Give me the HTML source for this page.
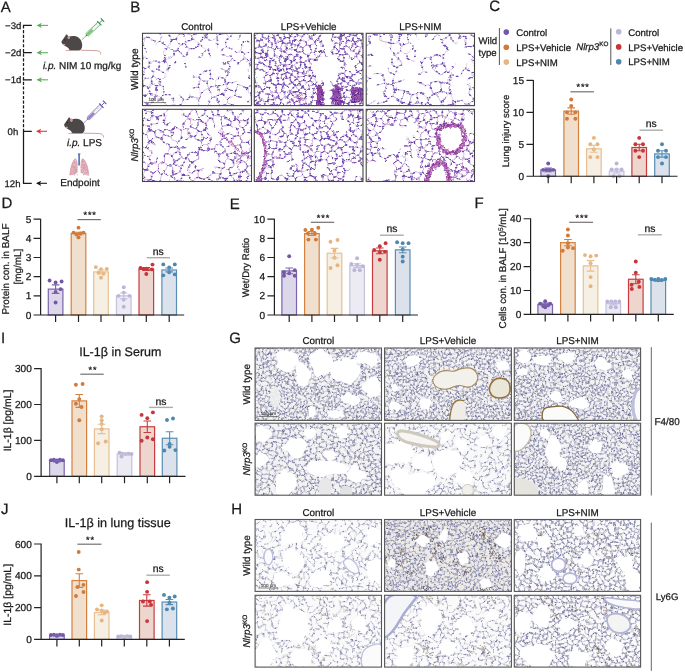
<!DOCTYPE html><html><head><meta charset="utf-8"><style>html,body{margin:0;padding:0;background:#fff;width:685px;height:672px;overflow:hidden}svg{display:block}text{stroke:#1a1a1a;stroke-width:0.25px}svg{text-rendering:geometricPrecision}</style></head><body><svg width="685" height="672" viewBox="0 0 685 672" font-family="'Liberation Sans', Arial, Helvetica, sans-serif">
<rect width="685" height="672" fill="#fff"/>
<defs><filter id="wob" x="-5%" y="-5%" width="110%" height="110%"><feTurbulence type="fractalNoise" baseFrequency="0.22" numOctaves="2" seed="3"/><feDisplacementMap in="SourceGraphic" scale="3.2" xChannelSelector="R" yChannelSelector="G"/><feGaussianBlur stdDeviation="0.3"/></filter>
<clipPath id="cb0"><rect x="142.5" y="33.3" width="109.00" height="72.30"/></clipPath>
<clipPath id="cb1"><rect x="254.3" y="33.3" width="108.70" height="72.30"/></clipPath>
<clipPath id="cb2"><rect x="366.2" y="33.3" width="108.30" height="72.30"/></clipPath>
<clipPath id="cb3"><rect x="142.5" y="109.3" width="109.00" height="72.20"/></clipPath>
<clipPath id="cb4"><rect x="254.3" y="109.3" width="108.70" height="72.20"/></clipPath>
<clipPath id="cb5"><rect x="366.2" y="109.3" width="108.30" height="72.20"/></clipPath>
<pattern id="nf" width="60" height="60" patternUnits="userSpaceOnUse"><path d="M9 67.7L9.5 64.8M4.9 67.2L5.8 63.4M9.5 64.8L7.8 62.4M5.8 63.4L7.8 62.4M-2.1 57.1L0.6 55.5M-2.1 57.1L-2.1 58.4M0.6 55.5L3.1 58.7M3.1 58.7L3.1 58.8M3.1 58.8L-0.7 60.1M3.1 58.8L3.1 62.5M3.1 62.5L1.3 63.7M-0.7 60.1L-0.9 61.9M1.3 63.7L-0.9 61.9M-4.8 60.1L-3.7 63.1M-4.8 60.1L-2.1 58.4M-0.9 61.9L-3.7 63.1M1.1 65.7L4.5 67.4M1.3 63.7L1.1 65.7M-4.4 64.7L-3.7 63.1M-4.4 64.7L0.1 66.4M3.1 62.5L5.8 63.4M2.4 53L4.3 49.8M2.4 53L6 55.1M6 55.1L7.4 53.1M7.4 53.1L5.7 49.6M5.7 49.6L4.3 49.8M-0.5 49L1.1 47.7M-0.5 49L1.1 53.2M1.2 53.3L1.1 53.2M2.3 47.8L1.1 47.7M2.3 47.8L4.3 49.8M-2.1 57.1L-3.7 55.9M1.1 53.2L-2.9 52.8M-3.7 55.9L-2.9 52.8M-0.5 49L-2.2 48.9M-0.2 44.6L1.1 47.7M-0.2 44.6L-3.8 45.2M-2.2 48.9L-3.8 45.2M4.8 58.1L7.9 61.9M4.8 58.1L6.2 56.2M6.2 56.2L9.8 57.3M9.8 57.3L9 61M9 61L7.9 61.9M3.1 58.7L4.8 58.1M7.8 62.4L7.9 61.9M10.7 56.9L11.6 53.4M10.7 56.9L9.8 57.3M10 52.5L11.6 53.4M10 52.5L7.4 53.1M46.8 23.3L48.9 22.9M46.8 23.3L45.2 20.1M49.6 18.9L49.9 19.9M49.6 18.9L46 18.6M46 18.6L45.2 20.1M49.9 19.9L48.9 22.9M-0.2 44.6L0.6 43.4M2.3 47.8L4.1 45M4.1 45L3.7 44.1M11.5 47.2L14.2 50.7M11.5 47.2L16.1 45.5M14.2 50.7L17.2 47.2M17.2 47.2L16.9 45.8M16.1 45.5L16.9 45.8M64.9 67.2L65.8 63.4M65.8 63.4L67.8 62.4M-2.2 48.9L-4.1 50.7M-4.1 51.2L-4.1 50.7M-4.1 50.7L-7.1 48.1M-7.1 48.1L-5.7 45.1M-4.6 44.7L-5.7 45.1M10.7 56.9L13.4 58.5M9 61L13 61.2M13 61.2L13.4 58.5M18.9 48.7L18.5 52.3M18.9 48.7L17.2 47.2M14.2 50.9L14.2 50.7M14.2 50.9L18.2 52.8M18.2 52.8L18.5 52.3M-7.4 59.1L-4.8 60.1M-4.4 64.7L-5.7 65.5M-5.7 65.5L-6.1 65.4M13.6 41.8L12.3 41.8M13.6 41.8L16.1 45.5M11.5 47.2L11 47M10 52.5L9.1 47.4M12.3 53.1L11.6 53.4M12.3 53.1L14.2 50.9M11 47L9.1 47.4M5.7 49.6L8.3 47.2M9.1 47.4L8.3 47.2M4.1 45L7.8 46.3M8.3 47.2L7.8 46.3M-2.5 14.1L-6.7 15.5M-2.5 14.1L-5.3 9.4M-5.3 9.4L-7.9 11M-3.7 55.9L-6.1 56.1M-4.1 51.2L-6.3 52.5M-6.3 52.5L-6.1 56.1M-6.9 56.7L-6.1 56.1M50.2 16.6L53.1 15.4M50.2 16.6L46.9 13.3M53.1 15.4L52.1 11M52.1 11L50 10.7M50 10.7L46.9 13.3M44.6 16.1L46.9 13.3M44.6 16.1L46 18.6M49.6 18.9L50.2 16.6M18.1 3.9L17.1 3.2M18.1 3.9L22.6 2.3M21.3 -1.8L22.6 2.3M44.9 39L47.5 38.1M44.9 39L43.3 38.1M47.5 38.1L45.7 34.8M43.3 38.1L43.3 35.3M45.7 34.8L43.3 35.3M44.6 42.8L44.1 42.2M44.6 42.8L46.2 43.2M46.2 43.2L48.3 42M47.5 38.1L47.6 38.1M47.6 38.1L48.3 42M49.9 19.9L54.7 20.6M54.7 20.6L55.4 20.1M55.4 20.1L53.3 15.5M54.7 9.4L57.5 14.1M54.7 9.4L52.1 11M53.3 15.5L57.5 14.1M12.3 53.1L15.9 56.3M13.4 58.5L15.8 57.3M15.9 56.3L15.8 57.3M18.2 52.8L18.2 53.4M15.9 56.3L18.2 53.4M25.8 -6.4L27.5 -5.4M27.5 -5.4L30.2 -6.6M25.8 -6.4L23.6 -5.9M7.9 1.9L4.8 -1.9M7.9 1.9L9 1M6.2 -3.8L4.8 -1.9M6.2 -3.8L9.8 -2.7M9.8 -2.7L9 1M14.2 3.5L13.9 3.9M14.2 3.5L13 1.2M9.5 4.8L13.9 3.9M9.5 4.8L7.8 2.4M7.8 2.4L7.9 1.9M13 1.2L9 1M14.5 11L11.7 8.6M16.6 8.9L13.8 6.3M11.7 8.6L13.8 6.3M18.1 3.9L18.9 6.5M17.1 3.2L14.2 3.5M13.9 3.9L13.8 6.3M16.6 8.9L18.2 8.5M18.9 6.5L18.2 8.5M41.1 41.7L44.1 42.2M40.9 38.9L40 40.4M-3.4 20.1L-4.6 20.1M-1.3 21.1L-1.2 22.6M-6.6 25L-3.1 25.6M-6.6 25L-5.3 20.6M-5.3 20.6L-4.6 20.1M-1.2 22.6L-3.1 25.6M-1.3 21.1L0.5 20.2M0.5 20.2L3.9 21.6M3.9 21.6L2 25.6M9.5 4.8L9 7.7M11.7 8.6L9.6 8.7M9.6 8.7L9 7.7M7.8 2.4L5.8 3.4M5.8 3.4L4.9 7.2M9 7.7L4.9 7.2M6.9 22.8L6.5 25.6M11.2 22.7L10.7 27.1M6.5 25.6L8.9 27.2M10.7 27.1L8.9 27.2M0.6 43.4L0 39.9M-4.6 44.7L-4.2 42.5M0 39.9L-4.2 42.5M-7.5 39.6L-6 39.9M-6 39.9L-4.2 42.5M-4.6 20.1L-6.7 15.5M-5.3 9.4L-5.2 9.2M-5.2 9.2L-5.7 5.5M-6.1 5.4L-5.7 5.5M63.1 58.7L60.6 55.5M63.1 58.7L63.1 58.8M60.6 55.5L57.9 57.1M59.3 60.1L63.1 58.8M57.9 57.1L57.9 58.4M67.9 61.9L64.8 58.1M64.8 58.1L66.2 56.2M63.1 58.7L64.8 58.1M65.8 63.4L63.1 62.5M63.1 62.5L63.1 58.8M44.6 16.1L42.1 16.5M40.5 13.3L40.9 15.7M40.5 13.3L41.2 11.7M46.9 13.3L45.6 12.1M42.1 16.5L40.9 15.7M45.6 12.1L41.2 11.7M66.9 22.8L64.8 21.4M64.8 21.4L65.5 18.2M65.5 18.2L67 16.9M61.8 17L65.5 18.2M61.8 17L63.6 13.7M63.6 13.7L64 13.5M64 13.5L66.8 15.7M64.7 11.2L64 13.5M46 27.6L47.2 32.1M46 27.6L49.7 27.5M47.2 32.1L47.6 32.1M47.6 32.1L49.9 31M49.9 31L49.7 27.5M46.8 23.3L45.6 24.4M48.9 22.9L51.6 25.6M49.7 27.5L51.6 25.6M53.4 25L54.7 20.6M53.4 25L52.5 25.6M52.5 25.6L51.6 25.6M49.9 31L52.4 31.6M52.4 31.6L52.2 34.5M49.7 35.2L52.2 34.5M46.9 32.2L47.2 32.1M46.9 32.2L45.7 34.8M49.7 35.2L48.6 37.7M52.9 48.1L55.9 50.7M52.9 48.1L54.3 45.1M55.9 50.7L57.8 48.9M57.8 48.9L56.2 45.2M54.3 45.1L55.4 44.7M65 41.3L67.9 41.6M64.5 36.5L67.4 37M65.7 49.6L67.4 53.1M66 55.1L67.4 53.1M55.9 51.2L55.9 50.7M57.1 52.8L61.1 53.2M57.8 48.9L59.5 49M59.5 49L61.1 53.2M65.7 49.6L64.3 49.8M66 55.1L62.4 53M64.3 49.8L62.4 53M57.1 52.8L56.3 55.9M57.9 57.1L56.3 55.9M61.1 53.2L61.2 53.3M60.6 43.4L59.8 44.6M59.8 44.6L61.1 47.7M63.7 44.1L64.1 45M64.1 45L62.3 47.8M61.1 47.7L62.3 47.8M56.2 45.2L59.8 44.6M60 39.9L55.8 42.5M60 39.9L60.6 43.4M55.8 42.5L55.4 44.7M60 39.9L63.2 39.1M60 39.9L60 39.9M65 41.3L63.7 44.1M59.5 49L61.1 47.7M67.8 46.3L64.1 45M64.3 49.8L62.3 47.8M54.8 9.2L54.7 9.4M54.8 9.2L54.3 5.5M50 10.7L48.7 7.1M54.3 5.5L53.9 5.4M53.9 5.4L49.6 5.7M49.6 5.7L48.7 7.1M46.4 -7.5L48.4 -4.6M45.5 -7.7L44 -5.5M44.8 -2.3L44 -5.5M44.8 -2.3L47.5 -2.2M47.5 -2.2L48.4 -4.6M48.2 2L49.2 0.3M49.2 0.3L51.5 0M58.8 22.6L56.9 25.6M62 25.6L62 25.7M58 27.3L61.3 27M58 27.3L56.9 25.6M61.3 27L62 25.7M66.9 22.8L66.5 25.6M64.8 21.4L63.9 21.6M63.9 21.6L62 25.6M66.5 25.6L65.6 26.2M62 25.7L65.6 26.2M61.4 17.1L60.5 20.2M61.4 17.1L58.2 14.8M58.2 14.8L56.6 20.1M60.5 20.2L58.7 21.1M63.9 21.6L60.5 20.2M61.8 17L61.4 17.1M59.8 12.5L63.6 13.7M59.8 12.5L58 14.2M58 14.2L58.2 14.8M55.4 20.1L56.6 20.1M58 14.2L57.5 14.1M58.8 22.6L58.7 21.1M53.4 25L56.9 25.6M37.2 42.8L36.1 42.8M37.2 42.8L38.8 45.3M36.1 42.8L33.9 45.1M33.9 45.1L36.2 47.6M36.2 47.6L38.8 45.3M41.1 41.7L40.3 45.2M37.2 42.8L39.9 40.5M40 40.4L39.9 40.5M38.8 45.3L40.3 45.2M42.9 46.4L41.6 46.5M42.9 46.4L45.3 47.9M45.3 47.9L47.3 46.9M48.3 42L50.5 42.9M50.8 43.5L50.5 42.9M50.8 43.5L48.7 47.2M47.3 46.9L48.7 47.2M52.9 48.1L50.4 49.2M48.7 47.2L50.4 49.2M26.5 60.9L22.9 62.4M26.5 60.9L28 65.1M22.9 62.4L24.1 66M28 65.1L24.1 66M15.8 57.3L17.9 59.1M18.2 53.4L22 56.9M21.3 58.2L22 57M22.6 62.3L22.9 62.4M22.6 62.3L21.3 58.2M26.7 60.5L26.5 60.9M22 57L26.4 58.5M22 -3L26.4 -1.5M27.5 -5.4L27.4 -2.7M23.6 -5.9L22 -3.1M26.4 -1.5L27.4 -2.7M31.2 -6L30.2 -6.6M31.2 -6L30.9 -2.1M-4.4 4.7L-5.7 5.5M-4.4 4.7L0.1 6.4M0.1 6.4L-0.6 9M1.3 3.7L1.1 5.7M1.3 3.7L-0.9 1.9M-4.4 4.7L-3.7 3.1M-0.9 1.9L-3.7 3.1M1.3 3.7L3.1 2.5M3.1 2.5L5.8 3.4M4.9 7.2L4.5 7.4M1.1 5.7L4.5 7.4M-3.7 3.1L-4.8 0.1M-4.8 0.1L-7.4 -0.9M-6.3 -7.5L-6.1 -3.9M-6.1 -3.9L-6.9 -3.3M22 -3.1L18.2 -6.6M11.3 13.5L12.7 16.8M11.3 13.5L14.5 11.3M14.5 11.3L16.4 13.6M13.8 17L12.7 16.8M13.8 17L16 15.2M16 15.2L16.4 13.6M27.5 14.8L30.5 15M27.5 14.8L24.9 17.9M30.5 15L29.9 18.8M24.9 17.9L25.8 20.4M35.3 14.5L33 15M35.3 14.5L37.9 17.3M33 15L34.7 20M34.7 20L37.6 18.2M40.5 13.3L36.3 13M36.3 13L35.3 14.5M40.9 15.7L37.9 17.3M46.9 32.2L42.8 31.4M43.3 35.3L42.2 34.5M42.8 31.4L42.2 34.5M39.8 35.6L40.9 38.9M42.2 34.5L40.2 35M42.8 31.4L42 30M40.2 35L37.7 30.8M37.7 30.8L42 30M45.4 27.1L42.6 28.3M42.6 28.3L42 30M3.9 21.6L4.8 21.4M4.8 21.4L6.9 22.8M2 25.6L2 25.7M6.5 25.6L5.6 26.2M5.6 26.2L2 25.7M14.5 11L14.5 11.3M11.3 13.5L9.6 12.7M9.6 8.7L9 11M9.6 12.7L9 11M4.5 36.5L7.4 37M7.4 37L8.5 41.2M5 41.3L7.9 41.6M7.9 41.6L8.5 41.2M11.1 41L11.8 36M11.8 36L9.7 35.6M9.7 35.6L7.4 37M3.7 44.1L5 41.3M0 39.9L0 39.9M0 39.9L3.2 39.1M7.8 46.3L7.9 41.6M12.3 41.8L11.1 41M55.9 51.2L53.7 52.5M56.3 55.9L53.9 56.1M53.7 52.5L53.9 56.1M50.4 -5.1L48.4 -4.6M50.4 -5.1L53.1 -3.3M51.5 0L52.6 -0.9M53.1 -3.3L52.6 -0.9M56.3 3.1L55.6 4.7M56.3 3.1L55.2 0.1M55.6 4.7L54.3 5.5M55.2 0.1L52.6 -0.9M64 9.8L60.1 10.1M64 9.8L64.5 7.4M64.5 7.4L61.1 5.7M59.4 9L60.1 10.1M59.4 9L60.1 6.4M64.7 11.2L64 9.8M55.6 4.7L60.1 6.4M34.2 -6.1L31.2 -6M30.9 -2.1L32.1 -0.6M34.5 -2.9L32.1 -0.6M60 39.9L58.2 37.3M63.9 34.8L60 34.8M53 35.4L52 38.9M56.9 37.1L55.8 35.7M56.9 37.1L54 39.9M54 39.9L52.5 39.6M52 38.9L52.5 39.6M48.6 37.7L52 38.9M52.2 34.5L53 35.4M55.8 42.5L54 39.9M58.2 37.3L56.9 37.1M50.5 42.9L52.5 39.6M61.3 27L62.1 29.5M65.6 26.2L65.1 29.1M65.1 29.1L62.1 29.5M65.1 29.1L66.9 30.8M63.9 34.8L64.2 33.7M64.2 33.7L67.1 31.6M64.2 33.7L61.8 30.5M61.8 30.5L62.1 29.5M44.8 -2.3L42.9 -0.8M44 -5.5L41.5 -5.4M41.3 -1L42.9 -0.8M41.5 -5.4L40.3 -3.3M40.4 -0.2L41.3 -1M37.4 0.5L36.4 -2.3M36.4 -2.3L38.4 -4M38.4 -4L40.3 -3.3M44.9 2.7L44.9 2.7M44.9 2.7L41.7 4.1M44.9 2.7L45.4 7.4M41.7 4.1L42 6.4M42 6.4L43.7 7.6M43.7 7.6L45.1 7.5M45.1 7.5L45.4 7.4M42.9 -0.8L44.9 2.7M48.2 2L44.9 2.7M40.8 3.5L41.7 4.1M48.7 7.1L45.4 7.4M45.6 12.1L45.1 7.5M41.2 11.7L41 11.1M41 11.1L43.7 7.6M30.9 57.9L31.2 54M27.5 54.6L27.4 57.3M27.5 54.6L30.2 53.4M30.2 53.4L31.2 54M30.9 57.9L32.1 59.4M34.2 53.9L31.2 54M34.5 57.1L32.1 59.4M29.4 65.6L29.9 65.4M29.9 65.4L32.9 66.5M29.4 65.6L28 65.1M26.7 60.5L32.1 60.9M29.9 65.4L32.1 60.9M27.4 57.3L26.4 58.5M32.1 59.4L32.1 60.9M32.1 60.9L32.1 60.9M57.9 58.4L55.2 60.1M53.9 56.1L53.1 56.7M53.1 56.7L52.6 59.1M55.2 60.1L52.6 59.1M61.1 65.7L61.3 63.7M60.1 66.4L55.6 64.7M61.3 63.7L59.1 61.9M59.1 61.9L56.3 63.1M56.3 63.1L55.6 64.7M64.5 67.4L61.1 65.7M63.1 62.5L61.3 63.7M54.3 65.5L55.6 64.7M59.3 60.1L59.1 61.9M55.2 60.1L56.3 63.1M53.9 65.4L54.3 65.5M51.5 60L52.6 59.1M25.8 53.6L23.6 54.1M25.8 53.6L26.2 49.8M23.6 54.1L22.2 51.6M22.2 51.6L23.2 48.8M27.5 54.6L25.8 53.6M22 56.9L23.6 54.1M28.3 48.9L26.2 49.8M28.3 48.9L29.9 49.8M29.9 49.8L30.2 53.4M18.5 52.3L22.2 51.6M22.8 48.1L23.2 48.8M22.8 48.1L18.9 48.7M22.6 2.3L22.9 2.4M18.9 6.5L23.8 6.6M23.8 6.6L24.1 6M24.1 6L22.9 2.4M-0.9 1.9L-0.7 0.1M-4.8 0.1L-2.1 -1.6M3.1 2.5L3.1 -1.2M-0.7 0.1L3.1 -1.2M4.8 -1.9L3.1 -1.3M3.1 -1.2L3.1 -1.3M6 -4.9L2.4 -7M3.1 -1.3L0.6 -4.5M-2.1 -1.6L-2.1 -2.9M0.6 -4.5L-2.1 -2.9M-6.1 -3.9L-3.7 -4.1M-3.7 -4.1L-2.1 -2.9M11.6 -6.6L12.3 -6.9M11.6 -6.6L10.7 -3.1M12.3 -6.9L15.9 -3.7M10.7 -3.1L13.4 -1.5M13.4 -1.5L15.8 -2.7M15.8 -2.7L15.9 -3.7M9.8 -2.7L10.7 -3.1M6 -4.9L7.4 -6.9M18.2 -6.6L15.9 -3.7M13 1.2L13.4 -1.5M17.9 -0.9L15.8 -2.7M21.3 -1.8L22 -3M31 11.5L31.1 14.5M31 11.5L28.9 9.5M28.9 9.5L24.3 10.8M27.5 14.8L24.3 11.5M24.3 11.5L24.3 10.8M18.2 8.5L19.1 9.7M23.8 6.6L24.3 10.7M16.4 13.6L18.7 12.7M19.1 9.7L18.7 12.7M10 18.6L12.7 16.8M10 18.6L10 21.7M13.8 17L15.5 19.7M11.2 22.7L15.4 22.5M15.5 19.7L15.4 22.5M18.8 16.7L21 14.4M18.8 16.7L19 18.1M19 18.1L20.2 19.2M20.2 19.2L23.3 16.9M23.3 16.9L22.1 14.4M22.1 14.4L21 14.4M16 15.2L18.8 16.7M18.7 12.7L21 14.4M15.5 19.7L19 18.1M24.9 17.9L23.3 16.9M24.3 11.5L22.1 14.4M24.3 10.7L24.3 10.8M11.8 36L12.7 35.5M7.8 32L9.7 35.6M11.3 30.8L12.7 35.5M31.1 14.5L33 15M34.7 20L34.3 20.7M34.3 20.7L34.1 20.9M39.8 35.6L37 36.5M39.9 40.5L36.1 38.2M37 36.5L36.1 38.2M25 22L25.4 21.6M25.4 21.6L29.9 23.6M25.9 27.1L25.9 27.1M25.9 27.1L30.3 25.5M29.9 23.6L30.3 25.5M25.8 20.4L25.4 21.6M31.7 20.8L29.9 23.6M7 16.9L6.8 15.7M4.8 21.4L5.5 18.2M7 16.9L5.5 18.2M-7.5 25.6L-5.8 30.2M-7.6 31.6L-6 30.6M-5.8 30.2L-6 30.6M50.4 -5.1L51.2 -8.2M36.3 13L36 10.2M36 10.2L39.4 9.6M42 6.4L39.5 7.4M39.4 9.6L39.5 7.4M37.4 0.5L35.8 2.4M34.5 -2.9L36.4 -2.3M32.1 -0.6L32.1 0.9M35.8 2.4L32.1 0.9M59.4 31.5L57.3 29M59.4 31.5L59.1 32.3M59.1 32.3L56.1 33.1M57.3 29L54.2 30.2M56.1 33.1L54 30.6M54.2 30.2L54 30.6M58 27.3L57.3 29M61.8 30.5L59.4 31.5M60 34.8L59.1 32.3M55.8 35.7L56.1 33.1M52.5 25.6L54.2 30.2M52.4 31.6L54 30.6M40.8 63.5L37.4 64.7M37.4 60.5L35.8 62.4M37.4 64.7L36.2 63.6M36.2 63.6L35.8 62.4M36.4 57.7L37.4 60.5M36.4 57.7L38.4 56M41.3 59L40.4 59.8M38.4 56L40.3 56.7M36.4 57.7L34.5 57.1M32.1 60.9L35.8 62.4M37.5 65.4L37.4 64.7M32.9 66.5L36.2 63.6M36.2 47.6L36.4 48.8M36.4 48.8L39.9 50.5M32.9 45L33.9 45.1M32.9 45L31.1 49.3M31.1 49.3L34.7 50.3M36.4 48.8L34.7 50.3M34.2 53.9L34.5 53.6M29.9 49.8L31.1 49.3M34.7 50.3L34.5 53.6M38.4 56L37.5 54M34.5 53.6L37.5 54M50.4 54.9L51.2 51.8M50.4 54.9L48.4 55.4M48.4 55.4L46.4 52.5M46.4 52.5L50.2 50.3M50.2 50.3L51.2 51.8M53.7 52.5L51.2 51.8M53.1 56.7L50.4 54.9M49.2 60.3L51.5 60M47.5 57.8L48.4 55.4M50.4 49.2L50.2 50.3M44 54.5L45.5 52.3M44 54.5L41.5 54.6M41.5 54.6L39.9 51.3M44.7 51.1L45.5 52.3M44.7 51.1L40 50.7M40 50.7L39.9 51.3M47.5 57.8L44.8 57.7M44.8 57.7L44 54.5M42.9 59.2L41.3 59M42.9 59.2L44.8 57.7M40.3 56.7L41.5 54.6M37.5 54L39.9 51.3M45.3 47.9L44.7 51.1M24.1 66L23.8 66.6M34.2 -6.1L34.5 -6.4M38.4 -4L37.5 -6M34.5 -6.4L37.5 -6M1.2 -6.7L1.1 -6.8M-3.7 -4.1L-2.9 -7.2M10.7 27.1L12.3 28.5M14.9 27.1L12.3 28.5M14.9 27.1L15.5 22.7M15.4 22.5L15.5 22.6M15.5 22.7L15.5 22.6M20.2 19.2L20.6 21.2M15.5 22.6L20.6 21.2M25 22L22 22.4M22 22.4L20.6 21.2M15 40.7L14.8 36.2M12.7 35.5L13.4 35.5M14.8 36.2L13.4 35.5M11.3 30.8L12.3 29.2M12.3 29.2L15 31.6M13.4 35.5L15 31.6M40.1 25.2L38.5 25M40.1 25.2L42.6 23.2M38.5 25L38 23.1M38 23.1L39.5 20.7M42.6 23.2L42.1 20.5M39.5 20.7L42 20.4M42.6 28.3L40.1 25.2M37.6 18.2L39.5 20.7M34.3 20.7L38 23.1M45.2 20.1L42.1 20.5M42.1 16.5L42 20.4M34.1 20.9L33.9 25M38.5 25L36.8 26.7M36.8 26.7L33.9 25M30.3 25.5L31 26M31 26L33.9 25M34.6 39.6L35.1 38.7M34.6 39.6L32.3 40.6M35.1 38.7L32.5 35.9M32.5 35.9L29.6 37.9M36.1 42.8L34.6 39.6M36.1 38.2L35.1 38.7M32.9 45L32.7 44.8M32.3 40.6L31.8 41.8M32.7 44.8L31.8 41.8M22.8 48.1L23 45.4M23 45.4L19.5 43.6M15 40.7L18.7 40.8M19.5 43.6L19.3 41.7M18.7 40.8L19.3 41.7M7.8 32L7.1 31.6M3.9 34.8L4.2 33.7M4.2 33.7L7.1 31.6M8.9 27.2L6.9 30.8M12.3 28.5L12.3 29.2M5.6 26.2L5.1 29.1M6.9 30.8L5.1 29.1M6.8 15.7L4 13.5M4 13.5L4.7 11.2M-0.6 9L0.1 10.1M4.5 7.4L4 9.8M4 9.8L0.1 10.1M4 9.8L4.7 11.2M0 34.8L-0.9 32.3M-0.9 32.3L-3.9 33.1M-3.9 33.1L-4.2 35.7M-4.2 35.7L-3.1 37.1M-3.1 37.1L-1.8 37.3M0 39.9L-1.8 37.3M3.9 34.8L0 34.8M-6 30.6L-3.9 33.1M-6 39.9L-3.1 37.1M-0.6 31.5L-2.7 29M-0.6 31.5L1.8 30.5M2.1 29.5L1.8 30.5M2.1 29.5L1.3 27M1.3 27L-2 27.3M-2 27.3L-2.7 29M-5.8 30.2L-2.7 29M-0.9 32.3L-0.6 31.5M4.2 33.7L1.8 30.5M5.1 29.1L2.1 29.5M2 25.7L1.3 27M-3.1 25.6L-2 27.3M64.5 7.4L64.9 7.2M53.1 -3.3L53.9 -3.9M53.7 -7.5L53.9 -3.9M36.2 3.6L32.9 6.5M36.2 3.6L37.4 4.7M37.4 4.7L37.5 5.4M32.9 6.5L34.2 9.2M34.2 9.2L35.1 9.4M40.8 3.5L37.4 4.7M35.8 2.4L36.2 3.6M39.5 7.4L37.5 5.4M36 10.2L35.1 9.4M31 11.5L34.2 9.2M32.1 0.9L29.9 5.4M32.1 0.9L26.7 0.5M26.7 0.5L26.5 0.9M26.5 0.9L28 5.1M28 5.1L29.4 5.6M29.4 5.6L29.9 5.4M32.1 0.9L32.1 0.9M32.9 6.5L29.9 5.4M22.9 2.4L26.5 0.9M24.1 6L28 5.1M28.9 9.5L29.4 5.6M42.9 59.2L44.9 62.7M40.8 63.5L41.7 64.1M41.7 64.1L44.9 62.7M37.5 65.4L39.5 67.4M41.7 64.1L42 66.4M14.8 36.2L15.8 36.1M18.7 40.8L19 38.7M15.8 36.1L19 38.7M15.8 36.1L18.9 33.3M19 38.7L20.6 37.3M20.6 37.3L20.1 34M20.1 34L18.9 33.3M37.3 30.7L36.5 29.3M37.3 30.7L35.5 33.2M36.5 29.3L31.6 29.3M35.5 33.2L32.7 33.9M32.7 33.9L29.9 31.6M37.7 30.8L37.3 30.7M36.8 26.7L36.5 29.3M37 36.5L35.5 33.2M31 26L31.6 29.3M32.5 35.9L32.7 33.9M28.3 31.9L26.9 31.1M26.9 31.1L25.9 27.1M32.7 44.8L28.6 45.3M31.8 41.8L28.6 42.1M28.6 42.1L28.6 45.3M28.3 48.9L28.1 45.8M23 45.4L24.1 44.6M24.1 44.6L28.1 45.8M3.6 13.7L-0.2 12.5M3.6 13.7L1.8 17M1.4 17.1L1.8 17M1.4 17.1L-1.8 14.8M-0.2 12.5L-2 14.2M-2 14.2L-1.8 14.8M4 13.5L3.6 13.7M5.5 18.2L1.8 17M0.5 20.2L1.4 17.1M-3.4 20.1L-1.8 14.8M-2.5 14.1L-2 14.2M45.4 67.4L44.9 62.7M49.6 65.7L48.7 67.1M48.2 62L44.9 62.7M44.9 62.7L44.9 62.7M53.9 65.4L49.6 65.7M49.2 60.3L48.2 62M18.9 66.5L18.1 63.9M17.1 63.2L14.2 63.5M17.1 63.2L18.1 63.9M13.8 66.3L13.9 63.9M13.9 63.9L14.2 63.5M23.8 66.6L18.9 66.5M22.6 62.3L18.1 63.9M13 61.2L14.2 63.5M9.5 64.8L13.9 63.9M21.3 29.4L18.4 31.3M21.3 29.4L21.8 27.5M17 28.2L18 31.1M20.5 25.9L19.8 25.9M18 31.1L18.4 31.3M22.9 33.5L20.1 34M22.9 33.5L24 31.9M24 31.9L21.3 29.4M18.9 33.3L18.4 31.3M26.9 31.1L24 31.9M25.9 27.1L21.8 27.5M14.9 27.1L17 28.2M15 31.6L18 31.1M15.5 22.7L19.8 25.9M24 39.9L25.1 41.2M25.1 41.2L27.3 40.9M27.3 40.9L29 37.8M27.4 35.8L29 37.8M27.4 35.8L24.5 36.7M24.5 36.7L23.6 38M19.3 41.7L24 39.9M20.6 37.3L23.6 38M24.1 44.6L25.1 41.2M28.6 42.1L27.3 40.9M29.6 37.9L29 37.8M28.3 31.9L27.4 35.8M53.9 -3.9L56.3 -4.1M56.3 -4.1L57.1 -7.2M55.2 0.1L57.9 -1.6M57.9 -1.6L57.9 -2.9M56.3 -4.1L57.9 -2.9M56.3 3.1L59.1 1.9M61.1 5.7L61.3 3.7M59.1 1.9L61.3 3.7M59.1 1.9L59.3 0.1M57.9 -2.9L60.6 -4.5M61.1 -6.8L61.2 -6.7M63.1 2.5L63.1 -1.2M63.1 2.5L65.8 3.4M65.8 3.4L67.8 2.4M64.8 -1.9L63.1 -1.3M64.8 -1.9L67.9 1.9M63.1 -1.3L63.1 -1.2M59.3 0.1L63.1 -1.2M61.3 3.7L63.1 2.5M64.9 7.2L65.8 3.4M66.2 -3.8L64.8 -1.9M60.6 -4.5L63.1 -1.3M62.4 -7L66 -4.9M66 -4.9L67.4 -6.9" stroke="#d8d6dc" stroke-width="1.4" fill="none" stroke-linecap="round"/><path d="M2.6 58.1h0.01M2.5 52.1h0.01M2.2 48.1h0.01M3.8 50.1h0.01M2.2 47.6h0.01M0.6 47.8h0.01M60.6 47.8h0.01M5.7 56.3h0.01M9.3 0.4h0.01M9.3 60.4h0.01M4.6 57.9h0.01M11 55.9h0.01M10 57.1h0.01M47.3 23.2h0.01M46 22.2h0.01M49.5 19.9h0.01M48 18.8h0.01M46.8 18.7h0.01M45.1 19.8h0.01M50.1 20.7h0.01M48.9 22.1h0.01M3.5 46.6h0.01M2.7 47.4h0.01M11.7 47.8h0.01M13.4 49.5h0.01M14.2 46.2h0.01M16 49h0.01M17.4 46.8h0.01M13 57.8h0.01M13.4 -0.4h0.01M13.4 59.6h0.01M14.9 43.6h0.01M10.9 47.4h0.01M9.4 49h0.01M9.3 50.6h0.01M10.2 47.4h0.01M6.7 48.5h0.01M6.4 48.4h0.01M8.3 46.9h0.01M50.9 16.7h0.01M52.6 15.4h0.01M48.4 14.3h0.01M50 16.7h0.01M18.2 3.2h0.01M19.7 3.4h0.01M21.5 -0.5h0.01M21.5 59.5h0.01M21.4 -0.6h0.01M21.4 59.4h0.01M47.5 38.3h0.01M43.3 35.8h0.01M44.5 35.1h0.01M43.5 35.3h0.01M45.5 43.2h0.01M47.5 39.6h0.01M47.7 38.2h0.01M53.7 20.5h0.01M52.2 20.3h0.01M55.5 19.7h0.01M54.7 19.1h0.01M54.4 18.4h0.01M55.1 10.1h0.01M57.1 14.4h0.01M13 53.5h0.01M15.9 57.1h0.01M7.4 1.2h0.01M8.4 3.1h0.01M9 4h0.01M10.9 1.1h0.01M10.5 0.8h0.01M10.5 60.8h0.01M13.4 9.9h0.01M18.5 5.3h0.01M14 4.1h0.01M13.9 3.8h0.01M42.3 42.1h0.01M41 42.1h0.01M1 20.6h0.01M61 20.6h0.01M8.8 6.3h0.01M7.5 7.8h0.01M6.9 25.6h0.01M-0.4 56.5h0.01M59.6 56.5h0.01M43.1 16.2h0.01M40.9 13.6h0.01M40.7 14.7h0.01M47.6 32.1h0.01M50.2 29.1h0.01M48.7 23h0.01M51.6 25.6h0.01M50.8 26h0.01M54.1 23.2h0.01M52.3 26h0.01M52.8 32.9h0.01M51.9 35h0.01M47 32.9h0.01M53.4 48.3h0.01M53.5 46.9h0.01M54.8 44.7h0.01M58.1 48.5h0.01M56.7 55.4h0.01M57.4 56.9h0.01M57.3 45.4h0.01M54.5 7.5h0.01M54.2 5.2h0.01M54.2 6h0.01M51.9 5.9h0.01M51.6 0.4h0.01M51.6 60.4h0.01M58.2 24.3h0.01M57.2 25.2h0.01M58.6 15.1h0.01M57.7 14.7h0.01M58.3 13.2h0.01M58.3 13.9h0.01M58.4 13.9h0.01M54.1 24.6h0.01M35.2 44.3h0.01M35.3 46.3h0.01M35.1 45.9h0.01M37.3 46h0.01M40.2 44.7h0.01M42.2 46.1h0.01M45.7 47.9h0.01M49 42.5h0.01M17.2 -1h0.01M17.2 59h0.01M23.5 57.9h0.01M1.2 4.2h0.01M1.1 3.4h0.01M-0.3 3h0.01M59.7 3h0.01M5.4 3.1h0.01M1 5.8h0.01M61 5.8h0.01M14.2 11.9h0.01M16.4 12.8h0.01M16.4 13.5h0.01M29.2 14.5h0.01M35.6 14.7h0.01M34.6 19h0.01M33.6 16.1h0.01M37 18.2h0.01M37.5 13h0.01M38.2 13.3h0.01M38.6 16.3h0.01M40 16.5h0.01M45.8 32h0.01M40.7 37.2h0.01M38.8 32.4h0.01M37.8 31.1h0.01M43.8 27.7h0.01M44 27.2h0.01M6.6 22.5h0.01M3.8 26.3h0.01M3.4 26h0.01M14.4 11h0.01M8.8 11.4h0.01M6.8 37h0.01M11.1 40.4h0.01M4.7 41.8h0.01M4.1 42.3h0.01M1.4 39.5h0.01M0.6 39.3h0.01M60.6 39.3h0.01M54.1 56.4h0.01M56.6 55.9h0.01M53.3 53.7h0.01M56.4 3.6h0.01M55.9 1.2h0.01M0 8.5h0.01M60 8.5h0.01M0.5 6.7h0.01M60.5 6.7h0.01M58.7 38.8h0.01M53.6 40.1h0.01M51.9 39.1h0.01M50.8 41.6h0.01M44.9 3.2h0.01M44.6 4h0.01M41.9 9.5h0.01M30.9 54.5h0.01M29.4 54.2h0.01M28.4 54.4h0.01M31.3 54.2h0.01M52.6 58.7h0.01M52.8 -1h0.01M52.8 59h0.01M51.9 -0.8h0.01M51.9 59.2h0.01M25.7 52.8h0.01M22.5 51.5h0.01M22.8 55.9h0.01M27.8 48.5h0.01M28.6 49.4h0.01M29.9 53h0.01M19.3 52.7h0.01M23 48.9h0.01M19.3 48.5h0.01M18.8 48.4h0.01M20.3 6.9h0.01M23.2 4.2h0.01M23.7 5.6h0.01M23.3 5.1h0.01M3.5 1.9h0.01M31.1 12.4h0.01M29.7 10.4h0.01M18.8 8.3h0.01M24.1 10.3h0.01M18.7 12.2h0.01M10.5 20.2h0.01M10 19.5h0.01M15.2 22.6h0.01M19.9 15.5h0.01M21.8 18.3h0.01M22.6 14.5h0.01M23.3 16.5h0.01M18.4 18.5h0.01M18.2 18.3h0.01M24.8 18h0.01M24.1 11.7h0.01M9.1 35.5h0.01M9.4 35.7h0.01M11.7 33.2h0.01M11.7 32.7h0.01M31.9 14.6h0.01M34.3 20h0.01M38.6 36.3h0.01M29.6 25.8h0.01M30.1 24.4h0.01M5.5 17.6h0.01M36.1 11.3h0.01M38.8 9.2h0.01M32.9 1.2h0.01M58.8 33h0.01M56.8 29.8h0.01M55.6 29.2h0.01M58 28h0.01M0 33.5h0.01M60 33.5h0.01M56.5 34h0.01M53.3 28.2h0.01M53.8 28h0.01M53.9 31.2h0.01M37.3 -0.2h0.01M37.3 59.8h0.01M36.9 -0.1h0.01M36.9 59.9h0.01M37.9 56.4h0.01M38.7 55.7h0.01M39.7 50.1h0.01M34.5 50h0.01M37.3 53.5h0.01M49 55.1h0.01M47.7 51.4h0.01M51.8 56.1h0.01M48.3 55.2h0.01M44.3 53h0.01M45.4 52.1h0.01M44.6 58.1h0.01M46.7 57.4h0.01M41.3 -0.8h0.01M41.3 59.2h0.01M39.9 51.6h0.01M44.5 51.1h0.01M45.4 48.6h0.01M12 28.3h0.01M15.1 25h0.01M21.4 22.5h0.01M14.8 39h0.01M14.8 36h0.01M11.7 30.1h0.01M15.2 31.9h0.01M42.3 23.1h0.01M38.1 22.6h0.01M39.8 20.5h0.01M41.5 26.8h0.01M42.4 28.1h0.01M42.9 20.8h0.01M32.1 25.8h0.01M30.1 36.9h0.01M36.1 42.6h0.01M32.3 44h0.01M22.4 44.9h0.01M21.4 44.8h0.01M6.1 32.1h0.01M7.4 29.9h0.01M-0.8 31.7h0.01M59.2 31.7h0.01M1.9 28.5h0.01M4.3 33.5h0.01M34.1 5.7h0.01M36.5 4h0.01M39.5 7.1h0.01M32 1.3h0.01M28.4 1h0.01M23.2 2h0.01M24.1 2.1h0.01M18.8 39.3h0.01M17.1 34.8h0.01M16.2 35.7h0.01M37.4 30.3h0.01M36.4 32.8h0.01M32.2 33.4h0.01M30.6 32.3h0.01M37.7 30.4h0.01M27.4 31.4h0.01M26.6 29.6h0.01M30.2 45.5h0.01M29.6 42.2h0.01M28.1 48.7h0.01M24.6 44.9h0.01M1.3 12.6h0.01M2.7 14.7h0.01M3.1 17.3h0.01M5.1 17.5h0.01M1 18.3h0.01M61 18.3h0.01M21.3 30.1h0.01M19.4 30.3h0.01M19.2 30.7h0.01M21.9 29.5h0.01M22.6 27.6h0.01M24.6 27.3h0.01M15.7 31.3h0.01M16.3 23h0.01M29 38.8h0.01M25.9 35.8h0.01M22.5 38h0.01M24.3 44h0.01M27.9 33h0.01M56.7 2.8h0.01" stroke="#686b96" stroke-width="1.3" stroke-linecap="round" fill="none"/><path d="M0.7 56.4h0.01M60.7 56.4h0.01M-0.2 -0.2h0.01M-0.2 59.8h0.01M59.8 -0.2h0.01M59.8 59.8h0.01M1.6 -0.2h0.01M1.6 59.8h0.01M6 55.2h0.01M4.1 53.7h0.01M6.7 54.1h0.01M7.1 53.9h0.01M6.3 50.3h0.01M0.4 48.5h0.01M60.4 48.5h0.01M1.1 52.5h0.01M8.6 57h0.01M9.4 0.5h0.01M9.4 60.5h0.01M11.4 54h0.01M7.2 53h0.01M46.2 23.2h0.01M-0.1 43.7h0.01M59.9 43.7h0.01M11.9 47.5h0.01M14.9 45.8h0.01M12 46.9h0.01M15.1 45.9h0.01M14.8 49.7h0.01M16.3 48.3h0.01M17 45.2h0.01M11.7 57.8h0.01M17.6 47.2h0.01M12.2 41.8h0.01M14.7 43.6h0.01M11.7 53.5h0.01M13.4 51.7h0.01M8.8 47.7h0.01M4.8 45.4h0.01M50.1 16.1h0.01M49.3 15.8h0.01M52.8 13.9h0.01M50.2 11h0.01M48 12.7h0.01M45.1 17.5h0.01M22.6 2.7h0.01M44.7 38.7h0.01M45.5 34.5h0.01M43.3 36.9h0.01M44.7 42h0.01M47.5 40.6h0.01M55.8 11.9h0.01M13.8 54.3h0.01M14.6 57.9h0.01M15.2 57.3h0.01M16.7 56.2h0.01M7.3 1.3h0.01M7.6 1.8h0.01M8 2h0.01M14.1 2.7h0.01M9.8 4.8h0.01M9.3 1.1h0.01M12.7 9.4h0.01M12 7.9h0.01M2.4 20.9h0.01M2.4 25.6h0.01M2.8 24.6h0.01M9.6 8.7h0.01M5 7.1h0.01M7.5 8h0.01M10.3 27.2h0.01M8.2 26.8h0.01M9.4 27.1h0.01M9.6 27.7h0.01M-0.1 56.2h0.01M59.9 56.2h0.01M58.4 57.8h0.01M44.9 16h0.01M40.1 12.7h0.01M42.1 11.6h0.01M43.3 11.8h0.01M46.2 28.4h0.01M47 27.3h0.01M48.2 27.2h0.01M50 29.6h0.01M46.1 23.6h0.01M52.6 32.8h0.01M52.1 34.5h0.01M53.3 47h0.01M56.5 50.1h0.01M58.3 52.7h0.01M57.1 52.5h0.01M56.5 56.2h0.01M58.1 41.1h0.01M58.2 41.1h0.01M55.5 42.7h0.01M48.5 7.1h0.01M51.4 5.1h0.01M48.8 6.6h0.01M49.6 0h0.01M49.6 60h0.01M-0.1 27.3h0.01M59.9 27.3h0.01M56.7 18.1h0.01M58.5 21h0.01M56.4 25.6h0.01M36 42.9h0.01M37 46.5h0.01M38.1 42.4h0.01M47.5 47.4h0.01M48.3 42.1h0.01M50.3 43h0.01M49.3 46h0.01M51.3 48.8h0.01M17.2 58.9h0.01M19.4 54h0.01M25.4 58.3h0.01M26.7 58h0.01M1.6 4.6h0.01M3.4 6.8h0.01M14.1 16.9h0.01M25 17.8h0.01M34.8 15h0.01M35.9 15h0.01M36.9 18.7h0.01M38 13.6h0.01M43.1 31.3h0.01M43 34.9h0.01M43 32.3h0.01M38.1 30.8h0.01M6.4 26.3h0.01M10.1 13.1h0.01M9.4 11.1h0.01M9.5 12.6h0.01M6.9 37h0.01M11 40.6h0.01M8.1 43.1h0.01M8 44.3h0.01M54.7 51.9h0.01M54.8 0.6h0.01M54.8 60.6h0.01M-0.6 8.2h0.01M59.4 8.2h0.01M56 4.7h0.01M52.9 36.2h0.01M55.6 35.2h0.01M55.2 38.6h0.01M54 40.4h0.01M45.3 6.4h0.01M41.4 5.2h0.01M43.1 7.3h0.01M44.9 2.3h0.01M45.7 7.2h0.01M41.3 11h0.01M43.7 8.3h0.01M30.7 54.7h0.01M27.7 57.2h0.01M29.8 53.2h0.01M33.8 58h0.01M56.2 -0.4h0.01M56.2 59.6h0.01M57.8 -1h0.01M57.8 59h0.01M25.1 53.6h0.01M23.3 52.8h0.01M23.2 49.6h0.01M26.1 54.4h0.01M19.5 52.1h0.01M21.3 6.3h0.01M29.9 11.2h0.01M26.9 10.4h0.01M24.6 12h0.01M24.5 12.1h0.01M19.1 11.4h0.01M10.5 17.6h0.01M14.3 23h0.01M20.6 14.8h0.01M19.3 17.3h0.01M19.8 18.1h0.01M21.9 17.9h0.01M20.1 13.4h0.01M20.5 14.2h0.01M23.8 11.9h0.01M12.8 35.1h0.01M33.4 14.5h0.01M37.3 36.4h0.01M36.4 37.9h0.01M36.2 38.2h0.01M27.8 22.9h0.01M26.8 21.8h0.01M27.5 26.4h0.01M5.6 19.4h0.01M5.5 18.9h0.01M36.6 11.6h0.01M39.4 7.9h0.01M39.8 8.1h0.01M37.2 1.2h0.01M34.7 1.9h0.01M58.2 29.5h0.01M58.8 32.4h0.01M54.8 32.3h0.01M55.5 31.8h0.01M40.5 -0.1h0.01M40.5 59.9h0.01M36 48.1h0.01M38.4 49.6h0.01M33.4 44.6h0.01M32.5 46.8h0.01M32.9 49.5h0.01M32.5 49.7h0.01M30.3 50h0.01M35 51.3h0.01M38.2 54.4h0.01M36.3 53.6h0.01M51.1 52.7h0.01M50.7 53.4h0.01M48.1 55.2h0.01M46.5 51.9h0.01M50.3 50.1h0.01M45 53.8h0.01M42.6 54.2h0.01M42.3 54.9h0.01M41.6 54.7h0.01M40.5 52.5h0.01M44.8 51.3h0.01M43.1 58.9h0.01M13.9 28h0.01M14.1 28h0.01M15.1 24.6h0.01M16.1 22.5h0.01M20 21.4h0.01M20.7 21.2h0.01M14.8 38.4h0.01M13.8 30.2h0.01M40.2 24.9h0.01M38.4 24.3h0.01M42.3 21.4h0.01M41.3 25.9h0.01M39.1 20h0.01M39.7 20.5h0.01M37.6 22.3h0.01M36.7 22.9h0.01M43.9 20.7h0.01M42.3 16.9h0.01M42.4 18.6h0.01M37.3 26.5h0.01M36.2 25.9h0.01M34.3 25.5h0.01M31.2 25.9h0.01M34.7 39.6h0.01M34.2 38h0.01M33.5 36.6h0.01M30.3 37.5h0.01M34.8 40.7h0.01M31.5 41.2h0.01M33 44.9h0.01M22.9 47.6h0.01M23.1 46.1h0.01M19 40.9h0.01M7.8 29.8h0.01M5.5 27.9h0.01M4.7 14.3h0.01M6.3 14.8h0.01M3.7 13.8h0.01M3.8 9.5h0.01M1.3 34.5h0.01M0.1 31.4h0.01M60.1 31.4h0.01M1.5 29h0.01M4.6 33.2h0.01M2.1 31h0.01M3 29.5h0.01M1 26.3h0.01M35.1 4.8h0.01M37.8 5.5h0.01M30.8 11.8h0.01M31.5 10.8h0.01M32.1 1.4h0.01M30 4.5h0.01M29.9 0.9h0.01M29.9 60.9h0.01M27.3 2.7h0.01M33.2 6.9h0.01M32.3 6.3h0.01M25.5 1.7h0.01M27.6 5.5h0.01M27.1 5.3h0.01M26.3 5h0.01M28.8 6.1h0.01M18.3 37.5h0.01M19.3 38h0.01M20.2 33.8h0.01M19.2 33.2h0.01M37 31.4h0.01M33.3 28.8h0.01M35.2 29.7h0.01M36.7 29.7h0.01M34.9 33.6h0.01M36.4 26.7h0.01M35.7 34.7h0.01M31.7 27.6h0.01M30.7 45.3h0.01M29.9 45.3h0.01M32 42.2h0.01M28.7 43.5h0.01M28.6 44.3h0.01M3.6 13.6h0.01M21.3 28.5h0.01M17.1 29.1h0.01M20.6 34.2h0.01M21.3 34h0.01M23.4 33.1h0.01M18.2 33h0.01M27 31h0.01M16.3 28h0.01M25.9 41.6h0.01M26.2 41.4h0.01M28.1 40.1h0.01M27.8 36.7h0.01M23.7 37.6h0.01M21.4 40.9h0.01M28.1 42h0.01M57.6 2.4h0.01M-0.3 0.7h0.01M-0.3 60.7h0.01M59.7 0.7h0.01M59.7 60.7h0.01" stroke="#8487ad" stroke-width="1.3" stroke-linecap="round" fill="none"/><path d="M2.6 57.7h0.01M1.1 -0.7h0.01M1.1 59.3h0.01M2.7 53h0.01M6 55h0.01M6.7 51.9h0.01M6.8 52h0.01M4.6 49.8h0.01M1 51.8h0.01M-0.3 49h0.01M59.7 49h0.01M-0.1 46.2h0.01M59.9 46.2h0.01M6.2 56.3h0.01M10.3 52.6h0.01M9.5 52.9h0.01M47 22.9h0.01M18.5 51.8h0.01M18.6 51.6h0.01M18.1 52.6h0.01M15.7 51.7h0.01M15.2 51.2h0.01M15.2 45.3h0.01M10.1 50.8h0.01M13.9 51.7h0.01M4.7 44.9h0.01M52.4 13.9h0.01M49.2 10.8h0.01M46.4 14.2h0.01M47 13.7h0.01M46.1 17.7h0.01M18 4.2h0.01M21.5 -0.7h0.01M21.5 59.3h0.01M45.8 35.6h0.01M46.7 42.6h0.01M53 20.2h0.01M55.5 20.2h0.01M55.5 10.6h0.01M53.3 10.5h0.01M54.2 9.8h0.01M56.7 14.2h0.01M55.3 15.2h0.01M14.6 55.8h0.01M16.9 55.3h0.01M14.7 3h0.01M11.8 4.2h0.01M16.4 9.1h0.01M14.1 6h0.01M13.1 7.5h0.01M17.9 4.1h0.01M16.5 3.5h0.01M17 9.2h0.01M18.3 8h0.01M40.1 40h0.01M4.2 22.1h0.01M9.8 9h0.01M5.9 2.8h0.01M5.1 7.3h0.01M9.1 8.2h0.01M6.5 23.7h0.01M11.1 25h0.01M11 24.9h0.01M7.5 26.7h0.01M0.2 40.4h0.01M60.2 40.4h0.01M0 42.4h0.01M60 42.4h0.01M45.5 12.4h0.01M41.3 15.9h0.01M46.9 31.7h0.01M49.1 27.7h0.01M50.1 31.2h0.01M51.4 25h0.01M54.2 24h0.01M54.3 21.1h0.01M50.4 31.5h0.01M46.5 31.9h0.01M49.4 36.4h0.01M55.6 50.9h0.01M56.5 50.7h0.01M57.3 46.5h0.01M56.3 46.4h0.01M57.2 45.4h0.01M55.5 43.7h0.01M55.2 43.1h0.01M49.8 10.4h0.01M51.3 6.1h0.01M48.5 2.2h0.01M58 23h0.01M58.2 27h0.01M-0.9 15.7h0.01M59.1 15.7h0.01M-0.4 15.6h0.01M59.6 15.6h0.01M57.6 15.3h0.01M58.2 15.6h0.01M0.2 19.9h0.01M60.2 19.9h0.01M56 20.3h0.01M38.8 44.9h0.01M38.2 43.8h0.01M34.3 44.3h0.01M40.5 42.4h0.01M39.3 41.6h0.01M39.8 45h0.01M43.8 46.4h0.01M45.6 48h0.01M50.4 44.3h0.01M49 46.4h0.01M48.8 46.9h0.01M51.6 48.4h0.01M50.3 49.2h0.01M20 55.6h0.01M20.2 55.3h0.01M22.2 57.1h0.01M21.3 57.7h0.01M2.6 2.8h0.01M4.4 2.8h0.01M4.8 6.7h0.01M12.3 16.4h0.01M11.9 14.1h0.01M12.5 12.7h0.01M14.8 16.1h0.01M16.1 14.8h0.01M29.2 15h0.01M25.7 16.3h0.01M26.2 16.5h0.01M30.2 17h0.01M30.7 15.3h0.01M25.2 18.4h0.01M36.1 15.1h0.01M34 16.8h0.01M36.2 13.6h0.01M37.8 17h0.01M42 32.7h0.01M39.8 36.3h0.01M41 34.9h0.01M40.4 34.9h0.01M42.2 31.2h0.01M39.7 33.6h0.01M37.7 30.9h0.01M41.2 30.2h0.01M42.8 28.6h0.01M5.3 21.1h0.01M8.2 38.7h0.01M7.8 38.3h0.01M8.2 38.8h0.01M7.4 41.2h0.01M11.5 38.6h0.01M11.1 35.6h0.01M9.2 35.9h0.01M0.9 39.6h0.01M60.9 39.6h0.01M8.4 42.7h0.01M12.2 42.2h0.01M53.9 53.6h0.01M55 5.5h0.01M55.9 4.8h0.01M-0.2 39.4h0.01M59.8 39.4h0.01M52.9 35.4h0.01M57 37.4h0.01M51.4 38.3h0.01M50.7 38.8h0.01M52.7 35.4h0.01M55.8 41.9h0.01M51.6 40.9h0.01M43.6 3h0.01M44.8 3.6h0.01M41.5 4.9h0.01M44.2 7.2h0.01M43.2 -0.1h0.01M43.2 59.9h0.01M44.4 2.4h0.01M45.1 3.1h0.01M48.1 2h0.01M40.4 3.6h0.01M47.9 7.2h0.01M45.5 9.4h0.01M45.4 8.4h0.01M41.5 10.3h0.01M27.7 55.3h0.01M31.2 58.1h0.01M34.2 57.7h0.01M26.1 58h0.01M53.5 56.8h0.01M53.1 58.7h0.01M26.3 50.5h0.01M23.4 53.9h0.01M22.6 56.4h0.01M30.2 52.6h0.01M23.5 6.3h0.01M3.4 1h0.01M3.4 61h0.01M30.7 14h0.01M28 10.1h0.01M24.5 10.9h0.01M24.5 12.2h0.01M24 10.9h0.01M23.9 8.6h0.01M17.8 12.9h0.01M17.1 13.7h0.01M11.1 17.5h0.01M14.7 18.8h0.01M15.2 19h0.01M11.8 22.6h0.01M13.1 22.3h0.01M16.5 15.3h0.01M17.4 16.4h0.01M16 19.7h0.01M36.4 38h0.01M26.6 22.4h0.01M30.1 25.3h0.01M25.3 21.4h0.01M31.2 22h0.01M30.7 22.1h0.01M36.7 10.5h0.01M31.9 1h0.01M35.2 2.7h0.01M-1 31.6h0.01M59 31.6h0.01M58.9 32.6h0.01M53.2 27h0.01M37.3 57.3h0.01M39.5 55.9h0.01M36.2 57.7h0.01M31.6 48.5h0.01M32.2 47h0.01M33.9 49.5h0.01M35.6 50.2h0.01M34.5 51.8h0.01M37.9 55.7h0.01M47.1 53.9h0.01M49.1 50.6h0.01M52.7 52.7h0.01M52.5 56.9h0.01M44.5 51.4h0.01M43.9 50.5h0.01M44.2 56h0.01M44.6 54.5h0.01M42.8 -0.6h0.01M42.8 59.4h0.01M40.7 55.7h0.01M41 55.5h0.01M38.6 52.6h0.01M14.8 24.7h0.01M20.6 19h0.01M19.8 21.5h0.01M22.4 22.2h0.01M23.7 22.3h0.01M15.1 39.1h0.01M14.3 30.4h0.01M12.9 35.1h0.01M38.6 25.5h0.01M36.1 22.5h0.01M33.7 22.7h0.01M34.2 21.3h0.01M35 38.3h0.01M35.3 38.1h0.01M17.5 41.1h0.01M19.8 43.7h0.01M4.4 34.4h0.01M5.4 32.7h0.01M4.7 28.9h0.01M6.8 29.8h0.01M3.9 13.2h0.01M4 8.2h0.01M3.2 10.2h0.01M3.3 9.5h0.01M1.6 34.8h0.01M3.6 35h0.01M4.6 29.4h0.01M33.6 8.3h0.01M33.5 7.5h0.01M39.9 4.3h0.01M39.7 3.8h0.01M27.8 1h0.01M26.8 1.2h0.01M29.1 5h0.01M29.4 8h0.01M16.3 36.3h0.01M17.6 34.9h0.01M20.4 36.5h0.01M33.7 33.8h0.01M36.7 27.2h0.01M36.4 34.9h0.01M31.2 29.3h0.01M32.4 33.6h0.01M26.2 29.7h0.01M27.7 45.9h0.01M24.1 44.3h0.01M26.2 44.9h0.01M0.3 13.1h0.01M60.3 13.1h0.01M1.1 19.9h0.01M18.3 31h0.01M23.3 31.5h0.01M17 31.6h0.01M20 25.6h0.01M16.2 22.9h0.01M24.2 40.2h0.01M25 36.1h0.01M19.4 41.6h0.01M22.1 40.6h0.01M22.6 37.8h0.01M24.1 43.5h0.01M27.2 35.6h0.01" stroke="#a6a8c2" stroke-width="1.3" stroke-linecap="round" fill="none"/></pattern>
<pattern id="nm" width="64" height="64" patternUnits="userSpaceOnUse"><path d="M33.3 73L33.9 72.2M39.2 72.9L33.9 72.2M5 21.5L4.8 22.1M5 21.5L1.6 17.7M4.8 22.1L0.5 23.2M1.6 17.7L0.2 18.2M0.2 18.2L-0.8 21.3M-0.8 21.3L0.5 23.2M12.6 23.5L10.7 20.1M12.6 23.5L12.4 24.7M12.4 24.7L6.3 25.8M10.7 20.1L7.4 19.6M7.4 19.6L5 21.5M6.3 25.8L4.8 22.1M6.4 15.6L7.4 19.6M6.4 15.6L2.5 16.1M2.5 16.1L1.6 17.7M6.3 25.8L5.3 27.8M5.3 27.8L-0.4 26.7M-0.4 26.7L0.5 23.2M24.9 26.9L20.3 25.2M20.3 25.2L20.4 22.9M20.4 22.9L23.6 21.4M23.6 21.4L26.1 22.7M17.8 20.2L20.4 22.9M17.8 20.2L12.6 23.5M18.3 27.6L12.7 25.2M18.3 27.6L20.3 25.2M12.7 25.2L12.4 24.7M17.9 19.2L17.8 20.2M17.9 19.2L22 16.7M22 16.7L23.8 17.9M23.8 17.9L23.6 21.4M25.5 28.1L31.1 25.9M25.5 28.1L24.9 26.9M26.1 22.7L28.5 21.9M28.5 21.9L31.1 25.9M37.7 51L36.9 52.3M37.7 51L35.9 44.9M36.9 52.3L31.6 51.4M35.9 44.9L35.2 44.4M31.6 51.4L32.5 45.5M35.2 44.4L32.5 45.5M26.6 55L27.3 59.3M26.6 55L25 53.9M27.3 59.3L26.3 60.4M26.3 60.4L20.8 58.1M25 53.9L23 54.2M31.4 51.5L26.1 49M31.4 51.5L30.6 53.4M30.6 53.4L26.6 55M25 53.9L26.1 49M18.3 27.6L18.3 27.6M25.5 28.1L25.2 31.7M25.2 31.7L21.8 31.3M18.3 27.6L21.8 31.3M25.2 31.7L25.3 31.8M25.3 31.8L25.5 36M25.5 36L20.9 38.7M20.1 38.3L20.9 38.7M20.1 38.3L17.8 34.8M21.8 31.3L17.8 34.8M33.3 73L30.1 73.5M30 67.8L33.6 69M33.9 72.2L33.6 69M27.4 70.1L27.3 70.9M30.1 73.5L27.3 70.9M71.5 14L70.6 11.1M70.6 11.1L74.7 8.8M-8.4 41.7L-4.2 44.6M-8.4 41.7L-8.7 41.8M-4.6 48L-4.2 44.6M-4.6 48L-10.9 49.4M-3.6 51.6L-7 54.5M-3.6 51.6L-3.7 49.3M-7 54.5L-10.9 49.4M-3.7 49.3L-4.6 48M-10.5 61.9L-5.6 58.3M-7.2 55.4L-5.5 58M-5.6 58.3L-5.5 58M-4.2 63.8L-5.6 58.3M-3.6 51.6L-0.9 53.7M-0.9 53.7L-2.1 57.6M-2.1 57.6L-5.5 58M-7 54.5L-7.2 55.4M10.3 60.9L12.6 58.7M10.3 60.9L6.4 59.3M12.6 58.7L11.8 56.6M6.4 59.3L5.5 57.5M11.8 56.6L8 55.3M0.4 59.5L4.4 57.3M0.4 59.5L-2.1 57.6M-0.9 53.7L2.1 53.1M4.4 57.3L2.1 53.1M12.6 58.7L15.2 59.3M17.9 57.6L15.2 59.3M11.8 56.6L13.6 53.2M16.6 53L13.6 53.2M29.8 59.2L32.1 57.1M29.8 59.2L32.6 62.8M32.1 57.1L35 57.5M32.6 62.8L34.4 63M34.4 63L36.2 59.3M35 57.5L36.2 59.3M30.6 53.4L32.1 57.1M27.3 59.3L29.8 59.2M29.4 65.1L32.6 62.8M29.4 65.1L25.9 63.2M25.9 63.2L26.3 60.4M37 52.4L36.9 52.3M37 52.4L35 57.5M31.4 51.5L31.6 51.4M30 67.8L29.4 65.1M36.3 66.2L33.6 69M24.2 67.1L24.7 64.2M24.7 64.2L20.1 63.3M18.5 66.6L19.7 69.2M18.5 66.6L19.1 64.1M19.1 64.1L20.1 63.3M20.8 69.3L19.7 69.2M27.4 70.1L24.2 67.1M24.2 73.4L27.3 70.9M24.2 73.4L20.8 69.3M25.9 63.2L24.7 64.2M20.8 58.1L20.2 58.3M20.2 58.3L20.1 63.3M17.9 57.6L20.2 58.3M15.5 62.3L15.2 59.3M17.2 72.1L19.7 69.2M17.2 72.1L17.2 74.4M0.4 59.5L0.2 62.5M-4.2 63.8L-2.6 64.7M0.2 62.5L-2.6 64.7M-3.7 70.5L-8.7 68.8M-3.7 70.5L-2.2 69.2M-8.7 68.8L-9.7 66.2M-2.6 64.7L-2.2 69.2M-3.7 70.5L-4.4 74.6M17.2 72.1L12.2 69.2M18.5 66.6L13.2 66.7M12.2 69.2L13.2 66.7M10.7 72.8L11.1 69.9M12.2 69.2L11.1 69.9M10.3 60.9L10.6 63.4M15.5 62.3L12.7 65.1M10.6 63.4L12.7 65.1M12.7 65.1L13.2 66.7M17.9 19.2L16 16.7M10.7 20.1L12.4 16M16 16.7L12.4 16M6.4 15.6L7.5 14M7.5 14L11.7 14.9M12.4 16L11.7 14.9M12.6 37.8L9.9 34.5M12.6 37.8L16.5 34.3M16.5 34.3L15.6 32.5M15.6 32.5L11.7 31M9.9 34.5L10.7 31.5M11.7 31L10.7 31.5M18.3 27.6L15.6 32.5M17.8 34.8L16.5 34.3M12.7 25.2L11.7 31M5.6 36.3L9.9 34.5M5.6 36.3L3.9 32.5M5.6 29.5L3.9 32.5M5.6 29.5L10.7 31.5M5.6 29.5L5.3 27.8M-3 16.6L-4 13.7M-3 16.6L-5.4 20M-4 13.7L-9 16.2M-9 16.2L-7.5 19.6M-7.5 19.6L-5.4 20M-4.2 21.7L-5.4 20M-4.2 21.7L-0.8 21.3M0.2 18.2L-3 16.6M-9.7 22L-7.5 19.6M-10.4 10.7L-4.4 10.6M-4 13.7L-3.6 12.2M-4.4 10.6L-3.6 12.2M2.5 16.1L1.1 12.4M-3.6 12.2L1.1 12.4M-4.4 38.2L-3.8 34.9M-4.4 38.2L-0.8 40.1M0.6 37.7L-0.7 40.1M0.6 37.7L-0.8 34.7M-0.8 34.7L-3.8 34.9M-0.8 40.1L-0.7 40.1M-7.3 39.8L-4.4 38.2M-7.3 39.8L-8.4 41.7M-4.2 44.6L-3.6 44.4M-3.6 44.4L-0.8 40.1M6.3 39.8L5.4 37.2M6.3 39.8L2.8 42.7M5.4 37.2L0.6 37.7M2.8 42.7L-0.7 40.1M5.6 36.3L5.4 37.2M3.9 32.5L0.7 32.6M0.7 32.6L-0.8 34.7M2.6 45.8L-3.6 44.4M2.6 45.8L2.8 42.7M39.2 72.9L40.2 70.5M36.3 66.2L36.6 66.2M36.6 66.2L40.2 70.5M39.2 59.4L40.4 64.1M36.6 66.2L40.4 64.1M37 52.4L41.3 55.9M39.2 59.4L40.7 58.3M41.3 55.9L40.7 58.3M30.7 31.2L25.3 31.8M30.7 31.2L33.3 33.5M25.5 36L28.5 38.2M28.5 38.2L33.3 33.5M25.9 48.6L23.2 47.4M25.9 48.6L29.3 44.7M27.8 42.1L29.3 44.7M32.5 45.5L29.3 44.7M26.1 49L25.9 48.6M21.5 41.4L20.9 38.7M21.5 41.4L23.3 43.1M28.5 38.2L28.6 38.4M28.6 38.4L27.8 42.1M35.2 44.4L35.4 40.6M28.6 38.4L35.4 40.6M23.8 17.9L26 17.4M28.5 21.9L29.1 20.5M29.1 20.5L26 17.4M71.5 14L70.4 15.6M70.6 11.1L68 9.4M70.4 15.6L66.5 16.1M66.5 16.1L65.1 12.4M67.7 7.8L68 9.4M7.5 14L6.6 11.1M6.6 11.1L4 9.4M-4.4 10.6L-3.7 6.5M1.5 5.8L3.7 7.8M1.5 5.8L-2.2 5.2M-3.7 6.5L-2.2 5.2M4 9.4L3.7 7.8M15.5 -1.7L12.7 1.1M18.5 2.6L19.1 0.1M18.5 2.6L13.2 2.7M13.2 2.7L12.7 1.1M23 54.2L21 52.2M23.2 47.4L21.7 48.1M21.7 48.1L21 52.2M16.6 53L16.6 53M21 52.2L16.6 53M12.6 37.8L12.5 39.5M6.3 39.8L8 40.9M8 40.9L12.5 39.5M12.5 39.5L14.3 41.2M3.7 71.8L1.5 69.8M1.5 69.8L4.3 64.4M7.9 68.8L6.7 65.3M6.7 65.3L4.8 64.3M4 73.4L3.7 71.8M11.1 69.9L7.9 68.8M-2.2 69.2L1.5 69.8M0.2 62.5L4.3 64.4M10.6 63.4L6.7 65.3M6.4 59.3L4.8 64.3M5.5 57.5L4.4 57.3M37.7 51L41.5 49.7M35.9 44.9L40.9 44.9M41.5 49.7L42.6 46.8M40.9 44.9L42.6 46.8M63.1 53.7L66.1 53.1M63.1 53.7L60.4 51.6M60.3 49.3L60.4 51.6M66.1 53.1L67.6 49.7M67.6 49.7L67.2 48.4M57 54.5L53.1 49.4M57 54.5L60.4 51.6M59.4 48L53.1 49.4M59.4 48L60.3 49.3M16 16.7L18.4 11.8M27.9 13.7L23.7 11.4M21.7 12.6L23.7 11.4M-7.3 39.8L-8.7 34.7M-3.8 34.9L-4.6 34.1M-8.7 34.7L-4.6 34.1M61 16.6L60 13.7M61 16.6L58.6 20M60 13.7L55 16.2M55 16.2L56.5 19.6M56.5 19.6L58.6 20M66.5 16.1L65.6 17.7M64.2 18.2L65.6 17.7M64.2 18.2L61 16.6M65.1 12.4L60.4 12.2M60.4 12.2L60 13.7M59.8 21.7L58.6 20M59.8 21.7L63.2 21.3M63.2 21.3L64.2 18.2M51.4 14.7L53.6 10.7M51.4 14.7L55 16.2M53.6 10.7L59.6 10.6M59.6 10.6L60.4 12.2M51.4 14.7L51.3 14.7M53.6 10.7L52.8 8M51.3 14.7L49 13.1M52.8 8L49.8 7M49.8 7L47.8 9.3M49 13.1L47.8 9.3M35.8 40.1L35.4 40.6M35.8 40.1L42.6 39.3M40.9 44.9L42.8 39.5M42.6 39.3L42.8 39.5M47.7 37.6L42.9 39.5M47.2 34L42.4 32.2M42.9 39.5L42.8 39.5M42.6 39.3L41.3 34.6M41.3 34.6L42.4 32.2M35.8 40.1L35.8 35.1M41.3 34.6L35.8 35.1M33.3 33.5L34.5 33.6M34.5 33.6L35.8 35.1M74.7 20.1L71.4 19.6M71.4 19.6L69 21.5M70.3 25.8L68.8 22.1M68.8 22.1L69 21.5M70.4 15.6L71.4 19.6M65.6 17.7L69 21.5M64.5 23.2L63.2 21.3M64.5 23.2L68.8 22.1M59.1 25.2L59.8 21.7M59.1 25.2L62.6 27.3M64.5 23.2L63.6 26.7M63.6 26.7L62.6 27.3M70.3 25.8L69.3 27.8M63.6 26.7L69.3 27.8M55.8 26.1L54.3 22M55.2 27L50.1 27.9M54.3 22L52.7 21.6M52.7 21.6L49.6 24M50.1 27.9L49.6 24M59.1 25.2L55.8 26.1M56.5 19.6L54.3 22M51.3 14.7L50 17.2M50 17.2L52.7 21.6M46.3 21.2L49.6 24M46.3 21.2L46.7 19.3M46.7 19.3L50 17.2M44.4 22.7L45.3 27.9M44.4 22.7L46.3 21.2M45.3 27.9L49.7 28.4M49.7 28.4L50.1 27.9M40.7 58.3L45 60.9M45 60.9L45.1 62.6M45.1 62.6L42.8 64.6M41.3 55.9L44.7 54.1M45 60.9L47 58.1M47 58.1L44.7 54.1M41.5 49.7L45 53.4M45 53.4L44.7 54.1M50.9 58.1L51.6 56.8M50.9 58.1L52 60.9M51.6 56.8L56.8 55.4M52 60.9L53.5 61.9M53.5 61.9L58.4 58.3M56.8 55.4L58.5 58M58.5 58L58.4 58.3M45.1 62.6L48.1 64M47 58.1L50.9 58.1M48.1 64L52 60.9M61.9 57.6L63.1 53.7M61.9 57.6L58.5 58M57 54.5L56.8 55.4M24.2 3.1L24.7 0.2M24.2 3.1L27.4 6.1M29.4 1.1L30 3.8M29.4 1.1L25.9 -0.8M25.9 -0.8L24.7 0.2M20.1 -0.7L19.1 0.1M20.1 -0.7L24.7 0.2M18.5 2.6L19.7 5.2M19.7 5.2L20.8 5.3M27.3 6.9L27.4 6.1M27.3 6.9L24.2 9.4M20.8 5.3L24.2 9.4M33.6 5L30 3.8M33.6 5L36.3 2.2M32.6 -1.2L34.4 -1M32.6 -1.2L29.4 1.1M39.7 10.6L37.8 13.1M39.7 10.6L43.1 12.1M37.8 13.1L38.8 16.8M43.1 12.1L43.7 13.3M43 16.3L40.1 17.4M40.1 17.4L38.8 16.8M49 13.1L43.7 13.3M47.8 9.3L45.1 8.8M45.1 8.8L43.1 12.1M46.7 19.3L43 16.3M44.4 22.7L40.4 22.6M40.4 22.6L40.1 17.4M30.1 9.5L33.3 9M30.1 9.5L28.4 13.6M33.3 9L34.2 12.8M34.2 12.8L32.1 15.8M28.4 13.6L32.1 15.8M27.3 6.9L30.1 9.5M33.6 5L33.9 8.2M33.9 8.2L33.3 9M27.9 13.7L28.4 13.6M23.7 11.4L24.2 9.4M39.2 8.9L33.9 8.2M39.2 8.9L39.7 10.6M37.8 13.1L34.2 12.8M33.7 18.6L32.7 18.1M32.7 18.1L32.1 15.8M29.1 20.5L32.7 18.1M33.7 18.6L35.1 22M40.4 22.6L39.2 23.6M39.2 23.6L35.1 22M31.1 25.9L31.8 26.1M35.1 22L31.8 26.1M30.7 31.2L31.8 26.2M31.8 26.2L31.8 26.1M36.3 2.2L36.6 2.2M39.2 -4.6L40.4 0.1M36.2 -4.7L34.4 -1M36.6 2.2L40.4 0.1M39.2 8.9L40.2 6.5M36.6 2.2L40.2 6.5M45.1 8.8L43.6 5.3M40.2 6.5L43.6 5.3M26.6 -9L27.3 -4.7M20.8 -5.9L26.3 -3.6M26.3 -3.6L27.3 -4.7M20.2 -5.7L20.1 -0.7M20.2 -5.7L20.8 -5.9M25.9 -0.8L26.3 -3.6M29.8 -4.8L32.6 -1.2M29.8 -4.8L27.3 -4.7M30.6 -10.6L32.1 -6.9M37 -11.6L35 -6.5M35 -6.5L32.1 -6.9M29.8 -4.8L32.1 -6.9M41.3 -8.1L44.7 -9.9M41.3 -8.1L40.7 -5.7M40.7 -5.7L39.2 -4.6M36.2 -4.7L35 -6.5M59.6 10.6L60.3 6.5M52.8 8L55.3 4.8M60.3 6.5L55.3 4.8M71.9 4.8L70.7 1.3M70.7 1.3L74.6 -0.6M20.2 -5.7L17.9 -6.4M15.5 -1.7L15.2 -4.7M17.9 -6.4L15.2 -4.7M12.7 1.1L10.6 -0.6M10.3 -3.1L10.6 -0.6M10.3 -3.1L12.6 -5.3M15.2 -4.7L12.6 -5.3M-10.5 -2.1L-5.6 -5.7M-5.6 -5.7L-4.2 -0.2M-5.5 -6L-5.6 -5.7M-5.5 -6L-7.2 -8.6M-3.7 6.5L-8.7 4.8M-2.2 5.2L-2.6 0.7M-2.6 0.7L-4.2 -0.2M-8.7 4.8L-9.7 2.2M10.7 8.8L11.1 5.9M10.7 8.8L13 11.6M13 11.6L17.2 10.4M12.2 5.2L11.1 5.9M12.2 5.2L17.2 8.1M17.2 8.1L17.2 10.4M6.6 11.1L10.7 8.8M7.9 4.8L11.1 5.9M11.7 14.9L13 11.6M18.4 11.8L17.2 10.4M7.9 4.8L6.7 1.3M13.2 2.7L12.2 5.2M6.7 1.3L10.6 -0.6M19.7 5.2L17.2 8.1M4.3 0.4L0.2 -1.5M4.8 0.3L6.4 -4.7M0.4 -4.5L0.2 -1.5M0.4 -4.5L4.4 -6.7M6.4 -4.7L5.5 -6.5M4.4 -6.7L5.5 -6.5M1.5 5.8L4.3 0.4M6.7 1.3L4.8 0.3M-2.6 0.7L0.2 -1.5M10.3 -3.1L6.4 -4.7M-2.1 -6.4L-5.5 -6M-2.1 -6.4L0.4 -4.5M8 -8.7L11.8 -7.4M12.6 -5.3L11.8 -7.4M18.7 47.2L16.7 49M18.7 47.2L17.9 44.6M16.7 49L11.6 47.1M17.9 44.6L14.6 42.8M14.6 42.8L11.6 47.1M21.7 48.1L18.7 47.2M16.6 53L16.7 49M14.3 41.2L14.6 42.8M8.4 45.2L11.5 47.2M8.4 45.2L3.4 47.3M3.6 49.7L8.4 51.7M3.6 49.7L3.2 48.4M8.4 51.7L10.5 50.5M3.4 47.3L3.2 48.4M11.6 47.1L11.5 47.2M2.6 45.8L3.4 47.3M13.6 53.2L10.5 50.5M8 55.3L8.4 51.7M2.1 53.1L3.6 49.7M61.9 57.6L64.4 59.5M66.1 53.1L68.4 57.3M64.4 59.5L68.4 57.3M53 49.4L52.2 44.4M53 49.4L50.1 51.4M48.1 51.2L50.1 51.4M48.1 51.2L45.8 46.4M45.8 46.4L47 44.6M47 44.6L49.6 43.7M49.6 43.7L52.2 44.4M53.1 49.4L53 49.4M45 53.4L48.1 51.2M42.6 46.8L45.8 46.4M42.9 39.5L47 44.6M47.7 37.6L48.4 37.9M48.4 37.9L49.6 43.7M-4.6 31L-7.7 29.7M-1.7 29L-1.4 27.3M-1.4 27.3L-4.9 25.2M-4.9 25.2L-8.2 26.1M-7.7 29.7L-8.8 27M-10 34L-7.7 29.7M-4.6 34.1L-4.6 31M0.7 32.6L-1.7 29M-0.4 26.7L-1.4 27.3M-4.2 21.7L-4.9 25.2M-9.7 22L-8.2 26.1M74.7 31.5L69.6 29.5M69.3 27.8L69.6 29.5M49.8 7L48.5 4.2M43.6 5.3L43.8 5.1M48.5 4.2L43.8 5.1M43.8 5.1L42.8 0.6M43.4 29.1L39.2 24.8M43.4 29.1L42.3 31.6M42.3 31.6L36.7 29.6M39.2 24.8L36.5 28.4M36.7 29.6L36.5 28.4M45.3 27.9L43.4 29.1M39.2 23.6L39.2 24.8M49.7 28.4L50 31.1M50 31.1L47.2 34M42.4 32.2L42.3 31.6M34.5 33.6L36.7 29.6M31.8 26.2L36.5 28.4M59.4 31L59.4 34.1M62.3 29L64.7 32.6M60.2 34.9L59.4 34.1M60.2 34.9L63.2 34.7M63.2 34.7L64.7 32.6M56.3 29.7L55.2 27M56.3 29.7L59.4 31M62.6 27.3L62.3 29M67.9 32.5L64.7 32.6M67.9 32.5L69.6 29.5M63.2 40.1L59.6 38.2M63.2 40.1L63.3 40.1M59.6 38.2L60.2 34.9M63.3 40.1L64.6 37.7M64.6 37.7L63.2 34.7M63.2 40.1L60.4 44.4M60.4 44.4L66.6 45.8M63.3 40.1L66.8 42.7M66.8 42.7L66.6 45.8M60.4 44.4L59.8 44.6M59.4 48L59.8 44.6M67.2 48.4L67.4 47.3M66.6 45.8L67.4 47.3M73.9 34.5L69.6 36.3M69.6 36.3L69.4 37.2M69.4 37.2L70.3 39.8M72 40.9L70.3 39.8M67.9 32.5L69.6 36.3M64.6 37.7L69.4 37.2M66.8 42.7L70.3 39.8M72.4 45.2L67.4 47.3M49.8 71L47.8 73.3M49.8 71L48.5 68.2M48.5 68.2L43.8 69.1M47.8 73.3L45.1 72.8M45.1 72.8L43.6 69.3M43.6 69.3L43.8 69.1M52.8 72L49.8 71M42.8 64.6L43.8 69.1M49 67.1L48.5 68.2M40.2 70.5L43.6 69.3M68.8 64.3L70.4 59.3M64.4 59.5L64.2 62.5M70.4 59.3L69.5 57.5M68.4 57.3L69.5 57.5M64.2 62.5L68.3 64.4M55.3 68.8L60.3 70.5M55.3 68.8L54.3 66.2M54.3 66.2L54.8 64.5M59.8 63.8L61.4 64.7M61.4 64.7L61.8 69.2M60.3 70.5L61.8 69.2M52.8 72L55.3 68.8M59.6 74.6L60.3 70.5M49 67.1L54.3 66.2M53.5 61.9L54.8 64.5M58.4 58.3L59.8 63.8M64.2 62.5L61.4 64.7M65.5 69.8L61.8 69.2M65.5 69.8L68.3 64.4M67.7 71.8L68 73.4M67.7 71.8L65.5 69.8M65.5 5.8L61.8 5.2M65.5 5.8L68.3 0.4M61.8 5.2L61.4 0.7M61.4 0.7L64.2 -1.5M68.3 0.4L64.2 -1.5M67.7 7.8L65.5 5.8M60.3 6.5L61.8 5.2M70.7 1.3L68.8 0.3M51.6 -7.2L56.8 -8.6M56.8 -8.6L57 -9.5M-7.2 -8.6L-7 -9.5M11.8 -7.4L13.6 -10.8M68.8 64.3L70.7 65.3M70.7 65.3L71.9 68.8M72 55.3L72.4 51.7M67.6 49.7L72.4 51.7M70.4 59.3L74.3 60.9M70.7 65.3L74.6 63.4M51.2 37.4L55.3 41.8M51.2 37.4L53.4 34M55.3 34.7L56.7 39.8M55.3 34.7L54 34M56.7 39.8L55.6 41.7M53.4 34L54 34M55.6 41.7L55.3 41.8M48.4 37.9L51.2 37.4M52.2 44.4L55.3 41.8M50 31.1L53.4 34M59.6 38.2L56.7 39.8M59.4 34.1L55.3 34.7M56.3 29.7L54 34M59.8 44.6L55.6 41.7M55.3 4.8L54.3 2.2M48.5 4.2L49 3.1M49 3.1L54.3 2.2M58.4 -5.7L59.8 -0.2M58.4 -5.7L53.5 -2.1M53.5 -2.1L54.8 0.5M61.4 0.7L59.8 -0.2M54.3 2.2L54.8 0.5M68.8 0.3L70.4 -4.7M74.3 -3.1L70.4 -4.7M68.4 -6.7L66.1 -10.9M68.4 -6.7L64.4 -4.5M64.4 -4.5L61.9 -6.4M61.9 -6.4L63.1 -10.3M64.2 -1.5L64.4 -4.5M70.4 -4.7L69.5 -6.5M69.5 -6.5L68.4 -6.7M58.5 -6L61.9 -6.4M58.5 -6L58.4 -5.7M56.8 -8.6L58.5 -6M-2.1 -6.4L-0.9 -10.3M4.4 -6.7L2.1 -10.9M48.1 0L52 -3.1M48.1 0L45.1 -1.4M45 -3.1L45.1 -1.4M45 -3.1L47 -5.9M47 -5.9L50.9 -5.9M50.9 -5.9L52 -3.1M53.5 -2.1L52 -3.1M42.8 0.6L45.1 -1.4M40.7 -5.7L45 -3.1M44.7 -9.9L47 -5.9M51.6 -7.2L50.9 -5.9" stroke="#d8d6dc" stroke-width="1.4" fill="none" stroke-linecap="round"/><path d="M3.8 20.2h0.01M2.7 22.8h0.01M1.6 22.7h0.01M10.4 20.1h0.01M6.5 25.4h0.01M6.2 25.6h0.01M7.3 17.6h0.01M-0.2 26.8h0.01M63.8 26.8h0.01M25.5 22.4h0.01M18.4 20.6h0.01M19.6 27h0.01M31 26.4h0.01M25.1 27.7h0.01M27.3 22.3h0.01M36.9 50.4h0.01M31.7 51h0.01M32 46.7h0.01M32.6 44.9h0.01M27.2 56.5h0.01M27.4 59.4h0.01M23.4 59.1h0.01M23.3 54h0.01M28.7 49.7h0.01M28 54.1h0.01M29 54.3h0.01M25.2 28.1h0.01M24.9 31.8h0.01M25.1 32.7h0.01M25.4 36.7h0.01M19.8 37.8h0.01M11.6 56.7h0.01M11.5 56.8h0.01M0.6 53.6h0.01M64.6 53.6h0.01M3 55.4h0.01M15.4 58.9h0.01M17.6 57.4h0.01M13.3 52.8h0.01M14.3 52.8h0.01M33.1 57h0.01M34.5 62h0.01M35 58.7h0.01M30.9 54.7h0.01M30 0.3h0.01M30 64.3h0.01M25.5 62.8h0.01M35.6 56h0.01M20.4 58.8h0.01M19.4 58h0.01M15.1 62.1h0.01M15.7 60.6h0.01M0.1 60.1h0.01M64.1 60.1h0.01M12.8 0.2h0.01M12.8 64.2h0.01M11.4 18.7h0.01M12.8 16.2h0.01M7.3 14h0.01M9.1 14h0.01M10.4 35.7h0.01M12.3 36.5h0.01M12.2 37.7h0.01M11.9 31.6h0.01M15.9 32.9h0.01M12.2 25.9h0.01M12.1 30.2h0.01M5.1 34.7h0.01M6 40.3h0.01M4.1 36.9h0.01M-0.5 40.2h0.01M63.5 40.2h0.01M3.5 32.4h0.01M2.2 44.6h0.01M3.1 44.7h0.01M39.3 61.1h0.01M40.1 58.3h0.01M26.9 37h0.01M29.1 37.8h0.01M30 36.5h0.01M26.3 48h0.01M27.3 46.8h0.01M26.6 47.5h0.01M31.3 44.8h0.01M29.5 44.5h0.01M21.3 40.8h0.01M35.4 43.2h0.01M32.2 39.1h0.01M26.5 17.8h0.01M2.1 6.2h0.01M2 6.3h0.01M4.2 8.9h0.01M22.7 54.4h0.01M9.9 39.9h0.01M0.9 62.7h0.01M64.9 62.7h0.01M5.5 61.9h0.01M4.5 0.1h0.01M4.5 64.1h0.01M41.2 50h0.01M37.8 51.4h0.01M38.7 44.8h0.01M41.5 48.8h0.01M54.4 51.6h0.01M58.6 53.4h0.01M55 49h0.01M25.6 12.6h0.01M21.9 12.9h0.01M55.9 16h0.01M60.3 13.5h0.01M55.8 17.8h0.01M62.5 12.8h0.01M60 12.2h0.01M52.2 13.1h0.01M52 12.9h0.01M54.2 15.9h0.01M54.3 11.2h0.01M50.4 13.9h0.01M51.5 7.5h0.01M47.2 37.4h0.01M42.6 39.8h0.01M41.5 37.1h0.01M41.4 35.8h0.01M35.5 35.3h0.01M59.4 23.8h0.01M55.4 25.8h0.01M50.4 27.6h0.01M49.9 26.1h0.01M56.1 20.2h0.01M50.3 16.1h0.01M50.3 17.3h0.01M47.4 22.4h0.01M49 18.5h0.01M44.5 24.9h0.01M41.6 59.4h0.01M44.5 60.9h0.01M44.5 54.6h0.01M45.7 56.9h0.01M41.2 49.4h0.01M57.4 58.5h0.01M54.4 61.2h0.01M58.1 57.2h0.01M50.1 62.3h0.01M61.8 56.1h0.01M26.8 5h0.01M24.8 8.6h0.01M36.3 2.3h0.01M37.4 12.8h0.01M39.9 10.9h0.01M38.2 14.3h0.01M38.7 16.9h0.01M47.3 13h0.01M47 9.3h0.01M44.2 10.9h0.01M44 16.5h0.01M43.1 22.8h0.01M40.7 21.5h0.01M39.9 20.2h0.01M31.7 15.5h0.01M28.7 8.8h0.01M33.4 5.7h0.01M33.9 7.1h0.01M33.8 9.2h0.01M35.2 13h0.01M33.1 17.4h0.01M34.9 20.5h0.01M31.4 25.7h0.01M32.8 25.5h0.01M31.5 28h0.01M38.4 1.4h0.01M39 9.1h0.01M39 4.6h0.01M43.2 5.1h0.01M57.6 5.6h0.01M57.4 5.3h0.01M10.2 -0.7h0.01M10.2 63.3h0.01M12 0.4h0.01M12 64.4h0.01M11.5 9.4h0.01M17.1 10.6h0.01M17.6 9.7h0.01M6.9 10.9h0.01M11.7 14.8h0.01M8.9 0.8h0.01M8.9 64.8h0.01M19 6.3h0.01M18.1 7.3h0.01M17.5 48.1h0.01M17.9 46h0.01M18.6 46.9h0.01M14.3 43.2h0.01M21.1 47.9h0.01M14.6 41.5h0.01M9.9 45.8h0.01M8.5 45.3h0.01M6.5 50.7h0.01M5.8 50.1h0.01M3.2 50h0.01M3.1 47.1h0.01M12 51.8h0.01M8.6 53.3h0.01M8.8 52.3h0.01M52.3 46.4h0.01M51.9 44.8h0.01M50.9 50.3h0.01M50.9 51h0.01M47.9 44.6h0.01M45.4 52.5h0.01M44.5 41.4h0.01M49.1 39.9h0.01M49.1 4.8h0.01M42.7 2.1h0.01M39.3 24.9h0.01M42.3 28.3h0.01M42.4 28.2h0.01M42.5 30.6h0.01M38.4 29.7h0.01M38.6 29.8h0.01M39.8 30.3h0.01M36.7 29.8h0.01M35.9 30.5h0.01M33.7 27.1h0.01M59.9 31.5h0.01M59.8 33.9h0.01M-0.8 31.4h0.01M63.2 31.4h0.01M62.9 34.9h0.01M1 32.3h0.01M65 32.3h0.01M0.1 33.7h0.01M64.1 33.7h0.01M55.9 29.1h0.01M62.2 28.5h0.01M62 39.7h0.01M60.1 37.8h0.01M-0.8 35h0.01M63.2 35h0.01M-0.5 40.5h0.01M63.5 40.5h0.01M59.6 46.6h0.01M54.9 0h0.01M54.9 64h0.01M62.9 -0.4h0.01M62.9 63.6h0.01M0.4 5.6h0.01M64.4 5.6h0.01M53.6 40.4h0.01M52.1 35.5h0.01M51.9 36.5h0.01M56.3 39.7h0.01M51.7 32.2h0.01M50.7 31.2h0.01M57.2 39.5h0.01M57.2 35h0.01M54.4 34h0.01M56.2 30.4h0.01M56.4 42.4h0.01M49.1 3.7h0.01M49 3h0.01M51 2.6h0.01M61.3 1h0.01M54.4 0.7h0.01M54.4 64.7h0.01" stroke="#686b96" stroke-width="1.3" stroke-linecap="round" fill="none"/><path d="M1.3 18.3h0.01M10.8 20.7h0.01M6.5 25.9h0.01M3.2 15.9h0.01M5.3 16.1h0.01M1.9 27.5h0.01M1.3 26.8h0.01M-0.3 24.6h0.01M63.7 24.6h0.01M0.3 25.6h0.01M64.3 25.6h0.01M24.3 27.1h0.01M23.7 26.6h0.01M20.8 22.8h0.01M17.5 20.6h0.01M13.6 25.6h0.01M16.7 26.5h0.01M18.4 18.7h0.01M19.7 18.3h0.01M22.3 16.4h0.01M30.1 25.8h0.01M30.1 24.5h0.01M29.4 23.4h0.01M37.1 51.5h0.01M34.3 51.4h0.01M35.4 51.6h0.01M32.4 48.5h0.01M25.8 53.7h0.01M23.1 58.9h0.01M28.8 50.5h0.01M26.3 49.9h0.01M21.9 31.7h0.01M18.9 27.6h0.01M20.7 29.9h0.01M25.4 33.1h0.01M23.3 37.6h0.01M20.4 39h0.01M18.5 36.4h0.01M19.9 32.5h0.01M11.8 59.5h0.01M9.7 60.7h0.01M9.6 60.3h0.01M12.6 57.3h0.01M0.8 59.5h0.01M64.8 59.5h0.01M3.1 58.1h0.01M15.4 58.8h0.01M16 58.3h0.01M12.8 53.6h0.01M15.7 53.3h0.01M30.7 60.1h0.01M32.1 62.1h0.01M29.9 59.7h0.01M34.8 60.7h0.01M30.2 59.5h0.01M30.7 -0.3h0.01M30.7 63.7h0.01M35.1 57.6h0.01M22.8 0h0.01M22.8 64h0.01M19.6 -0.1h0.01M19.6 63.9h0.01M20.3 58.1h0.01M18.6 58.1h0.01M15.4 62.4h0.01M16.5 16.7h0.01M11.8 17.4h0.01M11.8 16.8h0.01M15.8 16.9h0.01M12.6 15.9h0.01M13 37.5h0.01M12.8 37.4h0.01M13.1 37.7h0.01M16.6 34.2h0.01M12 30.8h0.01M14.5 31.7h0.01M18.7 27.9h0.01M16.7 29.8h0.01M16.1 32h0.01M17.8 34.6h0.01M12.3 29.4h0.01M5 33.7h0.01M4.6 30.5h0.01M5.8 30h0.01M1.9 15.1h0.01M1.8 15.4h0.01M5.7 38.4h0.01M4.4 41.1h0.01M2 38.1h0.01M1.1 41.8h0.01M39.2 54.1h0.01M39.4 54.4h0.01M38.5 53.7h0.01M40.7 56.6h0.01M40.9 58.3h0.01M33.2 32.9h0.01M27.5 37.5h0.01M30.5 36.3h0.01M23.8 47.5h0.01M34.7 44.1h0.01M34.5 40.6h0.01M26.5 17.7h0.01M7 13h0.01M5.4 10.1h0.01M13.9 2.8h0.01M15.6 2.7h0.01M12.6 1.6h0.01M21.4 53.1h0.01M22.8 47.7h0.01M17 53.2h0.01M16.9 53h0.01M19 52.2h0.01M7.9 40.8h0.01M1.4 -0.9h0.01M1.4 63.1h0.01M5.7 60.4h0.01M39.2 44.8h0.01M42.9 47h0.01M41.5 45.4h0.01M-0.9 53.6h0.01M63.1 53.6h0.01M61.7 52.4h0.01M59.2 52h0.01M54.3 48.9h0.01M16.3 14.8h0.01M61.2 16.6h0.01M57.6 19.7h0.01M62.7 18h0.01M-0.5 17.5h0.01M63.5 17.5h0.01M-0.3 12.1h0.01M63.7 12.1h0.01M60.6 11.9h0.01M0 20.1h0.01M64 20.1h0.01M51.9 15.3h0.01M55.2 10.6h0.01M54.1 10.5h0.01M59.4 10.5h0.01M52.5 8.5h0.01M50.8 6.8h0.01M48 8.7h0.01M47.6 9.9h0.01M48.2 11.7h0.01M39.2 40h0.01M39.6 39.2h0.01M37.8 40.1h0.01M40.7 44.2h0.01M41.1 42.9h0.01M44.7 38.8h0.01M45.3 33.5h0.01M41.8 34.5h0.01M39.4 34.7h0.01M39.5 34.4h0.01M33.8 33.7h0.01M35.2 33.8h0.01M-0.5 21.5h0.01M63.5 21.5h0.01M55.3 24h0.01M55.1 23.6h0.01M51.3 27.6h0.01M52.6 27.7h0.01M52.8 21.5h0.01M58.8 25h0.01M57.1 26h0.01M50.9 16h0.01M52.2 19.8h0.01M52.2 21.8h0.01M49.2 23.5h0.01M49.2 24.4h0.01M46.4 19.5h0.01M45.3 27.1h0.01M47.4 28.1h0.01M49.5 28.5h0.01M48.2 28.4h0.01M43.7 0.1h0.01M43.7 64.1h0.01M45.4 55.6h0.01M46.1 56h0.01M43.4 52.2h0.01M51.1 57.6h0.01M50.9 58.3h0.01M53.5 56h0.01M52.8 56.1h0.01M52 61.2h0.01M57.2 59.2h0.01M58.6 57.7h0.01M50.5 57.7h0.01M48.9 57.7h0.01M51.6 61.4h0.01M62.4 55.7h0.01M-0.9 54.4h0.01M63.1 54.4h0.01M59.3 58.2h0.01M61.5 58h0.01M26.6 5h0.01M29.5 1.7h0.01M29 1.6h0.01M19.7 4.1h0.01M18.9 3h0.01M20.3 5.3h0.01M24.2 8.6h0.01M25.1 8.5h0.01M22.5 7.3h0.01M22.1 7.3h0.01M23.1 8h0.01M34.2 3.7h0.01M40.9 10.7h0.01M43.2 11.6h0.01M37.5 14.2h0.01M43.4 13.2h0.01M41.3 16.9h0.01M47.6 13.5h0.01M44.7 18.4h0.01M46.5 19.5h0.01M30.4 9.8h0.01M29.9 9.4h0.01M34 9.8h0.01M33.6 12.6h0.01M33.5 13.2h0.01M35.3 8.3h0.01M34.7 8.1h0.01M38.9 9.4h0.01M35.1 12.6h0.01M33.4 18.1h0.01M30.6 19.3h0.01M33.7 19.6h0.01M37.4 22.6h0.01M35.8 22h0.01M39 23.3h0.01M30.9 29.8h0.01M39.6 8.1h0.01M36.6 2.4h0.01M39.4 6h0.01M43.9 6.3h0.01M41 6.8h0.01M60.1 8.3h0.01M60.1 6.8h0.01M59.4 9h0.01M53.2 6.7h0.01M10.9 7.5h0.01M10.3 5.3h0.01M12.4 13.2h0.01M13.5 2.5h0.01M9.1 0.2h0.01M9.1 64.2h0.01M6.2 1.1h0.01M11.7 47.6h0.01M12.1 47.3h0.01M16.8 44.1h0.01M13.8 44.1h0.01M17.1 52.4h0.01M17.1 48.8h0.01M4.4 46.8h0.01M7.1 46h0.01M9.9 50.9h0.01M3.1 50h0.01M-1 58.7h0.01M63 58.7h0.01M52.9 47.2h0.01M47.7 50.1h0.01M47 45.5h0.01M48.2 44.5h0.01M45.6 52.9h0.01M47.8 52.1h0.01M45.5 46.8h0.01M44.8 41.9h0.01M46.4 42.9h0.01M46 43h0.01M48.7 4.5h0.01M47.3 4.1h0.01M43.6 3.1h0.01M43.3 2.1h0.01M39.4 25.1h0.01M36.9 28.8h0.01M44.1 28.1h0.01M49.6 29.3h0.01M34.9 33.1h0.01M32 26.5h0.01M55.6 28.4h0.01M59.3 30.5h0.01M57.1 30.4h0.01M61.9 39h0.01M60.2 35.4h0.01M62.7 40.4h0.01M-0.1 45.6h0.01M63.9 45.6h0.01M62.3 45.2h0.01M60.7 44.6h0.01M55 0h0.01M55 64h0.01M61.9 4.3h0.01M51 37.7h0.01M54.8 41.1h0.01M55.3 34.3h0.01M49.1 37.8h0.01M54.4 42.4h0.01M53.4 43.5h0.01M59.9 38.4h0.01M58.5 33.9h0.01M56.5 34.4h0.01M55.9 42.2h0.01M54.3 2.2h0.01M55 3.6h0.01" stroke="#8487ad" stroke-width="1.3" stroke-linecap="round" fill="none"/><path d="M3.3 19.2h0.01M4.7 20.6h0.01M1.7 22.9h0.01M10.2 25.2h0.01M8.9 25.7h0.01M10.4 20.2h0.01M10.6 20.5h0.01M5.4 21.3h0.01M6.4 20.1h0.01M6.4 25.2h0.01M7.2 19.2h0.01M2.8 16.2h0.01M5.6 27.1h0.01M23.8 26.9h0.01M20 23.7h0.01M20.8 22.5h0.01M19.7 22.3h0.01M12.7 23.7h0.01M16.6 21.1h0.01M16.9 27.7h0.01M18.3 27.8h0.01M18.1 18.5h0.01M23.8 17.5h0.01M23.4 18.7h0.01M29.8 26h0.01M31.4 25.3h0.01M36.2 47.5h0.01M36.2 46.5h0.01M35.7 45.7h0.01M32.6 46.2h0.01M32.5 47h0.01M26.2 55.1h0.01M25.7 54.1h0.01M26.7 60h0.01M24 60h0.01M24.2 54.1h0.01M30.7 51.6h0.01M31 53.3h0.01M29.8 53.5h0.01M26 50.2h0.01M25.7 49.5h0.01M25.6 31.5h0.01M21 30.6h0.01M21.9 38.2h0.01M19.7 38.3h0.01M18.1 34.1h0.01M21 32h0.01M10.3 60.7h0.01M6.3 57.9h0.01M10.5 56.4h0.01M4.1 57.4h0.01M0.6 53.6h0.01M64.6 53.6h0.01M2.4 53.8h0.01M12.7 54.6h0.01M31.4 57.7h0.01M30.4 58.1h0.01M33.6 62.5h0.01M30.7 54.2h0.01M26.1 61.5h0.01M34.7 57h0.01M24.1 0.3h0.01M24.1 64.3h0.01M25.1 -0.6h0.01M25.1 63.4h0.01M19.7 61.8h0.01M19.8 61.4h0.01M0.3 62.1h0.01M64.3 62.1h0.01M10.8 -0.9h0.01M10.8 63.1h0.01M16.8 17.1h0.01M11.7 14.9h0.01M10.5 33.7h0.01M9.5 34.5h0.01M6.5 35.3h0.01M6.2 36.1h0.01M8.9 35.4h0.01M3.6 32.1h0.01M7.8 30.4h0.01M8.3 30.8h0.01M5.2 28.3h0.01M3.1 42.9h0.01M2.7 37.1h0.01M0.6 33h0.01M64.6 33h0.01M40.1 61.1h0.01M37.6 52.8h0.01M39.5 58.8h0.01M27.7 31.2h0.01M29.5 31.4h0.01M28.9 31.5h0.01M31 31.8h0.01M28.5 38.1h0.01M24.8 48.1h0.01M29.2 44.8h0.01M29.5 44.2h0.01M21.4 41.7h0.01M27.9 40.5h0.01M27.5 42h0.01M34.9 42.1h0.01M34.7 40.5h0.01M31 39.2h0.01M24.9 17.7h0.01M28.7 21.3h0.01M28.1 19.9h0.01M7.7 13.5h0.01M18.8 0.8h0.01M18.8 64.8h0.01M16.7 2.3h0.01M21.6 49.6h0.01M21.2 51h0.01M12.5 38.4h0.01M11 39.7h0.01M12.7 40.1h0.01M2.1 -0.8h0.01M2.1 63.2h0.01M40.5 44.9h0.01M60 50.3h0.01M54 51.2h0.01M53.9 50.4h0.01M57.6 48.3h0.01M60.3 48.1h0.01M16.5 15.6h0.01M18 13.1h0.01M24.6 11.5h0.01M22 12.3h0.01M61.1 16.2h0.01M59.3 19.1h0.01M58.5 14.4h0.01M55.5 18.5h0.01M58.4 20.2h0.01M59.2 20.8h0.01M59.3 20.6h0.01M61.5 21.4h0.01M60.3 21.3h0.01M53.1 11.4h0.01M57.4 10.2h0.01M49.8 13.2h0.01M49.3 7.4h0.01M35.8 40.2h0.01M39.5 40h0.01M42.4 40.2h0.01M41.2 43.8h0.01M43.5 32.9h0.01M46.8 33.5h0.01M41.3 35.9h0.01M35.9 36.6h0.01M36.1 35.5h0.01M40.8 35h0.01M59.8 23.8h0.01M59.5 23.1h0.01M62.3 27.3h0.01M60 25.4h0.01M52.1 27.7h0.01M53.6 21.6h0.01M51.6 21.8h0.01M55.4 20.3h0.01M48.6 18.6h0.01M44.5 24.7h0.01M46.2 21.6h0.01M43.8 60h0.01M45.4 61.4h0.01M42.7 0.3h0.01M42.7 64.3h0.01M43.3 54.4h0.01M41.8 56.1h0.01M45.1 61.1h0.01M45.7 59.6h0.01M44 52.5h0.01M51.8 56.2h0.01M46.4 -0.8h0.01M46.4 63.2h0.01M47.1 -0.9h0.01M47.1 63.1h0.01M47 58.4h0.01M24.5 2.2h0.01M24.3 1.6h0.01M30.1 3.5h0.01M29.1 1h0.01M29.1 65h0.01M26.7 0h0.01M26.7 64h0.01M27.9 6.7h0.01M33.1 4.9h0.01M32.4 4.4h0.01M34.6 4.3h0.01M48.2 12.8h0.01M47.6 9.6h0.01M44.1 10.8h0.01M41.2 22.3h0.01M39.9 17.7h0.01M29 11h0.01M28.5 13.6h0.01M34 9.5h0.01M32.1 14.7h0.01M31.5 15.2h0.01M29.9 9h0.01M24 9.6h0.01M35.9 8.7h0.01M30.7 18.6h0.01M30.8 19.5h0.01M34.8 22.7h0.01M31.9 26.2h0.01M31 29.1h0.01M39.8 0.3h0.01M39.8 64.3h0.01M44.4 7.7h0.01M53 8h0.01M56.4 5.4h0.01M56.9 5.7h0.01M11.1 8.6h0.01M12.1 10h0.01M15.3 10.6h0.01M11.4 6h0.01M14.6 6.9h0.01M13.4 6.1h0.01M15.1 7.2h0.01M9.6 8.9h0.01M9.3 9.5h0.01M9.7 5.4h0.01M17.1 10.9h0.01M8 4.5h0.01M7.6 3.6h0.01M13.2 3.9h0.01M4.2 0.9h0.01M4.2 64.9h0.01M3.2 2.3h0.01M3.9 1.8h0.01M3.6 1.1h0.01M13.2 48h0.01M11.7 46.8h0.01M13.6 45h0.01M18.7 47.2h0.01M11.7 47.5h0.01M4.1 46.9h0.01M6.2 50.7h0.01M9.7 51.1h0.01M12.5 52.1h0.01M2 51.8h0.01M63 58.6h0.01M49.7 51.7h0.01M47.5 50h0.01M48.3 50.5h0.01M51.1 44.6h0.01M45.2 46.1h0.01M49.7 41.8h0.01M49.4 41.9h0.01M46.1 5.1h0.01M45 4.5h0.01M38.7 29.7h0.01M38.8 25.3h0.01M44.5 28.4h0.01M39.2 23.3h0.01M47.9 33.5h0.01M48 32.6h0.01M32.6 26.2h0.01M-0.6 31.3h0.01M63.4 31.3h0.01M0.7 32.8h0.01M64.7 32.8h0.01M59.9 34.8h0.01M61.1 35.1h0.01M62.2 39.7h0.01M-0.6 39.8h0.01M63.4 39.8h0.01M-0.2 35.5h0.01M63.8 35.5h0.01M60.9 43.8h0.01M0.7 44.9h0.01M64.7 44.9h0.01M59.7 46.3h0.01M59.8 -0.7h0.01M59.8 63.3h0.01M59.6 -0.8h0.01M59.6 63.2h0.01M59.3 61.4h0.01M-0.2 -1h0.01M-0.2 63h0.01M63.8 -1h0.01M63.8 63h0.01M62.1 5.6h0.01M61.9 1.9h0.01M60.4 6.5h0.01M54.7 41h0.01M56.3 38.2h0.01M55.3 35.9h0.01M55.3 36h0.01M53.5 34.4h0.01M48.6 38h0.01M54.6 41.8h0.01M54.9 31.8h0.01M58.5 43.5h0.01M50.7 3.1h0.01" stroke="#a6a8c2" stroke-width="1.3" stroke-linecap="round" fill="none"/></pattern>
<pattern id="ns" width="70" height="70" patternUnits="userSpaceOnUse"><path d="M41.7 34.2L45.4 36.1M41.7 34.2L38.7 36.3M38.7 36.3L39.9 40.5M45.3 37.4L45.4 36.1M45.3 37.4L41.7 40.4M39.9 40.5L41.7 40.4M41.1 30.1L41.7 34.2M41.1 30.1L44.4 28.7M45.4 36.1L48.7 32.8M41.1 30.1L39.3 29.5M39.3 29.5L38.2 28M38.2 28L33.5 27.7M33.5 27.7L32 31.8M35.7 33.6L32 31.8M39 23.1L34.1 22.7M39 23.1L38.2 28M34.1 22.7L32.2 25.3M60.6 73.1L63.2 72.5M60.6 73.1L57.9 78M63.2 72.5L64.5 78.9M64.5 78.9L58.2 78.8M57.9 78L58.2 78.8M60.6 73.1L56.1 70.6M63.2 72.5L63.7 72M62.6 66.3L64 68.5M57.3 66L55.6 67.1M56.1 70.6L55.6 67.1M46.2 45L41.7 40.4M45.3 37.4L49 41.5M70.2 66.7L68.9 61.9M70.2 66.7L64 68.5M62.6 66.3L63.6 63M58 60.5L60.2 59M63.6 63L60.2 59M60 29.6L60 29.4M66 33.7L66.8 28.1M60 29.4L66.8 28.1M7.9 30.1L11.1 33.7M6.8 37L7.6 37M7.6 37L11.1 33.7M2.3 31.9L-0.7 35.5M-0.7 35.5L3.7 39.2M-4 33.7L-3.2 28.1M-10 29.4L-3.2 28.1M49 32.8L48.7 32.8M52 30L52.1 28.7M45.2 25.7L50.3 26.1M38.6 68.7L33.7 69.6M40 73.5L39.2 74.7M33.7 69.6L33.2 74.4M30.6 32.3L32 31.8M52.9 57.5L48.2 57M52.9 57.5L53.5 59.5M47.1 58.8L48.2 57M58 60.5L53.5 59.5M55.6 67.1L53.8 66.3M53.8 66.3L52.2 62.1M46.9 52.6L48.2 57M46.9 52.6L50.9 51.2M54.3 54.6L58.5 53.4M56.1 70.6L53.5 73.5M54.2 76.1L53.5 73.5M49.1 68.1L47.7 67.2M43.6 68.4L44.6 73.6M49.2 72.6L46.5 75M44.6 73.6L46.5 75M53.8 66.3L49.1 68.1M53.5 73.5L49.2 72.6M47 63L47.7 67.2M46.5 76.8L46.5 75M58.5 53.4L58.9 52.7M52 48.2L54.4 47.1M77.7 45.2L81.7 42.1M76.6 45.3L76.4 45.5M76.6 45.3L77.7 45.2M76.4 45.5L75.3 51.8M81.2 50.8L77.3 52.5M63.7 72L68.5 73.3M64.5 78.9L65.1 79.5M65.1 79.5L69.7 77.3M68.5 73.3L69.7 77.3M70.2 66.7L71.8 67.7M71.8 67.7L72.5 69.9M66.2 41.1L69.2 35.5M67.3 27.5L70.9 27.8M72.3 31.9L70.9 27.8M72.3 31.9L69.3 35.5M59.8 44.3L61.5 46.2M60.6 51.8L61.5 46.2M56 31.8L52 30M60 29.4L59.5 28M67.3 27.5L66.7 26M66.7 26L62 23.2M59.5 28L62 23.2M79.6 0.6L78.5 -0.2M79.5 -5.5L79.2 -5.4M78.5 -0.2L79.2 -5.4M74.3 -9.9L76.1 -6.2M76.1 -6.2L79.2 -5.4M74.1 1L72.5 -0.1M74.1 1L78.5 -0.2M71.8 -2.3L72.5 -0.1M79.9 12.5L76.9 10M77.5 6.5L76.9 10M69.7 7.3L68.5 3.3M69.7 7.3L70.6 7.7M74.8 4.6L70.6 7.7M2.3 31.9L0.9 27.8M0.9 27.8L-2.7 27.5M33 -6.9L31.2 -11.2M37.8 -9.4L37.1 -8.2M39.7 -2.5L37.1 -8.2M39.7 -2.5L41.1 -2.7M47.7 -2.8L49.1 -1.9M43.6 -1.6L44.6 3.6M49.2 2.6L46.5 5M44.6 3.6L46.5 5M41.1 -2.7L43.6 -1.6M47 -7L43.5 -6.9M47 -7L47.7 -2.8M42.6 18.1L40.1 21M42.6 18.1L47.9 19.6M44.9 24.8L39.9 22.4M40.4 13.8L41.9 14.6M41.9 14.6L42.6 18.1M45.2 25.7L44.9 24.8M48 19.5L51.2 22.7M48 19.5L47.9 19.6M50.3 26.1L51.2 22.7M39 23.1L39.9 22.4M33.1 19.4L34.1 22.7M33.1 19.4L36 16.8M30.6 32.3L28 30.8M32.2 25.3L30.3 25.1M28 30.8L27.9 27.2M39.9 78.8L45.2 78M24.9 31.7L23.3 30.8M24.9 31.7L24.6 36.7M20.5 31.6L23.3 30.8M20.5 31.6L19.9 35.3M24.6 36.7L19.9 35.3M24.6 36.7L25.5 38.1M13.9 32.5L18.6 30.3M14.7 34.9L13.6 33.3M14.7 34.9L18.9 35.9M20.5 31.6L18.6 30.3M7.6 37L11.8 41.9M11.1 33.7L13.6 33.3M13.7 40.6L11.8 41.9M18.9 35.9L19 41.2M46.2 45L44.3 47.4M46.9 52.6L46.2 52.3M52 48.2L47.4 44.5M46.2 52.3L44.3 47.4M56.3 35.5L52.7 37.4M62.1 35.4L59.5 36.8M65.4 40.8L59.9 42.8M59.9 42.8L58.7 41.2M54.4 47.1L53.2 40.9M59.8 44.3L59.9 42.8M49 41.5L52.4 40.2M72.5 69.9L74.1 71M74.1 71L78.5 69.8M78.5 69.8L79.2 64.6M79.2 64.6L76.1 63.8M68.9 61.9L74.3 60.1M76.1 63.8L74.3 60.1M77.3 52.5L78.7 57.3M74.5 52.1L75.3 51.8M74.7 58.9L78.7 57.3M73.7 39.2L69.3 35.5M73.8 39.2L76.6 45.3M81.8 41.9L77.6 37M77.6 37L76.8 37M79.9 12.5L77.1 16.3M77.1 16.3L77.9 18.6M77.4 19.8L77.9 18.6M60.3 58.5L66.7 56.4M74.3 60.1L74.7 58.9M69 55.4L67.2 56.6M66.7 56.4L67.2 56.6M65.8 46.5L65.9 49.6M71.2 46L68.4 43.7M71.2 46L71 49.5M65.9 49.6L68.7 50.9M71 49.5L68.7 50.9M61.5 46.2L65.8 46.5M63.2 52L65.9 49.6M73.7 39.2L68.4 43.7M74.5 52.1L71 49.5M69 55.4L68.7 50.9M54.1 22.3L54.8 18.1M60.6 20.9L56.3 17.4M56.3 17.4L54.8 18.1M49.6 16.6L48 19.5M49.6 16.6L54.8 18.1M51.2 22.7L54.1 22.3M56 25.6L55.8 23.8M61.2 20.9L62 23.2M61.2 20.9L60.6 20.9M63.4 14.7L64.1 18.1M64.1 18.1L61.2 20.9M-10.5 28L-8 23.2M-2.7 27.5L-3.3 26M-3.3 26L-8 23.2M-9.4 20.9L-8.8 20.9M-8 23.2L-8.8 20.9M-6.6 14.7L-5.9 18.1M-8.8 20.9L-5.9 18.1M33 -6.9L32.3 -6.1M38.6 -1.3L33.7 -0.4M32.3 -6.1L32.4 -1.7M-0.8 35.5L-3.8 41.1M3.7 39.2L-1.6 43.7M53.8 -3.7L49.1 -1.9M53.8 -3.7L52.2 -7.9M40.4 13.8L39.8 9M39.9 8.8L39.8 9M39.9 8.8L45.2 8M45.2 8L44.6 13.3M40 3.5L39.2 4.7M46.5 5L46.5 6.8M49.6 16.6L49.4 15M44.6 13.3L49.4 15M53.8 -3.7L55.6 -2.9M55.6 -2.9L56.1 0.6M49.2 2.6L53.5 3.5M56.1 0.6L53.5 3.5M55.6 -2.9L57.3 -4M68.9 -8.1L70.2 -3.3M70.2 -3.3L64 -1.5M63.6 -7L62.6 -3.7M64 -1.5L62.6 -3.7M74.3 -9.9L68.9 -8.1M71.8 -2.3L70.2 -3.3M60.2 -11L63.6 -7M63.7 2L68.5 3.3M39.8 79L35.4 79.4M39.9 78.8L39.8 79M33.2 74.4L30.9 75.2M30.9 75.2L27.2 72.3M32.4 68.3L28.1 68.9M28.1 68.9L27.2 72.3M25.2 76.3L27.7 78.3M25.2 76.3L25.4 73.1M25.5 38.2L19.6 41.8M25.5 38.2L27.2 44.2M23.7 45.1L19.8 42.6M25.5 38.1L25.5 38.2M19 41.2L19.6 41.8M32.3 63.9L32.4 68.3M32.3 63.9L33 63.1M37.1 61.8L39.7 67.5M47 63L43.5 63.1M43.6 68.4L41.1 67.3M39.7 67.5L41.1 67.3M46.2 52.3L41.3 54.8M44.3 47.4L42.4 47.3M42.4 47.3L39.2 50.6M41.3 54.8L41.3 58.2M37.1 61.8L37.8 60.6M37.8 60.6L40.7 59.2M69.7 77.3L70.6 77.7M70.6 77.7L74.8 74.6M79.6 70.6L78.5 69.8M79.2 64.6L79.5 64.5M78.1 26.8L77.9 30.1M77.9 30.1L81.1 33.7M77.8 26.3L73.2 25.9M73.2 25.9L70.9 27.8M77.6 37L81.1 33.7M76.9 10L74.1 11.1M74.5 15.4L74.1 11.1M69.7 7.3L65.1 9.5M65.1 12.3L69.5 13.4M69.5 13.4L72.1 10.4M72.1 10.4L74.1 11.1M68 20.8L67 19.1M72.5 22L73.4 20.7M73.4 20.7L72.2 16.8M70.5 16.3L72.2 16.8M64.1 18.1L67 19.1M66.7 26L68 20.8M69.5 13.4L70.5 16.3M74.5 15.4L72.2 16.8M21.8 62.2L25 67M25 67L25.7 67M28.1 68.9L25.7 67M21.8 69.8L22.4 71.7M21.8 69.8L25 67M22.4 71.7L25.4 73.1M32.3 63.9L28.3 63.2M19.7 69.1L21.8 69.8M19.7 69.1L18.3 67.1M21.8 62.2L21.5 62M18.3 67.1L21.5 62M3.8 39.2L6.6 45.3M1.2 46L-1.6 43.7M6.6 45.3L6.4 45.5M11.8 41.9L11.7 42.1M6.6 45.3L7.7 45.2M11.7 42.1L7.7 45.2M-3 19.1L-2 20.8M0.5 16.3L2.2 16.8M2.2 16.8L3.4 20.7M2.5 22L3.4 20.7M-3.3 26L-2 20.8M-5.9 18.1L-3 19.1M-4.9 12.3L-0.5 13.4M-0.5 13.4L0.5 16.3M0.9 27.8L3.2 25.9M8.9 23.9L13.4 22.1M13.2 28.1L8.1 26.8M3.2 25.9L7.8 26.3M7.9 30.1L8.1 26.8M18.6 30.3L18.3 25.2M18.3 25.2L16.1 25.1M23.3 30.8L23.1 26M18.5 25.1L23.1 26M27.9 27.2L23.8 25.6M7.4 19.8L7.9 18.6M13.6 18.2L7.9 18.6M4.5 15.4L2.2 16.8M7.1 16.3L7.9 18.6M-11.8 8.8L-5.5 8.9M-5.5 8.9L-4.9 9.5M-5.5 8.9L-6.8 2.5M-9.4 3.1L-6.8 2.5M33.7 -0.4L33.2 4.4M39.8 9L35.4 9.4M33.7 12.3L35.4 9.4M-5.5 78.9L-6.8 72.5M-5.5 78.9L-11.8 78.8M-9.4 73.1L-6.8 72.5M-5.5 78.9L-4.9 79.5M-2.8 56.6L-3.3 56.4M-3.3 56.4L-9.7 58.5M-6.4 63L-9.8 59M8.5 69.8L9.6 70.6M8.5 69.8L4.1 71M9.6 70.6L10 75.4M7.5 76.5L6.9 80M4.8 74.6L0.6 77.7M-4.9 79.5L-0.3 77.3M0.6 77.7L-0.3 77.3M-6.3 72L-1.5 73.3M-6 68.5L0.2 66.7M2.5 69.9L1.8 67.7M1.8 67.7L0.2 66.7M-6.8 72.5L-6.3 72M-0.3 77.3L-1.5 73.3M-7.4 66.3L-6 68.5M-7.4 66.3L-6.4 63M-1.1 61.9L0.2 66.7M4.1 71L2.5 69.9M8.5 69.8L9.2 64.6M9.2 64.6L6.1 63.8M-1.1 61.9L4.3 60.1M6.1 63.8L4.3 60.1M-10.1 42.8L-4.6 40.8M-7.9 35.4L-10.5 36.8M-8.5 46.2L-4.2 46.5M-8.5 46.2L-9.4 51.8M-6.8 52L-4.1 49.6M-4.1 49.6L-4.2 46.5M-10.2 44.3L-8.5 46.2M-1 55.4L-1.3 50.9M-1 55.4L-2.8 56.6M-1.3 50.9L-4.1 49.6M1.2 46L1 49.5M-1.3 50.9L1 49.5M49.4 15L51.1 11.8M51.1 11.8L50.5 9.8M57.7 13.1L57.3 12.4M51.1 11.8L57.3 12.4M53.5 3.5L54.2 6.1M63.2 2.5L60.6 3.1M63.2 2.5L64.5 8.9M60.6 3.1L57.9 8M64.5 8.9L58.2 8.8M58.2 8.8L57.9 8M63.7 2L63.2 2.5M56.1 0.6L60.6 3.1M65.1 9.5L64.5 8.9M57.3 12.4L58.2 8.8M19.7 69.1L15.7 73.5M15.7 73.5L15.7 74.4M22.4 71.7L20.6 74.9M25.2 76.3L21.8 77.1M20.6 74.9L21.8 77.1M15.7 73.5L13.5 70.1M13.5 70.1L9.6 70.6M10 75.4L14.3 76.6M14.3 76.6L15.7 74.4M34.8 48.2L39 44.3M38.8 41.7L39 44.3M27.2 44.2L28 44.7M28 44.7L31.2 44.5M39.9 40.5L38.8 41.7M42.4 47.3L39 44.3M39.8 53.6L33.8 54.9M33.9 48.3L32.1 52.3M37.8 60.6L33.8 55.4M33.8 54.9L33.8 55.4M33 63.1L31.2 58.8M33.8 55.4L31.2 58.8M26.9 61L27.8 58.6M16.5 54L15.2 60.7M1 49.5L4.5 52.1M4.3 60.1L4.7 58.9M6.4 45.5L5.3 51.8M4.5 52.1L5.3 51.8M9.5 64.5L12.1 60.7M9.5 64.5L14.3 67.4M13.5 70.1L14.3 67.4M9.2 64.6L9.5 64.5M18.3 67.1L16 66.6M15.2 60.7L15.2 60.7M11.7 42.1L14.8 46.8M11.3 50.1L14.8 46.8M22.1 50.2L18.9 50M19.8 42.6L17.3 47.3M17.3 47.3L14.8 46.8M-0.5 13.4L2.1 10.4M-4.9 9.5L-0.3 7.3M-0.3 7.3L0.6 7.7M4.5 15.4L4.1 11.1M2.1 10.4L4.1 11.1M30.3 25.1L27 20.3M23.8 25.6L25.9 20.5M27 20.3L29 18.1M33.7 12.3L32 12.4M29 18.1L28.9 15.5M-1.1 -8.1L4.3 -9.9M21.8 -7.8L25 -3M25.7 -3L25 -3M32.3 -6.1L28.3 -6.8M28.1 -1.1L32.4 -1.7M28.1 -1.1L25.7 -3M21.8 77.1L20.6 81M14.3 76.6L14.8 78.9M22.2 56.9L27.1 57.5M22.2 56.9L23.8 51.4M27.8 58.6L27.1 57.5M21.6 57.4L22.2 56.9M22.1 50.2L23.8 51.4M16.5 54L16.4 53.9M32.1 52.3L28.4 52.5M28 44.7L26.6 51.4M77.5 76.5L76.9 80M13.5 53.5L10.2 57.8M11.2 50.8L7.3 52.5M7.3 52.5L8.7 57.3M11.3 50.1L11.2 50.8M16.4 53.9L13.5 53.5M4.7 58.9L8.7 57.3M18.5 25.1L20.1 19.5M20.1 19.5L22.5 18.9M-6.4 -7L-7.4 -3.7M-7.4 -3.7L-6 -1.5M-1.1 -8.1L0.2 -3.3M0.2 -3.3L-6 -1.5M-0.3 7.3L-1.5 3.3M-6.8 2.5L-6.3 2M-1.5 3.3L-6.3 2M9.2 -5.4L6.1 -6.2M9.2 -5.4L8.5 -0.2M8.5 -0.2L4.1 1M1.8 -2.3L2.5 -0.1M4.1 1L2.5 -0.1M9.5 -5.5L12.1 -9.3M9.5 -5.5L9.2 -5.4M4.3 -9.9L6.1 -6.2M0.2 -3.3L1.8 -2.3M0.6 7.7L4.8 4.6M7.1 16.3L9.9 12.5M4.1 11.1L6.9 10M9.9 12.5L6.9 10M6.9 10L7.5 6.5M28.1 -1.1L27.2 2.3M33.2 4.4L30.9 5.2M27.2 2.3L30.9 5.2M32 12.4L28.9 8.2M-6.4 -7L-9.8 -11M18.3 -2.9L16 -3.4M18.3 -2.9L21.5 -8M15.2 -9.3L15.2 -9.3M21.8 -0.2L19.7 -0.9M21.8 -0.2L25 -3M21.8 -7.8L21.5 -8M19.7 -0.9L18.3 -2.9M9.5 -5.5L14.3 -2.6M9.9 12.5L12.4 12.5M20.1 19.5L16.9 17.1M14.4 17.1L16.9 17.1M8.5 -0.2L9.6 0.6M10 5.4L9.6 0.6M14.3 -2.6L13.5 0.1M9.6 0.6L13.5 0.1M19.7 -0.9L15.7 3.5M13.5 0.1L15.7 3.5M10 5.4L14.3 6.6M14.8 8.9L14.3 6.6M15.7 3.5L15.7 4.4M15.7 4.4L14.3 6.6M21.8 -0.2L22.4 1.7M20.6 4.9L22.4 1.7M22.4 1.7L25.4 3.1M21.8 7.1L25.2 6.3M21.8 7.1L20.6 11M27.7 8.3L25.2 6.3M27.7 8.3L24.5 12.5M24.5 12.5L23.4 12.7M20.7 11.3L20.6 11M20.6 4.9L21.8 7.1M25.4 3.1L25.2 6.3M14.8 8.9L20.6 11M28.9 15.5L24.5 12.5M22.5 18.9L23.4 12.7M16.9 17.1L20.7 11.3" stroke="#d6d6e0" stroke-width="1.1" fill="none" stroke-linecap="round"/><path d="M41.9 34h0.01M41.8 34h0.01M39.9 35h0.01M41.1 31.7h0.01M48.6 33.1h0.01M37.4 28h0.01M38.1 27.7h0.01M38.5 25.6h0.01M56.2 67h0.01M47.3 39.2h0.01M65.6 68.3h0.01M65.2 68.4h0.01M62.3 66h0.01M61.7 61.4h0.01M62.3 61.1h0.01M63 63.2h0.01M66.5 33.2h0.01M10.4 33.6h0.01M1 36.5h0.01M46.7 25.4h0.01M35.9 68.9h0.01M37.8 -0.8h0.01M37.8 69.2h0.01M54 59.4h0.01M53.3 65.5h0.01M47.1 54.7h0.01M47.5 62.7h0.01M0 27.8h0.01M70 27.8h0.01M61.5 46.7h0.01M59.5 28.3h0.01M62.8 23.2h0.01M61.6 23.5h0.01M61.8 23.8h0.01M44 1.6h0.01M46.7 4.9h0.01M46.4 4.3h0.01M46.7 19.6h0.01M41.2 22.4h0.01M45.1 25.4h0.01M49.6 21.5h0.01M27.5 28.2h0.01M25.1 31.7h0.01M24.3 35.2h0.01M18.1 30.3h0.01M14.1 33.7h0.01M17.1 35h0.01M9 39.1h0.01M9.1 38.9h0.01M13.8 33.9h0.01M11.9 41.8h0.01M18.5 39.2h0.01M45.2 49.7h0.01M64.5 41.5h0.01M64 41.7h0.01M53.7 45.6h0.01M50 41.2h0.01M68.1 55.4h0.01M68.6 44.3h0.01M67.8 50.8h0.01M52.7 17.8h0.01M52.1 17.1h0.01M61.9 22.3h0.01M61.8 20.9h0.01M68.5 42.9h0.01M44.2 7.8h0.01M45.5 9h0.01M45.2 8.2h0.01M46.1 5.4h0.01M49.8 14.6h0.01M29.9 68.5h0.01M24 39h0.01M26 38.2h0.01M26.2 41.7h0.01M22.7 44.4h0.01M39 65.9h0.01M40.1 66.9h0.01M43.3 47.7h0.01M39.7 59.5h0.01M65.5 9h0.01M68.8 12.9h0.01M21.5 -0.2h0.01M21.5 69.8h0.01M23.5 68.1h0.01M29.9 63.8h0.01M19 67.2h0.01M19.2 65.9h0.01M4.1 40.8h0.01M2.8 20h0.01M3.2 18.5h0.01M9.8 23.8h0.01M9.8 27.5h0.01M18.8 27.3h0.01M18.3 25.6h0.01M17.3 25.2h0.01M22.3 26.3h0.01M19.1 25.7h0.01M24.3 26.3h0.01M8.5 18.2h0.01M12.3 17.9h0.01M12 18.5h0.01M37.5 8.8h0.01M2.2 -0.5h0.01M2.2 69.5h0.01M8.4 67.5h0.01M3.5 60.5h0.01M50.4 12.8h0.01M56.6 12.1h0.01M63 2.6h0.01M63.9 7.6h0.01M36.3 46.7h0.01M38.6 43.2h0.01M39 40.7h0.01M39.8 53.5h0.01M36.7 53.8h0.01M35.3 57.8h0.01M31.7 59.6h0.01M33.3 56.2h0.01M27.5 58.8h0.01M15.1 58.7h0.01M16.5 54.7h0.01M5.9 50.8h0.01M4.8 51.6h0.01M11.3 62.3h0.01M14.1 0.1h0.01M14.1 70.1h0.01M17.7 67h0.01M21.2 50.5h0.01M15.4 46.6h0.01M1.9 10.8h0.01M2.5 10.4h0.01M25.7 21.6h0.01M32.9 12.6h0.01M22.9 55.9h0.01M10.2 51h0.01M11.4 50.6h0.01M14 53.1h0.01M19.5 23h0.01M7.8 -0.1h0.01M7.8 69.9h0.01M7.1 16.4h0.01M5.7 10.7h0.01M6.4 10.6h0.01M9.4 11.8h0.01M32.2 4.9h0.01M28.9 3h0.01M31.4 11.9h0.01M14.7 17.1h0.01M9.8 5h0.01M10.1 2.3h0.01M15.9 3.1h0.01M15.5 2.8h0.01M9.7 5.7h0.01M22.6 1.9h0.01M23.7 6.8h0.01M26.8 9h0.01M24.7 5.7h0.01M27.2 14.2h0.01" stroke="#686b96" stroke-width="1.2" stroke-linecap="round" fill="none"/><path d="M39.4 40.4h0.01M43.7 38.3h0.01M39.7 40.7h0.01M41.3 32.3h0.01M47.1 34.7h0.01M39.5 29.7h0.01M32.4 30.3h0.01M32.8 32.5h0.01M38.5 22.8h0.01M38.1 26h0.01M33.1 23.8h0.01M32.5 25.2h0.01M63.2 67h0.01M56 0h0.01M56 70h0.01M43.6 42.2h0.01M-0.7 65h0.01M69.3 65h0.01M-0.4 65h0.01M69.6 65h0.01M65.9 67.9h0.01M63 64.2h0.01M59.7 59.6h0.01M66.4 29h0.01M62.3 29.3h0.01M63.4 29.1h0.01M60.9 29h0.01M9 31.8h0.01M10.4 32.9h0.01M6.6 37.1h0.01M9.7 35h0.01M2.6 32.2h0.01M2.1 37.8h0.01M52.2 30.3h0.01M48.1 25.5h0.01M33.6 -0.3h0.01M33.6 69.7h0.01M31.6 32.3h0.01M51.8 57.1h0.01M51.6 57.5h0.01M48.5 57h0.01M48 57.7h0.01M47.6 53.1h0.01M48.8 67.7h0.01M53.2 66.8h0.01M51.4 67.1h0.01M67.6 38h0.01M55.7 31.7h0.01M61.9 24h0.01M68.8 3.8h0.01M1.6 31.6h0.01M2.3 31h0.01M40.9 19.4h0.01M50.4 22.2h0.01M35.9 16.5h0.01M35.8 17h0.01M29.2 32h0.01M27.8 27.8h0.01M21.4 31.5h0.01M23.9 36.8h0.01M18.2 35.9h0.01M19.2 31.1h0.01M45.6 45.6h0.01M52.1 47.6h0.01M49.4 46h0.01M54.5 36.2h0.01M61.2 36h0.01M53.9 46.2h0.01M54.1 45.1h0.01M51.4 40.6h0.01M61 57.8h0.01M64 57.7h0.01M63.4 57h0.01M66.3 47.5h0.01M67.6 50.8h0.01M65.1 50.2h0.01M68.5 51.7h0.01M54.6 19.9h0.01M55.4 17.9h0.01M48.6 19.1h0.01M52.2 22.6h0.01M56 24.8h0.01M61.2 21.3h0.01M63.4 17.3h0.01M-0.4 42.8h0.01M69.6 42.8h0.01M0.4 42.4h0.01M70.4 42.4h0.01M40.2 3.8h0.01M53.1 3.6h0.01M51.6 3.4h0.01M53.9 3.5h0.01M66.5 2.2h0.01M31.8 67.9h0.01M22.9 39.7h0.01M25.3 39.2h0.01M21.8 44.1h0.01M40 67.4h0.01M45.9 63.4h0.01M43.4 68.1h0.01M42.9 54.1h0.01M44.4 53.8h0.01M40.6 49.2h0.01M41.3 57.5h0.01M67.4 9h0.01M67.2 13.1h0.01M67.9 20.3h0.01M66.4 19h0.01M67.5 23.1h0.01M-0.1 15.7h0.01M69.9 15.7h0.01M24.1 66.3h0.01M26.8 67.2h0.01M32.2 63.7h0.01M22 61.8h0.01M2.5 21.9h0.01M8.1 26.3h0.01M7.4 26.2h0.01M8 27.9h0.01M8.5 27.4h0.01M8 18.9h0.01M8.2 18.3h0.01M34 1.1h0.01M33.5 3.5h0.01M6 63.5h0.01M1.1 49.3h0.01M54 5h0.01M58.1 7.4h0.01M58.5 8h0.01M59.8 9.1h0.01M59.6 8.4h0.01M63.6 9.1h0.01M59.2 2.7h0.01M32.2 51.1h0.01M35.3 57.5h0.01M32 60.4h0.01M16.2 57.4h0.01M5.9 49.8h0.01M13.6 44.9h0.01M13.4 47.8h0.01M27.3 20.4h0.01M29.4 18h0.01M23.5 56.9h0.01M22.6 56.6h0.01M22.5 50.6h0.01M29.5 52.8h0.01M27.3 47.8h0.01M27.1 48.3h0.01M11.8 55.6h0.01M11.3 51.4h0.01M8.5 56.3h0.01M7.7 57.3h0.01M7.6 57.6h0.01M3 0.5h0.01M3 70.5h0.01M7.1 10h0.01M9.7 12.1h0.01M18.1 17.4h0.01M9.5 0.6h0.01M9.5 70.6h0.01M19.7 -0.8h0.01M19.7 69.2h0.01M17.2 1.6h0.01M19.1 -0.4h0.01M19.1 69.6h0.01M11.4 5.7h0.01M15.4 4.7h0.01M21.3 3.6h0.01M23.9 6.8h0.01M26.5 9.7h0.01M20.3 5.3h0.01M25.7 13.2h0.01M23.2 13.1h0.01M20.3 12.7h0.01M20.5 11.6h0.01" stroke="#8487ad" stroke-width="1.2" stroke-linecap="round" fill="none"/><path d="M39.4 39.5h0.01M45.8 36h0.01M45.4 38h0.01M43.1 29.5h0.01M32.9 31h0.01M32.8 32.7h0.01M37.9 22.7h0.01M38.5 23.9h0.01M45.1 44.7h0.01M45.8 44.9h0.01M46.7 39.1h0.01M59.6 59.3h0.01M10.4 34.5h0.01M0 35.2h0.01M70 35.2h0.01M1.9 37.4h0.01M49 32.7h0.01M52.7 58h0.01M56.9 60.8h0.01M54.9 66.7h0.01M53.8 65.8h0.01M50.6 51.6h0.01M54.9 54.1h0.01M57.4 53.9h0.01M47.2 64.1h0.01M51.7 47.7h0.01M68.8 36.4h0.01M68.9 36.2h0.01M60.2 45h0.01M61.8 47.2h0.01M52 29.6h0.01M66.6 26.4h0.01M63.9 23.8h0.01M68.8 4.8h0.01M44.1 0.7h0.01M44.1 70.7h0.01M40.8 19.4h0.01M43.6 18.1h0.01M45.3 19.2h0.01M41.1 22.6h0.01M43.1 24.5h0.01M42.5 15.5h0.01M50.2 25.3h0.01M40 22.3h0.01M33.8 22.3h0.01M32.9 19.8h0.01M23.8 31.3h0.01M20.5 32.9h0.01M23.2 36.4h0.01M22 36.4h0.01M16.2 31.6h0.01M19.1 39.5h0.01M51.5 47.8h0.01M45.7 51.5h0.01M45.8 50.6h0.01M54.3 36.7h0.01M60.1 36.6h0.01M60.3 43.1h0.01M68.8 44h0.01M-0.2 50.5h0.01M69.8 50.5h0.01M64.4 46.1h0.01M62.9 46.2h0.01M69 55.2h0.01M55 18.2h0.01M57 17.1h0.01M58.8 19.5h0.01M58.7 18.9h0.01M52.7 17.2h0.01M40.3 11.8h0.01M40.4 12.3h0.01M40.5 10.9h0.01M44.5 8.6h0.01M44.3 12.3h0.01M49.7 16.1h0.01M45.8 13.6h0.01M54.6 1.6h0.01M66.2 2.7h0.01M23.2 39.5h0.01M19.5 41.6h0.01M32 67.4h0.01M32 66.8h0.01M32.5 63.7h0.01M44.1 63.4h0.01M40.2 67.7h0.01M39.8 49.7h0.01M41.5 57.6h0.01M37.4 60.7h0.01M63.9 17.9h0.01M67.9 21.8h0.01M23.6 64.6h0.01M20.6 -0.5h0.01M20.6 69.5h0.01M19 66h0.01M20.4 64.6h0.01M3.5 40h0.01M6 43.1h0.01M9.7 43.6h0.01M9.8 43.7h0.01M0.8 16.9h0.01M70.8 16.9h0.01M3.1 26.4h0.01M9.2 23.4h0.01M11.9 27.5h0.01M11.6 28h0.01M23.3 28.1h0.01M23.1 26.6h0.01M24.2 25.4h0.01M3.1 16.5h0.01M39.4 9.1h0.01M34.4 11.2h0.01M0.8 67h0.01M70.8 67h0.01M8.3 68.5h0.01M9.2 64.1h0.01M1.3 61.4h0.01M5.4 63.5h0.01M50.4 10.4h0.01M58 13.2h0.01M54.2 12.4h0.01M52.8 12h0.01M63.6 5h0.01M64.7 8.7h0.01M60.3 2.8h0.01M58.5 9.2h0.01M57.8 12.3h0.01M36.3 47.2h0.01M36 47h0.01M28.2 44.7h0.01M42 46.8h0.01M41.3 46.2h0.01M37.1 54.1h0.01M33.8 48.8h0.01M35.7 58.5h0.01M30.8 59h0.01M2.6 50.4h0.01M1.2 49.9h0.01M5.1 51.1h0.01M10.2 62.5h0.01M14 66.9h0.01M14.3 67.6h0.01M10.4 64.8h0.01M12.2 43.1h0.01M13.1 43.8h0.01M13.1 48.8h0.01M19.2 49.7h0.01M18.3 45.8h0.01M18.7 45.3h0.01M15.5 47.4h0.01M2.2 11.1h0.01M0.5 7.8h0.01M70.5 7.8h0.01M4.4 13.2h0.01M4.8 14.1h0.01M30.2 25.5h0.01M24 25.1h0.01M27.6 18.7h0.01M24.9 57.4h0.01M23.2 55h0.01M27.5 46.6h0.01M13.3 53.4h0.01M9 57.5h0.01M18.8 23.5h0.01M19.2 21.9h0.01M20.5 19.3h0.01M6.4 0.3h0.01M6.4 70.3h0.01M1.7 6.2h0.01M0.6 7.6h0.01M70.6 7.6h0.01M7.6 15.8h0.01M27.5 1.5h0.01M28.4 2.9h0.01M32.1 11.8h0.01M10.4 0.7h0.01M10.4 70.7h0.01M12.3 0.4h0.01M12.3 70.4h0.01M14.4 8.3h0.01M22.1 0.6h0.01M22.1 70.6h0.01M23.8 2h0.01M20.8 9.4h0.01M20.5 10h0.01M27.5 8.6h0.01M21.1 11.6h0.01M20.6 4.7h0.01M25 5.4h0.01M16.8 9.9h0.01M15.9 10h0.01M22.6 15h0.01M18.3 15.3h0.01" stroke="#a6a8c2" stroke-width="1.2" stroke-linecap="round" fill="none"/></pattern>
<pattern id="bd" width="57" height="57" patternUnits="userSpaceOnUse"><path d="M35.8 40.5h0.01M37 40.6h0.01M35.1 42.1h0.01M37.2 45h0.01M33.7 40.7h0.01M0.5 51.3h0.01M1.4 48.3h0.01M54.2 48.9h0.01M1.6 52.9h0.01M2.4 50h0.01M24.4 18.4h0.01M28.9 21.2h0.01M43.1 44.9h0.01M40.4 45h0.01M29.2 25.2h0.01M26.6 22.1h0.01M28.1 26.3h0.01M23.8 21.7h0.01M27 26h0.01M28.5 22.7h0.01M39.2 32.2h0.01M4 41.8h0.01M5.8 41.1h0.01M5.9 38.1h0.01M14.2 1h0.01M10 56.6h0.01M10.4 4.1h0.01M28.2 28.9h0.01" stroke="#6a5440" stroke-width="1.3" stroke-linecap="round" fill="none"/><path d="M34 40.1h0.01M36.5 41.6h0.01M34.2 43.1h0.01M3.4 49h0.01M56 51.4h0.01M28.7 19.2h0.01M43.3 47.9h0.01M40.7 44.9h0.01M44.4 47.8h0.01M42.5 43.3h0.01M27.1 22.4h0.01M28.4 23.7h0.01M25.2 22.2h0.01M19.3 22.3h0.01M17.6 21.9h0.01M14.5 25.5h0.01M15.6 20.3h0.01M14.6 25.3h0.01M15.8 19.6h0.01M39.7 33.3h0.01M36.2 34.8h0.01M38.2 30.5h0.01M39.1 30.9h0.01M38.6 32.9h0.01M1 37.9h0.01M4 37.7h0.01M7.2 40.5h0.01M11.1 2h0.01M9.1 1.4h0.01M31.9 28.5h0.01M33 25.3h0.01M28.4 24.2h0.01M27.5 28.2h0.01M29.8 30.1h0.01" stroke="#7e6650" stroke-width="1.3" stroke-linecap="round" fill="none"/><path d="M36.5 38.9h0.01M56.9 51.7h0.01M54.7 48.2h0.01M27.3 21.5h0.01M26 19.8h0.01M27.9 15.9h0.01M28.7 16h0.01M26.2 19.8h0.01M27.4 20.4h0.01M44.5 44.4h0.01M41.5 48.5h0.01M43.1 46.1h0.01M17.9 24.8h0.01M16.1 26.2h0.01M17.5 21.4h0.01M35.4 35.5h0.01M39.5 32.4h0.01M39.3 32.1h0.01M2 39.7h0.01M2.2 36h0.01M5.8 40.3h0.01M8.9 2.5h0.01M12.5 2.7h0.01M9 1.4h0.01M8.2 3.6h0.01M34.1 25.7h0.01M33.4 28.4h0.01M31.9 26.7h0.01" stroke="#54402e" stroke-width="1.3" stroke-linecap="round" fill="none"/></pattern>
<filter id="wob2" x="-5%" y="-5%" width="110%" height="110%"><feTurbulence type="fractalNoise" baseFrequency="0.07" numOctaves="2" seed="9"/><feDisplacementMap in="SourceGraphic" scale="7" xChannelSelector="R" yChannelSelector="G"/><feGaussianBlur stdDeviation="0.3"/></filter>
<filter id="hb" x="-20%" y="-20%" width="140%" height="140%"><feGaussianBlur stdDeviation="0.7"/></filter>
<clipPath id="cG00"><rect x="255.1" y="348" width="126.40" height="72.40"/></clipPath>
<clipPath id="cG01"><rect x="384.6" y="348" width="126.80" height="72.40"/></clipPath>
<clipPath id="cG02"><rect x="514.3" y="348" width="126.30" height="72.40"/></clipPath>
<clipPath id="cG10"><rect x="255.1" y="423.2" width="126.40" height="72.00"/></clipPath>
<clipPath id="cG11"><rect x="384.6" y="423.2" width="126.80" height="72.00"/></clipPath>
<clipPath id="cG12"><rect x="514.3" y="423.2" width="126.30" height="72.00"/></clipPath>
<clipPath id="cH00"><rect x="255.1" y="519.5" width="126.40" height="71.90"/></clipPath>
<clipPath id="cH01"><rect x="384.6" y="519.5" width="126.80" height="71.90"/></clipPath>
<clipPath id="cH02"><rect x="514.3" y="519.5" width="126.30" height="71.90"/></clipPath>
<clipPath id="cH10"><rect x="255.1" y="595.3" width="126.40" height="71.80"/></clipPath>
<clipPath id="cH11"><rect x="384.6" y="595.3" width="126.80" height="71.80"/></clipPath>
<clipPath id="cH12"><rect x="514.3" y="595.3" width="126.30" height="71.80"/></clipPath>
</defs>
<text x="0.8" y="11.7" font-size="15" text-anchor="start" fill="#1a1a1a" >A</text>
<text x="130.2" y="11.6" font-size="15" text-anchor="start" fill="#1a1a1a" >B</text>
<text x="489.3" y="11.2" font-size="15" text-anchor="start" fill="#1a1a1a" >C</text>
<text x="1.6" y="208.4" font-size="15" text-anchor="start" fill="#1a1a1a" >D</text>
<text x="229.8" y="209.2" font-size="15" text-anchor="start" fill="#1a1a1a" >E</text>
<text x="474.6" y="208.4" font-size="15" text-anchor="start" fill="#1a1a1a" >F</text>
<text x="229.2" y="343.2" font-size="15" text-anchor="start" fill="#1a1a1a" >G</text>
<text x="231.2" y="514.4" font-size="15" text-anchor="start" fill="#1a1a1a" >H</text>
<text x="1" y="343.2" font-size="15" text-anchor="start" fill="#1a1a1a" >I</text>
<text x="1" y="514.4" font-size="15" text-anchor="start" fill="#1a1a1a" >J</text>
<rect x="540.9" y="169.86" width="14.6" height="6.39" fill="#dcd8ea" stroke="#7b63ad" stroke-width="1.2"/>
<rect x="563.9" y="111.07" width="14.6" height="65.18" fill="#f0dfcc" stroke="#d4813f" stroke-width="1.2"/>
<rect x="586.6" y="148.77" width="14.6" height="27.48" fill="#f6efe3" stroke="#e8bf92" stroke-width="1.2"/>
<rect x="609.3" y="171.14" width="14.6" height="5.11" fill="#ecebf4" stroke="#c4c0de" stroke-width="1.2"/>
<rect x="631.9" y="147.5" width="14.6" height="28.75" fill="#ecd6ce" stroke="#c83c40" stroke-width="1.2"/>
<rect x="654.7" y="153.88" width="14.6" height="22.37" fill="#dbe2eb" stroke="#5a8db3" stroke-width="1.2"/>
<circle cx="548.2" cy="163.47" r="1.95" fill="#7458a8"/>
<circle cx="543.2" cy="169.86" r="1.95" fill="#7458a8"/>
<circle cx="546.5" cy="169.86" r="1.95" fill="#7458a8"/>
<circle cx="549.9" cy="169.86" r="1.95" fill="#7458a8"/>
<circle cx="553.2" cy="169.86" r="1.95" fill="#7458a8"/>
<circle cx="548.2" cy="176.25" r="1.95" fill="#7458a8"/>
<path d="M548.2 171.78V167.94M544.4 167.94H552M544.4 171.78H552" stroke="#7b63ad" stroke-width="1.1" fill="none"/>
<circle cx="571.2" cy="99.57" r="1.95" fill="#d27a3a"/>
<circle cx="571.2" cy="105.96" r="1.95" fill="#d27a3a"/>
<circle cx="567" cy="112.35" r="1.95" fill="#d27a3a"/>
<circle cx="575.4" cy="112.35" r="1.95" fill="#d27a3a"/>
<circle cx="567" cy="118.74" r="1.95" fill="#d27a3a"/>
<circle cx="575.4" cy="118.74" r="1.95" fill="#d27a3a"/>
<path d="M571.2 114.27V107.88M567.4 107.88H575M567.4 114.27H575" stroke="#d4813f" stroke-width="1.1" fill="none"/>
<circle cx="593.9" cy="137.91" r="1.95" fill="#e6b47e"/>
<circle cx="590.3" cy="144.3" r="1.95" fill="#e6b47e"/>
<circle cx="597.5" cy="144.3" r="1.95" fill="#e6b47e"/>
<circle cx="590.3" cy="157.08" r="1.95" fill="#e6b47e"/>
<circle cx="597.5" cy="157.08" r="1.95" fill="#e6b47e"/>
<circle cx="593.9" cy="149.41" r="1.95" fill="#e6b47e"/>
<path d="M593.9 152.29V145.26M590.1 145.26H597.7M590.1 152.29H597.7" stroke="#e8bf92" stroke-width="1.1" fill="none"/>
<circle cx="616.6" cy="163.47" r="1.95" fill="#bbb5d8"/>
<circle cx="611.6" cy="169.54" r="1.95" fill="#bbb5d8"/>
<circle cx="616.6" cy="169.54" r="1.95" fill="#bbb5d8"/>
<circle cx="621.6" cy="169.54" r="1.95" fill="#bbb5d8"/>
<circle cx="613.6" cy="176.25" r="1.95" fill="#bbb5d8"/>
<circle cx="619.6" cy="176.25" r="1.95" fill="#bbb5d8"/>
<path d="M616.6 173.06V169.22M612.8 169.22H620.4M612.8 173.06H620.4" stroke="#c4c0de" stroke-width="1.1" fill="none"/>
<circle cx="639.2" cy="137.91" r="1.95" fill="#c8343a"/>
<circle cx="635.4" cy="144.3" r="1.95" fill="#c8343a"/>
<circle cx="643" cy="144.3" r="1.95" fill="#c8343a"/>
<circle cx="635.4" cy="150.69" r="1.95" fill="#c8343a"/>
<circle cx="643" cy="150.69" r="1.95" fill="#c8343a"/>
<circle cx="639.2" cy="157.08" r="1.95" fill="#c8343a"/>
<path d="M639.2 150.69V144.3M635.4 144.3H643M635.4 150.69H643" stroke="#c83c40" stroke-width="1.1" fill="none"/>
<circle cx="662" cy="144.3" r="1.95" fill="#4b87b0"/>
<circle cx="658" cy="150.69" r="1.95" fill="#4b87b0"/>
<circle cx="666" cy="150.69" r="1.95" fill="#4b87b0"/>
<circle cx="658" cy="157.08" r="1.95" fill="#4b87b0"/>
<circle cx="666" cy="157.08" r="1.95" fill="#4b87b0"/>
<circle cx="662" cy="163.47" r="1.95" fill="#4b87b0"/>
<path d="M662 157.08V150.69M658.2 150.69H665.8M658.2 157.08H665.8" stroke="#5a8db3" stroke-width="1.1" fill="none"/>
<path d="M533.4 79.9V176.25H677.5M526.4 176.25H533.4M526.4 144.3H533.4M526.4 112.35H533.4M526.4 80.4H533.4M548.2 176.25V183.25M571.2 176.25V183.25M593.9 176.25V183.25M616.6 176.25V183.25M639.2 176.25V183.25M662 176.25V183.25" stroke="#222" stroke-width="1.2" fill="none"/>
<text x="524.1" y="179.85" font-size="10.1" text-anchor="end" fill="#1a1a1a" >0</text>
<text x="524.1" y="147.9" font-size="10.1" text-anchor="end" fill="#1a1a1a" >5</text>
<text x="524.1" y="115.95" font-size="10.1" text-anchor="end" fill="#1a1a1a" >10</text>
<text x="524.1" y="84" font-size="10.1" text-anchor="end" fill="#1a1a1a" >15</text>
<path d="M570.4 91.8H593.9" stroke="#767070" stroke-width="1.2"/>
<text x="583.15" y="90.4" font-size="9.2" text-anchor="middle" fill="#1a1a1a" letter-spacing="0.9">***</text>
<path d="M639.5 130.2H663" stroke="#acacac" stroke-width="1.4"/>
<text x="651.25" y="127.4" font-size="10.4" text-anchor="middle" fill="#1a1a1a" >ns</text>
<rect x="48.3" y="289.13" width="14.6" height="25.87" fill="#dcd8ea" stroke="#7b63ad" stroke-width="1.2"/>
<rect x="71.2" y="233.57" width="14.6" height="81.43" fill="#f0dfcc" stroke="#d4813f" stroke-width="1.2"/>
<rect x="93.7" y="271.89" width="14.6" height="43.11" fill="#f6efe3" stroke="#e8bf92" stroke-width="1.2"/>
<rect x="116.45" y="295.84" width="14.6" height="19.16" fill="#ecebf4" stroke="#c4c0de" stroke-width="1.2"/>
<rect x="139" y="269.02" width="14.6" height="45.98" fill="#ecd6ce" stroke="#c83c40" stroke-width="1.2"/>
<rect x="161.9" y="269.97" width="14.6" height="45.03" fill="#dbe2eb" stroke="#5a8db3" stroke-width="1.2"/>
<circle cx="49.6" cy="280.51" r="1.95" fill="#7458a8"/>
<circle cx="55.6" cy="282.43" r="1.95" fill="#7458a8"/>
<circle cx="61.6" cy="281.47" r="1.95" fill="#7458a8"/>
<circle cx="55.6" cy="292.01" r="1.95" fill="#7458a8"/>
<circle cx="60.6" cy="289.13" r="1.95" fill="#7458a8"/>
<circle cx="55.6" cy="302.55" r="1.95" fill="#7458a8"/>
<path d="M55.6 293.35V284.92M51.8 284.92H59.4M51.8 293.35H59.4" stroke="#7b63ad" stroke-width="1.1" fill="none"/>
<circle cx="78.5" cy="227.63" r="1.95" fill="#d27a3a"/>
<circle cx="73.5" cy="232.61" r="1.95" fill="#d27a3a"/>
<circle cx="76.5" cy="234.53" r="1.95" fill="#d27a3a"/>
<circle cx="80.5" cy="233.57" r="1.95" fill="#d27a3a"/>
<circle cx="83.5" cy="232.61" r="1.95" fill="#d27a3a"/>
<circle cx="78.5" cy="237.4" r="1.95" fill="#d27a3a"/>
<path d="M78.5 234.91V232.23M74.7 232.23H82.3M74.7 234.91H82.3" stroke="#d4813f" stroke-width="1.1" fill="none"/>
<circle cx="95.8" cy="267.1" r="1.95" fill="#e6b47e"/>
<circle cx="101" cy="269.21" r="1.95" fill="#e6b47e"/>
<circle cx="106.8" cy="269.02" r="1.95" fill="#e6b47e"/>
<circle cx="98.5" cy="272.85" r="1.95" fill="#e6b47e"/>
<circle cx="103.5" cy="273.81" r="1.95" fill="#e6b47e"/>
<circle cx="101" cy="277.64" r="1.95" fill="#e6b47e"/>
<path d="M101 273.81V269.97M97.2 269.97H104.8M97.2 273.81H104.8" stroke="#e8bf92" stroke-width="1.1" fill="none"/>
<circle cx="123.75" cy="287.22" r="1.95" fill="#bbb5d8"/>
<circle cx="123.75" cy="292.58" r="1.95" fill="#bbb5d8"/>
<circle cx="118.55" cy="295.84" r="1.95" fill="#bbb5d8"/>
<circle cx="129.55" cy="295.84" r="1.95" fill="#bbb5d8"/>
<circle cx="123.75" cy="299.67" r="1.95" fill="#bbb5d8"/>
<circle cx="123.75" cy="306.76" r="1.95" fill="#bbb5d8"/>
<path d="M123.75 298.71V292.97M119.95 292.97H127.55M119.95 298.71H127.55" stroke="#c4c0de" stroke-width="1.1" fill="none"/>
<circle cx="140.5" cy="268.06" r="1.95" fill="#c8343a"/>
<circle cx="143.6" cy="269.02" r="1.95" fill="#c8343a"/>
<circle cx="146.8" cy="268.63" r="1.95" fill="#c8343a"/>
<circle cx="151.9" cy="269.4" r="1.95" fill="#c8343a"/>
<circle cx="152.5" cy="264.61" r="1.95" fill="#c8343a"/>
<circle cx="146.3" cy="274" r="1.95" fill="#c8343a"/>
<path d="M146.3 270.55V267.48M142.5 267.48H150.1M142.5 270.55H150.1" stroke="#c83c40" stroke-width="1.1" fill="none"/>
<circle cx="163.3" cy="264.42" r="1.95" fill="#4b87b0"/>
<circle cx="169.2" cy="267.48" r="1.95" fill="#4b87b0"/>
<circle cx="174.8" cy="264.42" r="1.95" fill="#4b87b0"/>
<circle cx="163.3" cy="275.34" r="1.95" fill="#4b87b0"/>
<circle cx="174.8" cy="274.38" r="1.95" fill="#4b87b0"/>
<circle cx="169.2" cy="272.27" r="1.95" fill="#4b87b0"/>
<path d="M169.2 271.89V268.06M165.4 268.06H173M165.4 271.89H173" stroke="#5a8db3" stroke-width="1.1" fill="none"/>
<path d="M40.6 218.7V315H184.2M33.6 315H40.6M33.6 295.84H40.6M33.6 276.68H40.6M33.6 257.52H40.6M33.6 238.36H40.6M33.6 219.2H40.6M55.6 315V322M78.5 315V322M101 315V322M123.75 315V322M146.3 315V322M169.2 315V322" stroke="#222" stroke-width="1.2" fill="none"/>
<text x="31.3" y="318.6" font-size="10.1" text-anchor="end" fill="#1a1a1a" >0</text>
<text x="31.3" y="299.44" font-size="10.1" text-anchor="end" fill="#1a1a1a" >1</text>
<text x="31.3" y="280.28" font-size="10.1" text-anchor="end" fill="#1a1a1a" >2</text>
<text x="31.3" y="261.12" font-size="10.1" text-anchor="end" fill="#1a1a1a" >3</text>
<text x="31.3" y="241.96" font-size="10.1" text-anchor="end" fill="#1a1a1a" >4</text>
<text x="31.3" y="222.8" font-size="10.1" text-anchor="end" fill="#1a1a1a" >5</text>
<path d="M77.5 219.6H100.8" stroke="#767070" stroke-width="1.2"/>
<text x="90.15" y="218.2" font-size="9.2" text-anchor="middle" fill="#1a1a1a" letter-spacing="0.9">***</text>
<path d="M146.7 257.7H170" stroke="#acacac" stroke-width="1.4"/>
<text x="158.35" y="254.9" font-size="10.4" text-anchor="middle" fill="#1a1a1a" >ns</text>
<rect x="281.9" y="270.93" width="14.6" height="44.07" fill="#dcd8ea" stroke="#7b63ad" stroke-width="1.2"/>
<rect x="304.6" y="233.57" width="14.6" height="81.43" fill="#f0dfcc" stroke="#d4813f" stroke-width="1.2"/>
<rect x="327.2" y="253.21" width="14.6" height="61.79" fill="#f6efe3" stroke="#e8bf92" stroke-width="1.2"/>
<rect x="349.8" y="265.66" width="14.6" height="49.34" fill="#ecebf4" stroke="#c4c0de" stroke-width="1.2"/>
<rect x="372.5" y="250.81" width="14.6" height="64.19" fill="#ecd6ce" stroke="#c83c40" stroke-width="1.2"/>
<rect x="395.4" y="249.86" width="14.6" height="65.14" fill="#dbe2eb" stroke="#5a8db3" stroke-width="1.2"/>
<circle cx="289.2" cy="256.27" r="1.95" fill="#7458a8"/>
<circle cx="284" cy="272.27" r="1.95" fill="#7458a8"/>
<circle cx="294.8" cy="270.17" r="1.95" fill="#7458a8"/>
<circle cx="284" cy="275.72" r="1.95" fill="#7458a8"/>
<circle cx="294.8" cy="275.72" r="1.95" fill="#7458a8"/>
<circle cx="289.2" cy="273.33" r="1.95" fill="#7458a8"/>
<path d="M289.2 273.81V268.06M285.4 268.06H293M285.4 273.81H293" stroke="#7b63ad" stroke-width="1.1" fill="none"/>
<circle cx="305.4" cy="230.03" r="1.95" fill="#d27a3a"/>
<circle cx="311.9" cy="229.74" r="1.95" fill="#d27a3a"/>
<circle cx="318.3" cy="227.82" r="1.95" fill="#d27a3a"/>
<circle cx="307.9" cy="233.57" r="1.95" fill="#d27a3a"/>
<circle cx="314.9" cy="233.57" r="1.95" fill="#d27a3a"/>
<circle cx="308.4" cy="239.61" r="1.95" fill="#d27a3a"/>
<circle cx="315.9" cy="239.61" r="1.95" fill="#d27a3a"/>
<path d="M311.9 235.49V231.65M308.1 231.65H315.7M308.1 235.49H315.7" stroke="#d4813f" stroke-width="1.1" fill="none"/>
<circle cx="330.5" cy="241.71" r="1.95" fill="#e6b47e"/>
<circle cx="337.5" cy="239.99" r="1.95" fill="#e6b47e"/>
<circle cx="334.5" cy="250.43" r="1.95" fill="#e6b47e"/>
<circle cx="334.5" cy="257.71" r="1.95" fill="#e6b47e"/>
<circle cx="330.5" cy="268.06" r="1.95" fill="#e6b47e"/>
<circle cx="337.5" cy="265.18" r="1.95" fill="#e6b47e"/>
<path d="M334.5 258V248.42M330.7 248.42H338.3M330.7 258H338.3" stroke="#e8bf92" stroke-width="1.1" fill="none"/>
<circle cx="357.1" cy="258.29" r="1.95" fill="#bbb5d8"/>
<circle cx="351.3" cy="264.03" r="1.95" fill="#bbb5d8"/>
<circle cx="357.1" cy="264.7" r="1.95" fill="#bbb5d8"/>
<circle cx="362.7" cy="266.14" r="1.95" fill="#bbb5d8"/>
<circle cx="354.4" cy="270.17" r="1.95" fill="#bbb5d8"/>
<circle cx="359.8" cy="270.17" r="1.95" fill="#bbb5d8"/>
<path d="M357.1 267.58V263.75M353.3 263.75H360.9M353.3 267.58H360.9" stroke="#c4c0de" stroke-width="1.1" fill="none"/>
<circle cx="385.6" cy="243.15" r="1.95" fill="#c8343a"/>
<circle cx="379.8" cy="246.22" r="1.95" fill="#c8343a"/>
<circle cx="374.2" cy="250.05" r="1.95" fill="#c8343a"/>
<circle cx="385" cy="251.87" r="1.95" fill="#c8343a"/>
<circle cx="379.8" cy="252.35" r="1.95" fill="#c8343a"/>
<circle cx="379.8" cy="259.82" r="1.95" fill="#c8343a"/>
<path d="M379.8 253.69V247.94M376 247.94H383.6M376 253.69H383.6" stroke="#c83c40" stroke-width="1.1" fill="none"/>
<circle cx="397.1" cy="242.19" r="1.95" fill="#4b87b0"/>
<circle cx="402.7" cy="243.15" r="1.95" fill="#4b87b0"/>
<circle cx="408.5" cy="243.15" r="1.95" fill="#4b87b0"/>
<circle cx="402.7" cy="249.38" r="1.95" fill="#4b87b0"/>
<circle cx="402.7" cy="256.66" r="1.95" fill="#4b87b0"/>
<circle cx="402.7" cy="261.54" r="1.95" fill="#4b87b0"/>
<path d="M402.7 252.73V246.98M398.9 246.98H406.5M398.9 252.73H406.5" stroke="#5a8db3" stroke-width="1.1" fill="none"/>
<path d="M274.4 218.7V315H417.9M267.4 315H274.4M267.4 295.84H274.4M267.4 276.68H274.4M267.4 257.52H274.4M267.4 238.36H274.4M267.4 219.2H274.4M289.2 315V322M311.9 315V322M334.5 315V322M357.1 315V322M379.8 315V322M402.7 315V322" stroke="#222" stroke-width="1.2" fill="none"/>
<text x="265.1" y="318.6" font-size="10.1" text-anchor="end" fill="#1a1a1a" >0</text>
<text x="265.1" y="299.44" font-size="10.1" text-anchor="end" fill="#1a1a1a" >2</text>
<text x="265.1" y="280.28" font-size="10.1" text-anchor="end" fill="#1a1a1a" >4</text>
<text x="265.1" y="261.12" font-size="10.1" text-anchor="end" fill="#1a1a1a" >6</text>
<text x="265.1" y="241.96" font-size="10.1" text-anchor="end" fill="#1a1a1a" >8</text>
<text x="265.1" y="222.8" font-size="10.1" text-anchor="end" fill="#1a1a1a" >10</text>
<path d="M310.8 222.3H334.2" stroke="#767070" stroke-width="1.2"/>
<text x="323.5" y="220.9" font-size="9.2" text-anchor="middle" fill="#1a1a1a" letter-spacing="0.9">***</text>
<path d="M380 235.2H403.75" stroke="#acacac" stroke-width="1.4"/>
<text x="391.88" y="232.4" font-size="10.4" text-anchor="middle" fill="#1a1a1a" >ns</text>
<rect x="537.9" y="304.36" width="14.6" height="10.04" fill="#dcd8ea" stroke="#7b63ad" stroke-width="1.2"/>
<rect x="560.6" y="242.66" width="14.6" height="71.74" fill="#f0dfcc" stroke="#d4813f" stroke-width="1.2"/>
<rect x="583.3" y="265.86" width="14.6" height="48.54" fill="#f6efe3" stroke="#e8bf92" stroke-width="1.2"/>
<rect x="606" y="303.64" width="14.6" height="10.76" fill="#ecebf4" stroke="#c4c0de" stroke-width="1.2"/>
<rect x="628.5" y="279.25" width="14.6" height="35.15" fill="#ecd6ce" stroke="#c83c40" stroke-width="1.2"/>
<rect x="651" y="280.44" width="14.6" height="33.96" fill="#dbe2eb" stroke="#5a8db3" stroke-width="1.2"/>
<circle cx="545.2" cy="301.25" r="1.95" fill="#7458a8"/>
<circle cx="540.2" cy="303.64" r="1.95" fill="#7458a8"/>
<circle cx="550.2" cy="303.64" r="1.95" fill="#7458a8"/>
<circle cx="543.2" cy="306.03" r="1.95" fill="#7458a8"/>
<circle cx="548.2" cy="305.31" r="1.95" fill="#7458a8"/>
<circle cx="545.2" cy="307.23" r="1.95" fill="#7458a8"/>
<path d="M545.2 305.55V303.16M541.4 303.16H549M541.4 305.55H549" stroke="#7b63ad" stroke-width="1.1" fill="none"/>
<circle cx="567.9" cy="229.51" r="1.95" fill="#d27a3a"/>
<circle cx="567.9" cy="235.49" r="1.95" fill="#d27a3a"/>
<circle cx="567.9" cy="243.14" r="1.95" fill="#d27a3a"/>
<circle cx="562.7" cy="250.79" r="1.95" fill="#d27a3a"/>
<circle cx="573.1" cy="248.16" r="1.95" fill="#d27a3a"/>
<circle cx="567.9" cy="247.44" r="1.95" fill="#d27a3a"/>
<path d="M567.9 245.77V239.55M564.1 239.55H571.7M564.1 245.77H571.7" stroke="#d4813f" stroke-width="1.1" fill="none"/>
<circle cx="585" cy="255.1" r="1.95" fill="#e6b47e"/>
<circle cx="590.6" cy="256.29" r="1.95" fill="#e6b47e"/>
<circle cx="596.2" cy="255.58" r="1.95" fill="#e6b47e"/>
<circle cx="590.6" cy="263.23" r="1.95" fill="#e6b47e"/>
<circle cx="590.6" cy="277.1" r="1.95" fill="#e6b47e"/>
<circle cx="590.6" cy="286.18" r="1.95" fill="#e6b47e"/>
<path d="M590.6 271.12V260.6M586.8 260.6H594.4M586.8 271.12H594.4" stroke="#e8bf92" stroke-width="1.1" fill="none"/>
<circle cx="607.3" cy="301.49" r="1.95" fill="#bbb5d8"/>
<circle cx="611.3" cy="301.49" r="1.95" fill="#bbb5d8"/>
<circle cx="615.3" cy="301.49" r="1.95" fill="#bbb5d8"/>
<circle cx="619.3" cy="301.49" r="1.95" fill="#bbb5d8"/>
<circle cx="610.8" cy="307.23" r="1.95" fill="#bbb5d8"/>
<circle cx="615.8" cy="307.23" r="1.95" fill="#bbb5d8"/>
<path d="M613.3 304.83V302.44M609.5 302.44H617.1M609.5 304.83H617.1" stroke="#c4c0de" stroke-width="1.1" fill="none"/>
<circle cx="635.8" cy="261.55" r="1.95" fill="#c8343a"/>
<circle cx="635.8" cy="272.79" r="1.95" fill="#c8343a"/>
<circle cx="631.6" cy="284.75" r="1.95" fill="#c8343a"/>
<circle cx="638.8" cy="281.64" r="1.95" fill="#c8343a"/>
<circle cx="631.8" cy="289.05" r="1.95" fill="#c8343a"/>
<circle cx="639.4" cy="286.9" r="1.95" fill="#c8343a"/>
<path d="M635.8 283.79V274.71M632 274.71H639.6M632 283.79H639.6" stroke="#c83c40" stroke-width="1.1" fill="none"/>
<circle cx="651.3" cy="279.01" r="1.95" fill="#4b87b0"/>
<circle cx="654.8" cy="279.73" r="1.95" fill="#4b87b0"/>
<circle cx="658.3" cy="279.01" r="1.95" fill="#4b87b0"/>
<circle cx="661.8" cy="279.97" r="1.95" fill="#4b87b0"/>
<circle cx="665.3" cy="279.01" r="1.95" fill="#4b87b0"/>
<circle cx="658.3" cy="280.21" r="1.95" fill="#4b87b0"/>
<path d="M658.3 281.16V279.73M654.5 279.73H662.1M654.5 281.16H662.1" stroke="#5a8db3" stroke-width="1.1" fill="none"/>
<path d="M530.6 218.25V314.4H673.75M523.6 314.4H530.6M523.6 290.49H530.6M523.6 266.57H530.6M523.6 242.66H530.6M523.6 218.75H530.6M545.2 314.4V321.4M567.9 314.4V321.4M590.6 314.4V321.4M613.3 314.4V321.4M635.8 314.4V321.4M658.3 314.4V321.4" stroke="#222" stroke-width="1.2" fill="none"/>
<text x="521.3" y="318" font-size="10.1" text-anchor="end" fill="#1a1a1a" >0</text>
<text x="521.3" y="294.09" font-size="10.1" text-anchor="end" fill="#1a1a1a" >10</text>
<text x="521.3" y="270.18" font-size="10.1" text-anchor="end" fill="#1a1a1a" >20</text>
<text x="521.3" y="246.26" font-size="10.1" text-anchor="end" fill="#1a1a1a" >30</text>
<text x="521.3" y="222.35" font-size="10.1" text-anchor="end" fill="#1a1a1a" >40</text>
<path d="M569.2 222.3H593.1" stroke="#767070" stroke-width="1.2"/>
<text x="582.15" y="220.9" font-size="9.2" text-anchor="middle" fill="#1a1a1a" letter-spacing="0.9">***</text>
<path d="M637.9 234.8H661.9" stroke="#acacac" stroke-width="1.4"/>
<text x="649.9" y="232" font-size="10.4" text-anchor="middle" fill="#1a1a1a" >ns</text>
<rect x="49.6" y="461.22" width="14.6" height="15.08" fill="#dcd8ea" stroke="#7b63ad" stroke-width="1.2"/>
<rect x="72" y="400.91" width="14.6" height="75.39" fill="#f0dfcc" stroke="#d4813f" stroke-width="1.2"/>
<rect x="94.4" y="428.91" width="14.6" height="47.39" fill="#f6efe3" stroke="#e8bf92" stroke-width="1.2"/>
<rect x="117.2" y="454.04" width="14.6" height="22.26" fill="#ecebf4" stroke="#c4c0de" stroke-width="1.2"/>
<rect x="140" y="426.76" width="14.6" height="49.54" fill="#ecd6ce" stroke="#c83c40" stroke-width="1.2"/>
<rect x="162.3" y="438.25" width="14.6" height="38.05" fill="#dbe2eb" stroke="#5a8db3" stroke-width="1.2"/>
<circle cx="50.9" cy="460.14" r="1.95" fill="#7458a8"/>
<circle cx="53.9" cy="459.79" r="1.95" fill="#7458a8"/>
<circle cx="56.9" cy="460.5" r="1.95" fill="#7458a8"/>
<circle cx="59.9" cy="459.79" r="1.95" fill="#7458a8"/>
<circle cx="62.9" cy="460.14" r="1.95" fill="#7458a8"/>
<circle cx="56.9" cy="461.94" r="1.95" fill="#7458a8"/>
<path d="M56.9 461.94V460.5M53.1 460.5H60.7M53.1 461.94H60.7" stroke="#7b63ad" stroke-width="1.1" fill="none"/>
<circle cx="75.9" cy="384.75" r="1.95" fill="#d27a3a"/>
<circle cx="82.6" cy="384.04" r="1.95" fill="#d27a3a"/>
<circle cx="79.3" cy="399.12" r="1.95" fill="#d27a3a"/>
<circle cx="75.9" cy="403.78" r="1.95" fill="#d27a3a"/>
<circle cx="81.5" cy="407.01" r="1.95" fill="#d27a3a"/>
<circle cx="79.3" cy="420.3" r="1.95" fill="#d27a3a"/>
<path d="M79.3 407.37V394.45M75.5 394.45H83.1M75.5 407.37H83.1" stroke="#d4813f" stroke-width="1.1" fill="none"/>
<circle cx="101.7" cy="416.35" r="1.95" fill="#e6b47e"/>
<circle cx="101.7" cy="420.3" r="1.95" fill="#e6b47e"/>
<circle cx="101.7" cy="423.89" r="1.95" fill="#e6b47e"/>
<circle cx="101.7" cy="429.27" r="1.95" fill="#e6b47e"/>
<circle cx="98.1" cy="443.27" r="1.95" fill="#e6b47e"/>
<circle cx="105.7" cy="441.48" r="1.95" fill="#e6b47e"/>
<path d="M101.7 433.58V424.25M97.9 424.25H105.5M97.9 433.58H105.5" stroke="#e8bf92" stroke-width="1.1" fill="none"/>
<circle cx="119.5" cy="452.61" r="1.95" fill="#bbb5d8"/>
<circle cx="122.5" cy="453.68" r="1.95" fill="#bbb5d8"/>
<circle cx="125.5" cy="454.04" r="1.95" fill="#bbb5d8"/>
<circle cx="128.5" cy="453.68" r="1.95" fill="#bbb5d8"/>
<circle cx="131.5" cy="454.04" r="1.95" fill="#bbb5d8"/>
<circle cx="121.5" cy="456.56" r="1.95" fill="#bbb5d8"/>
<path d="M124.5 454.76V453.32M120.7 453.32H128.3M120.7 454.76H128.3" stroke="#c4c0de" stroke-width="1.1" fill="none"/>
<circle cx="141.6" cy="414.91" r="1.95" fill="#c8343a"/>
<circle cx="147.3" cy="418.14" r="1.95" fill="#c8343a"/>
<circle cx="152.9" cy="412.4" r="1.95" fill="#c8343a"/>
<circle cx="141.6" cy="440.76" r="1.95" fill="#c8343a"/>
<circle cx="147.3" cy="437.53" r="1.95" fill="#c8343a"/>
<circle cx="152.9" cy="439.32" r="1.95" fill="#c8343a"/>
<path d="M147.3 432.5V421.01M143.5 421.01H151.1M143.5 432.5H151.1" stroke="#c83c40" stroke-width="1.1" fill="none"/>
<circle cx="167" cy="419.94" r="1.95" fill="#4b87b0"/>
<circle cx="173" cy="418.5" r="1.95" fill="#4b87b0"/>
<circle cx="169.6" cy="443.99" r="1.95" fill="#4b87b0"/>
<circle cx="164.3" cy="450.45" r="1.95" fill="#4b87b0"/>
<circle cx="169.6" cy="446.86" r="1.95" fill="#4b87b0"/>
<circle cx="175.4" cy="450.09" r="1.95" fill="#4b87b0"/>
<path d="M169.6 444.71V431.78M165.8 431.78H173.4M165.8 444.71H173.4" stroke="#5a8db3" stroke-width="1.1" fill="none"/>
<path d="M41.1 368.1V476.3H185.5M34.1 476.3H41.1M34.1 440.4H41.1M34.1 404.5H41.1M34.1 368.6H41.1M56.9 476.3V483.3M79.3 476.3V483.3M101.7 476.3V483.3M124.5 476.3V483.3M147.3 476.3V483.3M169.6 476.3V483.3" stroke="#222" stroke-width="1.2" fill="none"/>
<text x="31.8" y="479.9" font-size="10.1" text-anchor="end" fill="#1a1a1a" >0</text>
<text x="31.8" y="444" font-size="10.1" text-anchor="end" fill="#1a1a1a" >100</text>
<text x="31.8" y="408.1" font-size="10.1" text-anchor="end" fill="#1a1a1a" >200</text>
<text x="31.8" y="372.2" font-size="10.1" text-anchor="end" fill="#1a1a1a" >300</text>
<path d="M80.3 374.2H103.7" stroke="#767070" stroke-width="1.2"/>
<text x="93" y="372.8" font-size="9.2" text-anchor="middle" fill="#1a1a1a" letter-spacing="0.9">**</text>
<path d="M149.1 407.4H173" stroke="#acacac" stroke-width="1.4"/>
<text x="161.05" y="404.6" font-size="10.4" text-anchor="middle" fill="#1a1a1a" >ns</text>
<rect x="49.6" y="635.42" width="14.6" height="3.98" fill="#dcd8ea" stroke="#7b63ad" stroke-width="1.2"/>
<rect x="72" y="580.57" width="14.6" height="58.83" fill="#f0dfcc" stroke="#d4813f" stroke-width="1.2"/>
<rect x="94.4" y="612.37" width="14.6" height="27.03" fill="#f6efe3" stroke="#e8bf92" stroke-width="1.2"/>
<rect x="117" y="637.01" width="14.6" height="2.38" fill="#ecebf4" stroke="#c4c0de" stroke-width="1.2"/>
<rect x="139.5" y="600.44" width="14.6" height="38.96" fill="#ecd6ce" stroke="#c83c40" stroke-width="1.2"/>
<rect x="162.1" y="602.03" width="14.6" height="37.37" fill="#dbe2eb" stroke="#5a8db3" stroke-width="1.2"/>
<circle cx="50.9" cy="634.95" r="1.95" fill="#7458a8"/>
<circle cx="53.9" cy="634.63" r="1.95" fill="#7458a8"/>
<circle cx="56.9" cy="635.27" r="1.95" fill="#7458a8"/>
<circle cx="59.9" cy="634.63" r="1.95" fill="#7458a8"/>
<circle cx="62.9" cy="634.95" r="1.95" fill="#7458a8"/>
<circle cx="56.9" cy="635.9" r="1.95" fill="#7458a8"/>
<path d="M56.9 635.9V634.95M53.1 634.95H60.7M53.1 635.9H60.7" stroke="#7b63ad" stroke-width="1.1" fill="none"/>
<circle cx="78.7" cy="551.95" r="1.95" fill="#d27a3a"/>
<circle cx="78.7" cy="569.6" r="1.95" fill="#d27a3a"/>
<circle cx="77.5" cy="586.93" r="1.95" fill="#d27a3a"/>
<circle cx="83.5" cy="584.86" r="1.95" fill="#d27a3a"/>
<circle cx="76" cy="595.99" r="1.95" fill="#d27a3a"/>
<circle cx="83.5" cy="592.02" r="1.95" fill="#d27a3a"/>
<path d="M79.3 587.41V573.73M75.5 573.73H83.1M75.5 587.41H83.1" stroke="#d4813f" stroke-width="1.1" fill="none"/>
<circle cx="101.7" cy="605.37" r="1.95" fill="#e6b47e"/>
<circle cx="97" cy="609.35" r="1.95" fill="#e6b47e"/>
<circle cx="101.7" cy="610.46" r="1.95" fill="#e6b47e"/>
<circle cx="106.9" cy="611.57" r="1.95" fill="#e6b47e"/>
<circle cx="101.7" cy="620.48" r="1.95" fill="#e6b47e"/>
<circle cx="104.7" cy="612.69" r="1.95" fill="#e6b47e"/>
<path d="M101.7 614.6V610.14M97.9 610.14H105.5M97.9 614.6H105.5" stroke="#e8bf92" stroke-width="1.1" fill="none"/>
<circle cx="118.3" cy="636.54" r="1.95" fill="#bbb5d8"/>
<circle cx="121.3" cy="636.22" r="1.95" fill="#bbb5d8"/>
<circle cx="124.3" cy="636.7" r="1.95" fill="#bbb5d8"/>
<circle cx="127.3" cy="636.22" r="1.95" fill="#bbb5d8"/>
<circle cx="130.3" cy="636.54" r="1.95" fill="#bbb5d8"/>
<circle cx="124.3" cy="637.17" r="1.95" fill="#bbb5d8"/>
<path d="M124.3 637.33V636.7M120.5 636.7H128.1M120.5 637.33H128.1" stroke="#c4c0de" stroke-width="1.1" fill="none"/>
<circle cx="147.1" cy="582.16" r="1.95" fill="#c8343a"/>
<circle cx="147.1" cy="591.86" r="1.95" fill="#c8343a"/>
<circle cx="143" cy="601.56" r="1.95" fill="#c8343a"/>
<circle cx="149.8" cy="601.56" r="1.95" fill="#c8343a"/>
<circle cx="151.1" cy="604.9" r="1.95" fill="#c8343a"/>
<circle cx="147.1" cy="621.12" r="1.95" fill="#c8343a"/>
<path d="M146.8 606.17V594.72M143 594.72H150.6M143 606.17H150.6" stroke="#c83c40" stroke-width="1.1" fill="none"/>
<circle cx="164" cy="594.88" r="1.95" fill="#4b87b0"/>
<circle cx="169.4" cy="597.58" r="1.95" fill="#4b87b0"/>
<circle cx="174.7" cy="596.47" r="1.95" fill="#4b87b0"/>
<circle cx="169.4" cy="602.67" r="1.95" fill="#4b87b0"/>
<circle cx="166.9" cy="609.35" r="1.95" fill="#4b87b0"/>
<circle cx="172.9" cy="608.55" r="1.95" fill="#4b87b0"/>
<path d="M169.4 604.58V599.49M165.6 599.49H173.2M165.6 604.58H173.2" stroke="#5a8db3" stroke-width="1.1" fill="none"/>
<path d="M41.1 543.5V639.4H184.8M34.1 639.4H41.1M34.1 607.6H41.1M34.1 575.8H41.1M34.1 544H41.1M56.9 639.4V646.4M79.3 639.4V646.4M101.7 639.4V646.4M124.3 639.4V646.4M146.8 639.4V646.4M169.4 639.4V646.4" stroke="#222" stroke-width="1.2" fill="none"/>
<text x="31.8" y="643" font-size="10.1" text-anchor="end" fill="#1a1a1a" >0</text>
<text x="31.8" y="611.2" font-size="10.1" text-anchor="end" fill="#1a1a1a" >200</text>
<text x="31.8" y="579.4" font-size="10.1" text-anchor="end" fill="#1a1a1a" >400</text>
<text x="31.8" y="547.6" font-size="10.1" text-anchor="end" fill="#1a1a1a" >600</text>
<path d="M77.4 544.2H101.5" stroke="#767070" stroke-width="1.2"/>
<text x="90.45" y="542.8" font-size="9.2" text-anchor="middle" fill="#1a1a1a" letter-spacing="0.9">**</text>
<path d="M146.4 575.2H169.9" stroke="#acacac" stroke-width="1.4"/>
<text x="158.15" y="572.4" font-size="10.4" text-anchor="middle" fill="#1a1a1a" >ns</text>
<text transform="translate(505.7,131) rotate(-90)" x="0" y="3.42" font-size="9.5" text-anchor="middle" fill="#1a1a1a" >Lung injury score</text>
<text transform="translate(5.8,269) rotate(-90)" x="0" y="3.58" font-size="9.95" text-anchor="middle" fill="#1a1a1a" >Protein con. in BALF</text>
<text transform="translate(17.6,266.6) rotate(-90)" x="0" y="3.58" font-size="9.95" text-anchor="middle" fill="#1a1a1a" >[mg/mL]</text>
<text transform="translate(245.8,267.6) rotate(-90)" x="0" y="3.46" font-size="9.6" text-anchor="middle" fill="#1a1a1a" >Wet/Dry Ratio</text>
<text transform="translate(502.5,268.4) rotate(-90)" x="0" y="3.55" font-size="9.85" text-anchor="middle" fill="#1a1a1a" >Cells con. in BALF [10<tspan font-size="6.5" dy="-3.5">5</tspan><tspan dy="3.5">/mL]</tspan></text>
<text transform="translate(6.8,420.5) rotate(-90)" x="0" y="3.76" font-size="10.45" text-anchor="middle" fill="#1a1a1a" >IL-1β [pg/mL]</text>
<text transform="translate(6.8,594.8) rotate(-90)" x="0" y="3.76" font-size="10.45" text-anchor="middle" fill="#1a1a1a" >IL-1β [pg/mL]</text>
<text x="79.2" y="355.7" font-size="12.5" text-anchor="start" fill="#1a1a1a" >IL-1β in Serum</text>
<text x="64.7" y="526.8" font-size="12.6" text-anchor="start" fill="#1a1a1a" >IL-1β in lung tissue</text>
<text x="478.5" y="44.1" font-size="9.6" text-anchor="start" fill="#1a1a1a" >Wild</text>
<text x="478.5" y="56.1" font-size="9.6" text-anchor="start" fill="#1a1a1a" >type</text>
<path d="M499.4 28V65M610.8 28.4V65" stroke="#555" stroke-width="1"/>
<circle cx="506.3" cy="32.1" r="2.8" fill="#7458a8"/>
<circle cx="618.7" cy="31.8" r="2.8" fill="#bbb5d8"/>
<circle cx="506.3" cy="47.2" r="2.8" fill="#d27a3a"/>
<circle cx="618.7" cy="46.900000000000006" r="2.8" fill="#c8343a"/>
<circle cx="506.3" cy="62.1" r="2.8" fill="#e6b47e"/>
<circle cx="618.7" cy="61.800000000000004" r="2.8" fill="#4b87b0"/>
<text x="516.2" y="36.1" font-size="9.65" text-anchor="start" fill="#1a1a1a" >Control</text>
<text x="628.2" y="35.8" font-size="9.65" text-anchor="start" fill="#1a1a1a" >Control</text>
<text x="516.2" y="51.1" font-size="9.65" text-anchor="start" fill="#1a1a1a" >LPS+Vehicle</text>
<text x="628.2" y="50.6" font-size="9.65" text-anchor="start" fill="#1a1a1a" >LPS+Vehicle</text>
<text x="516.2" y="66.1" font-size="9.65" text-anchor="start" fill="#1a1a1a" >LPS+NIM</text>
<text x="628.2" y="65.4" font-size="9.65" text-anchor="start" fill="#1a1a1a" >LPS+NIM</text>
<text x="576.2" y="49.9" font-size="9.65" text-anchor="start" fill="#1a1a1a" font-style="italic" >Nlrp3<tspan font-size="6.3" dy="-3.6" font-style="normal">KO</tspan></text>
<text x="197" y="29.8" font-size="9.8" text-anchor="middle" fill="#1a1a1a" >Control</text>
<text x="308.65" y="29.8" font-size="9.8" text-anchor="middle" fill="#1a1a1a" >LPS+Vehicle</text>
<text x="420.35" y="29.8" font-size="9.8" text-anchor="middle" fill="#1a1a1a" >LPS+NIM</text>
<text transform="translate(134.2,69.2) rotate(-90)" x="0" y="3.64" font-size="10.1" text-anchor="middle" fill="#1a1a1a" >Wild type</text>
<text transform="translate(134.2,145.2) rotate(-90)" x="0" y="3.5" font-size="9.8" text-anchor="middle" fill="#1a1a1a" font-style="italic">Nlrp3<tspan font-size="6.4" dy="-3.6" font-style="normal">KO</tspan></text>
<text x="318.3" y="343.9" font-size="9.9" text-anchor="middle" fill="#1a1a1a" >Control</text>
<text x="318.3" y="515.7" font-size="9.9" text-anchor="middle" fill="#1a1a1a" >Control</text>
<text x="448" y="343.9" font-size="9.9" text-anchor="middle" fill="#1a1a1a" >LPS+Vehicle</text>
<text x="448" y="515.7" font-size="9.9" text-anchor="middle" fill="#1a1a1a" >LPS+Vehicle</text>
<text x="577.45" y="343.9" font-size="9.9" text-anchor="middle" fill="#1a1a1a" >LPS+NIM</text>
<text x="577.45" y="515.7" font-size="9.9" text-anchor="middle" fill="#1a1a1a" >LPS+NIM</text>
<text transform="translate(246.9,384.3) rotate(-90)" x="0" y="3.56" font-size="9.9" text-anchor="middle" fill="#1a1a1a" >Wild type</text>
<text transform="translate(246.9,555.5) rotate(-90)" x="0" y="3.56" font-size="9.9" text-anchor="middle" fill="#1a1a1a" >Wild type</text>
<text transform="translate(246.9,459.2) rotate(-90)" x="0" y="3.5" font-size="9.9" text-anchor="middle" fill="#1a1a1a" font-style="italic">Nlrp3<tspan font-size="6.4" dy="-3.6" font-style="normal">KO</tspan></text>
<text transform="translate(246.9,631.2) rotate(-90)" x="0" y="3.5" font-size="9.9" text-anchor="middle" fill="#1a1a1a" font-style="italic">Nlrp3<tspan font-size="6.4" dy="-3.6" font-style="normal">KO</tspan></text>
<path d="M651.3 347.1V495.5M651.3 522.6V670.8" stroke="#666" stroke-width="1"/>
<text x="654.5" y="424.9" font-size="9.9" text-anchor="start" fill="#1a1a1a" >F4/80</text>
<text x="655.8" y="600.3" font-size="9.6" text-anchor="start" fill="#1a1a1a" >Ly6G</text>
<g clip-path="url(#cb0)"><rect x="142.5" y="33.3" width="109.00" height="72.30" fill="#fff"/><g filter="url(#wob)"><path d="M144.5 38.7l1.1 -1.2M248.4 33.5l-6.6 -1.4M244.3 53.8l0.7 4.1M249 61.2l-3.9 -3.3M251.4 96l-4.2 -7.1M247.3 88.3l-0.1 0.6M245 57.9l-6.3 5.1M161.5 36.1l-1.4 5.1M160.1 41.3l-3.2 1.4M145.2 56.7l4.5 5.8M156.1 60.7l-6.4 1.8M160 62.9l4.6 -2M140.1 92.5l4.3 3.1M140.1 92.5l2.4 -7.6M142.5 84.9l6 2.3M247.7 41.2l-5.2 2.1M242.6 43.4l-1.7 7.5M229.2 62.9l-7.6 -0.2M227.4 88.6l7.7 3.5M226.5 84.6l10.7 -3.5M235 92.1l3.3 -7.7M219.2 94.5l-1.8 -8.5M219.2 94.5l4.4 -0.1M223.6 94.4l3.7 -5.8M224.8 78.7l3.4 -4.5M216.1 97.1l3.4 8.2M227.8 99.2l-0.3 3.6M219.5 105.3l5.5 -0.1M218 107.1l-9.3 -0.1M219.5 105.3l-1.5 1.8M208.7 99.9l-0.1 7.1M198.3 105.2l0.2 -7.2M203.2 33.1l-6.7 -0.7M195.1 48.5l3.2 -3.9M198.2 44.6l0 -0.7M167.7 46.9l0.1 0.2M167.7 47.1l6.9 4.3M180.5 45.2l-3.3 5.3M179.6 33.9l-3.9 5.3M163.3 52.9l4.5 -5.8M185.2 44.1l-4.7 1.2M218.8 76.7l-3.1 3.2M224.8 78.7l-6 -2.1M210.9 78.2l-4.9 3.9M209.6 69.4l-0.7 0M210.5 57.8l-2.4 -8.4M187.6 99.4l2.7 -2.8M176 61l-1.8 3.4M184.2 60.6l1.9 7M149.7 62.5l-1.2 5.1M148.5 67.6l-3.5 1M158.5 69.6l-4.8 2.6M142.5 84.9l-0.3 -0.7M151.9 83.6l-3.4 3.6M145 68.6l-2.6 6.7M209.2 40l7.2 -1M205 34.6l0.3 1.9M220.3 51.4l5.6 -4.2M225.5 41.2l0.3 6M240.9 50.9l-6.6 0.9M150 105l-6.5 -3.5M173.5 104.5l-0.2 -7.5M183.2 33.5l2.1 -1.9M193.4 77l5.7 0M168.3 106.1l-5.9 -4.4M173.5 104.5l-5.2 1.6M168.8 65.4l-0.8 6.9M153.1 76.2l6.3 3.4M159.4 79.6l6.1 -3.1M155 95.1l0.7 0.8M160.9 97.1l2.6 -2.3M170.3 94.7l-6.8 0.1" stroke="#a58ad0" stroke-width="0.6" stroke-opacity="0.75" fill="none"/>
<path d="M250.2 32l-1.9 1.4M143.2 46.3l1.3 -7.5M258.1 55.1l-9.1 6.1M250.4 66.4l-1.4 -5.2M251.1 84.9l-3.8 3.4M248.8 77.9l-0.7 -9.2M249.6 101.4l-0.8 0.4M203.2 33.1l1.8 1.5M212.8 28.7l-7.7 5.9M142.3 58.1l3 -1.3M160 62.9l-3.9 -2.2M144.3 95.6l5.7 -2.3M230.1 68.3l-2.3 3.1M227.8 71.4l-7.2 -2.8M232.1 58.7l-2.9 4.2M227.4 88.6l-0.9 -4M235.9 94.8l-0.8 -2.7M225.8 84l-1.1 -5.3M247.3 88.3l-8.9 -3.9M216.1 97.1l3.1 -2.6M216.1 97.1l-3.3 -0.2M212.8 96.9l-4 3M189.3 48.9l5.8 -0.4M206.4 49.5l-8.2 8.7M209.1 48.6l-0.9 0.8M209.2 40l-4 -3.5M205.3 36.6l-7.1 7.3M206.4 49.5l1.7 0M172.4 39.5l3.3 -0.2M172.4 39.5l-4.7 7.4M160.1 41.3l7.6 5.6M173.3 56l1.3 -4.7M185.4 57l-8.3 -6.4M185.2 44.1l4.1 4.8M210.9 78.2l-1.3 -8.8M200 96.9l1 -4.6M208.7 88l-7.6 4.3M208.7 87.9l-2.7 -5.8M198.5 98l-8.2 -1.4M164.6 61l4.3 4.4M160 62.9l-1.4 6.6M148.5 67.6l5.2 4.6M142.2 84.2l2.5 -6M151.9 83.6l-0.6 -5.6M229.2 37.2l-4.3 -4.9M225 32.3l-7.7 3.3M217.2 35.6l-0.8 3.4M218.1 41.2l-1.6 -2.2M212.8 28.7l4.5 6.9M220.6 54.4l11.1 1.9M176.4 105.9l3.9 -0.8M184 100.2l-3.8 5M184 100.2l-5.1 -5.6M227.4 102.8l6.9 2.9M185.3 31.7l7.9 4.7M199.1 77l1.3 2.3M200.4 79.3l-2.8 8M206 82.1l-5.7 -2.8M150.3 105l6 4.6M158.5 69.6l7.3 4.5M164.2 87l-4.9 -2.3M159.4 79.6l0 5M151.9 83.6l4.7 2.4" stroke="#8a68c0" stroke-width="0.55" stroke-opacity="0.75" fill="none"/>
<path d="M252.2 44.2l-4.5 -2.9M244.3 53.8l7.3 -3.6M251.4 96l-1.8 5.4M250.2 79.1l-1.3 -1.2M161.5 36.1l-4.9 -8.3M156.9 42.7l-8.4 -5.6M145.6 37.5l3 -0.4M145.3 48.7l1.2 4.6M143.2 46.3l2.1 2.4M156.9 42.7l-1.2 2.6M163.3 52.9l1.6 7.1M164.6 61l0.4 -1M150.1 93.3l-1.6 -6.1M241.8 32.1l-3.7 7.7M244.3 53.8l-3.4 -2.8M237.5 26.8l-7.4 10.4M230.1 68.3l-0.9 -5.5M238.7 63l-6.6 -4.3M228.2 74.2l-0.4 -2.8M217.4 86.1l8.4 -2M227.8 99.2l8.1 -4.4M227.8 99.2l-4.2 -4.8M227.4 102.8l-2.5 2.3M198.3 105.2l9.9 2.5M200 96.9l-1.5 1.1M197.1 106.8l1.2 -1.6M186 56.6l3.3 -7.7M206.4 49.5l-8.2 -4.9M175.7 39.2l4.8 6M174.6 51.4l2.6 -0.8M168.5 34.4l3.8 5.1M164.9 60l8.4 -3.9M185.4 57l0.6 -0.4M210.9 78.2l4.7 1.7M217.4 86.1l-1.2 -0.7M216.2 85.3l-0.5 -5.5M212.8 96.9l-4.1 -8.9M216.2 85.3l-7.5 2.6M208.7 88l0 -0.1M209 69.4l-8.6 4.9M197.1 106.8l-6 0.7M139.5 65.4l5.6 3.2M142.5 75.3l2.2 2.9M151.3 78l-6.6 0.2M153.7 72.2l-0.7 4M153.1 76.2l-1.8 1.8M229.2 37.2l-3.7 4M217.1 48.2l0.9 -7M225.9 47.1l6.9 2.4M184 100.2l3.6 -0.8M173.5 104.5l2.9 1.4M238.9 97l1.4 0.2M235.9 94.8l3.1 2.2M185.8 42.7l7.5 -4M185.8 42.7l-2.6 -9.1M198.2 43.9l-5 -5.2M179.6 33.9l3.6 -0.4M196.6 32.5l-3.4 3.9M190.3 96.6l-1 -4.1M197.6 87.3l-5.4 0.5M200.4 74.3l-1.3 2.6M201 92.3l-3.4 -5M150.3 105l-0.3 0.1M164.2 87l-0.7 7.8M156.6 86l-1.7 9.1M156.6 86l2.7 -1.4M155.7 95.9l5.2 1.2M150.1 93.3l4.9 1.8M150.3 105l5.3 -9.1M162.4 101.7l-1.5 -4.6" stroke="#c89ad8" stroke-width="0.6" stroke-opacity="0.65" fill="none"/>
<path d="M248.6 32.9h0.8M247.8 41.6h0.8M142.9 45.6h0.8M144 39.1h0.8M246.5 33.1h0.8M241.8 32.1h0.8M255 56.8h0.8M257.1 55.4h0.8M250.1 60.1h0.8M249.3 63.8h0.8M249.9 66.1h0.8M243.9 54h0.8M248.2 51.7h0.8M251.2 50.2h0.8M246.3 59.3h0.8M246.8 59.8h0.8M250.9 96.2h0.8M249.5 86h0.8M247 88.2h0.8M247 89.4h0.8M249.3 93.2h0.8M248.3 76.7h0.8M248.4 77.6h0.8M248.2 75.4h0.8M249.3 78.7h0.8M241 60.8h0.8M243 59.2h0.8M248.6 101.7h0.8M204.2 34.2h0.8M205.8 33.7h0.8M209.4 31h0.8M205.7 33.8h0.8M159.8 33.8h0.8M159.3 33h0.8M156.6 28.6h0.8M160.9 36.8h0.8M159.1 41.5h0.8M148.8 37.5h0.8M153.2 40.5h0.8M147.2 37.2h0.8M145.4 50.8h0.8M144.7 48.5h0.8M142.1 57.9h0.8M149.2 62.3h0.8M146.3 58.6h0.8M149.8 62.3h0.8M154.7 61h0.8M163.1 61.4h0.8M164 61h0.8M158.3 62.2h0.8M163.5 55.5h0.8M164.2 58.5h0.8M141.6 93.9h0.8M143.7 95.4h0.8M140.1 91.3h0.8M140.5 90h0.8M149.7 93.3h0.8M145 95.2h0.8M149.1 91.2h0.8M148.1 87.4h0.8M147.3 86.9h0.8M144.2 85.7h0.8M246.9 41.4h0.8M244.4 42.5h0.8M238.1 38.7h0.8M239.6 35.8h0.8M242.4 52.5h0.8M241.7 51.9h0.8M241.8 45.2h0.8M241.3 47.4h0.8M241.9 44.7h0.8M236.8 27.3h0.8M234.4 30.6h0.8M230.5 36.2h0.8M228.9 63.6h0.8M229.4 66.7h0.8M228.6 69.8h0.8M226.3 71h0.8M221.2 69.1h0.8M223.4 62.8h0.8M227.5 62.9h0.8M224.6 62.8h0.8M234.1 60.3h0.8M237.9 62.7h0.8M232 58.9h0.8M229.9 61.3h0.8M227.6 72.8h0.8M226.9 88.2h0.8M230.8 90.4h0.8M229 89.5h0.8M227.3 84.2h0.8M229.2 83.6h0.8M231.8 82.7h0.8M235.4 90.3h0.8M237.9 84.5h0.8M217.8 89.8h0.8M217.2 87.2h0.8M221.6 94.4h0.8M225.8 90.3h0.8M219.2 85.5h0.8M222.8 84.6h0.8M218.4 85.7h0.8M227.5 99.1h0.8M234.5 95.3h0.8M228.9 98.3h0.8M223.3 94.5h0.8M224.9 81.6h0.8M224.6 79.8h0.8M226.8 75.5h0.8M227.1 75.1h0.8M245.5 87.7h0.8M243.5 86.8h0.8M245.4 87.7h0.8M217.7 95.4h0.8M217.2 100.9h0.8M216.8 99.8h0.8M217.8 102.2h0.8M227.4 99.3h0.8M219.1 105.3h0.8M223.6 105.2h0.8M225 104.8h0.8M216.5 107.1h0.8M210.7 107.1h0.8M213.3 107.1h0.8M218 106.6h0.8M213.8 97h0.8M210.6 98.2h0.8M208.3 102.1h0.8M208.3 105.3h0.8M198 101.2h0.8M198.1 99.2h0.8M206.8 107.5h0.8M207.6 107.7h0.8M198.5 105.4h0.8M199 97.3h0.8M197 106.5h0.8M200.4 32.9h0.8M199.6 32.8h0.8M186.8 53.9h0.8M186.4 54.8h0.8M193.4 48.6h0.8M191.1 48.7h0.8M204.7 50.9h0.8M198.9 57h0.8M201.9 53.9h0.8M198.1 44.7h0.8M200.8 46.3h0.8M195.5 47.4h0.8M196.3 46.4h0.8M208.2 49h0.8M205.6 37.2h0.8M206.2 37.7h0.8M201.9 39.7h0.8M203.3 38.3h0.8M200.5 41.1h0.8M172.9 39.4h0.8M171.5 40.2h0.8M170.7 41.4h0.8M175.7 39.7h0.8M178.8 43.6h0.8M173.3 50.8h0.8M171.9 49.9h0.8M178 48.5h0.8M177.1 50.1h0.8M175.5 51h0.8M169.4 36.1h0.8M168.9 35.4h0.8M179.1 34h0.8M176 38.3h0.8M162.1 43h0.8M164.1 44.5h0.8M162.4 43.2h0.8M166 48.8h0.8M165.5 49.5h0.8M170.2 57.3h0.8M169.3 57.7h0.8M165 59.8h0.8M173.6 53.5h0.8M173.5 54h0.8M178.2 51.7h0.8M183.8 56h0.8M180.3 53.4h0.8M186.3 45.8h0.8M185 44.3h0.8M182.1 44.7h0.8M212.6 78.9h0.8M209.4 70.3h0.8M209.3 69.8h0.8M210 74.5h0.8M217.4 77.6h0.8M221.9 77.9h0.8M222.4 78h0.8M215.8 85.1h0.8M209.3 90.3h0.8M210.1 92h0.8M208.8 89.2h0.8M210.6 87.1h0.8M212.1 86.6h0.8M199.6 96.8h0.8M201.6 91.8h0.8M201.8 91.6h0.8M209.8 78.7h0.8M209.9 78.7h0.8M206.7 84.3h0.8M206.2 83.2h0.8M205.9 70.9h0.8M205 71.5h0.8M205.5 71.1h0.8M208.1 50.6h0.8M209.5 55.5h0.8M208.9 53.6h0.8M191 107.5h0.8M190.1 96.6h0.8M192.4 97h0.8M188.8 97.6h0.8M174.8 62.6h0.8M184.6 63.5h0.8M185.4 66.8h0.8M168.4 65.3h0.8M165.1 61.9h0.8M140.9 66.5h0.8M143.2 67.8h0.8M148.3 66.9h0.8M149.1 63.2h0.8M144.8 68.5h0.8M158.6 67.2h0.8M158.9 66h0.8M157.2 70.1h0.8M152.4 71.3h0.8M151.1 70.2h0.8M141.9 84h0.8M142.1 83.5h0.8M142.4 75.7h0.8M142.1 84.8h0.8M148.1 87.2h0.8M151.3 83.8h0.8M151.3 81.9h0.8M151.2 81.1h0.8M147.3 78.1h0.8M145.4 78.1h0.8M142.1 75.1h0.8M143.2 72.3h0.8M152.7 76.1h0.8M151.7 77.2h0.8M227.2 38.9h0.8M226.9 39.3h0.8M225.4 33.2h0.8M219.7 34.4h0.8M220.2 34.1h0.8M219.5 34.4h0.8M216.5 37.1h0.8M217 40.2h0.8M215.3 33.2h0.8M213.4 30.3h0.8M211.2 39.7h0.8M209 40h0.8M204.8 35.7h0.8M217.3 44.3h0.8M217.3 44h0.8M221.7 50h0.8M222.7 49.2h0.8M223.1 54.9h0.8M230.7 56.2h0.8M222.8 54.8h0.8M230.9 49h0.8M228.3 48.1h0.8M225.4 46.3h0.8M225.3 43.5h0.8M235.5 51.6h0.8M147.3 103.8h0.8M145.7 102.9h0.8M179.7 105.2h0.8M187.2 99.4h0.8M183 100.9h0.8M180.2 104.6h0.8M174.6 105.3h0.8M173 100.2h0.8M172.9 98.3h0.8M180.9 97.2h0.8M182.7 99.1h0.8M239.7 97.1h0.8M231.3 104.6h0.8M233.9 105.7h0.8M238 96.6h0.8M191.6 39.4h0.8M189.1 40.7h0.8M183.1 34.5h0.8M185.2 42.1h0.8M183.5 35.8h0.8M191.9 35.8h0.8M188.1 33.5h0.8M188.3 33.7h0.8M193.1 38.9h0.8M193 38.8h0.8M181.3 33.7h0.8M195.9 32.8h0.8M194.6 34.3h0.8M189.8 96.4h0.8M193.4 77h0.8M198.6 77h0.8M199.5 78.4h0.8M198.6 83.1h0.8M198.2 84.2h0.8M197.3 86.8h0.8M194 87.6h0.8M199.9 74.4h0.8M203.5 81h0.8M198 88.4h0.8M162.1 101.8h0.8M167.7 106h0.8M169.5 105.7h0.8M152.9 107.2h0.8M151.7 106.3h0.8M168.2 67.9h0.8M168.1 68.9h0.8M162.7 72.4h0.8M158.6 69.9h0.8M157.7 78.9h0.8M158.5 79.3h0.8M159.5 79.4h0.8M159.3 79.4h0.8M163.6 89.1h0.8M163.4 91.8h0.8M163.2 86.7h0.8M159.7 85h0.8M155.5 89.9h0.8M155.7 88.7h0.8M156 87.5h0.8M157 85.7h0.8M156 96.1h0.8M162.3 95.5h0.8M165.5 94.7h0.8M169.2 94.7h0.8M159 81.9h0.8M151.2 93.9h0.8M155.4 85.6h0.8M151.5 102.4h0.8M154.5 97.2h0.8M153.4 99.1h0.8M161.2 99.4h0.8M160.7 97.8h0.8" stroke="#5a34a2" stroke-width="1.2" stroke-linecap="round" fill="none" stroke-opacity="0.85"/></g></g>
<rect x="142.5" y="33.3" width="109.00" height="72.30" fill="none" stroke="#444" stroke-width="1.1"/>
<g clip-path="url(#cb1)"><rect x="254.3" y="33.3" width="108.70" height="72.30" fill="#fff"/><g filter="url(#wob)"><path d="M359.7 102.7l-0.2 -0.2M358.4 80.3l-0.8 2.6M363.8 77.5l2 3.4M358.7 83.9l5.7 0.3M363.8 90.6l1.8 -3.7M367.4 73.7l-3.5 2.9M356.1 34.6l3.7 -1.7M252.7 45.6l0.4 -2M253.1 43.6l-3 -7.1M247.8 85.6l7 -4.2M254.8 81.4l0.4 -2.3M324.2 105.4l3.9 3.7M324.2 105.1l0 0.3M332.1 105.6l-0.5 -1.9M323.8 84.9l-4.7 2.2M316.5 86l-1 -1.8M316.8 81.3l-1.3 2.9M287.4 31.4l-3.5 2.4M289.3 37.3l1.2 -1.1M290.4 36.3l0 -0.3M293.9 31l-3.5 4.9M294.5 39.9l-3 3.7M269.7 66.4l0 0M259.1 58.6l-3.8 -1.1M259.4 93.3l-0.8 2M273.7 104.7l-3.9 -0.1M362.4 98.3l-2 -3.5M363.8 90.6l-0.6 0.2M360.4 94.8l2.8 -4M293.3 71.5l-2.6 -3M293.3 71.5l-1.8 2.5M291.2 64.4l-6.2 0.6M271.3 59.8l-1.3 1.5M300.4 57.4l0.4 4.6M291.7 60.9l2.4 -1.5M288.7 54.9l-1.7 3.8M295.1 49.7l2.2 2.5M297.3 52.2l-1 3.7M297.3 52.2l5.7 -0.7M363.7 68l0 0.1M332.4 101.4l-1.6 -4.4M332.4 101.4l5.5 0.4M335.6 95.6l3.5 3.4M331.6 103.7l0.8 -2.3M343.8 103.3l-4.9 -2.5M306.1 96.3l-1.5 2.4M298.9 92.6l6.4 0.9M298.8 107.7l2.2 -1.8M299.1 101.1l1.9 4.8M286.3 105.6l-1.5 0.5M275.2 106.2l5.9 -4M305.4 106l1.1 -1.4M301 105.9l4.4 0.1M317.3 101.3l-4.3 -0.9M320.3 97l-0.3 -2.8M308.7 89.2l-2.3 1.3M305.3 93.5l1.1 -3M356.1 34.6l-0.4 0.6M362.4 46.7l0.2 -0.3M333.5 37.1l-0.7 -4.7M280.1 48.6l2.8 -6.2M282.3 40.9l0 0.1M268.7 38.7l-0.4 -0.5M279 32.5l-1.1 2.6M275.8 29.3l-4.7 2.2M282.3 40.9l-4.5 -5.8M270.7 31.5l-1.8 1.5M268.9 32.9l-0.6 5.3M259.3 40.8l0.1 5.7M255 52.4l-0.2 -0.3M259.4 33.3l2.8 1.8M262.1 35l2.9 -2.6M268.9 32.9l-3.9 -0.5M267.7 73.6l0.2 0.6M267.8 74.3l-3.7 2M282.8 69.4l3.4 3.3M278.3 84.1l-0.3 -5.8M284 79.7l-2.8 -2M278.9 92.5l2.4 -1.1M286.4 78.2l-2.4 1.5M283.8 92.4l5.6 -1.9M278.3 97.6l2.5 2.5M278.3 97.6l0.6 -5.1M289.3 99.9l-2.3 -2.6M262.6 90.7l-3.6 -4.8M265.2 81.7l-1.2 -5.4M268.5 94.3l-0.1 5.4M274.9 98.3l-1.3 1.3M262.5 91.8l1.6 1.5M271.2 92l-0.6 1.1M278.3 97.6l-3.5 0.7M263.7 106.7l2 -5.4M260.2 100.2l3.3 -0.2M257.1 103.2l0 0M258.5 95.3l1.6 4.9M296.4 70.3l1.3 1.8M291.5 74.7l5.2 3.5M303.9 62.4l-2.6 -0.1M308.4 59.1l2.4 5.8M310.9 64.9l-1 3M309.9 67.9l-4 -1.5M296.7 69.3l3.5 -1.9M279.7 56.7l0.5 -0.3M277.7 66.5l-2 -1.4M310.6 80.5l1 -3.4M304.4 76.4l0.7 -1.4M309.9 67.9l0.5 1.3M332.8 54l-0.1 -0.1M308.4 59.1l0 -0.1M304.2 53.4l3.5 1.4M335.6 95.6l2.3 -4.6M331.7 84.2l4.6 1.4M360.5 62.3l-5.5 3.5M360.5 62.3l-4.2 -5.7M354 51l-3.2 -0.2M347.8 38.5l0.4 2M355.5 35.3l-3.1 6.1M348.1 40.4l4.3 1M349.8 47.5l4.3 -3.9M354.1 43.6l-1.7 -2.2M334.3 48l4.6 1.3M259.4 46.6l2.9 0.9M262.2 47.5l3.3 -2.2M270.1 75.5l1 5.5M278.1 78.4l-0.1 -0.1M252.6 106.3l4.4 -2.9M257 103.4l1.9 8.3M306.7 82.4l-0.4 -0.1M306.3 82.3l-1.7 -2.2M321.3 40.9l-2.7 -1.4M318.6 39.5l-0.2 -1.5M314.9 42l-0.4 1.4M309.7 45.8l-2.6 -1.3M306.7 42.6l0.4 1.9M310.5 37.1l0 0.3M318.6 39.5l-3.7 2.5M347.9 83.5l-4 -2.7M345 76.3l6.1 0.8M347.9 83.5l0.1 0.3M352.7 87.1l0.5 5M353.2 92l0 0M347.5 54.1l-1.5 -0.1M344.3 73.4l-5.5 -0.1M340.4 42l5.3 1.3M346 54l-2.1 -5M340 37.3l0.3 4.7M259.1 58.6l1.5 -1.1M324.5 48.3l-1 2.6M323.5 50.8l-1.4 0.7M314.5 43.4l2.3 3M326.1 56.2l-2.5 -5.4M346.9 90.3l-3.6 3.5M342.5 87.2l-2.7 3.9M353.1 92.1l-6.3 -1.7M340.6 83.8l3.2 -3.1M340.6 83.8l1.9 3.4M339.2 78l-0.6 -4.3M286.9 97.2l4.1 -5.3M291.1 92l-0.1 -0.1M292.5 82.6l2.3 2.9M304.6 80.1l-4.7 1.8M296.7 78.1l-0.1 0.5M298.4 90.7l-2.8 -4.9M291.8 82.5l0.7 0.1" stroke="#a060c0" stroke-width="0.8" stroke-opacity="0.8" fill="none"/>
<path d="M364.5 104.3l-4.8 -1.6M364.4 84.2l1.4 -3.3M358.4 80.3l5.4 -2.8M363.7 60.5l-0.1 -5.5M249.9 65.3l3.2 3.6M249.9 65.3l3.4 -3.5M320.9 110.1l3.4 -4.7M320.5 93.6l-1.3 -6.5M320.9 110.1l-4.1 -3.4M363 34.5l3.7 -1.8M362.4 46.7l-1.4 0.4M297.9 34.8l-1.2 -3.3M287 48.4l-1.4 -4.7M291.5 43.6l0.1 0.1M284.7 37.8l4.5 -0.5M265.2 66.2l4.5 0.2M259.5 70l-2 -1.4M257.5 64.7l1.8 -1.5M253.3 61.8l-0.3 -1.4M356.5 94.7l3.9 0.1M295 65.9l1.7 3.4M291.4 74l-4.2 -1.7M287.9 69l-2.9 -4M275.6 62.2l-4.3 -2.4M297.8 45.6l-2.7 4.1M295.1 49.7l-3.5 0.4M287 48.4l-3.5 2.9M294.5 56.9l1.9 -1M297.3 62.2l3.5 -0.2M291.2 64.4l0.4 -3.5M363.7 60.5l-2.6 1.8M361.1 62.3l2.7 5.6M358.2 71.6l5.5 -3.5M330.8 97l4.8 -1.5M310.6 80.5l-3.9 1.9M314.6 84.1l-5.5 2.4M315.5 84.2l-0.9 -0.2M330 81.1l1.7 3.1M306.1 96.3l-0.8 -2.7M304.6 98.7l-4.7 0.6M297.9 96.6l-4.2 0.7M294.2 102.8l4.8 -1.7M293.9 105.5l0.4 -2.7M292.4 99.8l-3.1 0.1M284.2 108.2l0.7 -2.2M317.3 101.3l3 -4.3M313.8 93.4l-2.3 3.7M310.3 104l2.8 -3.5M325.4 99.7l-5 -2.8M320.5 93.6l-0.4 0.6M350.2 35.1l5.4 0.2M355.8 35.2l-0.2 0.1M362.6 46.4l2.8 -1M363 34.5l0.4 3.7M355.8 35.2l3.2 4.8M356.6 46.2l-1.7 -2.2M359 40l-4 4M343 35.1l-2 0.6M340 37.3l1 -1.6M301.6 37l0.1 1.8M298.8 42l2.9 -3.3M282.9 42.3l-0.6 -1.3M284.7 37.8l-2.4 3.1M272.4 43.3l-3.4 -2M274.4 37l-5.7 1.7M262.8 37.4l5.6 0.9M279 32.5l-3.2 -3.2M274.7 36.6l-3.6 -5M280.6 32.1l-1.6 0.5M274.4 37l0.2 -0.5M259.4 46.6l-4.2 1.7M255.2 48.3l-0.3 3.8M259.3 40.8l2.3 -1.1M269.5 87.4l1.6 4.6M289.4 78.3l-3.1 -0.2M291.4 74l0.1 0.7M286.4 78.2l-0.5 -4.9M275.8 85.3l2.6 -1.2M281.8 74.5l-0.6 3.1M281.3 91.4l2.5 1.1M287 85.5l2.3 5M285.9 97.1l1.1 0.1M265.8 87.5l-1.8 -4.6M271 81.1l0.9 2.8M259.4 93.3l3.1 -1.4M268.5 99.7l5.1 -0.1M269.8 104.6l-2.7 -3.4M267.1 101.1l1.3 -1.4M263.7 106.7l-6.5 -3.6M260.2 100.2l-3 3M263.5 100l2.2 1.4M350.7 100.6l-2.4 3M343.8 103.3l0.1 -0.1M301.3 62.3l-1 5.1M297.8 72.1l6 0.7M303.8 72.8l-0.8 -3.7M284.1 65.2l-2.7 -0.8M286.3 59l-6.2 -2.6M277.7 66.5l3.7 -2.1M271.7 58l3.2 -2.5M274.9 55.5l4.8 1.2M273.7 50.7l0.2 -0.5M277.7 66.5l-0.2 2.6M270.8 66.7l2.7 3.1M273.5 69.8l4.1 -0.7M311.6 77.1l1.7 -1M305 74.1l5.3 -4.8M303.8 72.8l1.2 1.3M310.5 37.1l4.4 -2.6M315.3 32.1l5.2 -0.2M308.5 59l7.8 0.4M356.5 94.7l-3.3 -2.4M349.4 97.5l-4 -0.5M343.8 95.7l1.6 1.2M329.3 90.4l7.6 -0.6M336.8 89.8l-0.5 -4.3M350.8 50.8l-0.9 -3.3M338.9 49.2l-0.1 4.2M338.3 58.5l1.7 -3.8M265.7 44.6l-0.1 0.7M333.5 37.1l-2 3.2M302.8 47.9l4.3 -3.5M311.5 51.6l-1.7 -5.9M345 76.3l-1.5 3.1M352.8 74.9l-1.7 2.2M344.3 73.4l1 -1.7M356.7 83.1l-5.7 -3.3M356.7 83.1l-4 3.9M359.4 88.3l-6.2 3.8M353.2 92.4l-0.1 -0.3M340 54.7l4.4 0.3M344.4 55l1.6 -1M339.7 48.6l0.2 -6.2M343.9 48.9l2.2 -3.7M340.4 42l-0.4 0.4M266.5 53.9l-0.1 -0.2M255 52.4l5.5 1.3M302.3 86.9l0 -0.1M313.9 51.9l1 -0.7M321.3 40.9l1.3 5.4M318.2 57.8l4 -6.3M343.8 95.7l-0.5 -1.9M337.9 90.9l2 0.2M340.6 83.8l-2.8 0M343.5 79.5l-4.3 -1.5M302.3 86.9l-3.9 3.8M298.3 91.5l-7.1 0.5M299.5 84.1l-3.9 1.7M296.7 78.6l-4.1 4M290.8 91.6l4 -6" stroke="#8a4eb2" stroke-width="0.7" stroke-opacity="0.8" fill="none"/>
<path d="M365.1 107.2l-0.5 -2.8M358.7 83.9l-1.1 -1M363.8 77.5l0.2 -0.9M252.8 76.8l3.2 -7.5M253.1 68.9l2.9 0.3M257.5 64.7l-4.3 -2.9M324.2 105.1l0.8 -1.2M321.6 79.8l2.2 5.1M319.1 87.1l-2.6 -1.1M291.8 107l2 -1.6M324.2 105.1l-6.4 -2.7M359.8 32.8l3.3 1.6M360.9 47.1l-2.9 7.3M360.9 47.1l-4.3 -0.9M354 51l3.2 3.7M357.1 54.7l0.9 -0.4M365.3 53.5l-3 -6.8M306.9 33.5l-1.6 0M305.3 33.5l-3.7 3.5M301.6 37l-3.7 -2.2M285.6 43.7l4.3 -0.9M280.6 32.1l3.3 1.7M293.9 37.7l-3.4 -1.4M262.6 69.4l5 4.2M267.7 73.6l2 -7.2M270 61.3l-0.3 5.1M264.6 60.2l-1.6 2.7M254.8 81.4l2.3 4M253 90.5l1.2 -0.3M252 92.6l1.2 4.7M258.5 95.3l-5.4 2M275.2 106.2l-1.5 -1.5M268.2 108.3l-1.7 0.5M356 102.1l0.5 -7.4M359.4 88.3l3.8 2.5M355.3 102.5l-1.2 4.7M296.4 70.3l0.3 -0.9M290.7 68.5l-2.7 0.5M291.8 65.1l-0.6 -0.7M290.8 49.1l0.8 1M290.7 53.9l-2 1M283.5 51.3l5.2 3.6M294.1 59.4l0.4 -2.6M294.1 59.4l3.2 2.8M291.7 60.9l-4.7 -2.2M290.7 53.9l3.8 3M364 76.6l-5.8 -5M357.9 71.5l0.3 0M338.9 100.8l-1 1M337.7 108.1l0.1 -6.3M312.9 91.2l3.6 -5.2M298.9 92.6l-0.9 4M297.9 96.6l2 2.7M294.2 102.8l-1.9 -3M299.9 99.2l-0.8 1.8M289.3 99.9l-2.9 5.7M316.7 106.7l-3.3 1.6M304.6 98.7l1.9 5.9M320 94.2l-6.2 -0.8M311.5 97.1l1.5 3.4M312.9 91.2l0.9 2.2M306.1 96.3l5.5 0.8M348.7 31.8l1.5 3.2M343 35.1l1.7 -2.7M341 35.6l-3.4 -4.9M347.8 38.5l-4.8 -3.4M333.5 37.1l6.5 0.2M332.8 32.3l-1.3 -0.8M294.5 39.9l4.3 2.1M303 51.5l-0.2 -3.6M272.4 43.3l-0.7 3.5M273.9 50.1l3.4 -1.9M285.6 43.7l-2.7 -1.4M282.2 51.4l-2.1 -2.8M275.7 42l-1.2 -5M261.5 39.7l4.1 4.9M269 41.3l-3.3 3.3M270.7 31.5l0.4 0.1M257.7 40.4l1.6 0.5M262.8 37.4l-0.7 -2.3M272 83.9l3.8 1.5M275.8 85.3l0.8 5.6M276.6 90.9l-5.5 1.1M289.4 78.3l2.1 -3.7M281.8 74.5l4.1 -1.2M278.3 84.1l5 1M278.9 92.5l-2.3 -1.6M265.2 81.7l-1.3 1.2M262.5 91.8l0.2 -1.1M253.1 97.3l-0.4 1.1M270.6 93.1l-2.1 1.2M264.1 93.3l4.4 1M267.1 101.1l-1.4 0.2M266.5 108.8l-2.8 -2.1M252.7 98.4l4.4 4.8M355.3 102.5l-4.6 -1.8M343.9 103.2l4.5 0.4M297.7 77l-0.9 1.1M303.9 62.4l2.1 4M305.9 66.5l-2.9 2.6M308.4 59.1l-4.6 3.3M284.1 65.2l0.7 -0.2M275.6 62.2l3.6 -2.2M279.6 71.4l-0.6 -0.1M279.1 71.3l-1.5 -2.2M313.3 76.1l-1.9 -6.3M311.4 69.8l-1 -0.6M314.6 76.4l2.2 5M304.4 76.4l-6.7 0.6M334.3 48l-2.6 1.7M335 43.1l-3.5 -2.8M308.5 59l-0.9 -4.2M350.7 100.6l-1.3 -3.2M343.9 103.2l1.5 -6.3M336.8 89.8l1 1.1M356.4 56.5l-4.4 2.5M357.9 71.5l-2.9 -5.7M357.1 54.7l-0.8 1.8M355 74.5l-2.3 0.4M352.8 74.9l-3.4 -3.9M354.9 43.9l-0.8 -0.3M332.7 54l-0.9 -4.2M271.6 46.8l-4.1 0.3M270.1 75.5l2.8 -1.4M278 78.3l-2.1 -3.7M273.5 69.8l-0.5 4.3M279.1 71.3l-3.2 3.3M257.1 103.2l-0.1 0.2M321.7 33.8l-3.3 4.2M320.5 31.9l1.2 1.9M314.9 42l-4.4 -4.6M310.5 37.4l-3.8 5.2M301.7 38.8l5.1 3.8M311.5 51.6l2.5 0.3M347.9 83.5l3.1 -3.6M343.5 79.5l0.3 1.3M357.6 82.9l-1 0.2M347.9 83.8l4.7 3.3M340 61.1l3.5 0.5M343.3 67l-2.5 0.5M344.4 55l-0.9 6.6M339.7 48.6l4.2 0.4M348.1 40.4l-2.4 2.9M263.1 52.3l-2.5 1.4M260.6 53.7l0 3.8M260.5 57.5l3.7 1.5M264.6 60.2l-0.3 -1.1M306.3 82.3l-4 4.5M347.9 83.8l-2 3.1M336.9 79.9l2.3 -1.9M290.8 91.6l0.2 0.3M299.8 81.8l-3.1 -3.2M302.3 86.8l-2.8 -2.7" stroke="#c878c4" stroke-width="0.8" stroke-opacity="0.75" fill="none"/>
<path d="M359.7 102.7l0.8 7.2M359.5 102.5l2.9 -4.2M364.4 84.2l1.2 2.8M365.3 53.5l-1.8 1.5M257.5 68.6l-1.5 0.6M257.5 68.6l0 -3.9M252.8 76.8l2.4 2.3M332.1 105.6l-4 3.5M293.9 105.5l4.9 2.2M356.6 46.2l-2.7 4.8M363.5 55l-5.5 -0.6M287 48.4l3.9 0.7M290.8 49.1l0.7 -5.4M291.5 43.6l-1.6 -0.8M287.4 31.4l3.1 4.6M283.9 33.8l0.9 4M294.5 39.9l-0.6 -2.2M289.9 42.8l-0.6 -5.4M297.9 34.8l-4 2.9M265.2 66.2l-2.2 -3.3M270 61.3l-5.4 -1.2M262.6 69.4l-3.1 0.7M259.3 63.3l3.7 -0.4M259.1 58.6l0.2 4.6M253 60.5l2.3 -2.9M257.1 33.6l-2.4 -4.2M257.1 33.6l-2.4 2.4M250.1 36.5l4.6 -0.4M253.1 43.6l4.6 -3.2M257.7 40.4l-3 -4.3M257.1 85.4l-2.9 4.8M253 90.5l-1 2.1M254.2 90.2l5.2 3.1M275.2 106.2l0.1 3.9M337.7 108.1l5 -1.3M354.9 108.5l-0.8 -1.3M354.1 107.2l-4.9 0.6M291.8 65.1l3.2 0.8M291.8 65.1l-1.2 3.4M296.4 70.3l-3.2 1.2M287.9 69l-0.7 3.3M275.6 62.2l0.1 2.8M269.7 66.4l1.1 0.3M291.5 43.7l6.3 1.9M300.4 57.4l-4 -1.5M295 65.9l2.3 -3.7M303 51.5l1.2 1.9M355 74.5l2.9 -3M367.4 73.7l-3.8 -5.7M339.1 99l-0.2 1.8M310.6 80.5l4 3.6M306.7 82.4l2.4 4.1M308.7 89.2l0.4 -2.8M291.8 107l-5.5 -1.4M284.9 106.1l-3.8 -4M313.5 108.3l-3.2 -4.3M310.3 104l-3.8 0.6M317.8 102.3l-0.5 -1M366.7 39.8l-3.3 -1.6M363.4 38.2l-2.5 2.1M360.9 40.3l1.6 6.1M359 40l2 0.4M348.7 31.8l-4 0.6M350.2 35.1l-2.4 3.4M332.8 32.3l4.9 -1.6M297.8 45.6l0.6 -0.3M298.4 45.3l0.3 -3.2M298.4 45.3l4.4 2.6M275.4 42.4l2 5.8M275.4 42.4l0.3 -0.4M275.7 42l6.6 -1M280.1 48.6l-2.7 -0.3M271.6 46.8l2.3 3.3M282.2 51.4l1.3 -0.1M269 41.3l-0.2 -2.6M261.5 39.7l1.2 -2.3M277.9 35.1l-3.2 1.4M255.3 57.5l-0.2 -5.2M257.1 33.6l2.3 -0.3M286.2 72.7l1 -0.4M286.2 72.7l-0.4 0.6M279.6 71.4l3.2 -2M283.4 85.1l0.7 -0.4M284.1 84.7l0 -5M278.1 78.4l3.1 -0.7M281.3 91.4l2.1 -6.3M287 85.5l-3 -0.8M287 85.5l4.8 -3M291.8 82.5l-2.4 -4.2M280.8 100.1l5.1 -2.9M283.8 92.4l2.1 4.7M280.8 100.1l0.3 2.1M265.8 87.5l-3.2 3.2M264 82.9l-1 0M265.2 81.7l5.8 -0.6M269.5 87.4l-3.7 0.1M257.1 85.4l1.9 0.5M270.6 93.1l4.3 5.2M273.7 104.7l-0.1 -5M349.2 107.7l-0.8 -4.1M297.8 72.1l-0.1 4.9M300.2 67.4l2.8 1.7M300.8 61.9l0.5 0.4M284.9 64.9l1.5 -5.9M281.5 64.4l-2.3 -4.3M279.2 60l0.5 -3.3M282.8 69.4l1.3 -4.2M285.1 65l-0.2 -0.1M287 58.7l-0.6 0.3M282.2 51.4l-2 5M271.7 58l-0.3 1.8M274.9 55.5l-1.2 -4.8M311.6 77.1l-6.5 -2.1M305.1 75l-0.1 -0.9M314.6 76.4l-1.4 -0.3M306.9 33.5l3.6 3.6M315.3 32.1l-0.5 2.4M334.3 48l0.7 -4.8M339.1 99l4.7 -3.3M361.1 62.3l-0.5 -0.1M351.2 58.9l-3.8 -4.8M332.8 54l6.1 -0.6M340 54.7l-1.2 -1.3M265.5 45.3l2 1.8M267.6 47.1l0.6 4.6M267.8 74.3l2.3 1.3M304.4 76.4l0.2 3.7M314.5 43.4l-4.8 2.4M307.6 54.8l3.9 -3.1M313.9 51.9l3.2 6.2M351.1 77.2l-0.2 2.7M344.3 73.4l0.7 2.9M343.4 61.6l1.8 2.1M345.3 63.7l-2 3.3M338.3 58.5l1.7 2.6M345.3 71.7l-2 -4.7M345.7 43.3l0.4 1.9M338.9 49.2l0.8 -0.6M335 43.1l4.9 -0.8M349.8 47.5l-3.7 -2.3M266.5 53.9l-2.3 5.1M266.5 53.7l-3.4 -1.4M271.7 58l-5.1 -4.1M268.1 51.7l-1.6 2M262.2 47.5l0.9 4.8M306.4 90.6l-4.1 -3.7M316.8 46.4l-1.9 4.8M315 51.2l7.2 0.3M345.9 86.9l0.9 3.4M345.9 86.9l-3.4 0.3M336.3 85.5l1.5 -1.7M337.8 83.8l-0.9 -3.9M298.9 92.6l-0.6 -1.1M298.3 91.5l0.1 -0.9M293.7 97.3l-2.6 -5.3M289.4 90.6l1.4 1M294.8 85.5l0.8 0.2" stroke="#b48ad0" stroke-width="0.7" stroke-opacity="0.8" fill="none"/>
<path d="M364.2 104.9h0.8M364.1 104.3h0.8M360.4 103.1h0.8M359.4 103.8h0.8M360 108.3h0.8M360 109.1h0.8M361.2 99.5h0.8M360.8 100.1h0.8M364.7 82.5h0.8M365.1 86.8h0.8M357.3 82.8h0.8M362.2 78.1h0.8M359.3 79.6h0.8M360.4 79.1h0.8M364.8 79.9h0.8M359.7 84h0.8M364 84.2h0.8M364 89.4h0.8M364.8 87.8h0.8M363.5 77h0.8M363.7 76.5h0.8M364.8 75.6h0.8M356.6 34.1h0.8M364.5 53.8h0.8M363.2 56.4h0.8M363.2 57.3h0.8M254.2 72.4h0.8M253.2 74.9h0.8M253.2 74.9h0.8M255.3 69.2h0.8M250 65.9h0.8M251.6 67.7h0.8M252.5 62.2h0.8M250.9 63.8h0.8M257.1 68.5h0.8M252.9 61.8h0.8M257 64.7h0.8M252.6 44h0.8M249.8 36.8h0.8M251.1 39.8h0.8M251.3 40.4h0.8M249.9 37.1h0.8M254.1 81.6h0.8M250.6 83.7h0.8M248.7 84.8h0.8M249.2 84.6h0.8M254.1 78.4h0.8M254.5 81.1h0.8M331.4 105.9h0.8M328.5 108.4h0.8M320.8 109.6h0.8M322.8 106.8h0.8M321.5 108.6h0.8M325.3 106.8h0.8M327.1 108.5h0.8M322.7 83.4h0.8M322.5 82.9h0.8M320.4 86.3h0.8M322.4 85.4h0.8M318.1 86.9h0.8M315.9 85.6h0.8M316.1 82h0.8M319.3 90h0.8M319.1 88.9h0.8M292.7 106h0.8M296.5 106.9h0.8M293.6 105.6h0.8M297.3 107.2h0.8M317 107.2h0.8M317 107.2h0.8M320.2 103.5h0.8M319 103h0.8M322.9 104.7h0.8M362.3 34.3h0.8M360.8 33.5h0.8M365.5 33h0.8M365.2 33.2h0.8M357.9 53.5h0.8M359.2 50.3h0.8M358.5 52.2h0.8M357 46.3h0.8M355.4 47.7h0.8M354 50.2h0.8M355.8 53.6h0.8M356 53.9h0.8M363.7 50.8h0.8M362.5 47.9h0.8M363.7 50.6h0.8M361.4 54.8h0.8M362.4 54.9h0.8M305.5 33.5h0.8M303.7 34.6h0.8M302 36.2h0.8M297.7 35h0.8M296.7 32.7h0.8M297 33.5h0.8M286.8 48.4h0.8M288.3 48.7h0.8M286.3 47.5h0.8M286.4 47.8h0.8M290.9 45.2h0.8M290.6 47.5h0.8M291 45h0.8M289.8 42.9h0.8M289.2 42.8h0.8M287.3 43.2h0.8M288.7 33.9h0.8M289.8 35.7h0.8M284.1 33.4h0.8M284.9 32.8h0.8M284 36.3h0.8M283.5 34h0.8M285 37.8h0.8M287.3 37.5h0.8M290 36.3h0.8M291.9 33.3h0.8M291.7 33.7h0.8M283.3 33.7h0.8M292.5 41.8h0.8M293.3 40.8h0.8M294.1 39.9h0.8M290.1 36.3h0.8M289 38.5h0.8M289.3 40.8h0.8M294.9 36.7h0.8M294.8 36.7h0.8M263.9 70.8h0.8M266.1 72.7h0.8M268.7 68.3h0.8M269.1 67h0.8M268.5 69.2h0.8M265.1 66.2h0.8M268.6 66.4h0.8M263.4 64.2h0.8M263.7 64.6h0.8M269.4 64.1h0.8M269.5 62.3h0.8M265.1 60.3h0.8M266.8 60.7h0.8M262.6 62.8h0.8M259.9 69.9h0.8M261.6 69.5h0.8M257.2 68.6h0.8M257.2 64.7h0.8M260.3 63.1h0.8M252.6 60.5h0.8M258.8 62.3h0.8M257.2 58.2h0.8M253.2 59.6h0.8M254.4 29.6h0.8M255.4 31.3h0.8M254.6 35.7h0.8M250.6 36.4h0.8M251.2 36.3h0.8M253 43.4h0.8M256.6 40.8h0.8M255 37.1h0.8M255 37h0.8M256.4 84.9h0.8M255 82.5h0.8M253.2 90.3h0.8M256.4 85.8h0.8M255.7 87h0.8M251.8 92.2h0.8M256.3 91.7h0.8M258 92.6h0.8M258.3 94.8h0.8M252.3 95.5h0.8M252.5 96.4h0.8M254.1 96.8h0.8M254.6 96.6h0.8M257.9 95.4h0.8M274.9 107.5h0.8M273.9 105.2h0.8M271.8 104.6h0.8M267.6 108.4h0.8M360.5 95.7h0.8M360.3 95.3h0.8M355.7 101.6h0.8M356 96.2h0.8M355.8 99.3h0.8M359 94.8h0.8M358.3 94.8h0.8M362.7 90.9h0.8M360.5 94.1h0.8M360.7 89.4h0.8M361.5 89.9h0.8M339.1 107.6h0.8M338.5 107.8h0.8M354.1 107.8h0.8M353.9 106.5h0.8M354.2 105.4h0.8M351.1 107.5h0.8M350.4 107.5h0.8M291.5 65.1h0.8M290.7 67.2h0.8M294.7 70.8h0.8M294.4 70.9h0.8M292.8 71.4h0.8M291.3 69.7h0.8M295.7 68h0.8M292.7 71.6h0.8M289.8 68.6h0.8M287 72.3h0.8M288.6 73h0.8M287.5 69.4h0.8M289.2 64.5h0.8M290.3 64.4h0.8M287.4 68.7h0.8M287.5 68.9h0.8M272.2 60.6h0.8M274.7 61.9h0.8M275.3 63.5h0.8M269.9 61h0.8M297.4 45.6h0.8M292 43.9h0.8M294.8 44.8h0.8M296.9 46.4h0.8M296.3 47.3h0.8M294.7 49.7h0.8M286 48.9h0.8M283.3 51h0.8M288.8 54.6h0.8M284.3 52.2h0.8M283.7 51.7h0.8M293.7 59h0.8M293.7 59.4h0.8M296.5 61.9h0.8M296.6 56.1h0.8M300.1 58.2h0.8M300 57.6h0.8M294.5 56.6h0.8M300.1 62h0.8M290.3 60.5h0.8M291.2 60.9h0.8M293.4 59.6h0.8M290.8 54.3h0.8M287 57.7h0.8M291.2 61.4h0.8M291 62.6h0.8M296.3 63.2h0.8M295.4 64.6h0.8M295.5 50.6h0.8M296.3 51.5h0.8M296.3 54.7h0.8M299.3 51.9h0.8M298.8 52h0.8M303.4 52.8h0.8M361.3 61.9h0.8M361.1 63.3h0.8M361.7 64.4h0.8M361.1 63.3h0.8M356.4 72.7h0.8M356.9 72.2h0.8M358 71.8h0.8M360 73.5h0.8M360 73.5h0.8M357.8 71.6h0.8M367 73.6h0.8M366.5 72.8h0.8M360.1 70.1h0.8M361.2 69.4h0.8M360.9 69.6h0.8M331 98.8h0.8M332.1 101.4h0.8M334 101.6h0.8M334.1 95.9h0.8M334.4 95.8h0.8M335.2 95.6h0.8M331.5 102.9h0.8M337.4 105.7h0.8M337.4 104.3h0.8M337.3 107.2h0.8M341.8 102.5h0.8M340.4 101.8h0.8M312.3 82.4h0.8M310.8 81.1h0.8M308.1 81.5h0.8M309.8 80.7h0.8M314.1 84.1h0.8M313.2 84.5h0.8M312.7 84.7h0.8M307.9 85.1h0.8M307.9 85.2h0.8M308.4 88.1h0.8M313.5 89.8h0.8M313.5 89.7h0.8M315.5 86.8h0.8M314.9 84.2h0.8M330.2 82.1h0.8M331.1 83.8h0.8M305.5 96.6h0.8M305 97.4h0.8M305.2 94.6h0.8M299.3 92.7h0.8M304.8 93.5h0.8M300.4 92.9h0.8M298.1 94.3h0.8M297.7 96h0.8M298.8 98.3h0.8M300 99.2h0.8M296.3 96.8h0.8M296.9 101.7h0.8M294.2 102.7h0.8M292.6 100.9h0.8M299.1 100.2h0.8M293.6 104.4h0.8M298.5 107.6h0.8M300.3 105.2h0.8M299 101.8h0.8M288.1 106.2h0.8M288.8 106.4h0.8M291.4 99.8h0.8M288.2 101.1h0.8M288.3 100.9h0.8M287.3 103h0.8M284.4 106.2h0.8M284.6 106h0.8M276.7 104.9h0.8M280.1 102.5h0.8M279 103.3h0.8M282.8 104.3h0.8M282.7 104.2h0.8M311.7 106.4h0.8M310.2 104.5h0.8M308.7 104.2h0.8M305.5 105.3h0.8M315.6 107h0.8M314.2 107.7h0.8M302.2 105.9h0.8M302.2 105.9h0.8M305.7 103.3h0.8M304.2 98.7h0.8M305.7 103.3h0.8M315.2 101h0.8M316.2 101.2h0.8M319.1 98.2h0.8M319.8 97.1h0.8M319.7 95.2h0.8M319.7 94.6h0.8M313.8 93.4h0.8M315 93.6h0.8M311.5 96.5h0.8M311.3 97.5h0.8M310.7 102.9h0.8M311.6 101.8h0.8M323.4 98.9h0.8M320.3 97.2h0.8M313.2 92.9h0.8M307.4 96.5h0.8M306.9 96.5h0.8M307.8 89.5h0.8M305.6 91.5h0.8M305.6 91.7h0.8M349.2 33.9h0.8M353.2 35.2h0.8M349.9 35.1h0.8M365.1 39.2h0.8M360.8 40.1h0.8M361.5 43.8h0.8M362.1 46h0.8M360.6 40.6h0.8M364 45.8h0.8M362.8 36.3h0.8M357.6 38.5h0.8M355.6 35.5h0.8M359.9 40.2h0.8M355 44.5h0.8M357.4 41.1h0.8M355.8 42.7h0.8M356.2 42.3h0.8M341.3 35.5h0.8M342.9 34.6h0.8M343.4 33.9h0.8M340.1 34.9h0.8M340.6 35.6h0.8M344.7 32.4h0.8M348.8 36.5h0.8M348.3 37.1h0.8M343.2 35.5h0.8M346.6 37.9h0.8M332.7 34.4h0.8M333 36h0.8M338.7 37.2h0.8M335.3 37.1h0.8M339.2 37.3h0.8M335 31.5h0.8M334.5 31.7h0.8M333.1 32.1h0.8M340.1 36.4h0.8M294.1 39.9h0.8M295.3 40.5h0.8M298 45.1h0.8M298.2 43.9h0.8M302.5 50.4h0.8M302.5 50.3h0.8M302.3 47.8h0.8M300.5 46.8h0.8M300.5 39.6h0.8M299.7 40.5h0.8M276.4 46.5h0.8M275.3 43.5h0.8M275.1 42.3h0.8M281.6 41h0.8M280.9 41.2h0.8M278.8 41.5h0.8M277.2 48.3h0.8M282.1 43.4h0.8M282 43.4h0.8M282.2 43.1h0.8M282.5 42.3h0.8M271.7 44.7h0.8M271.5 47.2h0.8M272.2 48.3h0.8M274.6 49.5h0.8M276.5 48.5h0.8M284.3 43.2h0.8M280.9 50.2h0.8M282 40.8h0.8M283.6 38.7h0.8M268.6 41.3h0.8M271.5 43h0.8M268.4 39.8h0.8M274.5 38.8h0.8M274.7 39.8h0.8M272 37.6h0.8M273.4 37.2h0.8M261.2 39.7h0.8M261.6 40.2h0.8M261.3 39.3h0.8M261.4 39.3h0.8M268.1 41.8h0.8M265.6 44.3h0.8M267.3 38.2h0.8M266.1 38h0.8M263.4 37.5h0.8M277.9 34.1h0.8M276.5 30.5h0.8M276.3 30.3h0.8M276.9 35.4h0.8M272.8 34.4h0.8M273.2 35.1h0.8M275.2 29.4h0.8M273.5 30.2h0.8M280.1 32.1h0.8M280.3 38.8h0.8M279.4 37.7h0.8M281.9 40.9h0.8M269.4 32.2h0.8M268.4 33.7h0.8M268.1 36.4h0.8M257.4 40.4h0.8M258.9 40.9h0.8M258.9 45.2h0.8M258.9 46.6h0.8M255.1 48.2h0.8M254.7 48.5h0.8M254.4 51.7h0.8M254.8 56.9h0.8M254.7 53h0.8M259.9 33.9h0.8M262 34.8h0.8M257.1 33.6h0.8M260.7 39.9h0.8M262.2 36.9h0.8M264.8 32.5h0.8M267.2 32.8h0.8M264.9 75.6h0.8M266.4 74.8h0.8M274.2 84.9h0.8M273.4 84.6h0.8M275.8 88.2h0.8M275.7 87.1h0.8M269.2 87.7h0.8M269.6 88.7h0.8M275.2 91.1h0.8M275.8 91h0.8M290.8 75.2h0.8M289.6 77.4h0.8M286.3 78.2h0.8M291.1 74.2h0.8M285.7 72.9h0.8M286 78.1h0.8M285.8 76.3h0.8M280.5 70.6h0.8M280.7 70.4h0.8M282.7 69.7h0.8M284.2 71.1h0.8M282.1 74.3h0.8M284.1 73.7h0.8M277.9 83.5h0.8M277.8 80.7h0.8M279.6 84.4h0.8M280.1 84.5h0.8M281.1 84.7h0.8M283.6 83.2h0.8M283.7 84.5h0.8M281.5 78.2h0.8M277.9 78.3h0.8M280.8 91.4h0.8M277.4 91.8h0.8M281.5 89.6h0.8M282.5 86.4h0.8M282.1 87.9h0.8M275.7 85.2h0.8M277.6 84.3h0.8M285.1 85.1h0.8M289.3 83.9h0.8M291.2 82.6h0.8M290.9 81.5h0.8M290 80.1h0.8M283.7 79.7h0.8M281.3 74.7h0.8M282.7 92.1h0.8M287.1 86.5h0.8M287.6 87.5h0.8M286.2 91.5h0.8M284.3 92.1h0.8M280.2 99.8h0.8M278.8 98.4h0.8M278.2 95.7h0.8M278 97h0.8M282.1 99.1h0.8M281 99.7h0.8M284 93.7h0.8M283.6 93h0.8M287.3 98.1h0.8M286.2 97.2h0.8M264.3 88.6h0.8M263.5 89.4h0.8M265 86.5h0.8M263.9 83.6h0.8M261.2 89.3h0.8M259.4 86.9h0.8M261.1 89.1h0.8M269.3 81.3h0.8M267.1 81.5h0.8M264.6 81.9h0.8M271.4 83.5h0.8M268.9 87.4h0.8M266.8 87.4h0.8M258.1 85.7h0.8M259.4 93.1h0.8M261.7 92h0.8M262.2 91.2h0.8M264 77.8h0.8M264.1 78.2h0.8M268.3 94.2h0.8M273 96.5h0.8M272.3 95.7h0.8M271.9 95.2h0.8M268.1 98.8h0.8M268.1 99.5h0.8M273 99.6h0.8M271.7 99.7h0.8M262.9 92.6h0.8M267.7 94.2h0.8M266.8 94h0.8M275.9 98h0.8M273.3 102.3h0.8M273.3 103.2h0.8M266.9 101.3h0.8M267.5 100.3h0.8M257.9 103.8h0.8M262.6 106.4h0.8M260 105h0.8M263.4 106.5h0.8M264.4 103.9h0.8M257.7 102.2h0.8M258 101.9h0.8M260.8 100.1h0.8M265 101.2h0.8M266.5 101.2h0.8M265.4 108.2h0.8M258.2 95.4h0.8M259 97.9h0.8M254.4 100.6h0.8M256.7 103.1h0.8M352.9 101.7h0.8M354.5 102.3h0.8M348.2 104.7h0.8M348.4 106h0.8M348.3 103.2h0.8M349.1 102.1h0.8M343.4 103.3h0.8M347.6 103.6h0.8M346.9 103.5h0.8M296.7 71.2h0.8M297.3 73.7h0.8M297.3 73.7h0.8M291.6 75h0.8M294.9 77.1h0.8M303.1 62.4h0.8M304.7 64.9h0.8M304.4 64.2h0.8M300.2 65.7h0.8M300.7 63h0.8M305.2 66.7h0.8M304.8 67.1h0.8M301.7 68.5h0.8M308.7 60.7h0.8M309 61.4h0.8M305.4 61h0.8M305.5 61h0.8M309.7 67.4h0.8M305.7 66.5h0.8M309 67.8h0.8M298.6 68.1h0.8M296.7 69.1h0.8M300.8 62.2h0.8M301.6 72.6h0.8M297.8 72.2h0.8M303.1 71.5h0.8M303 70.7h0.8M284.2 65h0.8M283.5 65.1h0.8M285.3 61.7h0.8M285.8 59.6h0.8M285.6 60.4h0.8M280.2 62.8h0.8M279.7 61.8h0.8M281.3 57.1h0.8M285.5 58.9h0.8M285.2 58.7h0.8M279 58.3h0.8M282.5 69h0.8M283.4 66.2h0.8M278.4 60.3h0.8M278.7 60.1h0.8M276 65.5h0.8M278.9 65.6h0.8M279.5 65.3h0.8M280.2 55.4h0.8M279.8 56.2h0.8M271.2 58.5h0.8M273.3 56.4h0.8M274.5 55.5h0.8M278.7 56.5h0.8M273.5 51.4h0.8M274.3 54.8h0.8M277.2 68.1h0.8M270.8 67.2h0.8M273 69.7h0.8M275 69.5h0.8M274.1 69.6h0.8M278.9 71.3h0.8M278 70.3h0.8M306.4 75.5h0.8M309.1 76.4h0.8M310 76.7h0.8M311.2 70.6h0.8M312.7 75.7h0.8M311.9 72.7h0.8M309.4 69.8h0.8M306.9 72h0.8M309.3 69.9h0.8M314.1 76.4h0.8M314.3 76.5h0.8M314.8 77.7h0.8M310.6 79h0.8M310.9 78h0.8M303.6 73h0.8M302.3 76.5h0.8M298.1 76.9h0.8M303.3 76.4h0.8M304.6 75.1h0.8M306.8 33.8h0.8M309.2 36.1h0.8M314.1 34.6h0.8M313.1 35.3h0.8M314.5 34.3h0.8M318.1 32h0.8M316.2 32h0.8M334.3 45.5h0.8M333.9 47.7h0.8M332.9 48.7h0.8M332.1 41h0.8M314.5 59.4h0.8M309.8 59.1h0.8M315.3 59.4h0.8M305.2 54h0.8M307.4 55.7h0.8M307.6 56.7h0.8M354.3 93.4h0.8M355.1 94h0.8M350.2 100.4h0.8M343.6 102.7h0.8M344.5 99.1h0.8M345.5 97h0.8M345.3 97h0.8M341.2 97.2h0.8M342 96.7h0.8M344.3 96.4h0.8M332.1 90.1h0.8M335.7 89.9h0.8M331.1 90.2h0.8M335.7 94.4h0.8M336.8 92.3h0.8M336.4 89.8h0.8M334.1 85h0.8M333.5 84.8h0.8M336.1 87.1h0.8M355.1 65.5h0.8M359.7 62.5h0.8M358.9 60.5h0.8M359.8 61.9h0.8M358.3 59.7h0.8M351.7 58.9h0.8M353 58.2h0.8M360.6 62.3h0.8M355.5 67.6h0.8M356.9 70.5h0.8M354.6 65.9h0.8M356.1 56.2h0.8M350.2 58.1h0.8M348.6 56.1h0.8M353.1 51h0.8M354.4 74.6h0.8M349.5 71.7h0.8M352.2 74.7h0.8M347.6 39.9h0.8M353.7 38.2h0.8M355.1 35.5h0.8M352.6 40.3h0.8M348.7 40.7h0.8M351.8 41.4h0.8M349.7 48.6h0.8M352.2 45h0.8M350.6 46.5h0.8M352.8 42.4h0.8M353.4 43.2h0.8M332.4 54h0.8M336 53.6h0.8M337.4 53.5h0.8M336.1 48.6h0.8M336.7 48.7h0.8M331.9 52.2h0.8M331.9 52.3h0.8M338.5 50.6h0.8M338.4 51.7h0.8M339.6 54.7h0.8M338.6 53.6h0.8M260.4 47h0.8M263.9 46.1h0.8M262.2 47.2h0.8M269.1 47h0.8M270.6 46.8h0.8M265.8 45.9h0.8M267.6 50.8h0.8M267.7 51.4h0.8M270.1 78h0.8M270.6 80.7h0.8M271.4 74.7h0.8M277.2 77.7h0.8M277.4 77.9h0.8M269.6 75.5h0.8M272.7 73.1h0.8M272.6 73.6h0.8M275.9 74.1h0.8M276.2 73.7h0.8M253.8 105.2h0.8M254.9 104.5h0.8M258.3 110.9h0.8M256.7 103.8h0.8M257.3 106.5h0.8M256.7 103.9h0.8M304 77.2h0.8M304.7 80.8h0.8M319.8 35.7h0.8M319.1 36.6h0.8M320.3 40.6h0.8M320.4 40.7h0.8M318 38.4h0.8M320.7 32.9h0.8M331.5 39.7h0.8M311.4 38.8h0.8M310.6 37.9h0.8M311.5 38.9h0.8M314.5 42.2h0.8M310.3 45.3h0.8M310.6 45.2h0.8M308.6 39.5h0.8M310 37.5h0.8M308.6 39.4h0.8M308.9 45.6h0.8M306.6 43.8h0.8M314.7 41.9h0.8M316.7 40.5h0.8M305.9 42.2h0.8M305.3 41.8h0.8M306.2 44.9h0.8M306.4 44.7h0.8M309.5 53h0.8M310.5 52.1h0.8M310.5 49.5h0.8M309.7 46.9h0.8M311.5 51.7h0.8M316.5 57.7h0.8M313.7 52.3h0.8M315 54.7h0.8M347.9 82.9h0.8M349.8 80.7h0.8M344.2 81.2h0.8M344.2 81.3h0.8M347.2 76.7h0.8M346.2 76.6h0.8M349.6 77h0.8M343.5 78.7h0.8M350.6 78.4h0.8M343.3 80.2h0.8M351.5 76.1h0.8M344.3 75.1h0.8M352.9 81.2h0.8M356.2 83.1h0.8M351.3 80.3h0.8M353.1 86.2h0.8M354.2 85.1h0.8M350.7 86h0.8M350.3 85.7h0.8M355.1 90.6h0.8M352.9 92h0.8M353.7 91.5h0.8M352.7 91.9h0.8M352.5 89.5h0.8M340.1 61.2h0.8M341 61.3h0.8M344.3 63.1h0.8M344.2 64.9h0.8M344.2 64.8h0.8M341 67.3h0.8M338.5 59.4h0.8M339.2 60.5h0.8M342.5 54.9h0.8M340 54.7h0.8M343.1 60.8h0.8M343.6 57.9h0.8M343.6 57.3h0.8M345.6 54h0.8M344.9 54.4h0.8M343.4 68.2h0.8M344.5 70.6h0.8M341 73.3h0.8M342.4 73.4h0.8M341.1 48.7h0.8M342.4 48.9h0.8M339.5 43.3h0.8M339.4 45h0.8M339.4 44.9h0.8M345.1 46.3h0.8M343.6 48.9h0.8M341.9 42.5h0.8M341.9 42.5h0.8M345.3 43.4h0.8M344.7 51.9h0.8M344.9 52.3h0.8M335.6 43h0.8M334.8 43.1h0.8M347.1 46h0.8M346.7 45.8h0.8M339.8 39.9h0.8M339.7 38.2h0.8M346.6 41.7h0.8M346.7 41.7h0.8M264.6 57.5h0.8M265.5 55.3h0.8M263 52.4h0.8M265 53.3h0.8M262.3 52.5h0.8M260.1 57.3h0.8M260.2 53.9h0.8M261.9 58.2h0.8M267 54.6h0.8M270.8 57.6h0.8M266.2 54h0.8M266.6 53.2h0.8M262.3 50.2h0.8M262.4 51h0.8M258.6 53.3h0.8M258.9 53.4h0.8M256.2 52.7h0.8M302.8 87.7h0.8M304.6 89.3h0.8M303 87.9h0.8M302.7 85.9h0.8M302.4 86.3h0.8M314.6 51.2h0.8M315.5 48.7h0.8M319.2 51.4h0.8M320.5 51.4h0.8M317.7 51.3h0.8M323.6 49.5h0.8M315.8 45.5h0.8M314.5 43.8h0.8M314.5 51.2h0.8M320.9 41.2h0.8M322.1 46.1h0.8M321.6 51.8h0.8M319 56h0.8M321.4 52.1h0.8M325.5 55.8h0.8M323.8 52.2h0.8M346.3 89.5h0.8M342.3 87.2h0.8M345 87h0.8M344 92.7h0.8M343.4 93.3h0.8M341.4 88.2h0.8M341.5 88.2h0.8M346.5 85.5h0.8M346.6 90.4h0.8M346.9 90.4h0.8M343.1 81.1h0.8M341 83h0.8M341.8 86.5h0.8M340.2 83.8h0.8M343.3 95.5h0.8M337.9 91h0.8M336.1 85.4h0.8M337.8 83.8h0.8M337.6 79h0.8M338.7 77.4h0.8M338.3 74.4h0.8M336.8 81.2h0.8M336.9 81.4h0.8M339.7 78.3h0.8M342 79.1h0.8M298.5 92.6h0.8M301.6 87.2h0.8M298.6 90.1h0.8M297.9 91.1h0.8M291.5 93.7h0.8M292.4 95.4h0.8M295.7 91.7h0.8M296.4 91.6h0.8M294.2 91.8h0.8M287.7 95.8h0.8M288.8 94.3h0.8M290 92.8h0.8M289.8 91.1h0.8M290.6 92h0.8M296.9 79.2h0.8M299.1 81.5h0.8M297.2 84.9h0.8M297.8 84.7h0.8M294.6 80.2h0.8M295.4 79.5h0.8M292.3 82.8h0.8M293.5 84.4h0.8M294.7 85.6h0.8M299.5 81.8h0.8M303.1 80.5h0.8M299.2 84.2h0.8M299.9 84.9h0.8M297.5 89.8h0.8M297.5 89.9h0.8M292.8 88h0.8M293 87.6h0.8M291 90.7h0.8" stroke="#5a34a2" stroke-width="1.2" stroke-linecap="round" fill="none" stroke-opacity="0.85"/>
<path d="M320.1 87h0.01M319.4 86.7h0.01M318.3 100.2h0.01M320.4 105.9h0.01M321.9 92.9h0.01M320 104.7h0.01M317 102h0.01M322.6 94.5h0.01M318.9 92.1h0.01M320.3 101.6h0.01M320.1 87.4h0.01M318.6 87.6h0.01M322.3 97.7h0.01M319.4 93.5h0.01M321.1 99.4h0.01M321.1 102.7h0.01M322.2 89.5h0.01M317.6 94h0.01M318.4 89.2h0.01M317.5 87.1h0.01M323 93.7h0.01M321.2 99h0.01M318.8 89.7h0.01M319.3 104.7h0.01M316.9 105.3h0.01M317.1 89.3h0.01M317.7 87.5h0.01M317.4 101.5h0.01M316.8 100.1h0.01M317.8 91.1h0.01M320.2 98.8h0.01M318.9 91.3h0.01M319.1 92.8h0.01M318.3 105.6h0.01M322.4 92h0.01M321.8 94.4h0.01M323.1 105.4h0.01M316.8 96.4h0.01M319.5 90.3h0.01M319.8 88.1h0.01M316.9 104.2h0.01" stroke="#5e2a8c" stroke-width="1.5" stroke-linecap="round" fill="none"/><path d="M320.4 99.8h0.01M319.4 101.6h0.01M318.7 98.1h0.01M320.4 85.5h0.01M318.4 91.1h0.01M318.4 102.5h0.01M318.4 89.7h0.01M319.4 96.8h0.01M317.6 101.2h0.01M318.2 101.8h0.01M317.3 88.3h0.01M317.4 98.2h0.01M321.7 104.6h0.01M321.1 90.8h0.01M322.2 93.7h0.01M322.3 90.9h0.01M319 103.8h0.01M320 105.4h0.01M321.7 104.8h0.01M319.2 105.2h0.01M322.6 106.3h0.01M321.4 99h0.01M322.7 91.9h0.01M320.8 91.9h0.01M318.5 102.8h0.01M319.5 97.3h0.01M318.5 103h0.01M316.6 95.8h0.01M323 93.7h0.01M318.2 94h0.01M319.5 100.8h0.01M319.6 93.4h0.01M319.9 94.8h0.01M316.4 106.1h0.01M319.2 103h0.01M319.9 106.2h0.01M320.9 104.6h0.01M321 106h0.01M322.7 102.5h0.01M320.6 92.8h0.01M319.9 102.2h0.01M323.1 95.7h0.01M317.7 90.1h0.01M322.8 93.4h0.01M317.7 106.3h0.01M320 91h0.01M317.6 93h0.01M318.7 88h0.01M321.5 92.6h0.01M321 99.1h0.01" stroke="#6e3098" stroke-width="1.5" stroke-linecap="round" fill="none"/><path d="M318.6 85.6h0.01M323 99.7h0.01M317.9 101.7h0.01M319 85.5h0.01M318.8 86.1h0.01M322.5 106.1h0.01M322.4 93.9h0.01M321 106h0.01M322 106.4h0.01M317 97.7h0.01M321.1 88.7h0.01M316.9 105.3h0.01M317 100.8h0.01M323 95.7h0.01M320.3 101.8h0.01M319.3 92.4h0.01M316.8 95.2h0.01M316.8 103.5h0.01M317.7 95.5h0.01M321.1 94.4h0.01M317.2 98.3h0.01M319.2 86.1h0.01M322 96.1h0.01M320.5 104.4h0.01M323 100.5h0.01M322.6 98.7h0.01M319.4 100.8h0.01M321.2 96.7h0.01M321.3 92.9h0.01M322.4 100.4h0.01M319.2 92.9h0.01M319.9 89.2h0.01M321.6 105.5h0.01M319.6 104h0.01M317.5 96.2h0.01M320 96.4h0.01M319.9 86.6h0.01M322.6 99.6h0.01M318.5 86.6h0.01M319.4 102.5h0.01M319 105h0.01M318.7 100.3h0.01M321.4 93.3h0.01M321.2 90.2h0.01" stroke="#4a2480" stroke-width="1.5" stroke-linecap="round" fill="none"/><path d="M320.4 105.7h0.01M317.2 91.3h0.01M318.5 92.8h0.01M318 89.4h0.01M319.7 104.1h0.01M320.5 87.8h0.01M319.4 92h0.01M320.5 88.9h0.01M322.6 92.1h0.01M316.8 88.6h0.01M320.9 90.3h0.01M318.4 98.7h0.01M318.4 104.4h0.01M318.2 106.6h0.01M322.4 100.5h0.01M320.9 105.7h0.01M317.3 102.5h0.01M318.1 88.9h0.01M322.1 98.7h0.01M322.1 98.2h0.01M319.5 86.3h0.01M321 96.6h0.01M319.1 86.4h0.01M320.2 89.1h0.01M317.3 96.7h0.01M318 100.2h0.01M319.7 102.7h0.01M320.7 97.4h0.01M319.5 93.4h0.01M321.8 99.8h0.01M320.3 106.6h0.01M321.2 89.3h0.01M318.7 88h0.01M323 103.1h0.01M322.3 90.3h0.01M317.8 100.6h0.01M318.4 101.8h0.01M317.7 87.7h0.01M319.2 99.3h0.01M323.7 105.5h0.01M319 95.2h0.01M316.7 99.4h0.01M318.2 104.5h0.01M317.9 96.2h0.01M319.4 85.6h0.01M322.8 97.6h0.01M320.7 93.5h0.01" stroke="#843aa0" stroke-width="1.5" stroke-linecap="round" fill="none"/><path d="M320.5 98h0.01M316.9 100.3h0.01M320.3 88.9h0.01M323.1 100.7h0.01M318.7 93.1h0.01M318.3 91.8h0.01M320.9 106.1h0.01M317.1 100.6h0.01M321 99.1h0.01M320.4 99.1h0.01M321.7 97h0.01M318.7 100.9h0.01M320.7 95.6h0.01M319.3 97h0.01M319.3 105.5h0.01M316.8 95.3h0.01M318.4 91.2h0.01M317.9 97.2h0.01M319.8 89.9h0.01M322.5 89.7h0.01M320.4 85.6h0.01M319.6 86.7h0.01M322.5 105.7h0.01M319.5 103.6h0.01M320.4 94.5h0.01M321.4 97.8h0.01M318 87h0.01M320.8 93.2h0.01M319 104.8h0.01M317.9 98.8h0.01M316.8 100.6h0.01M322.4 93.1h0.01M321.5 96.1h0.01M320.9 90.4h0.01M318.3 86.9h0.01M318.6 96.5h0.01M317.2 93.5h0.01M318.2 101.4h0.01" stroke="#a050b0" stroke-width="1.5" stroke-linecap="round" fill="none"/>
<path d="M333.4 100.4h0.01M335.5 100.1h0.01M334.8 101.6h0.01M334.7 99.3h0.01M333 91.4h0.01M338 89.6h0.01M336.6 99.6h0.01M334.9 86h0.01M336.2 105.8h0.01M336.4 102.4h0.01M338.1 92.8h0.01M335.3 91.8h0.01M334.7 96.9h0.01M334 93.3h0.01M339.9 88.1h0.01M336 93.1h0.01M334.4 94.2h0.01M334.6 96.1h0.01M334.4 95.3h0.01M337 94.6h0.01M333.5 99.3h0.01M339.7 96.9h0.01M335 105.2h0.01M333.6 93.4h0.01M341.2 90.2h0.01M339.3 102.2h0.01M333.4 98.5h0.01M339.9 92h0.01M340.7 96.2h0.01M335.3 96h0.01M338 101.3h0.01M335.8 105.1h0.01M338.1 103.4h0.01M337.1 98.9h0.01M338.6 92.5h0.01M335.3 104.4h0.01M340.9 101.8h0.01M340.1 94.9h0.01M335.7 105.2h0.01M336.5 101.1h0.01M337.7 103.6h0.01M339 89.4h0.01M335.2 101.6h0.01M333.1 88.3h0.01M333 97.8h0.01M339.2 97.7h0.01M338.2 88.2h0.01M335.6 104h0.01M335.9 103.5h0.01" stroke="#5e2a8c" stroke-width="1.5" stroke-linecap="round" fill="none"/><path d="M334.7 95.5h0.01M338 90.4h0.01M339.9 106.2h0.01M340.2 98h0.01M333.4 95.5h0.01M336.6 96.3h0.01M339.6 103.4h0.01M332.8 90.5h0.01M337.4 85.8h0.01M336.5 98.9h0.01M340.8 107h0.01M334.8 105.2h0.01M334.5 90h0.01M339.4 93.6h0.01M338.5 93.6h0.01M337.1 88.1h0.01M341.2 100.9h0.01M339.6 91.8h0.01M339.7 89h0.01M340.1 102.5h0.01M338.9 87h0.01M334 87.9h0.01M340 100.2h0.01M334.9 98h0.01M340 98.1h0.01M334.6 90.5h0.01M335.7 87.1h0.01M339.1 102.6h0.01M340.8 104h0.01M338.3 95.8h0.01M339.4 99.1h0.01M337.4 105.5h0.01M339.6 95.8h0.01M336.2 98.8h0.01M338.7 96.7h0.01M336 89.2h0.01M336.4 97.7h0.01M340.8 101.7h0.01M337.9 95.3h0.01" stroke="#6e3098" stroke-width="1.5" stroke-linecap="round" fill="none"/><path d="M340.9 104h0.01M337.2 100.3h0.01M339.1 103.9h0.01M336.4 88.1h0.01M336 106.9h0.01M339 94.8h0.01M337.8 92.9h0.01M334.2 105.8h0.01M337.4 97.6h0.01M333.5 93.5h0.01M338 100.7h0.01M333.2 105.6h0.01M334.9 102.1h0.01M333 92.8h0.01M338.5 104.9h0.01M337.9 100.6h0.01M337.3 86h0.01M333.6 90.1h0.01M337.5 106.6h0.01M336.2 91.6h0.01M335 104.2h0.01M338.1 104.1h0.01M338 106.2h0.01M339.7 100.1h0.01M333.4 99.9h0.01M335.4 100.1h0.01M339.9 98h0.01M338 106.2h0.01M337 96.9h0.01M338.4 87.4h0.01M333.1 95h0.01M337.1 97.1h0.01M332.6 100.2h0.01M335.9 99.2h0.01M337.4 89.1h0.01M335.5 101h0.01M335.2 101h0.01M338.1 91.4h0.01M339 100.1h0.01M340.3 102.6h0.01M333 98.5h0.01M341.2 101.4h0.01M337.9 87.7h0.01M335.8 91.4h0.01M340.7 107h0.01M340.6 106.3h0.01M337.6 100.3h0.01M337.9 88.8h0.01M332.9 90.3h0.01M340.3 88.9h0.01M339.6 95.5h0.01M335.7 93.7h0.01" stroke="#4a2480" stroke-width="1.5" stroke-linecap="round" fill="none"/><path d="M334 93.6h0.01M335.8 86.8h0.01M335.8 85.3h0.01M338.4 99h0.01M340.9 105.4h0.01M338.9 95.6h0.01M336.2 94.6h0.01M332.6 92.4h0.01M341.1 100.9h0.01M337.4 92.6h0.01M336.3 105h0.01M338.8 101.5h0.01M334.6 95.8h0.01M338.5 93.8h0.01M335.7 89.5h0.01M338.2 106.4h0.01M340.7 89.3h0.01M338.7 96.1h0.01M340.2 106.4h0.01M336.7 99.1h0.01M335.1 85.8h0.01M335.8 105.4h0.01M338.6 105.4h0.01M336.6 93.7h0.01M341 100.2h0.01M334 91.2h0.01M341 106.1h0.01M335.7 94.7h0.01M335.9 90.1h0.01M335.7 94.5h0.01M339.7 103h0.01M335.1 91h0.01M334.4 106h0.01M334.2 90.4h0.01M338.6 99.1h0.01M335.9 95.8h0.01M333.8 94.8h0.01M333.3 103.9h0.01M335.7 92h0.01M340.6 103.8h0.01M333.2 96.2h0.01M333.5 99.4h0.01M339.9 103.7h0.01M338.9 88.3h0.01M340.5 97.1h0.01M339.7 100.7h0.01M335.9 97.8h0.01M337 85.7h0.01M336.5 99.3h0.01M334.8 99.6h0.01M335.7 92.4h0.01M334.1 98.6h0.01" stroke="#843aa0" stroke-width="1.5" stroke-linecap="round" fill="none"/><path d="M337.9 95.5h0.01M335 88.9h0.01M334.7 101.8h0.01M335.8 98.5h0.01M333.5 103.6h0.01M336.2 90.5h0.01M339.6 92.7h0.01M338.9 106.3h0.01M339.7 104h0.01M334 89.7h0.01M336.2 93.6h0.01M335.6 104.5h0.01M339.5 99.3h0.01M336.4 85.3h0.01M337.8 105.5h0.01M337.5 88.2h0.01M341.2 95h0.01M335.8 90.7h0.01M333.6 102.4h0.01M337.2 101.6h0.01M335.6 88.6h0.01M338.6 103h0.01M337.5 99.4h0.01M339.7 104.6h0.01M334.2 101.4h0.01M333 90.1h0.01M336.9 98.5h0.01M335.4 93.4h0.01M335.8 85.1h0.01M332.7 106.5h0.01M335.7 88.7h0.01M332.6 91.5h0.01M340 91.7h0.01M332.7 105.6h0.01M338.1 88h0.01M336.2 94h0.01M334.6 95.6h0.01M340.3 96h0.01M337.4 104.4h0.01M337.4 85.2h0.01M340.7 93.8h0.01M338.5 100.6h0.01M336 102h0.01M335.9 96.3h0.01M333.8 101.1h0.01M340.1 105.6h0.01M335.8 94.7h0.01M332.6 89.1h0.01" stroke="#a050b0" stroke-width="1.5" stroke-linecap="round" fill="none"/>
<path d="M360.9 91.5h0.01M352.5 95.1h0.01M357.6 88.2h0.01M352.9 94.3h0.01M355.5 98.2h0.01M354 96.6h0.01M359.4 101.1h0.01M361.6 94.1h0.01M360.2 89.9h0.01M357.9 96.6h0.01M354.5 91.9h0.01M358.2 93.3h0.01M354 90.5h0.01M360 99.3h0.01M352.9 99.3h0.01M353.4 96.6h0.01M350.3 89.9h0.01M351.7 91h0.01M359.7 96.8h0.01M357.4 95.3h0.01M358.7 99.1h0.01M352.2 100.1h0.01M362.4 101h0.01M356 99.2h0.01M356.1 101.9h0.01M361.8 99.4h0.01M353 97.1h0.01M355 97.7h0.01M361.1 98.1h0.01M358.7 90.3h0.01M357.4 92.4h0.01M360.5 92.6h0.01M355.1 90.3h0.01" stroke="#5e2a8c" stroke-width="1.5" stroke-linecap="round" fill="none"/><path d="M352.3 92.5h0.01M362.3 97.8h0.01M358.1 101.6h0.01M361 99.2h0.01M356.3 91h0.01M360.3 93.9h0.01M359 89.1h0.01M352.6 95.7h0.01M357.2 93.4h0.01M361.7 101.8h0.01M353.2 97.5h0.01M356.2 91.2h0.01M362.6 93.5h0.01M356.2 100.7h0.01M362 101.3h0.01M358 90.8h0.01M356.1 100.7h0.01M356.3 96.4h0.01M360.7 92h0.01M360.5 95.4h0.01M354.6 92.5h0.01M358.2 93.5h0.01M354.5 90.7h0.01M356.2 94.2h0.01M357.9 101.9h0.01M359.6 99.7h0.01M358.9 97.7h0.01M352.1 97.6h0.01M359 90.5h0.01M352.9 101.2h0.01M353 92h0.01M352.2 99.7h0.01M351.6 92.2h0.01M353.7 91.9h0.01M357.9 89.6h0.01M356.2 96.1h0.01M355.8 93.9h0.01M356.4 90h0.01M353.4 94h0.01M358.2 90.3h0.01M351.7 96.3h0.01M352.9 93.7h0.01M351.7 91.5h0.01M357.2 88.6h0.01M359 94h0.01M361.7 100.7h0.01M357.9 89.9h0.01" stroke="#6e3098" stroke-width="1.5" stroke-linecap="round" fill="none"/><path d="M354 100.1h0.01M362.1 90.6h0.01M354.1 93.8h0.01M355.6 93.8h0.01M355.1 94.9h0.01M354.5 101.1h0.01M358.7 92.4h0.01M355.6 89.9h0.01M356.3 95.5h0.01M362.1 96h0.01M356.8 88h0.01M361.9 94.1h0.01M361.8 99.4h0.01M354.8 90.4h0.01M353.4 92.1h0.01M358.7 101.3h0.01M358 93.8h0.01M361.7 98.5h0.01M357.6 95.8h0.01M359.4 91.8h0.01M354.8 101.8h0.01M351.7 97.6h0.01M354.4 95.4h0.01M360.8 97.6h0.01M354.1 98.1h0.01M355.1 91.2h0.01M356.7 97.8h0.01M360.5 96.5h0.01M355 99.3h0.01M355.1 98.2h0.01M351.5 97.4h0.01M359.8 99.4h0.01M357.4 100h0.01M352.7 97.5h0.01M353.6 97.6h0.01M353.4 93.5h0.01M353.5 88.6h0.01M354.9 93.6h0.01M354.7 101.7h0.01" stroke="#4a2480" stroke-width="1.5" stroke-linecap="round" fill="none"/><path d="M357.6 99.8h0.01M360.6 96.1h0.01M362.5 101.6h0.01M354.9 91.5h0.01M362.9 94.8h0.01M356.1 98.6h0.01M356.3 94.7h0.01M353.6 88.8h0.01M352.4 91.6h0.01M359.3 92.2h0.01M358.5 91.3h0.01M361.2 96.1h0.01M357.1 96.3h0.01M362.5 99.8h0.01M354.1 92.7h0.01M357.6 88.8h0.01M350.8 94.2h0.01M362 94.2h0.01M357.4 88.6h0.01M357.2 97.6h0.01M359.1 98.4h0.01M359.5 89.1h0.01M359.5 98.9h0.01M361.1 97.7h0.01M352.4 90.8h0.01M355.7 87.7h0.01M357.5 95.9h0.01M352.8 96.6h0.01M360.3 91h0.01M352.4 101.2h0.01M353.6 90.5h0.01M352.3 89.9h0.01M352.6 95.4h0.01M352.7 93.4h0.01M356.1 93.8h0.01M353.2 96.8h0.01M352.8 90.4h0.01M354.4 88.6h0.01M360.7 90.7h0.01" stroke="#843aa0" stroke-width="1.5" stroke-linecap="round" fill="none"/><path d="M357.1 95.5h0.01M362 98.2h0.01M359 100h0.01M353 97.8h0.01M361.3 93h0.01M357.4 90.4h0.01M361.4 97.7h0.01M357.7 87.7h0.01M356.8 91.8h0.01M358.6 99.6h0.01M357 100.5h0.01M357.3 95.7h0.01M354 91.5h0.01M357.4 97h0.01M359 98.7h0.01M353.5 97.7h0.01M361.4 100h0.01M362.7 97.7h0.01M356.9 88.4h0.01M361.9 92.5h0.01M356 99.8h0.01M359.4 96.1h0.01M357.6 98.2h0.01M351.9 89.2h0.01M354.1 98.1h0.01M359.9 96.9h0.01M352.3 97.9h0.01M356 91.2h0.01M356.5 87.9h0.01M354.2 89.8h0.01M361.8 96.5h0.01M355.8 99.2h0.01M353.3 99.8h0.01M362.4 98.2h0.01M358.4 96.8h0.01M359.4 92.1h0.01M358.5 96.5h0.01M351.7 93.4h0.01M361.2 92.3h0.01M360.6 100.3h0.01M353.8 89.6h0.01M352.2 89.5h0.01" stroke="#a050b0" stroke-width="1.5" stroke-linecap="round" fill="none"/>
<path d="M295.1 97.3h0.01M299.6 101.3h0.01M300.4 99.5h0.01M299.4 97.3h0.01M290.8 101.8h0.01M295.2 94.1h0.01M298.5 99.7h0.01" stroke="#c468b4" stroke-width="1.1" stroke-linecap="round" fill="none"/><path d="M301 98.9h0.01M300.4 101.3h0.01M301.7 97.9h0.01M300.8 93.5h0.01M300.4 96.2h0.01M296.8 100.3h0.01M299.4 94h0.01M298.3 98.1h0.01M299.8 96.9h0.01M290.3 104.7h0.01M297.7 97.6h0.01M292.8 99h0.01M301.8 97.3h0.01M296.6 96.5h0.01M293.7 102.9h0.01" stroke="#b050a8" stroke-width="1.1" stroke-linecap="round" fill="none"/><path d="M294.2 105.4h0.01M300.4 95.7h0.01M290.5 101.9h0.01M304.4 103.8h0.01M304.6 104.5h0.01M299.2 104.7h0.01M298.7 100.7h0.01M303.7 103.2h0.01M303 100.4h0.01M302.2 98.3h0.01" stroke="#7a48b0" stroke-width="1.1" stroke-linecap="round" fill="none"/><path d="M304 98.2h0.01M298.6 97.5h0.01M299.1 99.4h0.01M302.2 95.4h0.01M302 100h0.01M300.1 102h0.01M293.5 99.8h0.01M301.9 94.2h0.01" stroke="#d890c8" stroke-width="1.1" stroke-linecap="round" fill="none"/></g></g>
<rect x="254.3" y="33.3" width="108.70" height="72.30" fill="none" stroke="#444" stroke-width="1.1"/>
<g clip-path="url(#cb2)"><rect x="366.2" y="33.3" width="108.30" height="72.30" fill="#fff"/><g filter="url(#wob)"><path d="M478.6 92.4l-5.2 5.9M478.6 92.4l-3.8 -4.6M364.8 65.1l1.3 -9.5M392.3 84.2l12.2 -4.6M441.2 90.9l-5.1 3.6M441.2 90.9l7 2.9M433.1 94.1l3 0.3M433.1 94.1l-4.7 4.7M428.4 98.9l-0.6 3.8M418.3 102.4l-1.8 -8.6M418.3 74.5l5.1 -3.1M441.6 104.1l4.6 2.1M365.8 105.3l-1.1 -10M364.7 95.3l2.2 -1.4M364.1 83.9l3.9 7.2M386.7 101.2l-8.2 2.6M407.7 34.4l0.8 8.9M406.1 33.5l1.6 0.9M426.7 28.4l-1 9.2M421.1 62.5l5 -5.4M421.1 62.5l2.3 8.9M426.1 57.1l4.6 1M395.9 73.5l1 -6M406.1 33.5l-6.1 0.9M400 34.4l-4.9 -3.6M471.8 61.5l4.8 4.5M473.6 76.6l-1.4 -4.8M473.6 76.6l6.8 2.7M471.3 87.8l-4.1 -4.4M473.6 76.6l-6.1 3.9M450.4 85.1l-0.9 8.4M449.5 93.6l1.6 0.9M418.3 102.4l-8.5 3.1M387.3 98.6l-0.7 2.5M387.3 98.6l-3.2 -4.4M358.3 50l11 -6.3M401.9 62.1l-0.4 3.1M396.9 67.5l-5 -2.4M407.5 58.8l5.7 2.5M395.2 55.8l0.1 -0.7M395.2 89.2l-2.3 6.9M376.1 85.3l8.9 -2.3M437.5 33.6l0 0.3M447.1 70.8l1.4 0.4M448.5 71.2l2.4 3.1M450.9 74.3l-2.2 9M440.7 82.9l-1.9 -1.8M443.4 63.2l-10.3 4.4M441.2 90.9l-0.5 -8M472.2 71.8l-6.6 -2.6M461.2 74.8l1.3 -3.8M473 57l-6.5 -4.9M404.8 91.4l6.7 3.7M416.5 93.7l-5 1.3M404.6 90.8l0.2 0.5M391.2 33.5l-0.3 9.7M380.5 35.8l0.8 5.1M379.4 73.4l4.1 2.8M394.2 74.5l-5.5 -2.5M385 83l-1.5 -6.8M374.3 73.7l5.1 -0.3M467 47.7l6.4 -1.8M442.5 40l7 -4.6M442.5 40l-0.3 2.5M465.1 45.9l1.3 -9.2M449.5 35.5l5.7 8.7M448.2 48.6l-5.8 7.6M442.2 42.6l6 6" stroke="#a58ad0" stroke-width="0.65" stroke-opacity="0.8" fill="none"/>
<path d="M473.5 100.8l-0.2 -2.5M471.3 87.8l-2.8 5.7M395.2 89.2l9.4 1.6M395.2 89.2l-2.9 -5M436.1 94.4l5.5 8.1M436.2 107.9l-8.4 -5.3M436.2 107.9l5.5 -3.8M421.4 92.8l-4.8 0.9M425.2 85.7l-8.1 -4.5M424 105.1l3.8 -2.5M433.1 94.1l-3.3 -9.5M429.8 84.7l1.6 -2.3M358 68.7l11.3 9.9M366.6 105.9l8 -5.4M414.4 33l-6.7 1.4M369.2 78.6l1.4 -0.2M366.1 55.6l6.2 -1.4M401.5 65.2l-4.6 2.3M473 57l6 -3.4M466.5 105.2l0 -0.2M473.5 100.8l-7 4.2M380.5 35.8l-8.4 -1.8M368.2 37.7l1 6M401.9 62.1l-6.7 -6.2M391.9 65.1l0.1 -6.3M413.2 46.2l0.4 1.8M408.5 43.3l-6.9 1.9M398.8 42.6l2.8 2.7M401.6 45.3l-0.5 5.4M392.3 84.2l0 0M394.2 74.5l-1.9 9.7M384.1 94.3l2.3 -10.2M392.3 84.2l-5.9 -0.2M426.7 28.4l10.8 5.2M432.4 39.7l5.1 -5.8M447.1 70.8l-6.3 4.1M448.7 83.3l-7.9 -0.4M443.4 63.2l3.7 7.6M432.8 68.5l8 6.5M431.4 82.3l7.5 -1.2M465.6 69.2l-3.1 1.8M409.1 104.6l2.4 -9.6M404.8 91.4l-3.9 10M400.9 101.3l0.1 0.5M392.9 96.1l8 5.2M390.9 43.2l-9.6 -2.3M479 53.6l-5.5 -7.7M467 47.7l-2 -1.8" stroke="#8a68c0" stroke-width="0.6" stroke-opacity="0.8" fill="none"/>
<path d="M474.7 87.7l-3.5 0.1M473.3 98.3l-4.9 -4.8M448.2 93.8l-6.6 8.7M424 105.1l-5.6 -2.8M428.4 98.9l-7 -6.1M429.8 84.7l-4.6 1M427.1 72.3l-3.7 -0.8M369.2 78.6l-5.1 5.3M414.4 33l4.3 6.9M413.2 46.2l-4.7 -2.8M430.7 58.1l2.4 9.5M432.8 68.5l0.3 -0.9M364.8 65.1l6.6 1.1M382.6 33.2l8.6 0.3M473 57l-1.2 4.5M388.6 105l9 1.7M453.8 102.8l-0.4 1M453.8 102.8l8.6 -2.8M453.4 103.8l4 7.7M457.4 111.5l9.2 -6.3M462.4 100l4.2 5M451.1 94.5l2.7 8.3M446.2 106.1l7.1 -2.3M372.1 34l-3.9 3.7M416.2 50.7l-2.3 10.4M413.6 48l-6.9 5.7M406.7 53.7l0.8 5.1M413.9 61.1l-0.7 0.3M400 34.4l-1.3 8.2M406.7 53.7l-5.6 -3M401.1 50.7l-5.8 4.4M395.9 73.5l-1.7 0.9M392.9 96.1l-5.6 2.5M386.5 84l-1.5 -1M450.4 85.1l-1.7 -1.8M458 76.4l-7.2 -2.1M465.6 69.2l1.5 -6.2M448.5 71.2l7.5 -6.6M409.1 104.6l-8.1 -2.8M397.6 106.7l3.5 -4.9M390.5 49.3l0.8 -5.6M390.9 43.2l0.4 0.5M398.8 42.6l-7.4 1.2M395.2 55.1l-4.7 -5.8M388.5 67.7l0.2 4.2M473.5 36.2l2.6 4.9M476.1 41.1l-2.6 4.9M437.5 33.9l5 6.1M449.8 33.3l-0.2 2.1M430.7 58.1l6.3 -3.6M466.4 36.7l-6.2 -0.6M457.9 31.4l2.4 4.6M473.5 36.2l-3.6 -1.9M455.2 44.2l5.1 -8.1M449.8 33.3l8.1 -1.9M443.8 59.3l-1.5 -3.1M437 54.6l5.4 1.6M443.4 63.2l0.4 -3.9" stroke="#c89ad8" stroke-width="0.65" stroke-opacity="0.7" fill="none"/>
<path d="M477.1 93.5h0.8M475.1 95.9h0.8M473 98.9h0.8M474.8 88.4h0.8M473.7 87.8h0.8M468.9 94.4h0.8M469.9 95.3h0.8M470.2 89.3h0.8M470.2 89.1h0.8M365.1 59.8h0.8M365.5 57.5h0.8M365.3 58.4h0.8M397.5 89.7h0.8M397.9 89.7h0.8M404 90.8h0.8M394 87.7h0.8M392.8 85.7h0.8M398.9 81.6h0.8M400 81.1h0.8M402.2 80.3h0.8M394.8 83.1h0.8M437 93.5h0.8M439.7 91.7h0.8M446.1 93.1h0.8M443.3 91.9h0.8M441.1 102.3h0.8M437.2 96.6h0.8M437 96.3h0.8M443.8 99.1h0.8M442.6 100.7h0.8M444.7 97.9h0.8M430.4 104.5h0.8M432.4 105.8h0.8M428.8 103.5h0.8M437.6 106.7h0.8M438.8 105.8h0.8M434 94.3h0.8M429.2 97.7h0.8M431.8 95.1h0.8M428 99.1h0.8M416.8 93.6h0.8M419.4 82.7h0.8M419.8 82.9h0.8M424.6 85.6h0.8M427.4 102.6h0.8M424.8 104.3h0.8M421.3 104h0.8M420.3 103.5h0.8M421.6 93.3h0.8M422.6 94.2h0.8M426.6 97.7h0.8M417.7 101.1h0.8M416.9 97.5h0.8M417.1 98.5h0.8M430.3 87.4h0.8M430.7 88.4h0.8M429.4 84.8h0.8M429.3 84.7h0.8M418.7 74.1h0.8M418.7 74h0.8M430.7 82.8h0.8M425.9 72.1h0.8M444.7 105.6h0.8M364.6 97.8h0.8M364.6 98h0.8M365.1 102.1h0.8M364.5 74.7h0.8M368.7 78.4h0.8M365.4 75.6h0.8M361.5 72.1h0.8M358.5 69.5h0.8M366.4 81.1h0.8M363.9 83.6h0.8M366.2 94.1h0.8M365.8 87.7h0.8M365.8 87.7h0.8M367.5 105h0.8M369.8 103.4h0.8M366.4 105.7h0.8M378.1 103.8h0.8M385.5 101.4h0.8M383.5 102.1h0.8M411.3 33.6h0.8M408.9 34.1h0.8M415.3 35.1h0.8M415.1 34.8h0.8M407.8 39.5h0.8M407.3 34.6h0.8M407.6 37.7h0.8M409.9 44.4h0.8M412.6 46h0.8M425.6 34.6h0.8M425.4 36.3h0.8M425.6 34.2h0.8M424.7 58.3h0.8M424.4 58.5h0.8M420.7 62.6h0.8M420.9 63.3h0.8M421.9 67.4h0.8M429.6 58h0.8M432.2 65.7h0.8M431.4 62.6h0.8M430.5 59h0.8M432.6 67.8h0.8M368 65.7h0.8M370.1 66h0.8M368.5 55h0.8M370.9 54.4h0.8M401 65.2h0.8M397 67.2h0.8M395.9 71.2h0.8M396.5 67.6h0.8M399.7 34.4h0.8M400.6 34.3h0.8M395.6 31.4h0.8M395.3 31.2h0.8M386.4 33.4h0.8M388.6 33.5h0.8M383.7 33.3h0.8M478.1 53.9h0.8M476 55.1h0.8M471.9 59.5h0.8M472.5 57.2h0.8M474.7 64.7h0.8M473.5 63.5h0.8M472 72.5h0.8M474.9 77.3h0.8M477.1 78.1h0.8M467.5 84.2h0.8M471.5 77.7h0.8M468.8 79.4h0.8M469.8 78.7h0.8M449.5 89.3h0.8M449.8 86.6h0.8M449.4 90.9h0.8M449.2 93.6h0.8M409.4 105.4h0.8M415.8 103.1h0.8M416.6 102.8h0.8M396.5 106.6h0.8M391 105.6h0.8M390.6 105.5h0.8M454.7 102.4h0.8M461.2 100.2h0.8M458.5 101.1h0.8M453.1 104.1h0.8M453 103.9h0.8M455.8 109.3h0.8M464.8 106.1h0.8M459.3 109.8h0.8M462.8 107.5h0.8M464.6 103.2h0.8M465.2 103.9h0.8M452.8 100.9h0.8M453 101.7h0.8M449.1 105.1h0.8M450.6 104.6h0.8M452.6 103.9h0.8M468.2 103.8h0.8M472 101.5h0.8M386.3 101h0.8M386.8 98.5h0.8M384.6 95.4h0.8M373.7 34.4h0.8M375.6 34.9h0.8M369.1 36.4h0.8M361.5 47.9h0.8M366.1 45.3h0.8M360.2 48.7h0.8M364.9 46h0.8M368.8 43.2h0.8M368.5 41.8h0.8M401.1 65.2h0.8M400.7 61.3h0.8M398.1 58.9h0.8M393.5 66.1h0.8M394.1 66.4h0.8M391.6 59.2h0.8M391.6 62.4h0.8M415.8 50.7h0.8M414.5 56.4h0.8M415.7 51.1h0.8M411.5 49.4h0.8M412.3 48.7h0.8M406.7 56.2h0.8M407 58.4h0.8M408.4 59.4h0.8M408 59.2h0.8M398.7 40.4h0.8M399.3 36.3h0.8M399 38.4h0.8M403.8 44.5h0.8M403.4 44.6h0.8M399.9 44.1h0.8M404.5 52.8h0.8M401 50.9h0.8M400.9 48h0.8M400.6 50.8h0.8M397.9 52.9h0.8M400.7 50.7h0.8M393.8 74.5h0.8M392.1 83.3h0.8M392.6 80.7h0.8M392.3 82.4h0.8M394.4 90.6h0.8M393.8 92.2h0.8M394.7 89.4h0.8M392 96.4h0.8M385.1 88.2h0.8M384.4 91.2h0.8M383.9 93.7h0.8M390.8 84.2h0.8M387.9 84.1h0.8M383.4 83.3h0.8M377.7 84.7h0.8M384.1 83.1h0.8M435.3 32.8h0.8M430.1 30.3h0.8M431.9 31.1h0.8M433.6 31.9h0.8M432.3 39.2h0.8M434.5 36.8h0.8M432.9 38.6h0.8M444.4 72.3h0.8M445.8 71.4h0.8M448.1 71.3h0.8M449.1 79.8h0.8M450.1 75.7h0.8M449.8 77h0.8M444.9 83.1h0.8M446.7 83.2h0.8M441 82.9h0.8M439.5 82.2h0.8M444.2 65.8h0.8M443.3 63.9h0.8M444.5 66.5h0.8M442.7 63.3h0.8M434.6 66.8h0.8M436.3 66.1h0.8M441.1 64h0.8M435.2 70.8h0.8M438.7 73.6h0.8M436.6 71.9h0.8M449 84.1h0.8M453.3 75.1h0.8M457.3 76.3h0.8M452.7 75h0.8M434.9 81.7h0.8M435.7 81.6h0.8M440.7 89.4h0.8M440.8 90.7h0.8M440.7 88.8h0.8M468.7 70.6h0.8M467.4 70.1h0.8M465.4 68.1h0.8M465.4 68.1h0.8M460.9 74.6h0.8M463.3 70.4h0.8M452.6 67.2h0.8M451.8 68h0.8M452.6 67.2h0.8M468.8 54.1h0.8M472.2 56.8h0.8M402 102.3h0.8M403.1 102.6h0.8M408.2 104.4h0.8M409.3 102.3h0.8M409.3 102.2h0.8M409 103.4h0.8M404.1 91.9h0.8M401.4 98.9h0.8M403.5 93.5h0.8M409.4 94.1h0.8M407.2 92.9h0.8M406.8 92.7h0.8M397.3 106.5h0.8M400.5 102h0.8M412.4 94.7h0.8M398.1 99.8h0.8M397 99.1h0.8M397.7 99.5h0.8M390.2 48.6h0.8M390.2 48.5h0.8M390.6 43.3h0.8M388.8 42.8h0.8M389 42.9h0.8M387.4 42.5h0.8M392.9 43.4h0.8M392.9 43.4h0.8M393.1 52.9h0.8M393.9 53.9h0.8M390.6 39.8h0.8M390.8 35h0.8M390.7 37.2h0.8M380.2 36.5h0.8M388.2 69h0.8M382.6 75.9h0.8M382.6 75.9h0.8M390.5 72.9h0.8M392.8 74h0.8M383.9 80.1h0.8M383.9 79.9h0.8M377 73.5h0.8M376.9 73.5h0.8M475 48.7h0.8M473.6 46.6h0.8M473.6 46.6h0.8M467.8 47.4h0.8M470.5 46.6h0.8M473.1 36.2h0.8M473.3 45.5h0.8M474 44.1h0.8M438.8 36h0.8M441.7 39.6h0.8M449.2 34.7h0.8M445.5 37.9h0.8M442.3 39.9h0.8M441.8 42.6h0.8M435.7 55.1h0.8M436.4 54.6h0.8M465.2 36.6h0.8M463.2 36.4h0.8M459.7 35.8h0.8M458.8 34h0.8M465.7 46.8h0.8M471.1 35.1h0.8M465.8 38.5h0.8M465.3 42h0.8M465 43.7h0.8M459.3 37h0.8M459.6 36.5h0.8M458.6 38.1h0.8M457.3 31.5h0.8M453.2 32.4h0.8M449.2 35.5h0.8M452.6 40.8h0.8M450.6 37.8h0.8M443.1 54.7h0.8M447 49.7h0.8M447.7 48.7h0.8M442.9 58.1h0.8M444.6 45.4h0.8M445.8 46.6h0.8M447 47.8h0.8M436.7 54.6h0.8M439.3 55.4h0.8M443.1 62.3h0.8" stroke="#5a34a2" stroke-width="1.2" stroke-linecap="round" fill="none" stroke-opacity="0.85"/></g></g>
<rect x="366.2" y="33.3" width="108.30" height="72.30" fill="none" stroke="#444" stroke-width="1.1"/>
<g clip-path="url(#cb3)"><rect x="142.5" y="109.3" width="109.00" height="72.20" fill="#fff"/><g filter="url(#wob)"><path d="M253.7 109.3l-2.4 6.3M140 143.3l1.2 -7M143.2 147.3l2.6 -0.6M143.1 124.7l-2.5 2.2M152 152.5l0.8 -0.1M161.2 139.7l3.5 3.4M185.8 105.4l6.5 4.4M248.6 117l-1.5 3.8M154.7 131.9l3.6 -2.3M163.5 134.5l-2.5 4.1M158.1 123.1l-0.3 0.3M177.6 147.1l-0.2 -4.4M163.5 134.5l7.7 2.2M251 185.3l3.9 -3.3M163.7 114.2l2 2.3M163.6 122.9l2.2 -6.4M138 166.6l7.2 3.3M158.2 182.3l-7.1 -3M180.6 180.2l-4.1 0.3M167.6 184.2l4.5 -6.9M170.8 123.2l-4.9 2.1M194.5 136.9l4 -5.7M198.5 131.2l-1.5 -2.3M188 118.2l-5.1 6.1M188 129.8l-4.8 -0.4M243.5 153.3l-3.8 2.6M187.6 117.2l0.4 1M187.6 117.2l-4.9 -2.8M207.5 144.7l3.2 -5.4M210.3 108.5l4.2 7.6M195 109.2l4.1 8.5M212.4 118l2.3 8.4M206.8 126.6l-1.1 -3.1M197 128.9l2 -8.5M221.1 117l-3.4 -1.4M221 125.9l0.1 -8.9M210.5 108.1l8.1 -2.7M231.3 109.6l4.2 8.7M224.2 115.8l7 6.1M231.2 121.9l4.3 -3.6M242.5 111.8l-5.1 6.6M231.2 121.9l-0.8 3.3M236.9 128.5l-5.8 -2M243.5 153.3l-3.5 -8.7M219.2 154.4l-3 -1.2M157 156.7l-1.8 6.3M164.5 162.2l-6.9 2.7M172.7 164.8l0 10.1M194.5 136.9l0.7 1.9M218.8 160.1l5.5 3.4M225 152.1l-5.8 2.3M237.8 155.6l-4.9 5.1M203 138.3l7.5 0.1M201 140.9l2 -2.5M210.7 139.3l-0.1 -0.9M222.6 135.9l7.3 -3M238.1 135.6l-4.1 0.7M216.3 181.6l-4.5 -0.4M174.6 162.2l-0.3 1.6M181.2 167.8l-0.8 4.2M181.8 157l4.6 1.2M248.3 166.1l-3 4.8M228.5 169.1l2.3 5.3M230.8 174.4l-0.1 0.6M225 152.1l0.1 -2.9M186.7 158.1l5.4 4.3M192.4 162.4l6.6 -4.1M199 158.3l-1.3 -5.6M191 181.2l0.3 -0.4" stroke="#a060c0" stroke-width="0.8" stroke-opacity="0.8" fill="none"/>
<path d="M141.5 159.4l2.9 -3.3M142.9 118.5l0.9 -0.5M242.2 109.7l0.2 -0.3M253.7 109.3l-1.9 -2M141.5 159.4l0.3 1.4M145.9 146.7l4.3 -5M150.2 140.8l-4.5 -6M144 134.7l-3.4 -7.7M149.7 119.9l3.6 -4.9M146.7 111.8l5.5 0.1M195.6 108.5l-0.6 0.8M195 109.2l-2.7 0.5M252.6 135.5l-2.1 -2.7M163.1 131.8l-4.8 -2.3M170.4 147.3l7.2 -0.2M153.9 108.9l4.9 -1.1M205.3 110.6l5 -2.2M140.7 182.2l4.2 -3.1M161.8 173.8l2.2 -0.5M171.8 176.4l0.2 1M163.1 131.8l2.8 -3.3M190.7 127.9l6.3 1M254.9 182l-1.9 -6.7M214.1 166.7l9.1 1.7M246.5 163.2l-5.3 -1.8M241.2 161.4l-1.5 -5.6M174 106.7l8.2 3M185.8 105.4l-3.6 4.2M205.3 110.6l-0.7 3.3M212.4 118l-2.4 0.3M217.7 115.6l0.9 -10.2M233 108l-1.7 1.7M243.2 127.8l1.5 4.4M239.5 120.4l-2.1 -1.9M221.5 126.3l8.9 -1.1M230.4 125.2l0.8 1.3M248.4 142.4l-6.3 -0.7M244.7 132.1l-4.7 4.4M242.1 141.7l-2.2 2.8M234.8 152.7l3.1 2.9M240 136.5l-1.9 -0.9M209.3 149.1l-2.2 2.8M148.6 164.9l2.3 -1.9M150.9 163l4.3 0.1M141.8 160.8l6.9 4.1M172.6 134.4l-1 -3.8M171.2 136.7l1.5 -2.3M166 128.6l5.7 2.1M195.2 138.9l5.7 2M207.2 151.8l-7.7 -2.6M198.5 131.2l2.5 0.5M229.9 132.9l4.2 3.4M208.7 175.9l-0.2 1M174.3 163.8l6.8 3.8M177.6 147.1l0.7 1M174.6 162.2l7.2 -5.2M177.9 151.2l3.9 5.8M240.7 171.6l4.6 -0.7M220.1 176.4l5.2 2.7M230.8 174.4l9.2 -1.8M222.6 135.9l0.2 1.3M187.6 168.8l1.8 4.2M182.7 175.5l6 -0.1M186.7 158.1l2.2 -6M199.5 149.2l-1.7 3.5M203.8 168.3l-5.6 2.3M225.3 179.1l0.3 2.7M240.1 180l-5.7 1.5M240 172.6l0.2 7.3M188.6 175.4l2.7 5.2" stroke="#8a4eb2" stroke-width="0.7" stroke-opacity="0.8" fill="none"/>
<path d="M201.5 107l-5.9 1.4M251.7 107.2l-9.3 2.1M251.1 146.9l-2.7 -4.5M141.8 160.8l-3.7 5.8M155.9 145.1l-5.7 -3.4M161 138.6l-5.5 -2.1M142.1 149.4l1.1 -2.1M144.4 156l4.4 0.6M145.9 146.7l6.2 5.8M152 152.5l-3.2 4.2M154.7 131.9l-4.7 -1.6M143.1 124.7l6.5 1.4M157.2 117.4l-3.9 -2.4M170.4 147.3l-3.4 6.3M163.7 114.2l4.4 -5.7M143.4 174.5l1.6 4.6M183 182.8l-2.4 -2.6M164 173.3l7.9 3.1M190.7 127.9l-2.7 1.9M190.7 135.9l-2.7 -6.1M190.7 127.9l-0.2 -8.1M182.9 124.3l0.4 5.2M246.5 163.2l2.4 -7M251.5 166l5.8 5.5M213.5 172.6l6.4 3M223.2 168.4l-3.3 7.1M168.1 108.5l4.8 -0.5M192.3 109.7l-4.7 7.5M207.5 144.7l1.8 4.4M216.7 144.8l-2.5 4.4M204.6 114l5.4 4.3M199.1 117.7l-0.6 1.7M210 118.3l-4.3 5.2M190.5 119.8l8 -0.4M214.6 116l3.2 -0.4M247.2 120.8l-7.7 -0.4M243.2 127.8l-3.5 -1.1M239.5 120.4l0.2 6.3M242.1 141.7l-2.2 -5.2M234.8 152.7l0.5 -6.5M239.7 155.9l-1.8 -0.3M240 144.5l-4.7 1.6M236.9 128.5l1.2 7.1M148.6 164.9l-1.5 4.1M157.7 164.9l0.8 6.3M145.2 169.9l1.9 -1M148.8 156.6l2.1 6.3M164.6 154.4l-0.1 7.8M161.8 173.8l-3.4 -2.6M168 164.9l4.7 0M171.8 176.4l0.9 -1.4M180.4 172l-7.7 3M182 130.5l-7.6 -4M174.4 126.5l-2.8 4.2M190.7 135.9l-4.9 3.9M181.8 137.9l-1.1 -4.2M177.4 142.8l4.4 -4.8M174.3 125.7l0.2 0.8M201.8 144.6l-0.8 -3.8M201.8 144.6l-2.4 3.7M224.8 167.5l-0.4 -4M228.5 169.1l5.8 -3.9M227.6 158.3l5.4 2.3M227 154.2l0.6 4.1M234.8 152.7l-7.7 1.5M237.4 165.9l3.8 -4.4M201 131.7l2 6.6M206.8 126.6l-2 3.6M171.9 155.5l2.7 6.7M181.2 167.8l-0.1 -0.2M178.3 148.2l-0.4 3M251 185.3l-4.9 -3.3M253 175.3l-4.4 -0.1M246.1 181.9l2.4 -6.8M240.7 171.6l-0.7 1M231.2 144.1l-0.5 -2M234 136.3l-3.3 5.8M187.6 168.8l4.6 -6.4M197.3 170.1l-7.9 2.9M199.1 158.3l-0.1 0M243.1 182.3l-2.9 -2.3M234.2 181.9l0.2 -0.5M230.7 175l3.8 6.4M198.3 176.9l-6.9 3.7M198.3 176.9l4.2 2.8M191.3 180.8l0 -0.2M198.2 170.5l0 6.4M208.5 177l-6.1 2.8" stroke="#c878c4" stroke-width="0.8" stroke-opacity="0.75" fill="none"/>
<path d="M142.1 149.4l2.4 6.7M143.8 118.1l2.9 -6.2M142.7 107.9l4.1 4M233 108l9.3 1.7M248.4 142.4l4.2 -6.9M242.2 109.7l0.3 2.2M161.2 139.7l-0.2 -1M150.2 141.7l0 -0.9M150.2 140.8l5.4 -4.2M142.9 118.5l0.2 6.2M149.7 119.9l-5.9 -1.8M153.3 115l-1.1 -3.1M153.9 108.9l-1.7 3M250.5 132.8l0.9 -7M247.2 120.8l0.7 2.3M150 130.3l-0.5 -4.1M157.8 123.5l-7 0.8M163.5 134.5l-0.4 -2.7M155.5 136.6l-0.9 -4.7M145.7 134.8l4.3 -4.5M158.1 123.1l-0.9 -5.8M164.7 143l3.1 0M167.9 143l2.5 4.3M167 153.6l-2.3 0.5M164.6 154.4l0.1 -0.2M177.4 142.8l-6 -3.8M171.2 136.7l0.2 2.2M251.1 146.9l-4.2 6.4M257.3 158.5l-8.4 -2.3M246.9 153.3l2 2.9M163.7 114.2l-0.5 -0.1M157.2 117.4l6.1 -3.3M201.5 107l3.8 3.6M210.5 108.1l-0.2 0.4M145.2 169.9l-1.9 4.6M148.8 180.3l2.2 -1M145 179.1l3.9 1.2M160.1 181l1.7 -7.2M160.1 181l7.5 3.2M176.5 180.5l-4.5 -3.2M163.6 122.9l2.4 2.4M194.5 136.9l-3.8 -1M190.5 119.8l-2.5 -1.6M257.3 158.5l-5.8 7.5M246.5 163.2l1.8 2.9M251.5 166l-3.2 0.1M243.5 153.3l3.4 0M174 106.7l-1.1 1.3M209.3 149.1l4.9 0.1M204.6 114l-5.5 3.7M205.7 123.5l-6.7 -3.1M198.5 119.4l0.5 1M214.6 116l-2.1 2M221.1 117l3.1 -1.3M227.7 110l-7 -7M231.3 109.6l-3.6 0.4M250.5 132.8l-5.8 -0.6M247.9 123.1l-4.7 4.6M221 125.9l0.5 0.4M221.5 126.3l1 9.5M218.8 160.1l0.4 -5.8M214.2 149.2l2 4M147.1 169l5.4 4.3M152.5 173.3l5.9 -2.1M151 179.3l1.5 -6M164.5 162.2l3.5 2.7M168 164.9l-4 8.4M182.7 175.5l-2.1 4.7M182.7 175.5l-2.3 -3.5M180.7 133.8l1.3 -3.2M207.5 144.7l-5.8 -0.1M199.5 149.2l-0.1 -0.9M224.3 163.5l3.3 -5.2M234.3 165.2l-1.4 -4.5M223.2 168.4l1.5 -1M227 154.2l-2.1 -2.1M201 131.7l3.9 -1.5M204.9 130.2l6.3 6.5M222.5 135.8l0.1 0.1M213.5 172.6l-4.7 3.4M216.3 181.6l3.8 -5.2M219.9 175.5l0.2 0.9M211.7 181.2l-3.2 -4.2M167 153.6l4.9 1.9M172.7 164.8l1.6 -1M187.7 147.3l-9.4 0.8M171.9 155.5l6 -4.3M181.1 167.6l5.3 -9.4M237.4 165.9l3.3 5.8M245.3 170.9l3.3 4.3M225.3 179.1l5.3 -4M220.3 143.9l4.8 5.3M220.3 143.9l2.5 -6.7M222.8 137.2l7.9 5M225 149.2l6.2 -5.1M216.7 144.8l3.6 -0.8M235.2 146.1l-4 -2M189 152.1l8.8 0.6M192.4 162.4l-0.3 0M186.4 158.1l0.3 -0.1M197.3 170.1l-4.9 -7.7M197.3 170.1l0.9 0.5M246.1 181.9l-3 0.3M229.4 184l4.9 -2.1" stroke="#b48ad0" stroke-width="0.7" stroke-opacity="0.8" fill="none"/>
<path d="M143.1 153.4h0.8M142.7 152.4h0.8M141.8 158.5h0.8M142.1 158.3h0.8M143.5 117.9h0.8M145.6 113.3h0.8M145 110.5h0.8M142.8 108.4h0.8M195.7 108.3h0.8M196.5 108.1h0.8M253.1 109.6h0.8M251 115.2h0.8M245.3 108.6h0.8M251 107.3h0.8M248.3 107.9h0.8M238.3 109h0.8M232.9 108h0.8M251.8 107.7h0.8M248.8 143.7h0.8M248.8 143.7h0.8M248.7 141.4h0.8M251.5 136.6h0.8M241.9 109.9h0.8M139.4 163.8h0.8M141.2 161.1h0.8M151.3 142.6h0.8M153.2 143.7h0.8M160.7 139.1h0.8M149.8 141.4h0.8M152.8 138.4h0.8M150.6 140.1h0.8M158.1 137.7h0.8M156.2 137h0.8M139.7 142.8h0.8M139.9 141.3h0.8M145.5 146.6h0.8M148.7 142.9h0.8M149.6 140.6h0.8M149.1 139.9h0.8M143 133.3h0.8M140.2 127h0.8M141.7 130.5h0.8M142.5 120.6h0.8M141.5 125.7h0.8M144.4 156.1h0.8M147.1 156.5h0.8M150.3 151.3h0.8M147.2 148.3h0.8M147.6 148.7h0.8M151.5 152.7h0.8M152.1 152.4h0.8M163.5 142.3h0.8M163.3 142.1h0.8M150.9 117.7h0.8M152.3 115.8h0.8M147.7 119.4h0.8M148.9 119.8h0.8M151.3 111.9h0.8M152 112.4h0.8M152.6 110.5h0.8M194.6 109.2h0.8M190.3 108.7h0.8M191.3 109.3h0.8M192.5 109.6h0.8M251.6 134.7h0.8M250.4 130.3h0.8M250.9 126.8h0.8M247.1 119.9h0.8M247.5 118.9h0.8M247.3 122.4h0.8M155.7 131h0.8M155.7 131h0.8M153.6 131.7h0.8M151.3 130.9h0.8M149.5 129.7h0.8M156.5 123.6h0.8M150.9 124.2h0.8M161.2 137.7h0.8M162.8 132h0.8M154.4 132.8h0.8M154.8 134.6h0.8M160.2 130.7h0.8M149 130.9h0.8M145.5 134.5h0.8M148.2 126h0.8M148.9 126.1h0.8M156.8 117.5h0.8M156.9 118.5h0.8M155.8 116.8h0.8M166.8 143h0.8M168.5 144.7h0.8M166.9 153.1h0.8M169.8 147.7h0.8M165.1 154h0.8M175.4 147.2h0.8M172 147.3h0.8M171.9 147.3h0.8M177.1 145.5h0.8M176.3 142.3h0.8M175.9 142.1h0.8M168.3 136h0.8M164.4 134.9h0.8M164.1 134.8h0.8M253.6 182.8h0.8M247.5 151.7h0.8M247.6 151.7h0.8M251.6 157h0.8M251.6 157h0.8M246.6 153.3h0.8M167.5 108.7h0.8M163.5 114h0.8M157.8 116.8h0.8M159.9 115.7h0.8M156.2 108.3h0.8M157.8 107.9h0.8M163.7 114.6h0.8M163.3 122.5h0.8M164 120.6h0.8M203.3 109.1h0.8M204.1 109.9h0.8M208.2 109.2h0.8M209.7 108.6h0.8M142.4 168.8h0.8M144.1 169.6h0.8M144.8 170.1h0.8M144.8 170.1h0.8M141.5 181.4h0.8M143.9 177.3h0.8M153.4 180.5h0.8M151.3 179.6h0.8M150.8 179.4h0.8M149.4 179.9h0.8M147.7 180.1h0.8M181.1 181.2h0.8M176.9 180.5h0.8M177.3 180.5h0.8M159.7 180.9h0.8M161.2 174.4h0.8M163.5 182.6h0.8M160.6 181.4h0.8M161.3 181.7h0.8M167.6 183.5h0.8M168.5 182.2h0.8M168.2 182.7h0.8M163.1 173.4h0.8M166.2 174.3h0.8M171 176.2h0.8M169.1 175.5h0.8M173.8 178.8h0.8M171.8 177.5h0.8M164 123.8h0.8M167.3 124.6h0.8M166.5 124.9h0.8M164.6 129.7h0.8M190.9 128h0.8M191.5 128.1h0.8M189.1 128.8h0.8M191.4 136.2h0.8M195.1 135.5h0.8M194.4 136.5h0.8M197.8 130.7h0.8M190.2 135.8h0.8M189.1 133.2h0.8M190.3 125.1h0.8M190.3 126.3h0.8M189 119.1h0.8M183.4 123.2h0.8M182.7 124.1h0.8M182.7 127.2h0.8M184.3 129.6h0.8M252.4 164.3h0.8M251.7 165.2h0.8M256.3 159.2h0.8M248.3 156.8h0.8M248.2 157.1h0.8M248.3 156.9h0.8M246.7 164.2h0.8M248.1 166.1h0.8M253.1 167.9h0.8M254.9 169.6h0.8M253.6 179h0.8M253.9 179.9h0.8M218.7 167.7h0.8M222.6 168.4h0.8M218.7 167.7h0.8M213.7 172.9h0.8M213.8 172.9h0.8M220.4 173.5h0.8M220 174.5h0.8M240.9 161.5h0.8M242.9 153.4h0.8M243.6 153.3h0.8M239.8 157.8h0.8M174.1 106.8h0.8M178.6 108.4h0.8M179.2 108.7h0.8M168.3 108.4h0.8M171.9 108.1h0.8M185.5 116.3h0.8M183.3 115h0.8M184.1 106.9h0.8M181.8 109.6h0.8M189.3 113.8h0.8M187.9 116h0.8M189.1 114.2h0.8M209.7 140.3h0.8M208.1 143.1h0.8M208.9 149.1h0.8M211.5 149.1h0.8M214 148.8h0.8M209.2 118h0.8M207.3 116.4h0.8M202.1 115.4h0.8M204.1 114h0.8M209.5 118.3h0.8M205.3 123.5h0.8M202.4 122.2h0.8M201 121.5h0.8M198.7 120.4h0.8M198.4 120h0.8M204.9 110.7h0.8M211.9 112h0.8M214 115.7h0.8M213.7 115.2h0.8M210.2 118.2h0.8M195.6 111.4h0.8M198.4 117.2h0.8M195.8 111.7h0.8M195.5 119.6h0.8M198 119.5h0.8M194 119.7h0.8M214.2 125.9h0.8M214.1 125.5h0.8M212.3 119.1h0.8M205.9 125.1h0.8M197.7 124h0.8M197.3 125.9h0.8M196.9 127.8h0.8M223.4 115.9h0.8M220.5 117h0.8M217.4 114.7h0.8M217.4 114.3h0.8M217.7 110.7h0.8M221 103.9h0.8M227 109.7h0.8M226.6 109.4h0.8M220.7 119h0.8M220.6 123.9h0.8M220.6 122.7h0.8M214.3 116h0.8M215.4 106.3h0.8M210.4 108h0.8M210.1 108.1h0.8M231.1 109.4h0.8M229.5 109.8h0.8M248.9 132.6h0.8M244.4 132.1h0.8M247 123.7h0.8M245.5 125.1h0.8M243.4 129.6h0.8M234.8 117.8h0.8M232.4 112.8h0.8M232.3 112.6h0.8M225.9 117.7h0.8M228.5 119.9h0.8M230 121.2h0.8M234.5 118.9h0.8M233.6 119.6h0.8M243.9 120.6h0.8M244.7 120.7h0.8M237 118.5h0.8M240.6 113.8h0.8M238.2 119.6h0.8M242.2 127.6h0.8M239.1 122.1h0.8M221.4 129h0.8M221.8 133.4h0.8M222 134.8h0.8M230 125h0.8M227.4 125.5h0.8M228.2 125.4h0.8M221.4 126.3h0.8M236 128.3h0.8M243.8 141.9h0.8M247.6 142.4h0.8M242.9 133.5h0.8M242.6 133.7h0.8M240.6 139h0.8M240.3 138.3h0.8M239.8 145.2h0.8M242.8 152.4h0.8M240.6 147.2h0.8M241.7 141.8h0.8M235.2 153.4h0.8M235.6 153.8h0.8M234.4 151.7h0.8M234.4 151.8h0.8M238.7 155.8h0.8M235 146.1h0.8M236.6 129.2h0.8M237.2 132.8h0.8M237.7 135.6h0.8M218.8 154.7h0.8M218.7 156h0.8M218.3 154.2h0.8M208 150.3h0.8M214.9 151.3h0.8M147.9 165.9h0.8M148 165.5h0.8M150 163.4h0.8M150.7 172.1h0.8M147.1 169.2h0.8M152.5 163h0.8M157.7 168.3h0.8M157.4 166h0.8M152.7 173.1h0.8M154.6 172.4h0.8M142 161.2h0.8M143.3 161.9h0.8M145.2 169.7h0.8M149.4 159.4h0.8M150.5 162.9h0.8M151.3 176.7h0.8M156.1 158.7h0.8M155.3 161.6h0.8M164.2 155.5h0.8M164.2 156.7h0.8M163 162.6h0.8M163 162.6h0.8M167.6 164.9h0.8M164.4 171.5h0.8M164.9 170.6h0.8M164.4 171.5h0.8M158.7 171.7h0.8M169.8 164.9h0.8M172.3 172.3h0.8M172.3 170.9h0.8M172.3 174.2h0.8M181.1 178.3h0.8M182.2 175.4h0.8M176 173.6h0.8M174.4 174.2h0.8M180.7 132.8h0.8M175 127h0.8M176.1 127.6h0.8M180.6 130h0.8M172.7 128.5h0.8M171.9 129.7h0.8M171.8 132.6h0.8M186.4 139h0.8M185.9 139.4h0.8M181.3 137.4h0.8M181.2 137.1h0.8M180.9 138.5h0.8M178.5 141.1h0.8M171.6 135.4h0.8M169.8 130.1h0.8M166.7 129h0.8M198.3 140.1h0.8M197.6 139.8h0.8M200.8 142.1h0.8M199.5 147.5h0.8M201.4 144.6h0.8M201.2 149.9h0.8M203.3 150.6h0.8M204.2 151h0.8M199 148.3h0.8M224 163.8h0.8M229.8 167.9h0.8M230.3 167.6h0.8M223.9 163.5h0.8M231.8 160.3h0.8M230.4 159.7h0.8M233.2 162.9h0.8M232.9 161.8h0.8M223.7 167.9h0.8M219.3 160.6h0.8M223.5 163.3h0.8M226.9 155.9h0.8M226.6 154.2h0.8M222.8 152.8h0.8M219.2 154.2h0.8M231.2 153.3h0.8M231 153.3h0.8M226.7 154.2h0.8M233 160.2h0.8M234.9 158.2h0.8M240 162.4h0.8M239.9 162.6h0.8M201.4 131.4h0.8M201.5 134.6h0.8M202.3 137.2h0.8M204.7 130.4h0.8M208.8 134.7h0.8M208 133.9h0.8M204.1 138.3h0.8M206.8 138.4h0.8M198.6 131.3h0.8M205 129.2h0.8M205.7 127.9h0.8M201.5 139.7h0.8M227.1 133.9h0.8M227.6 133.7h0.8M234.8 136.1h0.8M233.9 136.3h0.8M230.6 133.9h0.8M212.6 172.9h0.8M212.8 172.8h0.8M217.8 179h0.8M219.4 176.8h0.8M211.4 181.2h0.8M209.2 178.4h0.8M171.4 155.5h0.8M167.8 154.1h0.8M173.3 160h0.8M174.1 161.9h0.8M174 163h0.8M180.7 168.3h0.8M174.3 164h0.8M176.7 165.3h0.8M173.9 163.8h0.8M178.7 148.1h0.8M182.4 147.8h0.8M184.2 147.6h0.8M175.5 152.6h0.8M175.9 152.3h0.8M174.3 162.1h0.8M178.7 159h0.8M176.9 160.3h0.8M179.5 154.1h0.8M178.6 152.8h0.8M182 165.2h0.8M183.7 162.3h0.8M182 165.3h0.8M185.6 158.8h0.8M184.9 157.9h0.8M247.7 183.3h0.8M248.7 184h0.8M251.8 175.3h0.8M246.1 180.9h0.8M247.7 176.5h0.8M247 178.3h0.8M246.4 168.5h0.8M246.2 168.8h0.8M237.7 167.1h0.8M239.1 169.6h0.8M242.5 171.3h0.8M244.8 170.9h0.8M246.4 172.9h0.8M245.3 171.5h0.8M222.6 177.9h0.8M224.3 178.7h0.8M229.6 172.5h0.8M228.2 169.4h0.8M225.7 178.4h0.8M229.8 175.4h0.8M239.8 172.3h0.8M234.2 173.7h0.8M236.5 173.2h0.8M220.7 144.9h0.8M222.4 146.7h0.8M220.5 142.2h0.8M221.7 139.1h0.8M226.6 139.8h0.8M224.7 138.6h0.8M227.3 147h0.8M228.1 146.3h0.8M216.3 144.8h0.8M224.6 151h0.8M222.3 136.3h0.8M230.9 141.1h0.8M232.3 138.7h0.8M234.3 145.8h0.8M187.9 170.5h0.8M188 175.4h0.8M184 175.5h0.8M186.5 157.5h0.8M187.5 154.9h0.8M190.8 161.6h0.8M189.2 160.4h0.8M194.8 152.6h0.8M194.9 152.6h0.8M191.8 152.3h0.8M191.9 162.4h0.8M193.9 161.3h0.8M192.4 162.2h0.8M197.6 153.9h0.8M197.7 154.2h0.8M189.2 166h0.8M191.5 162.8h0.8M188.4 167.1h0.8M198.9 149.6h0.8M197.6 152.2h0.8M194 171.1h0.8M192.5 171.7h0.8M194.9 166.9h0.8M195.5 167.9h0.8M198 170.5h0.8M198.4 170.3h0.8M197.3 170.3h0.8M225.1 180.3h0.8M240.7 180.7h0.8M237.7 180.5h0.8M234 181.6h0.8M244.5 182.1h0.8M239.7 176.9h0.8M239.6 176.2h0.8M234.1 181.4h0.8M232.6 179h0.8M230.5 175.4h0.8M230.8 183.2h0.8M229.1 183.9h0.8M196.7 177.6h0.8M192.1 180h0.8M198.9 177.6h0.8M200.1 178.4h0.8M197.8 171.2h0.8M197.8 171.1h0.8M189.8 178.4h0.8M189.4 177.6h0.8M203.3 179.2h0.8M207 177.5h0.8" stroke="#5a34a2" stroke-width="1.2" stroke-linecap="round" fill="none" stroke-opacity="0.85"/>
<path d="M219.9 130.8h0.01M219.8 132.4h0.01M221.9 134.3h0.01M223.9 135.1h0.01M222.7 134.8h0.01M224.2 136.6h0.01M226.5 137.9h0.01M226.5 139.6h0.01M227.2 140.1h0.01M229.9 142.5h0.01M231.2 144h0.01M233.8 146.2h0.01M238.8 150.8h0.01" stroke="#c468b4" stroke-width="1.0" stroke-linecap="round" fill="none"/><path d="M222.1 134.6h0.01M226.5 139.2h0.01M227.5 139h0.01M228.5 141.4h0.01M229.9 141.3h0.01M231.2 142.5h0.01M231.6 145h0.01M233.2 144.5h0.01M232.5 145.9h0.01M232.2 145.4h0.01M237.5 150.5h0.01M237 149.4h0.01M238.3 151.3h0.01M239.6 151.7h0.01M244.9 154.6h0.01M245.2 155.8h0.01M247.9 155.8h0.01M249.8 158h0.01" stroke="#b050a8" stroke-width="1.0" stroke-linecap="round" fill="none"/><path d="M219 132.2h0.01M219.5 132.5h0.01M221 133.3h0.01M221.1 133.5h0.01M224.7 137h0.01M224.3 135.5h0.01M226.3 137.7h0.01M226 137.9h0.01M229.1 141.6h0.01M234.6 145.8h0.01M235.2 148h0.01M236.5 149.1h0.01M238.3 151.2h0.01M241.8 152.5h0.01M243.6 153.6h0.01M245.3 154.8h0.01M244 154.3h0.01M246.6 155.7h0.01M247.8 157.3h0.01M247.8 156.8h0.01M248.8 157.6h0.01" stroke="#7a48b0" stroke-width="1.0" stroke-linecap="round" fill="none"/><path d="M220 133.5h0.01M230.3 142h0.01M231.4 143h0.01M234.4 145.9h0.01M236.2 147.5h0.01M236.7 148h0.01M239.4 152.4h0.01M241.6 153.9h0.01M241.2 153.1h0.01M242.5 154.8h0.01M243 154.8h0.01M245.4 156.4h0.01M248.3 156.8h0.01M250 158.3h0.01M251.2 158.4h0.01" stroke="#d890c8" stroke-width="1.0" stroke-linecap="round" fill="none"/>
<path d="M238 162.8h0.01M236.7 161h0.01M241.6 155.9h0.01M243.7 154.1h0.01" stroke="#c468b4" stroke-width="1.1" stroke-linecap="round" fill="none"/><path d="M236.7 161.4h0.01M237.3 160.3h0.01M244.4 152.7h0.01M246 153.3h0.01M246.5 151.7h0.01M249 151.1h0.01" stroke="#b050a8" stroke-width="1.1" stroke-linecap="round" fill="none"/><path d="M237.9 159.1h0.01M238.8 159.3h0.01M240.1 156.2h0.01M241.1 156.8h0.01M242.6 155.8h0.01M242.7 152.9h0.01M245.8 152.5h0.01M247.3 152.2h0.01M247.7 152.5h0.01M249.3 151.2h0.01M250.6 150.6h0.01M251.4 151.1h0.01" stroke="#7a48b0" stroke-width="1.1" stroke-linecap="round" fill="none"/><path d="M236.8 163.5h0.01M239.3 158.7h0.01M240 158.9h0.01M240.9 156.9h0.01M243.6 155h0.01M242.3 154.5h0.01M245.2 154h0.01" stroke="#d890c8" stroke-width="1.1" stroke-linecap="round" fill="none"/></g></g>
<rect x="142.5" y="109.3" width="109.00" height="72.20" fill="none" stroke="#444" stroke-width="1.1"/>
<g clip-path="url(#cb4)"><rect x="254.3" y="109.3" width="108.70" height="72.20" fill="#fff"/><g filter="url(#wob)"><path d="M262.5 134.8l6.1 -2.6M368.8 180.1l-6.2 -0.5M360.3 184l2.3 -4.4M254.3 113.7l0.8 7.6M258.1 129.7l-2.7 -8.2M358.9 138.3l-5.4 -3.8M355.7 143.6l-5.9 -4.8M346.3 143.2l3.6 -4.4M342.4 136.7l-1.3 2.6M359.7 110.1l-1.8 7.5M352.8 122.8l-2.5 0.6M365.3 113.9l-2.3 4.5M338.1 140.2l-3.3 -6.9M338.8 147.3l2.4 1M338.1 140.2l-1.1 1.5M328.9 139.2l-0.4 -1M342.5 119.7l-0.8 -5.9M261.1 180.1l-5.9 0.9M354.6 183.3l5.7 0.7M267.1 173.8l-1.8 4.1M272.4 171.9l-1.7 1.6M273.1 157.9l-1.1 1.6M360.8 137.8l-1.9 0.4M350.9 130.2l-4.4 1.6M353.4 131.5l-2.5 -1.3M277 141.7l-7.7 -1.4M275.9 134.9l4.3 -4.7M278.3 139.7l6 -6.1M273.4 108.3l1.1 1.8M286.2 154.7l-3.6 -5.2M331.6 146.3l0.1 4.5M326.7 133l-6 -1.1M320.7 131.9l1.3 6.7M328.4 138.2l0 0M312.9 110.4l2.3 -6.7M312.9 110.4l2 2.3M318.4 112.4l1.2 -5M333.2 113.8l3.1 5.4M328.4 118.3l4 4.4M333.2 113.8l-0.2 0M274.5 148.7l-4.5 -1.5M276.3 148.1l-1.7 0.6M268.6 132.2l1.4 0.3M362.4 131.4l3.6 -4.6M324.7 151.2l3.3 2.3M334.4 162.6l-6.3 1.5M324.2 146.6l0.5 4.6M338.1 157.3l-2.4 1.5M277.5 177.7l4.2 -2.9M283.5 158.7l-4.5 -0.8M273.1 157.9l5.5 0.2M286.2 154.7l-2.6 4M309.7 169.2l0.5 -0.7M303.5 162.9l-2.1 8.8M278.6 183.6l7.9 -1.8M287.1 182.5l-0.6 -0.8M360.3 159.8l1.5 6.7M365.3 158.9l-4.7 -0.2M327.2 167.4l4.2 3.5M331.4 170.9l4.3 -1.6M339.4 178.9l-3.1 5.5M339.4 178.9l-2.7 -2.2M262.3 115l3.3 -2.7M262.3 115l-0.4 5M263.8 127l1.5 -4.9M312 144.5l-2.5 2.8M309.5 147.2l0 1.2M305 134.3l-1 3.2M296.6 136.6l-0.8 -1.8M307.3 126.6l1.8 0.6M310.5 132.9l-5.5 1.5M290.9 124.8l-0.4 0.5M299.9 146.2l0.3 -0.4M327.1 109.3l-3.6 -3.3M319.9 113.6l-0.9 6.9M323 174.6l4.8 1.5M327.8 176.2l1.2 4.5M328.5 181.3l0.5 -0.7M319.9 183.4l3.3 -0.9M323.2 182.6l0.3 -0.4M309.7 169.2l0.7 6.4M310.4 175.6l5 1.9M315.5 168.5l-0.4 -6.6M294.4 171.9l3.9 -1.5M294.4 171.9l-4 -3M298.3 170.4l-2.7 -6.6M295.5 163.7l0 0M293 176l-3.7 0.4M301.4 171.6l-3.1 -1.2M296 182.2l-0.1 -3.5M293 176l2.9 2.7M311.4 184.4l-6.2 -4.9M336.8 166.8l5.4 -1M344.5 172.6l-6.6 -0.2M344.5 172.6l0.3 1.9M354.6 183.3l0 -0.1M355.7 143.6l0 1.7M274.5 110.1l-0.3 2.2M265.6 112.3l4.3 2.7M274.2 112.3l-4.4 2.7M302.4 151.9l5.5 -1.2M310.1 157.3l-0.8 -0.3M308.9 109.8l-2.6 3.1M319 120.6l0.9 8.4M325.8 125.8l-6 3.2M319.1 130.2l0 -0.2M274.2 112.3l5.6 5.6M280.1 120.1l-0.4 -0.4M272.4 127.9l1.8 -0.7M304.7 121.7l-4.9 2.6M305.2 113l-3.3 4.4M299.9 124.3l-4.3 -4.6M350.6 161.5l-0.2 0M356.6 155.1l-3 -2M358.8 155.1l-2.3 0M353.1 147l0.5 6.1" stroke="#a060c0" stroke-width="0.8" stroke-opacity="0.8" fill="none"/>
<path d="M258.1 129.7l-0.5 1.4M349.9 138.8l0.1 -0.7M346 135.3l3.9 2.8M350.6 111l0.5 3.4M357.9 117.6l-3 0M349.4 109.8l1.2 1.3M363 110.6l2.2 3.3M256.8 105.5l1.6 2M341.1 139.3l-3.1 0.9M346.3 143.2l0.1 1.3M336.7 143.9l2.1 3.4M346.4 144.5l-5.2 3.7M343.9 109.8l-2.3 3.9M261.6 178.9l-0.5 1.1M261.1 180.1l0.6 2.8M261.6 178.9l3.7 -1.1M276.9 179.4l1.8 4.1M264.2 168.3l2.7 -1.9M272.1 159.4l0.9 5.6M264.1 170.2l0.1 -1.9M362.9 132.7l-0.5 -1.3M360.8 137.8l3.9 3.4M350.3 123.5l-1.1 2.6M357.5 126.5l0 1.9M277 141.7l-0.8 6.4M285.8 146.4l-3.2 3.1M278.3 140.5l7.1 2.3M278.3 140.5l0 -0.8M293.3 142l-5.9 -1.6M285.8 146.4l5.4 2.5M294.4 145.5l-3.2 3.4M287.4 140.4l-2 2.3M287.6 135.1l-3.3 -1.5M267.4 107.9l-1.9 2.5M294.4 145.5l5.5 0.7M286.2 154.7l4.7 -0.9M290.9 153.8l0.8 -1.7M338.8 147.3l-3.9 4M326.7 133l1.7 5.2M328.4 138.2l-6.5 0.4M329.8 128.2l4.9 5.1M328.1 144.1l-3.9 2.5M320.2 140.5l1.7 -1.9M320.6 144.3l-3.1 1.9M312 144.5l0.1 -5M307.4 105.8l1.4 4M333.2 113.8l1.1 -0.9M329.8 128.2l-0.1 -0.6M267.3 149.7l2.8 -2.4M271.8 155l2.7 -6.2M269.3 140.3l-1.7 1.5M358.3 125.5l6 -2M362.9 118.4l1.8 2.5M364.7 141.2l-1 4.8M320.4 159.9l0.8 -7.1M331.7 150.8l-3.6 2.7M294.8 183.8l-7.7 -1.3M360.7 158.7l-0.3 1.1M334.4 162.6l2.4 4.2M336.7 176.7l-2.1 0.2M336.3 184.4l-3.9 -4.2M331.1 173.1l3.5 3.8M290.2 133.8l0.3 -8.5M255.4 121.5l6.6 -1.6M265.3 122.2l-3.4 -2.2M309.5 147.2l-4.7 -2.6M305.8 139.5l-1.1 5.2M302.3 130.3l2.7 4.1M298.8 129.7l-3 5.2M298.6 129.1l0.2 0.6M298.6 129.1l-7.7 -4.2M290.2 133.8l5.6 1.1M305.8 139.5l-1.8 -1.9M333 113.9l-5.8 -4.6M323.7 113.6l2.9 4.9M319.6 107.5l3.8 -1.4M325.8 125.8l-1 -5M324.8 120.8l-5.8 -0.3M332.4 180.2l-3.4 0.4M317.5 175.3l-2.2 2.2M315.3 177.4l-0.1 1.8M328.5 181.3l-5 0.9M311.7 161l3.4 0.8M318.3 159.8l-3.1 2M293 176l1.4 -4.1M294.8 183.8l1.1 -1.6M344.5 172.6l0.7 -1.8M345.2 170.9l-2.9 -5M356.5 176.4l-2 6.8M350.3 169l-5.1 1.8M358.8 155.1l2.1 -3.6M360.8 148.3l-5 -3M349.1 146.9l4 0.1M313.9 120.6l-1.1 4.5M313.9 120.6l5.1 0M312 118.3l1.9 2.4M342.3 165.8l1.9 -5.2M282.2 107.6l0 0M282.2 107.6l0.2 7.2M269.7 119.4l7.5 1.6M277.2 121l-3.1 6.2M265.3 122.2l2.1 -0.4M291.1 122.8l4.4 -3.1M350.6 161.5l6 -6.4M295.9 118.8l-5.5 -6.2M301.9 117.3l-3.3 -0.5M295.5 119.7l0.4 -0.9M300.9 109.3l-3.4 1.2" stroke="#8a4eb2" stroke-width="0.7" stroke-opacity="0.8" fill="none"/>
<path d="M255.1 132.7l2.5 -1.6M255.4 121.5l-0.3 -0.2M353.5 134.5l-3.6 3.6M346 135.3l-3.6 1.4M350.6 111l8 -1.9M351.1 114.4l3.7 3.1M346.5 119.3l3.8 4.1M346.5 119.3l4.7 -5M352.8 122.8l2.1 -5.3M363 110.6l-3.3 -0.5M358.8 118.2l4.1 0.2M358.3 125.5l-0.8 1.1M256.9 112.1l1.5 -4.6M258.4 107.5l2.1 -0.2M339.6 130.3l-4.8 3M336.7 143.9l0.2 -2.2M334.7 133.3l0 0M334.7 133.3l-6.3 4.9M331.6 146.3l5.1 -2.4M331.6 146.3l-3.5 -2.2M349.4 109.8l-5.5 0.1M259.3 174.3l2.3 4.7M270.7 173.5l1.1 5.6M265.3 177.9l4.2 3M264.1 170.2l2.9 3.6M264.1 170.2l-4.8 4M276.9 179.4l-5 -0.3M268.8 187.7l0.7 -6.8M266.6 160.8l0.4 5.7M273.1 157.9l-1.3 -2.9M270.8 167.1l2.2 -2.1M272.4 171.9l-1.6 -4.8M353.4 131.5l0.1 3M357.4 128.4l5 3M349.2 126.1l1.7 4.2M346 135.3l0.4 -3.4M362.6 179.6l-3.2 -4M276.3 148.1l3.2 1.9M282 129.9l2.3 3.6M287.4 140.4l0.2 -5.3M282.2 107.6l-7.7 2.5M260.5 107.3l4.9 3.1M291.2 148.9l0.5 3.1M329.8 128.2l-3.1 4.8M320.2 140.5l0.4 3.8M324.2 146.6l-3.6 -2.3M312.1 139.5l1.2 -1.6M336.3 119.2l-3.9 3.4M341.7 113.7l-7.4 -0.8M329.7 127.6l2.5 -2.5M270.3 133l-0.3 -0.5M326.2 160l2.2 -4.3M324.7 151.2l-3.4 1.6M320.3 160l0.1 -0.1M328.1 164.1l-1.9 -4.2M334.4 162.6l1.3 -3.9M317.5 146.1l-0.7 5.6M316.8 151.8l4.5 1M279.5 150.1l-0.4 7.8M292.8 159.6l-1.9 -5.8M309.7 169.2l-8 2.8M301.7 172l-0.3 -0.4M308.8 165.3l-5.3 -2.5M287.6 170.8l1.6 5.6M281.7 174.8l5 4.4M286.7 179.3l-0.2 2.5M364.9 165.9l-3 0.6M336.8 166.8l-1.1 2.5M334.6 176.9l-2.3 3.3M335.7 169.3l2.3 3.1M338 172.4l-1.3 4.3M282 129.9l1.1 -2.7M287.6 135.1l2.6 -1.3M265.5 110.4l0.1 1.9M316.8 151.8l-1.3 0.7M320.7 131.9l-1.5 -1.7M313.3 137.9l-0.1 -3.1M302.3 130.3l-3.5 -0.6M313.2 134.8l-2.7 -1.9M304.7 144.6l-4.5 1.2M300.3 145.8l-0.7 -7.5M326.6 118.5l-1.7 2.3M315.5 168.5l-5.4 0M311.4 184.4l3.8 -5.1M308.8 165.3l2.9 -4.3M320.3 160l-2 -0.2M315.5 152.5l-0.8 2.3M303.5 162.9l-0.3 -0.5M303.5 160.2l-0.3 2.2M302 174.3l3.2 3.8M302.9 182.3l2.3 -2.8M301.7 172l0.3 2.3M310.4 175.6l-5.2 2.5M342.1 178.8l2.9 5.1M342.1 178.8l2.7 -4.3M345 183.9l4.7 -2.3M363.7 146l-2.9 2.2M360.9 151.5l-0.1 -3.3M355.8 145.3l-2.6 1.7M308 150.7l1.3 6.3M312 118.3l-1.6 -0.2M301.9 107.2l-1 2.1M342.5 108.2l-6.6 -0.4M319.1 130l0.7 -1.1M341.2 148.3l1.5 4.9M347.7 152.1l-5 1.1M341 157.2l1.7 -4M279.8 117.9l2.6 -3M282.2 107.6l5.4 0.1M290.9 124.8l0.2 -2M279.7 119.7l0.1 -1.8M282.4 114.8l6.1 -0.2M289 120.5l-0.5 -5.9M267.4 121.8l4.9 6.1M279.7 119.7l-2.5 1.2M304.7 121.7l0 -0.2M298.6 129.1l1.3 -4.7M304.8 121.5l-2.9 -4.2M348.7 160.6l1 -6.7M349.8 153.9l3.8 -0.8M354.9 162.9l-4.3 -1.4M295 109.4l2.5 1.1M290.9 110.9l-0.4 1.6M288.5 114.6l1.9 -2.1M287.6 107.7l3.2 3.3" stroke="#c878c4" stroke-width="0.8" stroke-opacity="0.75" fill="none"/>
<path d="M263.8 127l4.8 5.2M263.8 127l-5.8 2.6M262.5 134.8l-5 -3.7M262.5 134.8l0 6.3M358.9 138.3l-3.2 5.3M346.3 143.2l-5.1 -3.9M359.7 110.1l-1.1 -1M358.8 118.2l-1 -0.7M358.8 118.2l-0.6 7.3M352.8 122.8l4.7 3.7M254.3 113.7l2.6 -1.6M336.9 141.7l-8.1 -2.5M267.1 173.8l3.7 -0.3M277.5 177.7l-0.6 1.7M272.1 159.4l-5.5 1.4M267.3 153.7l4.5 1.3M270.8 167.1l-3.9 -0.7M360.8 137.8l2.1 -5.1M353.4 131.5l4 -3.1M285.8 146.4l-0.4 -3.6M282.6 149.5l-3.1 0.6M269.3 140.3l0.9 -7.3M275.9 134.9l-5.6 -1.9M293.3 142l1.1 3.4M280.2 130.2l1.8 -0.3M273.4 108.3l-6 -0.4M299.9 146.2l0.7 4.9M334.9 151.3l-3.2 -0.5M320.2 140.5l-6.9 -2.6M314.8 112.7l3.6 -0.2M332.4 122.7l-0.2 2.4M328.4 118.3l4.6 -4.5M270 147.3l-2.4 -5.5M267.6 141.8l-4.2 0.1M366 126.8l-1.8 -3.3M364.8 120.9l-0.5 2.6M320.4 159.9l5.8 0M335.7 158.8l-7.3 -3.1M334.9 151.3l3.2 5.9M278.6 158.1l0.4 -0.3M286.2 162.2l6.6 -2.6M310.1 168.5l-1.3 -3.2M289.2 176.4l-2.6 2.9M360.3 159.8l-5.4 3.1M331.4 170.9l-0.3 2.3M307.4 105.8l-5.5 1.4M256.9 112.1l5.3 2.8M309.5 148.5l6 4M313.2 134.8l5.9 -4.6M312.1 139.5l-6.2 -0.1M304 137.5l-4.5 0.8M299.5 138.3l-2.9 -1.7M307.3 126.6l-5 3.7M310.5 132.9l-1.4 -5.7M293.3 142l3.3 -5.4M328.4 118.3l-1.8 0.2M327.1 109.3l0.1 0M318.4 112.4l1.5 1.1M323.7 113.6l-3.8 0M329.7 127.6l-3.9 -1.8M331.1 173.1l-3.3 3M315.2 179.3l4.7 4.1M321.7 175.4l1.8 6.8M311.7 161l-1.6 -3.8M314.7 154.8l-4.6 2.5M314.7 154.8l3.6 5M290.3 168.9l0.2 -0.9M290.5 168l5 -4.3M296 182.2l6.9 0.1M295.9 178.7l6.1 -4.4M305.2 179.5l0 -1.4M339.4 178.9l2.6 -0.1M354.6 183.2l-4.9 -1.6M360.7 158.7l-1.8 -3.6M302.4 151.9l2.5 6.5M304.9 158.4l4.3 -1.4M309.5 148.5l-1.5 2.2M303.5 160.2l1.4 -1.8M310.4 118.1l-4.1 -5.2M300.9 109.3l4.2 3.7M306.3 112.8l-1.1 0.1M343.9 109.8l-1.4 -1.6M334.3 112.9l1.6 -5.1M312.7 125.1l6.4 4.9M319.1 120.5l-0.1 0.1M309.1 127.2l3.7 -2.1M338.1 157.3l2.9 -0.1M344.2 160.7l-3.2 -3.5M283.1 127.2l-3 -7.1M280.1 120.1l8.8 0.4M267.4 121.8l2.3 -2.4M270 132.5l2.4 -4.6M307.3 126.6l-2.5 -4.9M348.7 160.6l1.7 0.9M347.7 152.1l2.1 1.8M344.2 160.7l4.5 0M298.5 116.8l-2.6 2M298.5 116.8l-0.9 -6.4M295 109.4l-4.2 1.6" stroke="#b48ad0" stroke-width="0.7" stroke-opacity="0.8" fill="none"/>
<path d="M267.4 131.3h0.8M263.8 127.5h0.8M262.6 127.4h0.8M258.8 129.2h0.8M266.6 132.9h0.8M264.9 133.6h0.8M261.1 134h0.8M257.7 131.5h0.8M257.2 130.9h0.8M366.7 179.9h0.8M364.6 179.8h0.8M361.2 181.5h0.8M361.5 181h0.8M254.4 119.3h0.8M254.2 117h0.8M256.3 131.6h0.8M256 124.6h0.8M257.5 129.2h0.8M256.7 126.7h0.8M262.1 139.7h0.8M262.1 138h0.8M356.3 142h0.8M358.3 138.7h0.8M355.4 136.1h0.8M355.6 136.3h0.8M354.1 142.6h0.8M349.9 139.2h0.8M349.6 139h0.8M349.6 138.1h0.8M351.9 135.7h0.8M349.1 139.3h0.8M349.2 139.2h0.8M341.7 140h0.8M344 141.8h0.8M344.1 141.9h0.8M346.9 136.3h0.8M349.1 137.8h0.8M342.6 136.4h0.8M341.8 137.1h0.8M353.1 110.3h0.8M353.5 110.2h0.8M358 109.2h0.8M350.7 114.4h0.8M352.6 116h0.8M351.5 115h0.8M357.6 116.8h0.8M357.7 116.6h0.8M359.2 110.5h0.8M355.9 117.5h0.8M350.1 111h0.8M348.2 121.6h0.8M347.6 121h0.8M350.1 115.1h0.8M348.2 117.1h0.8M349.4 115.8h0.8M351.8 123h0.8M353.5 120h0.8M354 118.6h0.8M363.2 111.4h0.8M360.2 110.2h0.8M363.1 117.3h0.8M358.9 118.2h0.8M360.2 118.3h0.8M357.5 117.6h0.8M358 124.5h0.8M358.1 122.5h0.8M358.3 119.5h0.8M357.6 125.9h0.8M352.8 123.2h0.8M356.6 126.2h0.8M255.3 112.9h0.8M257.1 110.3h0.8M336.9 131.7h0.8M336.5 132h0.8M339.5 139.7h0.8M336.4 137.6h0.8M336.2 137.2h0.8M335 134.7h0.8M346 144.3h0.8M336.8 144.6h0.8M336.4 143.4h0.8M339.8 147.9h0.8M341.8 147.5h0.8M345.2 145.1h0.8M343.2 146.5h0.8M332.7 140.5h0.8M330.5 139.9h0.8M333.7 140.9h0.8M328.2 138.1h0.8M329.2 137.3h0.8M333.8 133.6h0.8M328.4 139.1h0.8M334.5 144.7h0.8M332.1 145.8h0.8M329.5 145.2h0.8M328 144.2h0.8M348.6 109.8h0.8M345.4 109.8h0.8M341.9 118.2h0.8M342 119.3h0.8M341.4 114.5h0.8M341.8 112.8h0.8M341.3 113.7h0.8M261.2 178.9h0.8M259.6 175.8h0.8M256.4 180.7h0.8M257.2 180.6h0.8M260.7 180.4h0.8M356.4 183.5h0.8M359.1 183.9h0.8M267.9 173.7h0.8M265 177.7h0.8M266.4 174.4h0.8M271.3 178.3h0.8M270.5 174.5h0.8M267.3 179.6h0.8M265.6 178.4h0.8M266 173.1h0.8M262.7 171h0.8M262.8 171h0.8M264.5 178h0.8M276.8 178.5h0.8M273 179.2h0.8M275.5 179.4h0.8M271.6 172.3h0.8M268.9 182.6h0.8M268.5 187h0.8M269.1 181.1h0.8M278.2 183.5h0.8M276.6 179.7h0.8M266.2 161h0.8M266.4 163.9h0.8M264.3 168h0.8M272.2 156.7h0.8M272.7 157.9h0.8M269.9 159.9h0.8M267.7 160.4h0.8M268.1 154h0.8M272.6 164.7h0.8M272.6 165h0.8M271.9 165.7h0.8M269.2 166.9h0.8M267.6 166.6h0.8M263.8 168.4h0.8M270.6 167.6h0.8M271.6 170.6h0.8M360.4 137.9h0.8M361 136.3h0.8M360.8 136.8h0.8M354 130.8h0.8M353.1 134.5h0.8M357.6 128.7h0.8M357.4 128.6h0.8M363 140h0.8M360.7 138.1h0.8M349.8 128.5h0.8M350.1 129.2h0.8M349.9 130.5h0.8M346.4 131.8h0.8M349.5 124.5h0.8M352.4 131.2h0.8M345.6 135.3h0.8M361.3 178.4h0.8M361.9 179.2h0.8M276.2 145.1h0.8M276.6 142.1h0.8M284.1 147.7h0.8M285.3 145.2h0.8M278.8 149.9h0.8M282.1 149.5h0.8M280.1 149.9h0.8M284.7 142.7h0.8M279.5 141h0.8M284.5 142.6h0.8M269.9 140.4h0.8M269.4 140.3h0.8M269.4 136.7h0.8M269.9 133.1h0.8M269.3 137h0.8M275 134.7h0.8M270.1 133h0.8M293.4 143.7h0.8M292.3 141.9h0.8M290.7 141.4h0.8M288 140.7h0.8M286 146.7h0.8M289.4 148.3h0.8M290.8 148.9h0.8M293.9 145.6h0.8M285.3 142.3h0.8M277 133.2h0.8M277.1 133.1h0.8M278.4 131.7h0.8M281 130h0.8M282.8 134.7h0.8M281.5 136h0.8M280.7 136.8h0.8M282.5 131.4h0.8M283.7 133.1h0.8M287.2 135.5h0.8M287.2 136.1h0.8M285.3 134.1h0.8M276.5 109.3h0.8M277.7 108.9h0.8M279.5 108.4h0.8M273.8 109.6h0.8M272.3 108.2h0.8M268.4 108h0.8M262.8 109h0.8M264.1 109.8h0.8M265.4 109.9h0.8M296 145.7h0.8M297.9 146h0.8M299.6 146.7h0.8M299.9 149.1h0.8M290.9 149.5h0.8M283.8 151.7h0.8M285.2 153.8h0.8M287 154.4h0.8M289.4 154h0.8M291.1 152.5h0.8M331.2 147.7h0.8M331.2 147.5h0.8M337.9 147.8h0.8M337.6 148.1h0.8M334.3 151.3h0.8M327.4 136.4h0.8M326.7 134.2h0.8M325.2 132.8h0.8M322.4 132.3h0.8M326.8 138.3h0.8M324.6 138.4h0.8M321.2 136.8h0.8M321.5 138.4h0.8M332.4 131.3h0.8M329.7 128.5h0.8M326.5 132.8h0.8M327.6 131h0.8M324 146.4h0.8M324.2 146.3h0.8M320.6 139.6h0.8M319.8 140.7h0.8M321.6 145.2h0.8M315.1 138.7h0.8M314.2 138.4h0.8M317.6 145.8h0.8M311.6 142.3h0.8M313.9 106.1h0.8M312.9 109.2h0.8M314.3 105h0.8M313.5 111.5h0.8M316.7 112.5h0.8M319.1 108h0.8M308.1 108.6h0.8M334.3 120.6h0.8M335.2 119.8h0.8M331.9 123.7h0.8M336 113.1h0.8M340.9 113.7h0.8M334.3 113h0.8M335.8 119.1h0.8M335.4 118.4h0.8M331.7 114.7h0.8M330.4 116h0.8M330.9 121.5h0.8M328.1 118.4h0.8M329.4 128h0.8M330.9 126.1h0.8M268.3 148.4h0.8M268.5 144.6h0.8M269.4 146.6h0.8M263.2 141.9h0.8M265.5 141.8h0.8M272.7 152.1h0.8M271.9 154h0.8M272.8 148.3h0.8M270.1 147.4h0.8M275.1 148.4h0.8M365.4 126.5h0.8M364.3 121.4h0.8M363.6 129.4h0.8M363.4 129.7h0.8M362.1 124.1h0.8M361.2 124.4h0.8M363.6 119.8h0.8M363.4 145.8h0.8M363.6 144.7h0.8M320.3 159.9h0.8M321.8 160h0.8M320.2 158.5h0.8M320.1 159.4h0.8M320.5 155.3h0.8M325.9 159.7h0.8M327.5 156.6h0.8M323.2 151.7h0.8M321.6 152.5h0.8M327.2 153.2h0.8M326.2 160.9h0.8M330.5 163.5h0.8M332.4 163h0.8M329.6 163.7h0.8M334.8 160.3h0.8M335 158.6h0.8M335.2 158.7h0.8M332.8 157.7h0.8M324 148.2h0.8M316.7 149.2h0.8M316.8 148.8h0.8M318.3 152.2h0.8M330.8 151.1h0.8M336 154.1h0.8M336.5 154.9h0.8M335.7 158.5h0.8M277.6 177.4h0.8M281.7 158.4h0.8M279 157.9h0.8M276.9 158h0.8M273 157.9h0.8M284.3 156.9h0.8M278.8 154.8h0.8M278.8 155h0.8M279 151h0.8M287.8 161.4h0.8M291.4 160h0.8M292.4 159.5h0.8M291.9 158h0.8M307 170h0.8M307.3 169.9h0.8M306.8 170.1h0.8M308.7 166.1h0.8M309.6 168.1h0.8M306.3 164.3h0.8M303.9 163.2h0.8M301.9 168h0.8M302.5 165.2h0.8M302 167.4h0.8M288 173.5h0.8M288.7 175.8h0.8M284.8 177.9h0.8M285.5 178.6h0.8M287 178.5h0.8M293.5 183.7h0.8M291.9 183.4h0.8M289.8 183.1h0.8M285.8 181.8h0.8M283.5 182.4h0.8M282.4 182.6h0.8M286.2 180.9h0.8M286.2 181.9h0.8M359.6 159.9h0.8M358.6 160.5h0.8M360.7 163.2h0.8M361.2 165.5h0.8M361.3 165.7h0.8M361.4 158.8h0.8M363.5 166.1h0.8M334.4 163.3h0.8M334.3 163.2h0.8M327.2 167.7h0.8M328.9 169.1h0.8M336.1 167.6h0.8M331.7 170.6h0.8M337.9 180.9h0.8M336.7 183h0.8M338.5 178.5h0.8M335.1 176.9h0.8M333.9 177.4h0.8M334.1 177.1h0.8M334.8 183.3h0.8M333.3 181.6h0.8M330.9 171.2h0.8M331.7 174.2h0.8M331.8 174.3h0.8M335.6 169.8h0.8M337.4 172.9h0.8M337.5 172.8h0.8M306.7 105.9h0.8M302.1 107.1h0.8M282.5 127.6h0.8M288.2 134.6h0.8M290 126.9h0.8M289.9 130.6h0.8M260.3 114.2h0.8M256.9 112.4h0.8M264.9 112.5h0.8M262.5 114.4h0.8M260.2 120.2h0.8M261.4 120h0.8M258.8 120.6h0.8M261.5 119.7h0.8M261.6 118.6h0.8M264.5 123.6h0.8M264.8 122.7h0.8M264 121.6h0.8M264.9 122.2h0.8M310.8 145.3h0.8M315.9 152.1h0.8M311.3 150h0.8M310.9 149.7h0.8M312.3 150.6h0.8M320.2 131.8h0.8M312.8 134.9h0.8M316.8 131.8h0.8M315.5 132.8h0.8M314.5 133.5h0.8M306.7 145.9h0.8M304.6 144.8h0.8M310.8 139.5h0.8M307.1 139.5h0.8M304.9 142h0.8M305.3 139.9h0.8M301.1 130.1h0.8M304.3 133.9h0.8M297 132.1h0.8M297.7 130.8h0.8M304.5 134.6h0.8M299.9 138.2h0.8M297.4 137.3h0.8M295.5 135.1h0.8M308.5 127.1h0.8M304.1 128.6h0.8M302.4 129.9h0.8M310.1 132.8h0.8M309.1 129h0.8M306.8 133.8h0.8M310 132.9h0.8M298.2 129.2h0.8M291 125.1h0.8M293.9 126.7h0.8M293.8 126.7h0.8M290.5 133.9h0.8M290.4 133.9h0.8M312.1 134.3h0.8M303.9 137.8h0.8M301.2 145.5h0.8M300.4 145.7h0.8M299.5 142.3h0.8M299.4 141.4h0.8M299.8 144.8h0.8M295 138.6h0.8M295.3 138h0.8M331.1 112.7h0.8M330.4 112.1h0.8M325.3 117.1h0.8M325.6 117.5h0.8M320.9 106.8h0.8M322.6 113.6h0.8M320.3 113.6h0.8M323.2 106.2h0.8M325.8 126h0.8M327.6 126.8h0.8M325.9 118.9h0.8M324.9 123.3h0.8M324.5 121.3h0.8M318.9 118.6h0.8M319.3 115.2h0.8M319.3 115.1h0.8M319.7 120.6h0.8M319.8 120.6h0.8M329.6 174.2h0.8M324 175.1h0.8M322.8 174.7h0.8M331.7 180.3h0.8M328.1 178.8h0.8M328.5 180.9h0.8M315.4 177h0.8M314.9 178.1h0.8M316.8 181h0.8M318.8 182.8h0.8M321.4 175.6h0.8M321.7 176.8h0.8M321.8 182.8h0.8M309.3 169.5h0.8M309.8 173.8h0.8M314.1 168.5h0.8M311.5 168.5h0.8M312 176.3h0.8M313.3 176.8h0.8M311.4 183.8h0.8M314.4 179.8h0.8M325.8 181.7h0.8M323.2 182.2h0.8M312.7 161.4h0.8M310.4 159h0.8M310.5 156.8h0.8M310.9 156.6h0.8M316.2 157.6h0.8M315.3 156.3h0.8M315.9 161.1h0.8M314.9 164.9h0.8M314.8 162.6h0.8M314.9 164.8h0.8M310.3 162.5h0.8M311 161.5h0.8M319.1 160h0.8M295.4 171.3h0.8M297.4 170.6h0.8M293.2 171.3h0.8M290 168.9h0.8M297.6 169.8h0.8M295.5 164.7h0.8M290.7 167.5h0.8M292.2 166.2h0.8M292.3 176h0.8M292.7 175.8h0.8M293.3 173.8h0.8M299.3 171h0.8M303 160.7h0.8M295.5 181.7h0.8M295.5 180.6h0.8M297.8 182.2h0.8M302.4 182.3h0.8M296.7 177.8h0.8M301.5 174.4h0.8M296.9 177.6h0.8M304.2 177.4h0.8M304.2 180.2h0.8M304.8 179.4h0.8M292.7 176.1h0.8M295.2 178.5h0.8M294.7 183.5h0.8M306 177.5h0.8M309.8 175.7h0.8M309.3 183h0.8M307.7 181.8h0.8M306.5 180.9h0.8M339.7 166.2h0.8M341.1 166h0.8M338.4 172.4h0.8M341.6 172.5h0.8M344.5 170.4h0.8M343.5 168.6h0.8M340.3 178.8h0.8M342.6 180.4h0.8M344.6 183.9h0.8M344.2 172.8h0.8M343.2 176.4h0.8M342.9 176.8h0.8M354.9 180.8h0.8M356.1 176.5h0.8M349.5 181.7h0.8M353.6 183h0.8M345.7 170.5h0.8M345.8 170.5h0.8M349.2 181.6h0.8M359.8 157.8h0.8M360.2 152h0.8M362.1 147h0.8M360.5 150.9h0.8M357.1 146.3h0.8M357.6 146.6h0.8M349.4 146.9h0.8M352.9 146.9h0.8M273.8 112.2h0.8M267.5 113.7h0.8M272.9 112.8h0.8M273 112.7h0.8M305.2 151.2h0.8M302.6 151.8h0.8M302.9 154.1h0.8M303.2 155h0.8M307.7 151.4h0.8M308.5 155.4h0.8M308.8 157h0.8M306.2 157.8h0.8M307.7 150.5h0.8M304.1 158.8h0.8M308.1 110.2h0.8M311.4 118.2h0.8M307.6 115h0.8M307.9 115.4h0.8M301.2 108h0.8M301.9 110.5h0.8M302.2 110.7h0.8M305.2 112.9h0.8M336.5 107.8h0.8M337.7 107.9h0.8M335.3 108.5h0.8M334.3 111.8h0.8M312.4 124.9h0.8M314.3 120.6h0.8M316 120.6h0.8M319.2 126.3h0.8M319.2 126.6h0.8M319.3 126.9h0.8M317.1 128.8h0.8M312.7 125.4h0.8M315.6 127.6h0.8M313.4 120.6h0.8M311.6 118.3h0.8M323.7 126.8h0.8M321.9 127.7h0.8M324 126.6h0.8M309.4 126.8h0.8M341.1 149.2h0.8M341.3 149.8h0.8M345.4 152.5h0.8M339.2 157.2h0.8M343.5 161.4h0.8M343.2 162.2h0.8M342.4 159.1h0.8M343.2 160h0.8M341.1 156.2h0.8M342.3 153.2h0.8M274.8 113.2h0.8M275.3 113.8h0.8M277.3 115.8h0.8M280.8 116.2h0.8M280.2 117h0.8M281.9 110.5h0.8M281.9 111.3h0.8M281.9 112h0.8M285.6 107.6h0.8M285.3 107.6h0.8M280.8 122.8h0.8M282.3 126.2h0.8M280.4 121.7h0.8M290.5 124.6h0.8M285.9 120.4h0.8M283.6 120.3h0.8M279.7 120.1h0.8M286.6 120.4h0.8M279.4 118.8h0.8M283.4 114.8h0.8M288 114.6h0.8M288.3 117.7h0.8M288.3 117h0.8M268.9 119.8h0.8M268.5 123.6h0.8M269.6 124.9h0.8M269.7 125.1h0.8M270.7 119.7h0.8M271.7 119.9h0.8M275.5 123.6h0.8M276.3 122.1h0.8M274.6 125.4h0.8M273.4 127.3h0.8M271.8 128.2h0.8M278 120.4h0.8M306.4 125.7h0.8M304.7 122.3h0.8M298.8 126.7h0.8M299.1 125.6h0.8M304.2 121.8h0.8M303.6 122.1h0.8M303 115.3h0.8M302.1 116.5h0.8M303.8 120.7h0.8M301.6 117.6h0.8M293.4 120.9h0.8M291.2 122.5h0.8M299.1 124h0.8M297.8 122.6h0.8M349.2 154.7h0.8M348.5 159.4h0.8M353.7 157.8h0.8M353.2 158.2h0.8M351.1 160.5h0.8M350.1 161.5h0.8M352 153.3h0.8M354 153.6h0.8M345.6 160.6h0.8M345.7 160.6h0.8M353.8 162.7h0.8M357.5 155.1h0.8M353 150h0.8M352.9 148.9h0.8M298 117h0.8M297.6 113.2h0.8M298 116h0.8M297.2 110.6h0.8M292.8 115.7h0.8M291.5 114.2h0.8M292.3 115.2h0.8M296.1 110h0.8M293 110h0.8M293 110h0.8M300.2 117.2h0.8M295.2 119.6h0.8M297.7 110.3h0.8M289.4 113.2h0.8M287.8 108.2h0.8" stroke="#5a34a2" stroke-width="1.2" stroke-linecap="round" fill="none" stroke-opacity="0.85"/>
<path d="M252.6 132h0.01M255.1 130.6h0.01M255.1 132.2h0.01M255.5 131.1h0.01M257.3 132.8h0.01M259.9 132.9h0.01M259 134h0.01M260.8 135.2h0.01M262 139h0.01M263.5 138.2h0.01M263.7 139.8h0.01M262.8 140.3h0.01M264.8 141.5h0.01M264.2 144.2h0.01M264.7 144.7h0.01M264.1 144.9h0.01M266.2 145.6h0.01M264.9 148.5h0.01M265.7 149.8h0.01M265.9 152.8h0.01M265 154.5h0.01M264.3 156.8h0.01M266.4 157.1h0.01M265.1 158.5h0.01M264.4 161h0.01M264 163.7h0.01M265.1 165.9h0.01M264.5 166.6h0.01M263.5 170h0.01M263.2 169.7h0.01M263 172h0.01M262.7 171.6h0.01M260.4 172.7h0.01M260.2 174.3h0.01M257.9 180h0.01M257.8 180h0.01M255.9 182.8h0.01M257.2 183.4h0.01" stroke="#a0409c" stroke-width="1.3" stroke-linecap="round" fill="none"/><path d="M252.8 130.4h0.01M254.8 132.4h0.01M255.6 133.1h0.01M256.1 133.1h0.01M259.1 132.1h0.01M259.8 133.4h0.01M261 134.2h0.01M260.1 134h0.01M261.5 134.3h0.01M261.4 138.9h0.01M262.7 140.2h0.01M262.8 141.5h0.01M264.6 142.2h0.01M263.9 145.7h0.01M265.7 146h0.01M265.5 147.7h0.01M265.3 147.4h0.01M264.5 148.9h0.01M265 149.2h0.01M265.9 152.4h0.01M265.5 155.2h0.01M264.8 158.3h0.01M265.8 162.6h0.01M265.5 164.5h0.01M264.3 165h0.01M262.6 165.3h0.01M262.6 165.2h0.01M263.8 165.6h0.01M262.3 165.7h0.01M263.4 168.1h0.01M262.3 168.4h0.01M262.9 170.8h0.01M261.9 169.6h0.01M262.6 171.4h0.01M262.6 173h0.01M260.5 173.1h0.01M261.1 176.9h0.01M258 177.7h0.01M259.6 178.6h0.01M257.7 181.5h0.01M257.6 181.5h0.01M258.1 184h0.01M257 184.6h0.01M255.8 183.8h0.01" stroke="#8a3294" stroke-width="1.3" stroke-linecap="round" fill="none"/><path d="M253.9 131.3h0.01M254.5 130.9h0.01M253.8 132.4h0.01M257.9 133.7h0.01M259.3 134.2h0.01M260.7 133.5h0.01M259.7 134.6h0.01M261.2 135.2h0.01M263 136.8h0.01M262.8 136.7h0.01M260.5 136.8h0.01M262.9 138.3h0.01M264.1 139.1h0.01M263.5 142h0.01M265.2 142.8h0.01M265.6 142.8h0.01M264 143.3h0.01M265.6 146.3h0.01M264 146.2h0.01M264.4 148.3h0.01M264.4 150.8h0.01M266.9 153.3h0.01M264.7 152.6h0.01M266.2 158.2h0.01M265.3 159.4h0.01M265.2 160.6h0.01M263.8 159.9h0.01M264.6 161.9h0.01M264.6 163.8h0.01M264.1 166.5h0.01M262 167.5h0.01M263.4 169h0.01M261.4 171.6h0.01M261 172.7h0.01M260.2 175.3h0.01M260.6 176.4h0.01M260.3 179.3h0.01M259.3 179.3h0.01M257 180.5h0.01M258.4 182.2h0.01M258.5 181.9h0.01M257.7 184.1h0.01" stroke="#b858b0" stroke-width="1.3" stroke-linecap="round" fill="none"/><path d="M257.4 132.9h0.01M256.6 132.4h0.01M259.5 135.4h0.01M262 135.2h0.01M259.6 135.6h0.01M261.1 136.6h0.01M262.1 139.3h0.01M264.3 140.6h0.01M264.9 143.3h0.01M263.8 144.3h0.01M264.9 144.1h0.01M266.1 150.3h0.01M265.8 150.3h0.01M265.9 152h0.01M265.3 150.7h0.01M265.9 151.5h0.01M267.2 151.3h0.01M266.9 150.9h0.01M265.1 154.9h0.01M266.1 154.4h0.01M265.5 155.8h0.01M265.7 156.7h0.01M264.2 156.3h0.01M264.2 156.6h0.01M264.6 157.9h0.01M265.9 158.6h0.01M265.1 158.5h0.01M264.9 159.4h0.01M265.8 161.1h0.01M263.8 162.1h0.01M265.6 162.1h0.01M263.6 164.8h0.01M263.6 164.8h0.01M264.9 164.8h0.01M262.2 167.7h0.01M261.6 168.1h0.01M262.2 170.5h0.01M262.8 170.8h0.01M259.9 173.3h0.01M260.4 174.7h0.01M260.7 174.9h0.01M261.4 176.7h0.01M258.6 176.3h0.01M259.4 178.2h0.01M258.5 177.9h0.01M258.2 178.9h0.01" stroke="#7a3aa0" stroke-width="1.3" stroke-linecap="round" fill="none"/><path d="M252.7 129.9h0.01M253.4 131.1h0.01M253.1 130.5h0.01M255.8 131.4h0.01M255.9 131.3h0.01M256.6 132.6h0.01M258.4 133.4h0.01M258.3 133h0.01M261 136.7h0.01M260.7 137.6h0.01M263 137.4h0.01M264.6 139.9h0.01M263.1 140.5h0.01M263 142.3h0.01M263.9 141.6h0.01M265 143.6h0.01M265.8 148.6h0.01M264.6 150.3h0.01M264.9 149.7h0.01M264.3 154.1h0.01M264.7 153.6h0.01M265.8 152.9h0.01M265.7 155.6h0.01M265.1 160.1h0.01M265.4 161h0.01M263.8 162.6h0.01M264.6 162.6h0.01M265.9 162.6h0.01M261.6 168h0.01M261.4 169.3h0.01M261.8 172.6h0.01M260 172.5h0.01M261.5 174h0.01M261.7 175.3h0.01M260.7 175h0.01M259.8 177.3h0.01M259.5 176.4h0.01M259.2 178.1h0.01M259.7 180.5h0.01M259.8 180.2h0.01M259.8 180h0.01M258.9 180.6h0.01M257.8 182.6h0.01M258.1 183.7h0.01" stroke="#c070b8" stroke-width="1.3" stroke-linecap="round" fill="none"/></g></g>
<rect x="254.3" y="109.3" width="108.70" height="72.20" fill="none" stroke="#444" stroke-width="1.1"/>
<g clip-path="url(#cb5)"><rect x="366.2" y="109.3" width="108.30" height="72.20" fill="#fff"/><g filter="url(#wob)"><path d="M367.2 109.1l-3.1 3.7M463 159l0.4 -0.2M463 159l-6.3 -2.3M456.7 156.7l-1 -4.3M466.7 149.6l-2.5 1.9M466.7 149.6l0.2 -3.8M374.4 115.4l0.1 -1.7M452.7 120.6l-0.1 3.8M455.4 107.1l-8.4 -1.4M368.1 161.6l-1 1.9M473.4 173.3l-0.5 0.2M474.7 182.5l-4.4 -2.7M472.5 143.3l3.9 -8M431.4 159.5l1.7 -6.7M431.4 159.5l-1.9 0.5M407.7 137.8l3.6 6M367.9 181.3l1.3 -4.2M395.1 180.2l5.5 5M392 181.5l3 -1.3M411.2 150.3l-0.5 1M421.4 165.8l1.6 -7.5M418.4 156.5l4.6 1.8M419.8 148.2l1.5 -0.7M424.4 157.9l-1.4 0.4M440.7 158.9l-8.3 1.1M443.5 157.4l-0.9 0M431.4 159.5l1 0.6M367.5 135l1.9 -4.1M369.4 130.9l-2.7 -4.4M371.3 141.1l-0.7 -3.4M377.4 134.3l2.2 6M377.4 142.1l2.3 -1.7M362.8 143.9l7.9 -1.8M387.7 110.7l5.4 -1.4M378.5 110.6l-4 3.2M364.7 156.4l5.7 -4.1M372.6 154.1l-2.2 -1.8M371.3 147.7l-1.4 2M464.2 176.1l-1.1 0M470.3 179.7l-2.4 0.7M459.8 171.6l3.8 -4M451.2 181.7l1.2 -4.3M454.8 171l1.8 -5.9M453.1 160.8l-0.3 0M446.6 167.9l1.3 -0.2M452.4 177.4l-5.3 -1.6M447.1 175.8l-2.6 -6.1M461.5 164.1l-5 1M456.7 156.7l-3.6 4.1M392.2 154.4l4.6 1.9M403.2 164l-6.6 -4.7M392.2 154.4l-6.7 4.6M393.9 124.4l1.6 -6.9M400.8 120.8l-5.3 -3.2M399.7 105.7l7.2 2.4M407.1 108l-0.2 0.1M397.2 112.6l-0.8 -2M406.9 108.1l-3.2 5.9M405.6 117.5l0.8 0.3M413.1 143.2l3.2 -4M420.9 139l-0.1 -0.1M416.3 139.2l4.5 -0.3M445.1 117.2l-3.2 -1.6M436.6 129.9l-4.8 -1.1M436.3 136.7l0.3 -6.8M443.9 123.6l-4.4 2.1M427.6 122.1l1.5 -0.2M429.1 121.9l2.1 1.9M427.8 165.9l5.5 4.2M421.4 165.8l1.5 1.8M409.7 108.6l2.7 4.9M419.4 113.4l-1.2 -1.3M387.4 123.3l-2.1 1.7M385.2 125.1l0 -0.1M377.6 133.9l3.7 -2.3M369.1 123.5l5.9 1.4M442.8 108.7l-4.7 -1.6M438.6 116l-1.2 1.4M431.4 118l-2.6 -5.5M441.9 115.5l-3.3 0.5M429.1 121.9l2.3 -4M407.8 184.2l-3.9 -1.2M421.2 183.5l6.5 -3.4M422.8 172.5l-1.8 0.8" stroke="#a060c0" stroke-width="0.8" stroke-opacity="0.8" fill="none"/>
<path d="M455.9 151.9l-0.2 0.5M367.2 109.1l1.6 -0.2M367.8 118.9l6.5 -3.5M466.7 149.6l5 3.9M477.2 158.8l-1.6 5.6M477.2 158.8l-1.3 -1.9M455.3 113.2l-5.9 -1M447 105.8l2.4 6.4M471.8 113.4l-7.8 -6M382.9 180.8l6.7 -0.9M474.5 171.6l-1.1 1.7M468.3 159.4l2.1 5M463.5 167.6l-2 -3.4M480 180l-5.3 2.5M470.3 179.7l2.5 -6.2M432.1 151.5l0.7 -5.7M466.9 145.8l3.3 -2.5M429.5 160l-5.1 -2.1M411.2 150.3l-1.3 -4.5M368.6 182l-0.7 -0.7M404 176.7l0 6.3M395.1 180.2l1.1 -2.3M400.5 148.5l-3.6 7.7M396.9 156.2l8.3 1M409.4 166.9l-4.5 -3.4M418.1 150.6l0.3 5.9M432.4 160.1l3.4 7.8M439.9 147.3l-1.4 5.6M433.1 152.8l5.5 0.1M366.4 135.1l1.2 -0.2M369.1 123.5l-2.4 3M371.3 141.1l6.1 1M378.5 110.6l7.5 2.7M386 113.3l1.8 -2.6M399.7 105.7l-3.4 4.9M421.3 147.5l-0.4 -8.5M436.5 144.7l1.7 -6.7M436.3 136.7l1.9 1.4M446.8 125.8l-2.9 -2.2M443.9 123.6l1.5 -6M463.1 176.1l-3.9 3.5M467.7 171.9l-3.5 4.2M455 171.4l4.8 0.2M455 171.4l-1.4 5.2M445.2 156.6l7.5 4.3M455 171.4l-0.2 -0.4M397.7 169l2.3 0M400 169l3.3 -5M394.6 173l3.1 -4M404.8 163.5l-1.6 0.5M396.8 156.3l-0.1 3M386.1 162l-0.7 -3M406.3 125.6l-5.7 0.2M397.2 112.6l6.5 1.4M403.7 114l1.9 3.6M408.2 122.1l-1.9 -4.2M429.7 137.2l-1.5 -5.5M420.8 138.9l-0.1 -4.6M441.9 115.5l0.9 -6.8M439.1 127.9l0.4 -2.1M385.4 149.8l-2.1 -2.2M377.7 152.7l3.9 3.8M372.6 154.1l5.1 -1.3M385.4 159l-2.7 -2.4M422.9 167.6l4.9 -1.7M422.9 167.6l-0.2 4.9M418.3 107.8l-0.1 4.3M414.7 105.1l-5.1 3.5M411.7 115.1l0.6 -1.6M385.3 124.9l-4.5 -5.8M382.3 127.1l-1 4.5M376.5 118.8l-1.2 5.9M427.6 122.1l-3.3 -1.9M424.1 114.2l0.2 6M419.4 113.4l-2.5 7.9M437.4 117.5l-6 0.5M428.8 112.4l5.4 -2.8M438.1 107.1l-3.8 2.6M427 112l1.7 0.4M404 176.7l7.8 0.9M411.3 182.1l0.5 -4.5M411.3 182.1l2.7 2.1M421.2 183.5l-1.2 -0.8M420.1 182.7l-6.2 1.5M421 173.4l-2.7 4.9M418.3 178.3l-6.4 -0.8M412.2 174.2l-0.3 3.3M411.8 177.6l0.1 -0.1M408.6 170l3.6 4.2" stroke="#8a4eb2" stroke-width="0.7" stroke-opacity="0.8" fill="none"/>
<path d="M361.2 142.8l5.1 -7.7M474.4 109.8l-1.5 3M376.8 182l-8.2 0M458.2 150.2l-2.3 1.6M464.2 151.4l-6 -1.2M367.8 118.9l-0.3 -0.1M368.8 108.9l5.7 4.9M476.8 146.7l-5 6.8M463.4 158.8l4.9 0.6M472.2 155.4l-3.9 4M462.1 120.7l0.3 0.5M462.4 121.2l-3.7 6.4M454.8 118.6l-2 2M463.3 115.5l-1.2 5.2M456.5 108.5l7.2 -1.8M462.6 114.5l1.4 -7.1M455.3 113.2l-0.5 5.4M463.3 115.5l-0.7 -1M368.1 161.6l-3.4 -5.3M362.8 143.9l2.1 4.2M467.7 171.9l-1.5 -3.6M474.5 171.6l-0.7 -6.1M473.8 165.5l-3.4 -1.1M463 159l-1.5 5.1M463.5 167.6l2.7 0.7M426.2 151.5l-2.5 -3.5M423.7 148l5.6 -4.6M470.2 143.4l-3.1 -6.6M476.3 135.3l-5.4 -2.2M433.1 152.8l-1 -1.3M409.9 145.8l-5.6 0.1M409.9 145.8l1.4 -2.1M418.1 150.6l1.7 -2.5M365.8 181.4l2.1 -0.1M410.7 151.4l-4.8 1.6M421.3 147.5l2.4 0.6M440.7 158.9l-2.4 8.5M447.2 153.2l-2 3.3M436.5 144.7l-3.7 1.1M367.8 118.9l1.3 4.6M370.6 142.1l0.6 -1M393.1 109.4l3.3 1.2M429.3 143.4l-0.8 -4.6M429.7 137.2l-1.2 1.7M452.7 120.6l-7.4 -2.9M452.7 124.4l-5.9 1.4M449.4 112.2l-4.3 5M445.4 117.7l-0.3 -0.5M372.9 160.1l2.3 1.2M370.6 142.1l0.6 5.6M377.4 142.1l-0.4 5.1M377 147.2l-5.7 0.5M467.9 180.4l-3.7 -4.3M447.9 167.8l4.9 -6.9M447.9 167.8l6.9 3.3M396.9 156.2l-0.1 0.1M397.7 169l-4.2 -5.1M393.5 163.9l3.2 -4.6M403.5 172.9l-3.5 -3.9M403.5 172.9l5.1 -2.8M400.6 125.8l0.2 -5M395.5 117.4l0 0.1M395.5 117.4l1.7 -4.8M400.8 120.8l4.8 -3.2M428.1 131.6l-2.6 -1.4M425.5 130.3l-4.8 4M439.5 125.7l-2.1 -2.6M437.4 123.1l-6.1 0.8M427.6 122.1l-2.9 6.5M424.6 128.5l0.9 1.7M422.8 172.5l2.6 1.6M429.5 160l-1.7 5.9M418.3 107.8l-3.5 -2.7M427 112l-2.3 -7.2M427 112l-2.9 2.2M407.1 108l2.6 0.6M411.7 115.1l-5.4 2.7M387.4 123.3l1.3 -5.8M393.9 124.4l-6.5 -1.2M386 113.3l0 0.3M376.5 118.8l4.3 0.4M382.3 127.1l-7 -2.5M377.4 134.3l0.1 -0.4M418.7 122.3l-1.9 -1.1M416.1 121.2l0.8 0M424.3 120.2l-5.6 2.1M420.7 134.3l-4.2 -3.6M429.2 180.7l-1.5 -0.6M427.7 180.1l-2.3 -5.9M444.9 183l-5.7 2.5M415.7 171.6l-3.6 2.6" stroke="#c878c4" stroke-width="0.8" stroke-opacity="0.75" fill="none"/>
<path d="M471.8 113.4l1.1 -0.6M464.2 151.4l-0.8 7.4M466.9 145.8l-4.2 -2M472.2 155.4l3.7 1.4M462.1 120.7l-7.3 -2.1M452.7 124.4l1.8 2.8M455.4 113.1l1.1 -4.6M455.4 113.1l7.2 1.4M463.7 106.6l0.3 0.8M455.3 113.2l0.1 -0.1M467.7 171.9l5.1 1.6M480 180l-6.6 -6.7M432.1 151.5l-5.9 0M432.8 145.8l-3.4 -2.4M476.8 146.7l-4.3 -3.4M472.5 143.3l-2.3 0.1M463 136.6l4.2 0.1M467.1 136.8l3.8 -3.7M426.2 151.5l-1.8 6.3M419.8 148.2l-6.7 -5M403.4 176l0.6 0.7M400.6 185.2l3.4 -2.2M394.6 173l1.5 4.9M405.2 157.1l0.7 -4.2M412.4 158.1l-1.8 -6.7M404.8 163.5l1.6 -4.6M438.6 152.9l4 4.5M445.2 156.6l-1.8 0.8M436.5 144.7l3.5 2.6M455.7 152.4l-8.5 0.9M370.6 137.6l6.9 -3.3M367.5 135l3 2.7M428.5 138.8l-7.7 0.1M429.7 137.2l6.6 -0.5M368.1 161.6l4.7 -1.5M372.9 160.1l-0.3 -6.1M364.9 148.1l5 1.6M370.4 152.3l-0.5 -2.6M459.8 171.6l3.3 4.5M453.6 176.5l5.6 3.1M453.6 176.5l-1.2 0.8M446.6 167.9l-3.1 -10.5M446.6 167.9l-2.1 1.8M456.6 165.1l-3.4 -4.3M403.4 176l0.1 -3.1M408.6 170l0.8 -3.2M416.3 139.2l-3.2 -4.1M447 105.8l-4.1 2.9M431.8 128.8l-0.6 -4.9M428.1 131.6l3.7 -2.8M378.3 148.7l-0.6 4M378.3 148.7l5 -1M377 147.2l1.3 1.5M425.4 174.2l8 -4M424.7 104.8l-6.4 3M424.1 114.2l-4.7 -0.8M380.8 119.2l5.2 -5.6M386 113.6l2.7 3.8M395.5 117.4l-6.8 0M374.4 115.4l2.1 3.3M377.6 133.9l-4 -4.4M373.6 129.5l1.4 -4.7M375 124.9l0.3 -0.2M385.2 125.1l-2.9 2.1M369.4 130.9l4.2 -1.4M413.2 123l2.9 -1.8M419.8 126.5l-1.1 -4.2M419.8 126.5l-3.3 4.2M411.7 115.1l4.4 6.1M424.6 128.5l-4.9 -2.1M438.6 116l-4.2 -6.4M434.2 109.7l0.1 0M437.4 123.1l0 -5.6M446.3 183.5l-1.4 -0.6M451.2 181.7l-5 1.8M421 173.4l-5.2 -1.8M420.1 182.7l-1.8 -4.4" stroke="#b48ad0" stroke-width="0.7" stroke-opacity="0.8" fill="none"/>
<path d="M366 110.1h0.8M364.4 137.5h0.8M365.9 135.3h0.8M361.9 141.3h0.8M473.7 110.5h0.8M369.1 182h0.8M372.4 182h0.8M375.6 182h0.8M456.4 151.3h0.8M463.8 151.5h0.8M463.8 151.6h0.8M463.8 151.4h0.8M463 151.3h0.8M457.6 157.2h0.8M459.2 157.8h0.8M455.4 152h0.8M455.8 154.5h0.8M466.1 149.7h0.8M466.4 148.7h0.8M464.3 144.7h0.8M464.3 144.7h0.8M368 108.9h0.8M373.1 115.9h0.8M372 116.5h0.8M373.7 115.6h0.8M368.8 109.2h0.8M373.1 113h0.8M475.9 147.3h0.8M474.9 148.7h0.8M473.3 150.9h0.8M475.5 156.9h0.8M472.2 155.6h0.8M471.3 153.4h0.8M468.2 151.1h0.8M465.2 159.1h0.8M467.1 159.3h0.8M468.8 158.5h0.8M476.2 160.9h0.8M475.9 162.1h0.8M456.8 119.3h0.8M458.7 119.9h0.8M460.8 123.2h0.8M459 126.4h0.8M452.3 124.4h0.8M453.4 126.2h0.8M462.1 119.1h0.8M461.9 119.9h0.8M456.1 108.5h0.8M455.4 111.5h0.8M461.5 114.4h0.8M456.3 113.3h0.8M460.8 114.2h0.8M457 108.2h0.8M461.3 107.1h0.8M462.4 113.5h0.8M462.3 114h0.8M463 110.2h0.8M454.7 113.2h0.8M454.4 113.1h0.8M454.7 107h0.8M454.7 107h0.8M453 106.7h0.8M446.8 106.3h0.8M448 109.6h0.8M454.4 118.2h0.8M454.7 114.7h0.8M471.3 113.3h0.8M466.6 109.7h0.8M468.7 111.3h0.8M388.3 180h0.8M385.9 180.3h0.8M365.9 158.8h0.8M366.3 159.5h0.8M364.3 147.7h0.8M468.1 172.2h0.8M465.9 168.4h0.8M473 173.3h0.8M473.7 168.7h0.8M473.8 169.1h0.8M473.3 165.5h0.8M461.4 163.3h0.8M468.9 161.8h0.8M462.8 167h0.8M465.6 168.2h0.8M476.7 177.1h0.8M477.2 177.5h0.8M477.6 177.9h0.8M476.1 181.6h0.8M471.5 180.7h0.8M473.9 182.2h0.8M471.3 176.2h0.8M471.6 175.5h0.8M432 149.1h0.8M432 148.5h0.8M427.4 151.5h0.8M425.3 150.9h0.8M427 145h0.8M427.1 144.9h0.8M429.4 143.8h0.8M429.8 144h0.8M475.3 145.9h0.8M475.2 136.7h0.8M474.7 137.7h0.8M472.5 142.3h0.8M467.1 145.5h0.8M470.7 143.4h0.8M463.6 136.7h0.8M470.1 133.5h0.8M469.1 141.9h0.8M468.4 140.4h0.8M473.7 134.3h0.8M474 134.5h0.8M431.1 159h0.8M431.8 156.3h0.8M429.7 159.8h0.8M424.5 156.1h0.8M424.6 155.7h0.8M424 157.9h0.8M428 159.5h0.8M404.5 145.9h0.8M406.3 145.9h0.8M409.6 145.7h0.8M410.8 143.6h0.8M410.1 142.3h0.8M410.3 148.5h0.8M418.4 149.7h0.8M418.9 147.8h0.8M413 143.5h0.8M365.5 181.4h0.8M368 179.6h0.8M403.4 176.5h0.8M403.6 180.8h0.8M403.6 180.8h0.8M396.3 181.7h0.8M398.3 183.5h0.8M401.4 184.4h0.8M401.1 184.6h0.8M394.7 174.7h0.8M395.4 176.8h0.8M392 181.3h0.8M405.4 153.2h0.8M405.2 154.3h0.8M411.7 156.9h0.8M411.4 155.6h0.8M407.1 152.4h0.8M409.5 151.6h0.8M397 155h0.8M398.6 151.6h0.8M399.4 156.5h0.8M397.7 156.3h0.8M421.8 161.9h0.8M422 161.1h0.8M420.7 157.6h0.8M420.3 157.4h0.8M406.1 164.7h0.8M407.6 165.8h0.8M405.9 159h0.8M417.9 154.5h0.8M422 147.8h0.8M437.5 159.3h0.8M440.1 159h0.8M439.2 159.1h0.8M438.6 165h0.8M439 163.7h0.8M433.4 163.3h0.8M435.4 167.8h0.8M432.5 161.2h0.8M438.6 151h0.8M439.3 148.1h0.8M439.5 154.4h0.8M438.5 153.3h0.8M446.5 153.8h0.8M442.5 157.4h0.8M434.1 152.8h0.8M436.9 145.3h0.8M432.6 145.7h0.8M449.3 153h0.8M454 152.5h0.8M455.2 152.4h0.8M366.2 135.1h0.8M368 133h0.8M368.8 130.5h0.8M368.4 130h0.8M367.7 120.1h0.8M367.7 124.7h0.8M370.3 138.1h0.8M370.6 139.6h0.8M371.3 141.2h0.8M372.7 141.4h0.8M374.8 135.4h0.8M374.7 135.4h0.8M375.4 135.1h0.8M378.6 138.5h0.8M378.6 138.6h0.8M379.2 140.4h0.8M362.6 143.8h0.8M362.7 143.8h0.8M367.4 135.2h0.8M392.1 109.5h0.8M388.7 110.4h0.8M380.9 111.6h0.8M384.7 113h0.8M381.8 111.9h0.8M387 111.2h0.8M377.5 111h0.8M376.8 111.6h0.8M392.8 109.4h0.8M398.1 107.5h0.8M396.9 109.2h0.8M420.5 139.9h0.8M420.7 144h0.8M420.5 139.5h0.8M428.6 141.4h0.8M424.7 138.9h0.8M422.5 138.9h0.8M426.6 138.9h0.8M437.1 140.6h0.8M436.6 142.6h0.8M434.4 136.8h0.8M429.5 137.1h0.8M434.9 136.7h0.8M436.5 137.1h0.8M450.1 119.7h0.8M452.3 120.6h0.8M451.7 120.4h0.8M447.4 125.6h0.8M452.2 124.4h0.8M444 124h0.8M444.1 121.3h0.8M443.6 123.2h0.8M446.1 115.6h0.8M446.7 114.8h0.8M372.1 160.2h0.8M373.8 160.8h0.8M364.7 156.1h0.8M367 154.4h0.8M372.2 154.9h0.8M372.3 155.5h0.8M371.4 153.4h0.8M367.2 149h0.8M366.8 148.8h0.8M369.6 150.1h0.8M370.7 146.3h0.8M370.4 143.5h0.8M376.9 143.5h0.8M375 147.4h0.8M374.6 147.4h0.8M370.1 148.8h0.8M467.3 180.1h0.8M459.6 178.9h0.8M462.1 176.7h0.8M466.3 173.2h0.8M461.2 169.6h0.8M462.9 167.9h0.8M462.1 175.2h0.8M457.6 171.5h0.8M455.5 171.4h0.8M454.1 173h0.8M453.6 175h0.8M454.9 177.5h0.8M457.1 178.7h0.8M451 180.9h0.8M443.5 158.9h0.8M445.2 164.6h0.8M445.6 165.9h0.8M443.8 160h0.8M445.6 168.4h0.8M450.6 163.4h0.8M450.6 163.3h0.8M450 164.2h0.8M451.8 169.8h0.8M452.5 170.2h0.8M455.4 167.5h0.8M454.4 170.8h0.8M453.2 161.4h0.8M453.9 162.3h0.8M446.5 167.9h0.8M446.1 157.3h0.8M450.2 159.6h0.8M450 159.5h0.8M451.3 177.1h0.8M450.7 177h0.8M446.1 174.4h0.8M444.3 170.2h0.8M456.8 165h0.8M460.1 164.3h0.8M456.3 156.8h0.8M392.6 154.7h0.8M393.6 155.2h0.8M398.7 169h0.8M393.6 164.6h0.8M396.6 168.2h0.8M400.1 168.2h0.8M401.3 166.3h0.8M397.6 160.3h0.8M400.2 162.1h0.8M394.2 162.3h0.8M395.4 160.6h0.8M397.2 169.1h0.8M395.9 170.8h0.8M403 175.6h0.8M401.8 171.4h0.8M401.7 171.3h0.8M405.7 171.4h0.8M408.3 169.5h0.8M396.3 157.1h0.8M387.4 157.4h0.8M389.8 155.8h0.8M389.4 156h0.8M385.5 161.4h0.8M394.9 118.4h0.8M394.3 120.8h0.8M394.4 120.3h0.8M400.2 125.2h0.8M399.1 120h0.8M395.2 117.6h0.8M405.1 125.6h0.8M405.5 107.7h0.8M406.3 108h0.8M403.2 107h0.8M398.9 113h0.8M397.1 112.6h0.8M405.4 110.1h0.8M404.6 111.6h0.8M396.3 113.9h0.8M396.1 114.6h0.8M404.6 117.9h0.8M401.4 120.1h0.8M403.5 114.4h0.8M406.2 118.4h0.8M406.7 119.7h0.8M414 141.5h0.8M414.4 137.4h0.8M414.5 137.5h0.8M416.6 139.2h0.8M417.9 139.1h0.8M427.9 132.3h0.8M428.2 133.1h0.8M425.7 130.6h0.8M424.5 130.8h0.8M422 132.9h0.8M420.4 138.7h0.8M443.5 107.9h0.8M442.4 116h0.8M442 111.8h0.8M441.9 112.6h0.8M438.9 126.6h0.8M437.8 124.2h0.8M433.1 123.6h0.8M436.5 123.2h0.8M435.2 129.7h0.8M435.2 129.7h0.8M430.9 124.6h0.8M436.1 132.4h0.8M435.9 136.4h0.8M441.1 124.7h0.8M441.1 124.7h0.8M428.3 131.2h0.8M426.4 123.9h0.8M426.9 122.7h0.8M428.1 122h0.8M428.8 122h0.8M377.7 149.7h0.8M382.5 147.7h0.8M384 148.8h0.8M380 155.4h0.8M378.3 153.7h0.8M374.6 153.4h0.8M376.9 147.5h0.8M384.5 158.5h0.8M425 166.8h0.8M425.7 166.5h0.8M422.4 172.5h0.8M423.3 173.1h0.8M432.6 170.3h0.8M428.3 172.5h0.8M426.6 173.4h0.8M432 169.4h0.8M432.7 170h0.8M429.6 167.6h0.8M427.5 165.7h0.8M427.9 164.1h0.8M421.7 166.6h0.8M417.8 108.6h0.8M414.4 105.1h0.8M410.5 107.8h0.8M413 106h0.8M410.8 111.4h0.8M409.3 108.7h0.8M424.7 106.2h0.8M425.2 107.6h0.8M425.9 109.8h0.8M426.4 112.2h0.8M419.8 106.9h0.8M418.1 107.7h0.8M418.3 107.6h0.8M421.9 113.9h0.8M422.3 113.9h0.8M406.8 108h0.8M409.1 116.3h0.8M407.8 117h0.8M387.6 120.6h0.8M387.8 119.5h0.8M384.1 123.9h0.8M380.8 119.7h0.8M385.5 113.7h0.8M380.9 118.6h0.8M387.2 115.9h0.8M389.3 117.4h0.8M390.8 117.4h0.8M392 124.2h0.8M390.4 123.9h0.8M375.5 117.8h0.8M375.7 118.1h0.8M380.2 119.1h0.8M379.6 126.3h0.8M377.9 125.7h0.8M381.8 127.6h0.8M381.5 128.8h0.8M376.3 133h0.8M379.6 132.4h0.8M374.4 125.6h0.8M374.2 126.3h0.8M382.9 126.4h0.8M382.6 126.6h0.8M375.5 121.7h0.8M375.8 120.1h0.8M369.9 130.6h0.8M372.6 124.4h0.8M371.5 124.1h0.8M414.4 122h0.8M418.7 123.6h0.8M419.2 125.7h0.8M419.1 126.8h0.8M416.1 130.6h0.8M411.5 115.3h0.8M414.8 119.9h0.8M411.5 115.3h0.8M426.5 121.7h0.8M420.9 127.1h0.8M420 121.7h0.8M423.4 120.3h0.8M416.4 131h0.8M417.1 131.5h0.8M423.8 118.3h0.8M423.8 119.2h0.8M417.8 117.2h0.8M418.4 115.1h0.8M417.3 118.6h0.8M441.6 108.4h0.8M441.1 108.3h0.8M434.7 110.8h0.8M436 112.8h0.8M438.2 116h0.8M436.5 117.5h0.8M433.9 117.7h0.8M430.4 116.7h0.8M429.4 114.6h0.8M430.9 111.1h0.8M438.2 116h0.8M436.9 107.6h0.8M436.4 108h0.8M437 122.4h0.8M437 122.1h0.8M430.2 119.3h0.8M426.7 112.1h0.8M427.8 180.3h0.8M425.9 176.6h0.8M425.5 175.6h0.8M405.8 183.7h0.8M408.5 177.3h0.8M405.4 176.9h0.8M408.9 177.3h0.8M411.2 179.1h0.8M411.2 178.5h0.8M411.9 182.9h0.8M441 184.5h0.8M441.4 184.4h0.8M449 182.4h0.8M448.6 182.5h0.8M427 180.2h0.8M426 180.8h0.8M420.1 182.9h0.8M416.1 183.5h0.8M419.3 182.8h0.8M420.3 173.9h0.8M420.4 173.6h0.8M419.8 173.1h0.8M420.5 173.3h0.8M416.1 178.1h0.8M415.9 178h0.8M413.9 172.6h0.8M413 173.3h0.8M411.5 176.6h0.8M419.3 181.7h0.8M419.3 181.9h0.8M409.3 171.3h0.8M408.8 170.8h0.8" stroke="#5a34a2" stroke-width="1.2" stroke-linecap="round" fill="none" stroke-opacity="0.85"/>
<path d="M438.2 130.2h0.01M437.8 129.6h0.01M439.4 130.1h0.01M439 128.8h0.01M438.9 127.9h0.01M441.5 128.6h0.01M443 126.8h0.01M443.5 128.2h0.01M446.5 125.6h0.01M446.8 124.1h0.01M448.6 126.4h0.01M448.5 124.6h0.01M449.7 125.6h0.01M452.2 126.5h0.01M453.7 125.2h0.01M453.5 123.2h0.01M453.7 125.6h0.01M456.4 125.8h0.01M455.4 124.6h0.01M455.2 125h0.01M458.5 124.2h0.01M458.5 125.1h0.01M460.3 125.7h0.01M461.2 127.4h0.01M461 128.7h0.01M462 129.7h0.01M461.8 129.6h0.01M461 130.6h0.01M465 130.1h0.01M465 130.1h0.01M465.2 131.3h0.01M465.2 133.2h0.01M461.8 132.7h0.01M466.1 135.5h0.01M463.9 136.1h0.01M465.1 138h0.01M462.8 136.1h0.01M462.6 136.5h0.01M463.4 138.4h0.01M462.4 139.7h0.01M462.8 140.9h0.01M462.3 142.5h0.01M463.1 142.6h0.01M464.4 145.3h0.01M459.7 145.7h0.01M460.3 144.4h0.01M462.5 147.2h0.01M456.9 150.4h0.01M457.9 151.9h0.01M457.6 152.3h0.01M455.7 153.1h0.01M455.4 151.5h0.01M454.2 150.6h0.01M453.8 150.8h0.01M453 151.2h0.01M453.3 152.7h0.01M451.5 152.4h0.01M450.5 154.1h0.01M449.5 150.9h0.01M448.6 153.6h0.01M447.5 151h0.01M443.7 149.5h0.01M440.9 147.7h0.01M443.2 147.4h0.01M437.9 143.4h0.01M438.6 143.6h0.01M440.9 141.1h0.01M439.7 142.3h0.01M437.6 141.1h0.01M440.3 142.2h0.01M436.1 138.7h0.01M436.6 135.2h0.01M439.9 135.2h0.01M437.4 135.7h0.01M437.3 136.7h0.01M436.2 132.9h0.01M438.6 134.6h0.01M436.1 133.9h0.01" stroke="#a0409c" stroke-width="1.4" stroke-linecap="round" fill="none"/><path d="M438.5 130.5h0.01M439.9 129.9h0.01M437.7 126.9h0.01M440.5 129.7h0.01M440.5 129.2h0.01M440.8 128.6h0.01M441.2 128.3h0.01M441.2 128.7h0.01M441.8 126.6h0.01M441.2 124.5h0.01M441.7 125.7h0.01M443.8 127.3h0.01M443.5 126.6h0.01M444.7 124.3h0.01M445.4 123.4h0.01M445.2 126.3h0.01M444.6 125h0.01M445.5 127.8h0.01M447.6 124.2h0.01M449.4 125.1h0.01M450.7 124.8h0.01M449.7 127.1h0.01M449.7 125.2h0.01M450.8 126.5h0.01M451.4 122.6h0.01M452.2 124.7h0.01M454.3 125.9h0.01M453 124.8h0.01M456 125.9h0.01M458.6 125.9h0.01M457.8 125.2h0.01M457 126.1h0.01M459.6 125.9h0.01M462.2 125.2h0.01M460.6 127.7h0.01M461.4 129h0.01M463.1 127.8h0.01M465.5 130.6h0.01M464.1 132h0.01M462.5 133.7h0.01M465.6 133.7h0.01M464 132.8h0.01M464.1 133.1h0.01M462.2 133.1h0.01M464.4 135.9h0.01M461.9 137.1h0.01M463.5 137.6h0.01M465.8 138.4h0.01M465.9 139.2h0.01M466.2 140h0.01M464.7 140.4h0.01M465.2 141.1h0.01M464.4 142.6h0.01M465.4 142.5h0.01M461.6 142.9h0.01M463.7 145.3h0.01M461.5 145h0.01M462.7 145.9h0.01M460.8 148.2h0.01M462.4 148.3h0.01M460 146h0.01M458.7 149.1h0.01M459.1 152.2h0.01M459.8 151.7h0.01M455.8 151.4h0.01M454.7 153.4h0.01M454.9 152.9h0.01M452.6 151.7h0.01M452.9 151.3h0.01M450.6 151.9h0.01M450.7 155.1h0.01M451.3 151.4h0.01M448.9 153.8h0.01M449.9 152.8h0.01M445.9 150.4h0.01M445.2 150.1h0.01M443.2 150.6h0.01M441.6 149.5h0.01M442.2 151.3h0.01M443.8 147.8h0.01M438.8 147.3h0.01M441.5 145.5h0.01M440.8 144.2h0.01M438.3 144.8h0.01M440.1 142.7h0.01M437.5 141.2h0.01M438.4 138h0.01M439.2 138h0.01M439.4 138.9h0.01M439.6 139.5h0.01M439.2 136.8h0.01M436.6 136.9h0.01M436.7 134.2h0.01" stroke="#8a3294" stroke-width="1.4" stroke-linecap="round" fill="none"/><path d="M436.8 129.3h0.01M437.1 130.2h0.01M440.1 130.1h0.01M439.4 127.7h0.01M440.4 128.3h0.01M441.6 127.2h0.01M441 128h0.01M442.8 126.4h0.01M443.3 125.4h0.01M445.7 123.3h0.01M448.2 126h0.01M448.1 122.9h0.01M449.7 124.7h0.01M452.8 122.7h0.01M452 125.2h0.01M451.9 123.6h0.01M452.3 123.6h0.01M454.8 124.5h0.01M456.6 126.4h0.01M456.5 126.1h0.01M460 124.2h0.01M459.3 128h0.01M465 129h0.01M464.4 129.4h0.01M462.8 132.1h0.01M461.7 131.6h0.01M461.8 134h0.01M464.4 135.9h0.01M465.5 134.2h0.01M466.2 138h0.01M464.2 136.4h0.01M464.8 139.4h0.01M465 139.1h0.01M463.7 139.7h0.01M465.5 139.8h0.01M461.9 140.1h0.01M464.3 143.2h0.01M463.4 144h0.01M461.6 143.9h0.01M462.7 145.9h0.01M459.7 145.6h0.01M461.7 147.7h0.01M462.7 148.8h0.01M459.8 149.7h0.01M460.7 150.8h0.01M458.4 149h0.01M457.2 148.5h0.01M458 149.5h0.01M458.2 152h0.01M456 153.7h0.01M456.1 152.5h0.01M454.7 153.7h0.01M454.9 154.4h0.01M450.7 154.7h0.01M448.5 152.8h0.01M449.8 152.9h0.01M447.1 151.6h0.01M446.6 151.6h0.01M447.2 151.3h0.01M445.1 152.6h0.01M445.5 153.7h0.01M445.3 150.3h0.01M442.2 152h0.01M442.4 151.6h0.01M441.8 149.8h0.01M443.7 148.1h0.01M441.9 150.1h0.01M439.4 148.8h0.01M443 146.7h0.01M439.8 149.1h0.01M438.7 146.2h0.01M442 145.9h0.01M439.7 143.4h0.01M440 142.5h0.01M437.1 143.8h0.01M441.6 142.9h0.01M439.6 140h0.01M440.2 140.7h0.01M437.1 143h0.01M438.6 141.5h0.01M440.1 137.7h0.01M440.5 139.4h0.01M436.2 138.3h0.01M436.3 136.9h0.01M437.7 136.1h0.01M437.1 135.6h0.01M435.6 136.6h0.01M435.4 133.6h0.01M439.8 133.2h0.01M439.8 133.6h0.01" stroke="#b858b0" stroke-width="1.4" stroke-linecap="round" fill="none"/><path d="M438 129.7h0.01M437.3 130.8h0.01M438.2 128.6h0.01M440.4 130.3h0.01M440.4 128.8h0.01M440.3 125.9h0.01M441.6 125.9h0.01M443.6 126.9h0.01M443.4 124h0.01M444.5 124.7h0.01M445.2 123.4h0.01M446.9 126.4h0.01M447.2 125.4h0.01M447.4 126.4h0.01M446.7 127.3h0.01M449 126.2h0.01M448.7 124.7h0.01M447.6 125.9h0.01M451.8 123.8h0.01M453.6 123.5h0.01M455.7 125.1h0.01M457.9 124.2h0.01M457.1 127.3h0.01M458.6 124.9h0.01M457.6 126.5h0.01M458.8 126h0.01M458.7 128.1h0.01M460.5 124.6h0.01M458.5 127h0.01M460.5 124.8h0.01M460.5 124.8h0.01M462.1 126.4h0.01M461.2 128.8h0.01M462.6 127.6h0.01M465.2 131.6h0.01M462.2 131.4h0.01M461.8 134.9h0.01M466.2 133.9h0.01M464.7 136h0.01M465.5 135.3h0.01M462.9 136.1h0.01M465.4 137.7h0.01M464.5 136.5h0.01M466.1 140.8h0.01M461.9 142.7h0.01M463.3 141.9h0.01M463.4 142.9h0.01M464.7 145.2h0.01M462.1 146.6h0.01M461.4 148.2h0.01M460.6 147.6h0.01M460.4 148.5h0.01M459.6 148.1h0.01M457.4 149.4h0.01M458.2 150.1h0.01M459.7 151.3h0.01M457 152.7h0.01M458.4 152.6h0.01M456.1 150h0.01M454.8 152.9h0.01M453.1 151.7h0.01M452.2 151.7h0.01M450.7 152.2h0.01M450.6 150.9h0.01M448.4 153.2h0.01M447.5 154.3h0.01M447.1 153.9h0.01M446.9 152.1h0.01M448 152.2h0.01M445.7 152.3h0.01M444.3 150.2h0.01M444.1 151.5h0.01M443.5 149.3h0.01M439.1 148.6h0.01M441.8 145.1h0.01M440.4 147.3h0.01M437.5 143.8h0.01M438.7 141.6h0.01M437 139.5h0.01M436.4 137.8h0.01M439.9 138.8h0.01M438.8 138.8h0.01M438.8 135.9h0.01M435.4 133.9h0.01M436.8 134.1h0.01M438.2 133.7h0.01" stroke="#7a3aa0" stroke-width="1.4" stroke-linecap="round" fill="none"/><path d="M438.2 129.6h0.01M436.9 127.7h0.01M442.6 128.8h0.01M444.4 126.2h0.01M445.4 126.2h0.01M447 127.1h0.01M450.8 127.2h0.01M450.3 126.3h0.01M452.2 126.3h0.01M451 123.2h0.01M454.9 124.2h0.01M453.3 125h0.01M454.8 127.1h0.01M456.8 124.2h0.01M455.6 127.2h0.01M456 126.5h0.01M461.9 125.3h0.01M461.6 124.9h0.01M461.8 126.7h0.01M462.7 127.1h0.01M463.5 126.3h0.01M463.2 126.4h0.01M463.1 130.2h0.01M463.7 128.6h0.01M462.3 129.5h0.01M461.5 129.9h0.01M461.6 130.8h0.01M461.7 132.4h0.01M462.4 135.4h0.01M465.7 135.3h0.01M464.8 138.7h0.01M461.8 140.4h0.01M463.2 140.6h0.01M462.7 140.5h0.01M463.5 140.6h0.01M463.3 142.3h0.01M464.7 144.7h0.01M461.5 144.6h0.01M462.8 144.9h0.01M463.1 146h0.01M464.2 146.1h0.01M462.7 145.3h0.01M460.4 146.1h0.01M462 147.8h0.01M459.4 148.6h0.01M459.3 149.5h0.01M459.3 149.9h0.01M459 150.7h0.01M458.9 151h0.01M457.5 151.1h0.01M454.7 150.8h0.01M454.2 154.6h0.01M452.1 154.1h0.01M453.6 154.4h0.01M452 153.8h0.01M451.5 152h0.01M449.4 151.5h0.01M449.2 152.5h0.01M448.3 150.3h0.01M444.6 152h0.01M446 149.7h0.01M445.5 151h0.01M445.3 150.7h0.01M443.3 151.8h0.01M444.1 151.7h0.01M442.3 152h0.01M444.7 148.7h0.01M442.5 150.2h0.01M441.1 149.1h0.01M440.5 148.1h0.01M441.1 148.8h0.01M440.8 145.1h0.01M440 146.2h0.01M441.4 144.8h0.01M441 146.5h0.01M442.5 145.9h0.01M437.2 143.5h0.01M438.4 143.5h0.01M437.4 144.1h0.01M438.4 142.4h0.01M438.2 142.6h0.01M440.4 142h0.01M438.5 140.2h0.01M437.1 138.2h0.01M436.2 136.3h0.01M436 137h0.01M439.6 133.8h0.01" stroke="#c070b8" stroke-width="1.4" stroke-linecap="round" fill="none"/>
<path d="M427.7 183.3h0.01M425.8 183.7h0.01M425.7 183h0.01M425.6 182h0.01M426.5 180.9h0.01M427.3 177.4h0.01M429 174.6h0.01M430.1 175.9h0.01M428.1 174.9h0.01M430 176.2h0.01M430.9 172.7h0.01M430.2 174.2h0.01M430.4 172.7h0.01M429.4 174h0.01M430 173.6h0.01M429.5 172.9h0.01M430.4 170.9h0.01M430.2 170.6h0.01M430.4 170.5h0.01M428.3 170.7h0.01M430.6 169h0.01M430.1 168.2h0.01M432.3 168.5h0.01M432.8 165.4h0.01M432.4 165.7h0.01M432.5 164.4h0.01M435.7 163.7h0.01M435.4 164.3h0.01M436 164.7h0.01M437.1 165h0.01M438.8 161.9h0.01M439.3 164.8h0.01M439.5 161.6h0.01M439.6 160.8h0.01M444.2 163.3h0.01M444.9 162.4h0.01M442.9 163.5h0.01M443.7 165.9h0.01M445.7 165.7h0.01M444.6 167.3h0.01M445.8 166.3h0.01M447.3 166.3h0.01M445.2 167.6h0.01M445.9 168.8h0.01M449.2 168.9h0.01M446.3 168.8h0.01M446.7 170.3h0.01M449.9 170.7h0.01M447.7 174h0.01M448.3 174.3h0.01M449.5 177.4h0.01M446.8 176.5h0.01M449.7 176.4h0.01M446.6 176.7h0.01M450.2 180h0.01M449.9 179.7h0.01M446 182.1h0.01M448.7 183.7h0.01" stroke="#a0409c" stroke-width="1.4" stroke-linecap="round" fill="none"/><path d="M428 184.2h0.01M428.2 183.2h0.01M428.7 177.5h0.01M429.5 177.1h0.01M427.6 178.8h0.01M429.7 177.9h0.01M429.9 179.3h0.01M428.6 178.1h0.01M428.4 174.6h0.01M429.8 173h0.01M429 173.3h0.01M428.4 171h0.01M432.4 170.5h0.01M430.5 166.7h0.01M431.2 167.2h0.01M431.2 168h0.01M433 165h0.01M434.4 166.1h0.01M433.8 164h0.01M433.1 164h0.01M434.9 163.2h0.01M436.1 162.3h0.01M437.6 163h0.01M436.5 163.7h0.01M438 164.3h0.01M438 162.8h0.01M439.2 162.8h0.01M437.8 161.3h0.01M438.9 161.7h0.01M441.2 160.8h0.01M443.1 161.2h0.01M442 164.7h0.01M444 164.2h0.01M445 167h0.01M446.3 164.9h0.01M447.8 166.7h0.01M446.8 168.3h0.01M448.8 170.8h0.01M446.2 171.9h0.01M446 170.5h0.01M446.5 172.3h0.01M448.3 172.1h0.01M448.3 174.3h0.01M449.7 173.2h0.01M448.3 174.9h0.01M447.3 175.6h0.01M449.3 176.6h0.01M450 177.5h0.01M450.4 178.3h0.01M447.4 178.2h0.01M448.1 178.4h0.01M447.3 177.5h0.01M448.3 180.8h0.01M450.1 179.9h0.01M448 181.6h0.01M446.9 181.5h0.01M447.7 183.4h0.01" stroke="#8a3294" stroke-width="1.4" stroke-linecap="round" fill="none"/><path d="M428.2 183.7h0.01M429 182.1h0.01M425.9 181.7h0.01M425.7 182h0.01M425.9 179.2h0.01M428.7 180.4h0.01M428.8 179.9h0.01M428.1 181.2h0.01M427 177.9h0.01M428.3 179.1h0.01M428.8 177.8h0.01M429.8 176.4h0.01M428.8 174.8h0.01M427.8 175.1h0.01M429.3 173.9h0.01M429.9 171.2h0.01M429 170.5h0.01M430.8 171.8h0.01M427.7 171.1h0.01M432.3 170.6h0.01M430.7 168.7h0.01M432.3 166h0.01M433.5 168.2h0.01M433.6 168.1h0.01M436.3 166.2h0.01M434.6 163.6h0.01M436.5 164.1h0.01M437.1 163.1h0.01M440.1 162.4h0.01M439.6 163.2h0.01M442.6 162.3h0.01M442.5 164.9h0.01M444.1 163.5h0.01M443.3 165.7h0.01M444.6 164.5h0.01M445.9 165.4h0.01M444.6 168h0.01M446.4 170.3h0.01M446.5 169.4h0.01M445.9 171h0.01M447.5 171.8h0.01M448.1 172.7h0.01M449.5 175.4h0.01M448 175.4h0.01M448.2 176.8h0.01M447.2 178.7h0.01M449.6 179.2h0.01M449.1 179.9h0.01M447.1 179.1h0.01M449 181.2h0.01M448.3 183.5h0.01M445.7 184.1h0.01" stroke="#b858b0" stroke-width="1.4" stroke-linecap="round" fill="none"/><path d="M428.2 183.7h0.01M429.3 181.9h0.01M427.8 183.1h0.01M425.7 180.6h0.01M426.9 177.6h0.01M429.9 175.2h0.01M427.2 175.5h0.01M430.2 176.6h0.01M431.3 172.9h0.01M428.5 173.3h0.01M427.6 173.3h0.01M431.2 166.4h0.01M432.8 168.5h0.01M433 167h0.01M432.7 165.5h0.01M434.1 164.8h0.01M435.1 164.4h0.01M434.9 164.1h0.01M437.9 165.4h0.01M439.5 163.4h0.01M441.8 162.7h0.01M442.2 162.8h0.01M442.9 161.5h0.01M444.1 162.6h0.01M446.3 164.3h0.01M446.2 165.8h0.01M444.4 166.4h0.01M447.9 170h0.01M448 170.5h0.01M446.7 172.4h0.01M448.2 172.1h0.01M449.1 174h0.01M447.4 173.7h0.01M446.7 174.6h0.01M449.5 175.9h0.01M446.8 175.3h0.01M449.3 175.9h0.01M449.3 179.3h0.01M447.8 178.8h0.01M448 181.7h0.01M446.3 181.3h0.01M449.7 183.2h0.01M449.3 183.3h0.01M446 182.2h0.01M448.4 183.7h0.01" stroke="#7a3aa0" stroke-width="1.4" stroke-linecap="round" fill="none"/><path d="M428.3 184.3h0.01M429.3 181.8h0.01M428.2 182.2h0.01M429.6 179.6h0.01M425.8 179.7h0.01M426.7 179.6h0.01M427.8 179.5h0.01M427.2 181.2h0.01M428.2 176.8h0.01M427.7 176.3h0.01M428.9 170.5h0.01M430.7 172.3h0.01M429 168.5h0.01M431.2 169.9h0.01M430.7 168.6h0.01M428.5 169.1h0.01M430.9 166.9h0.01M432.5 168.1h0.01M431.7 164.9h0.01M432.5 165.6h0.01M434.1 166.6h0.01M434.7 167.3h0.01M434.4 165.6h0.01M435.3 165.2h0.01M438.7 162h0.01M440.7 162.4h0.01M441 164.3h0.01M439.8 161.3h0.01M441.1 164.2h0.01M442 162h0.01M441 163.8h0.01M441.5 163.5h0.01M443.6 161.5h0.01M443.2 161h0.01M445.4 163.9h0.01M446.1 163.3h0.01M443.9 166h0.01M444.8 167h0.01M445.1 168.4h0.01M445.2 167.8h0.01M445.7 167.1h0.01M448.1 166.5h0.01M447.5 167.9h0.01M448 167.8h0.01M447.8 171.9h0.01M447.4 173.5h0.01M450.2 174h0.01M450.2 178.7h0.01M449.3 180.9h0.01M450.3 179.7h0.01M447 181.9h0.01M448.5 181h0.01M449.1 183.8h0.01" stroke="#c070b8" stroke-width="1.4" stroke-linecap="round" fill="none"/>
<path d="M452.7 182.1h0.01M453.9 181.1h0.01M453.2 181.2h0.01M455 176.8h0.01M456.5 173.1h0.01M459.5 171.6h0.01M461.3 170.9h0.01M461.8 170.7h0.01M464.9 171.1h0.01M467 170.1h0.01M472.6 170.9h0.01" stroke="#c468b4" stroke-width="1.1" stroke-linecap="round" fill="none"/><path d="M453.9 184.1h0.01M454.3 179.3h0.01M456.9 175.8h0.01M457 173.4h0.01M464 170.3h0.01M466.1 171h0.01M467.4 169.2h0.01M468.7 170.5h0.01M471.8 171.6h0.01M472.5 170h0.01" stroke="#b050a8" stroke-width="1.1" stroke-linecap="round" fill="none"/><path d="M454.6 182.2h0.01M456.8 176.6h0.01M455.2 175.1h0.01M456.7 172.9h0.01M458 171.8h0.01M458.9 172.6h0.01M468.1 170.7h0.01M471.4 170.5h0.01M473.4 171.2h0.01" stroke="#7a48b0" stroke-width="1.1" stroke-linecap="round" fill="none"/><path d="M453.2 184.3h0.01M453.8 181.4h0.01M454.4 178.2h0.01M453.8 179.4h0.01M455.6 177h0.01M457.2 174.2h0.01M460.5 172.1h0.01M460.5 170.6h0.01M462.9 170.6h0.01M464.9 170.3h0.01M466.1 169.8h0.01M469.6 169.6h0.01M474.1 170.5h0.01" stroke="#d890c8" stroke-width="1.1" stroke-linecap="round" fill="none"/></g></g>
<rect x="366.2" y="109.3" width="108.30" height="72.20" fill="none" stroke="#444" stroke-width="1.1"/>
<g clip-path="url(#cG00)"><rect x="255.1" y="348" width="126.40" height="72.40" fill="#f4f3f4"/><rect x="249.1" y="342" width="138.40" height="84.40" fill="url(#nf)" filter="url(#wob2)" opacity="1"/><g filter="url(#hb)"><path d="M332.6 359.1Q333.8 362.8 332.9 366.9Q332.1 370.9 328.6 372.7Q325.1 374.5 321.3 375Q317.5 375.5 315.5 372.2Q313.6 368.8 311.4 365.8Q309.2 362.8 309 358Q308.7 353.2 313.5 353Q318.3 352.7 321.6 352.2Q324.9 351.8 328.2 353.5Q331.4 355.3 332.6 359.1Z" fill="#fff"/><path d="M327.7 369.1Q330 370.7 327.9 372.4Q325.9 374.1 323.8 374.2Q321.7 374.4 319.4 376.4Q317.1 378.4 315.7 376.3Q314.3 374.2 313.6 372.4Q313 370.7 313.4 368.8Q313.7 366.9 315.9 366.2Q318.1 365.5 320.4 365.1Q322.6 364.7 324.1 366.1Q325.5 367.6 327.7 369.1Z" fill="#fff"/><path d="M324.7 352.7Q325.2 355.2 323.8 356.8Q322.3 358.4 321.5 360Q320.7 361.5 318.9 363.3Q317 365 316.1 362.3Q315.1 359.5 314.2 357.3Q313.2 355.2 314.4 353.2Q315.5 351.3 316.8 350.5Q318 349.6 319.7 347.8Q321.3 346 322.7 348.1Q324.1 350.2 324.7 352.7Z" fill="#fff"/><path d="M360.3 367.8Q361.4 371.9 359.1 375.3Q356.9 378.7 353.6 381.9Q350.3 385.1 345.6 383.3Q340.9 381.5 336.5 380.3Q332.1 379.1 330.9 375.5Q329.8 371.9 330.1 367.8Q330.4 363.7 334.9 361.3Q339.5 359 343.7 361.7Q348 364.3 353.6 364Q359.3 363.7 360.3 367.8Z" fill="#fff"/><path d="M354.8 362.6Q355.8 364.6 355.4 367.1Q354.9 369.6 352.4 369.9Q350 370.3 348 371Q345.9 371.7 343.7 370.6Q341.6 369.5 342.5 367.1Q343.5 364.6 342.3 362Q341.1 359.4 343.3 357.9Q345.5 356.4 347.7 358Q349.8 359.6 351.7 360.1Q353.7 360.6 354.8 362.6Z" fill="#fff"/><path d="M356.7 363.9Q355.1 366.2 356.3 368.2Q357.5 370.2 355.8 372Q354.1 373.8 351.6 373.5Q349 373.2 347.4 371.6Q345.7 370.1 345.7 368.1Q345.7 366.2 345.6 364.2Q345.5 362.2 347.5 361.3Q349.5 360.5 351.9 359.2Q354.4 358 356.3 359.8Q358.3 361.6 356.7 363.9Z" fill="#fff"/><path d="M294.1 357.1Q291.8 360.7 293.4 363.8Q294.9 366.8 292.4 369.9Q289.9 373 285.8 371.9Q281.8 370.8 279 368.7Q276.3 366.6 277.2 363.7Q278.1 360.7 276.4 357.2Q274.6 353.6 278.1 351.8Q281.6 350 285.3 350.4Q289 350.9 292.7 352.2Q296.4 353.5 294.1 357.1Z" fill="#fff"/><path d="M298.4 360.8Q300.5 361.8 299.9 363.6Q299.3 365.4 296.7 365.4Q294.1 365.4 292.5 365.5Q290.9 365.5 289.2 365Q287.5 364.5 286 363.1Q284.5 361.8 285.8 360.3Q287.2 358.9 288.9 358.2Q290.6 357.4 292.6 357.3Q294.5 357.3 295.4 358.5Q296.2 359.8 298.4 360.8Z" fill="#fff"/><path d="M298.4 358.1Q298.4 360.1 297.7 361.6Q297 363.1 296 365Q295 367 292.7 366.7Q290.4 366.5 288.4 365.4Q286.5 364.3 286.1 362.2Q285.8 360.1 287.5 358.9Q289.1 357.7 289.7 355.6Q290.3 353.5 292.8 353Q295.2 352.5 296.8 354.3Q298.3 356.2 298.4 358.1Z" fill="#fff"/><path d="M377.1 356.3Q377.9 358.9 377.5 361.7Q377.1 364.5 374.1 366.1Q371.1 367.7 368.6 365.2Q366.1 362.7 362.4 363.4Q358.8 364.1 356.7 361.5Q354.7 358.9 357.1 356.5Q359.5 354.1 362 352.6Q364.5 351.2 367.2 352.1Q370 353 373.1 353.3Q376.3 353.7 377.1 356.3Z" fill="#fff"/><path d="M368.3 355.2Q371.2 355.9 369.6 357.2Q367.9 358.5 365.8 358.4Q363.6 358.3 362 359.2Q360.3 360 359.4 358.9Q358.4 357.8 357.1 356.9Q355.7 355.9 356.2 354.6Q356.7 353.3 358.6 352.7Q360.5 352.2 362.3 352.5Q364 352.7 364.7 353.6Q365.3 354.5 368.3 355.2Z" fill="#fff"/><path d="M367.7 354.2Q368.6 355.6 367.9 357Q367.1 358.5 365.6 359Q364.1 359.6 362.5 360.2Q360.8 360.7 360.4 359.1Q359.9 357.4 358.3 356.5Q356.7 355.6 356.8 353.7Q357 351.8 359.3 352.2Q361.6 352.5 362.9 351.9Q364.3 351.2 365.5 352Q366.8 352.9 367.7 354.2Z" fill="#fff"/><path d="M380.1 385Q381.4 387.5 381 390.6Q380.7 393.8 378 395.9Q375.4 397.9 372.8 395.5Q370.2 393.1 367.5 393Q364.8 392.8 362.6 390.1Q360.4 387.5 362.7 384.9Q365 382.3 367 380.1Q368.9 377.9 371.8 378.6Q374.7 379.2 376.7 380.9Q378.7 382.5 380.1 385Z" fill="#fff"/><path d="M378 380.3Q377.4 382 378.5 384Q379.6 386.1 377.9 387.1Q376.2 388.2 374.6 387Q373.1 385.8 371.5 385.5Q369.9 385.3 369.8 383.6Q369.7 382 369.6 380.2Q369.5 378.4 371 377.5Q372.6 376.6 374.2 376.7Q375.8 376.8 377.2 377.7Q378.6 378.7 378 380.3Z" fill="#fff"/><path d="M378.8 392.2Q380.6 393.3 379 394.5Q377.4 395.7 375.5 395.3Q373.6 394.9 372.1 396.7Q370.6 398.4 369 397.3Q367.3 396.3 367.3 394.8Q367.3 393.3 368 392.2Q368.8 391.1 370.1 390.6Q371.4 390 373.1 389.5Q374.8 389 375.9 390.1Q377 391.1 378.8 392.2Z" fill="#fff"/><path d="M310.8 371.7Q312.6 374.4 310.8 377.2Q309 379.9 307.7 383.6Q306.4 387.2 303.2 386.9Q300 386.7 298.9 383Q297.8 379.4 297.3 376.9Q296.8 374.4 296 370.7Q295.2 367 297.3 363.4Q299.4 359.7 302.3 363.1Q305.2 366.4 307 367.7Q308.9 369 310.8 371.7Z" fill="#fff"/><path d="M307 379.6Q306.5 381.4 306.7 382.9Q306.9 384.4 305.9 385.9Q304.9 387.3 303.5 386.3Q302.1 385.3 300.9 384.8Q299.7 384.3 299.6 382.8Q299.5 381.4 299.3 379.6Q299 377.9 300.4 377.1Q301.8 376.3 303 376.9Q304.3 377.6 305.9 377.7Q307.5 377.8 307 379.6Z" fill="#fff"/><path d="M302.5 378.1Q302.5 379.6 302.5 381.1Q302.6 382.7 301.7 384Q300.9 385.3 299.5 385.3Q298.2 385.4 297.7 383.7Q297.1 382 296.5 380.8Q295.9 379.6 296.1 378Q296.3 376.4 297.4 375.7Q298.4 375 299.7 374.2Q301 373.5 301.7 375.1Q302.5 376.7 302.5 378.1Z" fill="#fff"/><path d="M341.8 413Q343.7 413.9 344.2 415.6Q344.7 417.4 340.8 416.8Q336.9 416.3 335 416.8Q333.2 417.4 330.6 417Q328.1 416.6 328.1 415.3Q328.2 413.9 328.2 412.5Q328.2 411.2 330.6 410.7Q333 410.1 335.4 410Q337.8 409.9 338.9 411.1Q339.9 412.2 341.8 413Z" fill="#fff"/><path d="M342.6 411.4Q342.5 412.3 342.3 413Q342.1 413.8 341 413.9Q339.9 414 339.1 414.2Q338.2 414.5 337.4 414.1Q336.5 413.7 336.1 413Q335.7 412.3 335.6 411.3Q335.4 410.3 337 410.7Q338.7 411.1 339.3 410.7Q340 410.4 341.4 410.4Q342.7 410.4 342.6 411.4Z" fill="#fff"/><path d="M339 415.9Q340.4 416.4 339.6 417.2Q338.9 417.9 337.5 418.3Q336.1 418.6 334.6 418.7Q333.1 418.8 332.5 418.1Q332 417.4 330.9 416.9Q329.9 416.4 329.7 415.5Q329.6 414.6 331.3 414.3Q333.1 414 334.4 414.3Q335.8 414.6 336.7 415Q337.6 415.3 339 415.9Z" fill="#fff"/><path d="M359.4 397.5Q360.9 399.4 359.9 401.5Q358.9 403.7 356.5 404.9Q354 406.2 351.7 404.9Q349.4 403.5 346.4 403.6Q343.4 403.7 343.2 401.6Q343 399.4 343.4 397.3Q343.7 395.3 345.7 393.3Q347.7 391.3 350.2 393.6Q352.7 395.8 355.3 395.7Q357.9 395.7 359.4 397.5Z" fill="#fff"/><path d="M351.4 397.1Q352.6 398.1 351.1 398.9Q349.5 399.7 348.6 400.6Q347.7 401.5 346.2 401.1Q344.7 400.8 343.8 400.2Q343 399.5 341.6 398.8Q340.1 398.1 340.6 396.9Q341.2 395.8 342.8 395.4Q344.5 395 345.7 395.6Q346.9 396.3 348.6 396.2Q350.2 396.2 351.4 397.1Z" fill="#fff"/><path d="M349.5 398.4Q350 399.2 349.3 399.9Q348.6 400.6 348 401.5Q347.3 402.4 345.8 402.3Q344.3 402.2 343.9 401.3Q343.4 400.3 342.6 399.8Q341.8 399.2 341.9 398.2Q342 397.3 343.2 396.8Q344.4 396.3 345.7 396.5Q347 396.7 347.9 397.1Q348.9 397.6 349.5 398.4Z" fill="#fff"/><path d="M315.5 409.9Q315.9 411.3 315.7 413Q315.6 414.6 314.4 415.4Q313.2 416.2 311.8 416.7Q310.5 417.2 309.4 415.9Q308.4 414.6 308.8 413Q309.1 411.3 308.7 409.6Q308.3 407.9 309.4 406.7Q310.5 405.5 311.9 405.9Q313.3 406.4 314.2 407.4Q315.2 408.4 315.5 409.9Z" fill="#fff"/><path d="M315.3 407.8Q315.5 408.6 315.2 409.2Q314.8 409.8 314.4 410.1Q314 410.4 313.4 410.8Q312.8 411.2 312.4 410.6Q312.1 409.9 311.9 409.2Q311.7 408.6 311.8 407.8Q311.8 407 312.4 406.9Q313 406.7 313.5 406.6Q314 406.4 314.6 406.7Q315.1 407 315.3 407.8Z" fill="#fff"/><path d="M313.4 413.5Q313.2 414.6 313 415.3Q312.8 415.9 312.4 416.7Q312 417.4 311.3 417.3Q310.6 417.1 310.1 416.6Q309.5 416.1 309.2 415.4Q309 414.6 309.1 413.7Q309.2 412.7 310 412.7Q310.8 412.7 311.3 412.5Q311.8 412.3 312.8 412.3Q313.7 412.4 313.4 413.5Z" fill="#fff"/></g><ellipse cx="275.3" cy="397.2" rx="5.1" ry="10.9" fill="#eef0ee" stroke="none" stroke-width="0" opacity="0.9"/></g><rect x="255.1" y="348" width="126.40" height="72.40" fill="none" stroke="#555" stroke-width="1.1"/>
<g clip-path="url(#cG01)"><rect x="384.6" y="348" width="126.80" height="72.40" fill="#f4f3f4"/><rect x="378.6" y="342" width="138.80" height="84.40" fill="url(#nf)" filter="url(#wob2)" opacity="1"/><g filter="url(#hb)"><path d="M420.6 359Q421.5 361 419.3 362.4Q417.2 363.8 415.9 365.1Q414.7 366.4 412.6 366.2Q410.5 366 408.3 365.4Q406.1 364.7 405.5 362.9Q405 361 405.7 359.2Q406.3 357.5 408.3 356.4Q410.2 355.4 412.1 356.5Q413.9 357.6 416.8 357.2Q419.6 356.9 420.6 359Z" fill="#fff"/><path d="M419.2 359.1Q419.5 359.8 419.5 360.7Q419.6 361.6 418.9 362.8Q418.3 363.9 417.1 363.2Q415.9 362.4 414.9 362.1Q414 361.7 413.6 360.7Q413.3 359.8 414.2 359.2Q415.1 358.7 415.2 357.2Q415.4 355.8 416.8 355.9Q418.1 356 418.6 357.2Q419 358.4 419.2 359.1Z" fill="#fff"/><path d="M417.2 356.6Q417.9 357.5 416.6 358Q415.2 358.5 414.9 359.3Q414.6 360 413.6 360.1Q412.6 360.2 411.8 359.6Q411.1 359.1 410.4 358.3Q409.8 357.5 410.6 356.8Q411.4 356.1 412 355.5Q412.6 354.9 413.5 355.2Q414.4 355.5 415.4 355.6Q416.4 355.7 417.2 356.6Z" fill="#fff"/><path d="M431 401.2Q431.2 403.4 430.2 404.9Q429.2 406.5 428 407.6Q426.8 408.6 424.9 409.4Q423.1 410.2 422.1 408.4Q421.2 406.5 420.2 404.9Q419.2 403.4 419.3 401.2Q419.4 398.9 421.7 399.2Q424 399.4 425.4 398.7Q426.8 398 428.8 398.5Q430.9 399 431 401.2Z" fill="#fff"/><path d="M426.5 405.8Q426.8 406.7 426.2 407.4Q425.6 408.2 424.9 408.7Q424.3 409.3 423.4 409.2Q422.5 409.2 421.7 408.8Q420.9 408.4 420.7 407.5Q420.4 406.7 420.5 405.8Q420.6 404.9 421.5 404.5Q422.4 404.1 423.2 404.5Q424 404.9 425.1 404.9Q426.2 404.9 426.5 405.8Z" fill="#fff"/><path d="M429.6 405.5Q429.5 406.6 429.8 407.9Q430.1 409.1 429.1 409.8Q428.2 410.4 427.3 409.9Q426.4 409.4 425.9 408.8Q425.3 408.2 424.5 407.4Q423.7 406.6 423.9 405.3Q424.2 404 425.3 404.1Q426.5 404.2 427.3 403.6Q428.1 403.1 428.9 403.7Q429.7 404.4 429.6 405.5Z" fill="#fff"/><path d="M399.4 404.6Q399.7 405.9 400.3 407.8Q400.9 409.7 398.8 410.3Q396.6 410.9 395.1 409.9Q393.6 409 391.7 409Q389.8 409 389.4 407.5Q388.9 405.9 389.3 404.3Q389.6 402.7 391.3 401.9Q392.9 401 394.6 401.4Q396.3 401.7 397.7 402.5Q399.1 403.2 399.4 404.6Z" fill="#fff"/><path d="M393.3 406.6Q393.4 407.3 393.6 408.3Q393.7 409.3 393.1 410.1Q392.5 411 391.6 410.5Q390.8 410.1 390.4 409.4Q390 408.7 389.3 408Q388.7 407.3 389.2 406.5Q389.7 405.6 390.2 405Q390.8 404.4 391.6 404Q392.5 403.5 392.8 404.7Q393.1 405.8 393.3 406.6Z" fill="#fff"/><path d="M400.5 406Q400.5 407.1 400.2 407.9Q399.9 408.6 399.4 409.3Q398.9 410 398.1 409.8Q397.4 409.6 396.5 409.5Q395.6 409.3 395.4 408.2Q395.2 407.1 395.9 406.4Q396.6 405.7 397 405.1Q397.4 404.4 398.2 404.2Q398.9 404 399.7 404.4Q400.6 404.9 400.5 406Z" fill="#fff"/><path d="M508.6 364Q509 365.4 509.5 367.2Q509.9 369.1 507.4 369.3Q504.9 369.4 503.2 369.2Q501.6 369 499.3 368.9Q497 368.7 496.7 367.1Q496.3 365.4 497.2 363.9Q498 362.5 499.7 361.8Q501.3 361.1 503.3 360.8Q505.3 360.4 506.7 361.5Q508.2 362.6 508.6 364Z" fill="#fff"/><path d="M503 362.6Q502.6 363.7 502.6 364.7Q502.6 365.6 501.7 366.4Q500.9 367.1 499.8 366.8Q498.7 366.4 498 365.8Q497.3 365.3 496.7 364.5Q496.2 363.7 496 362.5Q495.9 361.3 497.3 361.4Q498.8 361.4 499.7 361.4Q500.5 361.4 501.9 361.4Q503.3 361.4 503 362.6Z" fill="#fff"/><path d="M505.6 367.7Q506.1 368.3 506 369.2Q505.8 370.1 504.2 369.8Q502.6 369.6 501.7 370.1Q500.8 370.6 499.4 370.4Q498 370.2 498.2 369.3Q498.4 368.3 498.7 367.6Q498.9 366.9 500 366.7Q501.1 366.5 502.2 366.2Q503.3 365.9 504.1 366.5Q505 367 505.6 367.7Z" fill="#fff"/><path d="M397.2 386.9Q397.9 387.8 397.9 389.4Q397.8 391 396.6 390.7Q395.3 390.3 394.6 391.1Q393.8 391.9 393 391.1Q392.3 390.4 392.2 389.1Q392.2 387.8 392.2 386.5Q392.1 385.2 393 384.6Q393.9 384.1 394.8 383.9Q395.7 383.7 396.1 384.9Q396.5 386.1 397.2 386.9Z" fill="#fff"/><path d="M398 387.4Q398.4 387.9 398 388.4Q397.6 388.8 397.4 389.6Q397.2 390.4 396.6 390.1Q396 389.9 395.8 389.3Q395.6 388.7 395.3 388.3Q395 387.9 395.1 387.3Q395.2 386.6 395.5 386Q395.9 385.3 396.4 385.8Q397 386.3 397.3 386.6Q397.7 386.9 398 387.4Z" fill="#fff"/><path d="M394.3 388.5Q394.4 389 394.5 389.7Q394.6 390.4 394.1 390.7Q393.6 390.9 393.3 390.4Q392.9 389.8 392.4 390Q391.8 390.2 391.7 389.6Q391.5 389 391.8 388.5Q392 388 392.4 387.6Q392.7 387.1 393.1 387.4Q393.5 387.6 393.9 387.8Q394.2 388 394.3 388.5Z" fill="#fff"/></g><path d="M433.4 383.1Q431.5 378.4 436.6 374.1Q441.7 369.7 448 370.8Q454.3 371.9 457.5 370.1Q460.7 368.3 467 367.9Q473.4 367.5 476.5 373Q479.7 378.4 475.3 383.5Q470.8 388.5 464.5 386.4Q458.1 384.2 453.1 387.1Q448 390 441.7 388.9Q435.3 387.8 433.4 383.1Z" fill="#f3f1ec" stroke="#a88a5e" stroke-width="1.1" /><path d="M489.8 391.8Q488.6 387.8 491.1 383.5Q493.6 379.1 498.1 378.4Q502.5 377.7 506.3 379.9Q510.1 382 510.1 388.9Q510.1 395.8 504.4 397.2Q498.7 398.7 494.9 397.2Q491.1 395.8 489.8 391.8Z" fill="#ebe6da" stroke="#94743e" stroke-width="1.6" /><path d="M457.5 424Q449.3 424 449.9 415.7Q450.5 407.4 453.7 403.4Q456.9 399.4 461.3 399.8Q465.8 400.1 465.8 412.1Q465.8 424 457.5 424Z" fill="#efede6" stroke="none" stroke-width="0" /><path d="M449.3 424Q450.5 407.4 453.7 403.4Q456.9 399.4 460.7 400.1L464.5 400.9" fill="none" stroke="#94743e" stroke-width="1.3" /></g><rect x="384.6" y="348" width="126.80" height="72.40" fill="none" stroke="#555" stroke-width="1.1"/>
<g clip-path="url(#cG02)"><rect x="514.3" y="348" width="126.30" height="72.40" fill="#f4f3f4"/><rect x="508.29999999999995" y="342" width="138.30" height="84.40" fill="url(#nf)" filter="url(#wob2)" opacity="1"/><g filter="url(#hb)"><path d="M531 355Q531.1 357.1 530.5 358.8Q530 360.5 528.3 361.7Q526.6 362.9 524.2 363.3Q521.8 363.8 520.1 362.3Q518.4 360.8 519.2 358.9Q520.1 357 518.6 354.8Q517.1 352.6 519.5 351.5Q521.8 350.3 524 351.4Q526.1 352.5 528.5 352.8Q530.9 353 531 355Z" fill="#fff"/><path d="M527.7 352.5Q528.5 353.2 528.6 354.5Q528.7 355.7 527.4 356.4Q526.2 357.2 524.9 357Q523.5 356.8 522.5 356.1Q521.6 355.3 521.2 354.3Q520.9 353.2 521.6 352.4Q522.2 351.5 522.7 350.1Q523.1 348.6 524.8 348.6Q526.5 348.6 526.7 350.2Q526.9 351.8 527.7 352.5Z" fill="#fff"/><path d="M524.3 358Q525.4 358.8 524.3 359.6Q523.1 360.3 522.2 360.7Q521.3 361 520.3 361.2Q519.2 361.4 518.5 360.8Q517.8 360.2 516.8 359.5Q515.9 358.8 516.5 357.9Q517 357 518.2 356.8Q519.4 356.6 520.3 356.7Q521.2 356.8 522.3 357Q523.3 357.2 524.3 358Z" fill="#fff"/><path d="M551.4 357.6Q550.1 359.9 548.6 361.1Q547.1 362.2 546.1 364.1Q545.2 365.9 542.5 365.1Q539.9 364.2 537.2 363.8Q534.5 363.4 533.6 361.7Q532.7 359.9 533.7 358.3Q534.8 356.6 537.3 356.2Q539.9 355.8 542 356Q544 356.2 548.3 355.7Q552.6 355.2 551.4 357.6Z" fill="#fff"/><path d="M547.7 362.4Q548.1 363.1 548.9 364.3Q549.7 365.4 547.5 365.5Q545.3 365.5 543.9 365.5Q542.6 365.4 541.2 365.1Q539.9 364.7 539.3 363.9Q538.8 363.1 539 362.2Q539.2 361.2 540.9 361Q542.6 360.9 544.2 360.5Q545.7 360.1 546.6 360.9Q547.4 361.7 547.7 362.4Z" fill="#fff"/><path d="M551.3 359.3Q550.4 360.4 550.9 361.4Q551.4 362.3 550.1 362.8Q548.8 363.3 547.6 362.9Q546.4 362.5 544.6 362.6Q542.8 362.6 542.8 361.5Q542.8 360.4 543.5 359.6Q544.2 358.9 545.3 358.5Q546.4 358.2 547.7 357.8Q548.9 357.3 550.6 357.7Q552.2 358.1 551.3 359.3Z" fill="#fff"/><path d="M527 370.6Q527.3 371.9 527.6 373.5Q528 375.1 525.9 375.1Q523.8 375.1 522.7 374.6Q521.6 374.1 519.5 374.5Q517.4 374.9 517.1 373.4Q516.7 371.9 517.6 370.7Q518.4 369.5 519.8 369.1Q521.2 368.7 522.6 368.5Q523.9 368.4 525.3 368.9Q526.8 369.4 527 370.6Z" fill="#fff"/><path d="M527 369.4Q527.2 370 526.8 370.4Q526.4 370.9 525.9 371.3Q525.4 371.7 524.5 371.8Q523.7 371.9 522.9 371.5Q522.2 371.2 522.4 370.6Q522.5 370 522.5 369.5Q522.5 368.9 523 368.4Q523.6 367.9 524.5 368.2Q525.3 368.4 526.1 368.6Q526.9 368.8 527 369.4Z" fill="#fff"/><path d="M523.1 373.3Q522.9 373.9 522.9 374.4Q522.9 374.9 522.4 375.6Q521.9 376.3 520.9 375.7Q519.9 375.2 519.2 375Q518.5 374.8 517.8 374.3Q517.1 373.9 517.7 373.4Q518.2 372.9 518.9 372.5Q519.6 372.2 520.6 372.2Q521.5 372.3 522.4 372.5Q523.3 372.8 523.1 373.3Z" fill="#fff"/><path d="M574.8 356.9Q576.4 358.1 574.5 359.3Q572.7 360.4 571.6 362.1Q570.6 363.8 567.4 363.7Q564.3 363.5 563.5 361.8Q562.6 360.1 560 359.1Q557.4 358.1 559.3 356.9Q561.2 355.6 562.9 354.4Q564.6 353.3 567.5 353Q570.4 352.7 571.8 354.2Q573.3 355.7 574.8 356.9Z" fill="#fff"/><path d="M568.6 355.1Q570.3 355.7 569.7 356.8Q569.1 357.9 567.1 357.9Q565.1 357.8 563.8 358Q562.6 358.2 561.2 357.9Q559.9 357.5 558.6 356.6Q557.4 355.7 558.8 354.9Q560.1 354 561.4 353.7Q562.6 353.3 564.2 352.9Q565.7 352.6 566.3 353.5Q567 354.4 568.6 355.1Z" fill="#fff"/><path d="M574.9 354.3Q576 355.2 573.7 355.7Q571.4 356.1 571.1 357.1Q570.8 358 568.9 358.5Q566.9 359.1 566.3 357.8Q565.7 356.6 564.7 355.9Q563.6 355.2 564.4 354.4Q565.2 353.6 566.4 353.1Q567.6 352.5 569.2 352.5Q570.7 352.5 572.2 352.9Q573.7 353.4 574.9 354.3Z" fill="#fff"/><path d="M609.5 363.3Q612.6 364.3 611.6 366.3Q610.6 368.4 608.1 369.6Q605.6 370.7 603 370.1Q600.3 369.6 598.5 368.5Q596.6 367.4 595.4 365.9Q594.2 364.3 595.4 362.7Q596.5 361.1 597.7 358.6Q599 356 602.1 357.4Q605.2 358.7 605.8 360.5Q606.4 362.4 609.5 363.3Z" fill="#fff"/><path d="M601.6 361.3Q601.6 362.2 601.1 362.8Q600.6 363.4 600 364.2Q599.5 365.1 598 365.4Q596.5 365.7 596 364.6Q595.6 363.5 595 362.8Q594.4 362.2 594.8 361.4Q595.1 360.7 596.1 360.3Q597.1 359.9 598.4 359.4Q599.8 358.8 600.7 359.7Q601.6 360.5 601.6 361.3Z" fill="#fff"/><path d="M605.4 359.6Q605.9 360.7 605.3 361.7Q604.7 362.7 603.4 363.1Q602 363.5 600.8 363.3Q599.6 363.2 597.8 363.1Q596.1 363.1 596.2 361.9Q596.2 360.7 596.5 359.7Q596.9 358.7 598 358.1Q599.2 357.4 600.5 357.9Q601.8 358.4 603.4 358.5Q604.9 358.6 605.4 359.6Z" fill="#fff"/><path d="M587.4 401.9Q589.2 403.4 589.1 405.7Q589 408 585.4 408.1Q581.7 408.2 579.4 408.1Q577.1 407.9 574.3 407.5Q571.5 407.1 569.5 405.3Q567.5 403.4 569.9 401.7Q572.3 400 574.6 399.3Q576.9 398.5 579.8 397.7Q582.6 396.8 584.1 398.6Q585.6 400.4 587.4 401.9Z" fill="#fff"/><path d="M587.7 405.3Q588.8 405.9 587.5 406.5Q586.3 407.1 585.7 407.8Q585.1 408.5 583.5 409Q581.9 409.5 581.4 408.4Q580.8 407.3 580.2 406.6Q579.6 405.9 580.2 405.3Q580.8 404.6 581.5 403.8Q582.3 403 583.8 403Q585.3 402.9 586 403.7Q586.7 404.6 587.7 405.3Z" fill="#fff"/><path d="M585.1 398.4Q585.5 399.6 584.1 400.2Q582.6 400.8 582.1 401.8Q581.6 402.9 580.3 402.3Q578.9 401.6 577.6 401.4Q576.3 401.2 574.6 400.4Q572.9 399.6 574.8 398.8Q576.8 398.1 577.8 397.7Q578.8 397.3 580 397.2Q581.2 397.1 583 397.2Q584.7 397.3 585.1 398.4Z" fill="#fff"/><path d="M561.2 395.5Q561.5 396.9 562.3 398.8Q563.1 400.8 560.9 401.5Q558.7 402.3 556.7 402.1Q554.6 401.9 553.4 400.7Q552.2 399.5 551.2 398.2Q550.2 396.9 550.5 395.1Q550.8 393.4 552.8 392.8Q554.8 392.2 556.9 391.4Q559 390.7 560 392.4Q561 394.2 561.2 395.5Z" fill="#fff"/><path d="M555.4 395.8Q555.5 396.8 555.5 397.8Q555.6 398.8 554.6 399.2Q553.5 399.6 552.5 399.7Q551.5 399.7 551.1 398.9Q550.6 398 549.8 397.4Q548.9 396.8 549 395.6Q549 394.4 550.4 394.6Q551.9 394.8 552.7 394.3Q553.6 393.8 554.4 394.3Q555.3 394.9 555.4 395.8Z" fill="#fff"/><path d="M558.5 392.9Q559.6 393.7 558.5 394.6Q557.4 395.4 556.6 395.6Q555.8 395.8 555 396.4Q554.1 396.9 553 396.6Q551.8 396.2 551.6 395Q551.5 393.7 552.5 393.1Q553.5 392.5 553.8 391.5Q554.1 390.4 555.1 390.5Q556.2 390.5 556.8 391.3Q557.5 392 558.5 392.9Z" fill="#fff"/><path d="M631.5 372.8Q631.5 374.4 632.1 376.5Q632.6 378.6 630.7 378.8Q628.7 379 627.4 378.9Q626 378.7 624.8 378.1Q623.6 377.4 622.7 375.9Q621.8 374.4 622.1 372.5Q622.4 370.5 624.3 370.8Q626.3 371 627.6 370Q629 369 630.2 370.1Q631.5 371.2 631.5 372.8Z" fill="#fff"/><path d="M633.1 371.7Q633.3 372.7 632.8 373.5Q632.3 374.3 631.5 374.5Q630.8 374.8 629.9 375.1Q629.1 375.4 628.5 374.8Q627.9 374.2 627.3 373.4Q626.7 372.7 626.9 371.7Q627 370.6 628.2 370.9Q629.5 371.1 630.1 370.8Q630.8 370.6 631.8 370.7Q632.9 370.8 633.1 371.7Z" fill="#fff"/><path d="M630.1 370.2Q629.9 371.1 630 371.8Q630 372.6 629.2 373.1Q628.4 373.5 627.6 373.1Q626.8 372.6 625.7 372.6Q624.7 372.7 624.4 371.9Q624.2 371.1 624.6 370.3Q625 369.6 625.8 369.3Q626.6 369 627.4 369Q628.2 369 629.2 369.2Q630.3 369.4 630.1 370.2Z" fill="#fff"/></g><ellipse cx="640.6" cy="405.9" rx="7.6" ry="17.4" fill="#fbfbfc" stroke="#bcc0dc" stroke-width="3" /><path d="M561.7 424.7Q542.1 424.7 542.1 416.8Q542.1 408.8 546.5 407.7Q550.9 406.6 556.6 406.3Q562.3 405.9 566.1 407.4Q569.9 408.8 572.4 411.4Q574.9 413.9 578.1 419.3Q581.2 424.7 561.7 424.7Z" fill="#fbfbfa" stroke="#86683e" stroke-width="1.3" /></g><rect x="514.3" y="348" width="126.30" height="72.40" fill="none" stroke="#555" stroke-width="1.1"/>
<g clip-path="url(#cG10)"><rect x="255.1" y="423.2" width="126.40" height="72.00" fill="#f4f3f4"/><rect x="249.1" y="417.2" width="138.40" height="84.00" fill="url(#nm)" filter="url(#wob2)" opacity="1"/><g filter="url(#hb)"><path d="M268 457.4Q269.6 459.9 267.3 461.8Q264.9 463.6 263.5 464.5Q262.2 465.4 260.4 466.8Q258.7 468.2 256.4 467.1Q254.2 465.9 254.1 462.9Q253.9 459.9 255.4 458.1Q256.8 456.3 257.8 454.1Q258.7 451.9 260.6 452.5Q262.6 453 264.4 454Q266.3 454.9 268 457.4Z" fill="#fff"/><path d="M268.7 457.9Q269.6 459 268.7 460.2Q267.7 461.4 266.7 461.6Q265.6 461.8 264.4 463.1Q263.2 464.5 262.3 463.1Q261.3 461.8 261.4 460.4Q261.4 459 261.6 457.8Q261.8 456.6 262.7 455.7Q263.6 454.9 264.8 454.8Q266.1 454.6 266.9 455.7Q267.7 456.7 268.7 457.9Z" fill="#fff"/><path d="M267.7 457.5Q268.4 458.5 267.6 459.4Q266.7 460.2 266.1 461Q265.6 461.8 264.7 461.6Q263.9 461.5 263.2 460.9Q262.5 460.4 262.1 459.4Q261.6 458.5 262 457.4Q262.3 456.4 263 455.5Q263.7 454.7 264.5 455.5Q265.3 456.3 266.1 456.4Q266.9 456.5 267.7 457.5Z" fill="#fff"/><path d="M306.6 445.2Q306.9 448 305.2 450.1Q303.6 452.1 302.3 455.3Q301 458.5 296.7 458.8Q292.4 459.1 290.8 455.8Q289.1 452.6 287.1 450.3Q285.1 448 287 445.7Q288.9 443.4 291.2 441.4Q293.4 439.5 297.3 438.2Q301.2 436.9 303.8 439.6Q306.4 442.4 306.6 445.2Z" fill="#fff"/><path d="M296.2 446.1Q297 447.3 296.3 448.5Q295.5 449.8 293.6 450.3Q291.7 450.9 289.7 450.9Q287.6 450.9 285.7 450.4Q283.8 449.8 281.9 448.5Q280 447.3 282.5 446.3Q285.1 445.4 286.6 444.9Q288.1 444.4 290.3 443.3Q292.5 442.2 294 443.6Q295.4 444.9 296.2 446.1Z" fill="#fff"/><path d="M299.6 441.2Q300 443.3 297.7 444.2Q295.3 445.1 295 447.2Q294.7 449.3 292.5 449.1Q290.3 449 288.4 448Q286.5 447.1 286 445.2Q285.5 443.3 287 442.1Q288.5 440.8 289.4 439.3Q290.3 437.7 292.3 438.2Q294.2 438.7 296.7 438.9Q299.2 439.1 299.6 441.2Z" fill="#fff"/><path d="M296.3 479.6Q296.5 483.7 295.6 487.3Q294.6 490.8 291.4 491.7Q288.1 492.6 284.7 495.1Q281.2 497.6 278 494.8Q274.8 491.9 275.8 487.8Q276.8 483.7 275.9 479.6Q275 475.6 278.6 474.4Q282.2 473.1 285.6 472.7Q288.9 472.2 292.4 473.8Q296 475.5 296.3 479.6Z" fill="#fff"/><path d="M288.4 474.7Q289.4 476.1 288.6 477.7Q287.8 479.3 286.8 480.6Q285.7 481.8 283.9 482.9Q282.1 484 281.4 481.7Q280.6 479.3 280.2 477.7Q279.8 476.1 280.2 474.4Q280.6 472.8 281.5 471.1Q282.4 469.4 284.3 469Q286.1 468.7 286.7 471Q287.3 473.2 288.4 474.7Z" fill="#fff"/><path d="M291.1 489.6Q291.6 491.4 290.3 492.6Q289 493.9 288.4 496.5Q287.8 499.2 285.2 498Q282.5 496.8 281.7 495.2Q280.8 493.7 279.3 492.5Q277.8 491.4 278.1 489.5Q278.4 487.7 280.2 486.2Q282 484.7 284.2 485.9Q286.4 487.1 288.5 487.5Q290.5 487.9 291.1 489.6Z" fill="#fff"/><path d="M346.2 465.8Q351.8 468.2 347.9 471.3Q344.1 474.4 337.3 473.9Q330.5 473.4 325.5 475.9Q320.6 478.4 317 475.8Q313.4 473.2 311 470.7Q308.6 468.2 308.1 464.6Q307.6 461 315 461Q322.5 461 327.2 460.9Q331.9 460.7 336.2 462Q340.5 463.3 346.2 465.8Z" fill="#fff"/><path d="M324.7 468.7Q323.3 470.7 322.6 471.9Q321.9 473 320.8 474.7Q319.7 476.4 316.9 475.9Q314.1 475.3 311.9 474.5Q309.6 473.7 309 472.2Q308.4 470.7 309 469.2Q309.6 467.7 312 467.1Q314.3 466.5 316.7 466.4Q319 466.3 322.5 466.5Q326 466.6 324.7 468.7Z" fill="#fff"/><path d="M324.7 466.9Q327.2 468 325.4 469.3Q323.6 470.7 320.6 470.9Q317.7 471 315.3 471.3Q313 471.5 310.3 471Q307.7 470.6 304.8 469.3Q302 468 305.7 467Q309.5 466 311.4 465.5Q313.4 465 316.1 464.2Q318.8 463.4 320.5 464.6Q322.2 465.8 324.7 466.9Z" fill="#fff"/><path d="M346.7 430.5Q346.8 432.2 346.8 434Q346.8 435.7 345.3 437.1Q343.9 438.6 341.5 439Q339.2 439.5 338.7 437Q338.2 434.6 336.6 433.4Q335.1 432.2 335.4 430.2Q335.8 428.2 338 427.9Q340.1 427.7 342.2 426.2Q344.3 424.7 345.5 426.7Q346.7 428.8 346.7 430.5Z" fill="#fff"/><path d="M348.8 430.4Q349.6 431.3 349.2 432.5Q348.9 433.6 347.7 433.7Q346.5 433.8 345.4 434.4Q344.4 435.1 343.8 434.1Q343.2 433.1 343.1 432.2Q343 431.3 342.4 430Q341.9 428.6 343.2 428.4Q344.6 428.1 345.6 428.4Q346.5 428.7 347.3 429.1Q348.1 429.6 348.8 430.4Z" fill="#fff"/><path d="M347.1 434.6Q347.9 435.2 347.9 436.3Q348 437.4 346.7 437.8Q345.4 438.1 344.3 437.9Q343.2 437.7 342.5 437.2Q341.7 436.7 340.4 435.9Q339.1 435.2 340.2 434.4Q341.3 433.6 342.2 433.2Q343.2 432.8 344.4 432.2Q345.6 431.7 346 432.8Q346.4 434 347.1 434.6Z" fill="#fff"/><path d="M334.8 453.6Q334.9 455.2 334.7 456.9Q334.5 458.5 333 459.5Q331.5 460.5 329.6 460.8Q327.6 461.1 327.1 459.2Q326.5 457.4 325.5 456.3Q324.5 455.2 323.7 453Q323 450.7 325.6 450.9Q328.3 451.2 329.8 450.9Q331.3 450.6 333 451.3Q334.6 451.9 334.8 453.6Z" fill="#fff"/><path d="M336 453.4Q337.2 454 337 455.2Q336.7 456.4 335.2 456.2Q333.7 456 332.8 456.7Q331.8 457.4 331 456.6Q330.3 455.8 330 454.9Q329.8 454 329.8 453Q329.9 452 330.9 451.4Q331.9 450.9 333 450.9Q334.2 450.8 334.5 451.8Q334.8 452.9 336 453.4Z" fill="#fff"/><path d="M328.4 453.7Q328.4 454.4 328.4 455.1Q328.4 455.8 327.7 456.1Q327 456.5 326.1 456.8Q325.2 457.1 324.7 456.3Q324.3 455.6 324.5 455Q324.7 454.4 324.1 453.5Q323.4 452.6 324.4 452.3Q325.3 452 326.1 452.2Q326.9 452.5 327.6 452.8Q328.3 453.1 328.4 453.7Z" fill="#fff"/><path d="M271.2 431.5Q272.4 434 270.7 436.2Q269.1 438.4 267.5 440.4Q265.9 442.4 263.4 442.2Q260.8 441.9 259.4 440Q257.9 438.1 257.3 436Q256.6 434 255.9 430.9Q255.1 427.8 257.8 426.4Q260.5 425.1 262.6 427.3Q264.7 429.4 267.4 429.2Q270 429 271.2 431.5Z" fill="#fff"/><path d="M263.6 428.6Q264 429.6 263.6 430.7Q263.2 431.8 262.4 432.4Q261.6 433 260.7 433.1Q259.7 433.1 258.5 432.9Q257.2 432.6 257.1 431.1Q257 429.6 258.2 429Q259.3 428.4 259.5 427.1Q259.6 425.7 260.8 425.3Q262 425 262.6 426.2Q263.3 427.5 263.6 428.6Z" fill="#fff"/><path d="M263.3 436.1Q263 437.6 263.4 439.3Q263.9 440.9 262.5 441.4Q261 441.8 260 441.2Q259 440.5 257.6 440.5Q256.2 440.5 256.1 439.1Q255.9 437.6 256 436.1Q256 434.5 257.4 434.3Q258.8 434 259.8 434Q260.9 434 262.2 434.3Q263.5 434.6 263.3 436.1Z" fill="#fff"/><path d="M316 431.6Q315.8 433.3 315.5 434.6Q315.1 436 313.5 436.9Q312 437.7 310 438Q307.9 438.3 306.4 437.2Q304.9 436.1 304.2 434.7Q303.5 433.3 304 431.7Q304.5 430.2 306.5 430Q308.6 429.7 310.4 429Q312.3 428.2 314.3 429.1Q316.2 429.9 316 431.6Z" fill="#fff"/><path d="M310.7 430.3Q311.4 430.9 310.7 431.5Q310.1 432.1 309.5 432.9Q308.9 433.7 307.7 433.4Q306.5 433 306.1 432.4Q305.7 431.8 304.6 431.3Q303.5 430.9 304 430.1Q304.5 429.4 305.4 428.9Q306.4 428.4 307.4 428.7Q308.5 428.9 309.2 429.3Q309.9 429.7 310.7 430.3Z" fill="#fff"/><path d="M313.5 435.7Q314.6 436.3 313.7 437.1Q312.8 437.8 311.6 437.8Q310.3 437.8 309.2 438.5Q308.1 439.1 307.4 438.4Q306.7 437.6 306.3 437Q305.8 436.3 305.8 435.4Q305.7 434.5 307.1 434.4Q308.6 434.4 309.6 434.3Q310.6 434.3 311.5 434.7Q312.4 435 313.5 435.7Z" fill="#fff"/><path d="M361.7 473.2Q365.3 474.3 364 477Q362.7 479.7 360.2 480.9Q357.6 482.1 355 481.9Q352.4 481.7 350.6 480.2Q348.8 478.6 347.1 476.5Q345.3 474.3 347.6 472.5Q349.8 470.7 350.6 467.4Q351.5 464.1 354.7 464.8Q358 465.5 358.1 468.8Q358.2 472.1 361.7 473.2Z" fill="#fff"/><path d="M360.6 477.6Q360.8 479 361 480.7Q361.1 482.5 359.6 482.3Q358 482.2 357.1 482.5Q356.1 482.8 354.9 482.5Q353.6 482.1 353.1 480.5Q352.6 479 353.2 477.6Q353.8 476.1 355.1 476.2Q356.4 476.3 357.5 475.1Q358.5 474 359.5 475.1Q360.5 476.1 360.6 477.6Z" fill="#fff"/><path d="M365.3 472.8Q366.3 474.2 366.3 476.2Q366.3 478.3 363.8 477.8Q361.4 477.3 360.2 477.8Q359 478.3 357.2 478Q355.4 477.6 355.6 475.9Q355.8 474.2 355.2 472.2Q354.7 470.2 356.8 470Q358.8 469.7 360.2 470.2Q361.6 470.6 363 471Q364.4 471.3 365.3 472.8Z" fill="#fff"/></g><ellipse cx="325.3" cy="488" rx="7" ry="10.1" fill="#e8e8ea" stroke="none" stroke-width="0" /><ellipse cx="346.1" cy="491.6" rx="6.3" ry="5.8" fill="#e2e2e4" stroke="none" stroke-width="0" /></g><rect x="255.1" y="423.2" width="126.40" height="72.00" fill="none" stroke="#555" stroke-width="1.1"/>
<g clip-path="url(#cG11)"><rect x="384.6" y="423.2" width="126.80" height="72.00" fill="#f8f8f9"/><rect x="378.6" y="417.2" width="138.80" height="84.00" fill="url(#ns)" filter="url(#wob2)" opacity="1"/><g filter="url(#hb)"><path d="M411.4 447.8Q411.6 452 410.1 455.5Q408.7 459 404.2 459.3Q399.8 459.6 395.3 463Q390.8 466.3 387.1 463Q383.3 459.7 383.4 455.8Q383.5 452 383 447.9Q382.5 443.8 388 444Q393.5 444.3 397.6 442Q401.7 439.7 406.4 441.6Q411.2 443.6 411.4 447.8Z" fill="#fff"/><path d="M413.3 451.2Q414.3 452.8 413.8 454.7Q413.3 456.7 410.9 457.5Q408.5 458.3 405.4 459.9Q402.2 461.5 400.3 459.2Q398.4 456.9 398.8 454.9Q399.1 452.8 399.4 451.1Q399.8 449.5 401.4 447.8Q403.1 446.1 406.5 445.1Q410 444.1 411.1 446.8Q412.3 449.5 413.3 451.2Z" fill="#fff"/><path d="M410.3 455.9Q411.2 457.6 410.3 459.3Q409.4 461 407.7 462.7Q406 464.5 403.7 462.8Q401.4 461.2 398.9 461.2Q396.3 461.2 395.1 459.4Q393.8 457.6 395.7 456.1Q397.6 454.7 398.8 452.8Q400.1 451 402.6 452Q405 453.1 407.2 453.7Q409.3 454.2 410.3 455.9Z" fill="#fff"/><path d="M462.2 457.4Q465.3 461.7 460 464.5Q454.6 467.3 452.3 469.9Q449.9 472.4 445 475.6Q440 478.8 437.2 474.1Q434.4 469.4 432.8 465.6Q431.1 461.7 432.6 457.8Q434.1 453.8 438 451.7Q441.8 449.7 446.2 449.5Q450.6 449.2 454.9 451.2Q459.2 453.1 462.2 457.4Z" fill="#fff"/><path d="M459.5 466.8Q461.2 468.7 459.8 470.8Q458.5 472.9 455.9 472.8Q453.2 472.8 451.1 474.1Q449 475.5 446.8 474.3Q444.6 473 443.9 470.9Q443.2 468.7 444.2 466.7Q445.2 464.8 447.5 464.2Q449.7 463.6 451.9 462.9Q454.2 462.2 456 463.6Q457.9 464.9 459.5 466.8Z" fill="#fff"/><path d="M451.3 467.6Q452.2 470.2 450.5 472.2Q448.9 474.1 447.9 476.7Q447 479.3 444.7 478.8Q442.3 478.2 441.5 476Q440.6 473.7 438.8 471.9Q436.9 470.2 437.5 467.4Q438 464.6 440.2 463.7Q442.5 462.9 444.3 463.5Q446.2 464.2 448.3 464.6Q450.5 465 451.3 467.6Z" fill="#fff"/><path d="M435.2 480.7Q436.3 485.1 431.2 487.5Q426.2 489.9 424.3 493.5Q422.4 497.1 416.1 498.9Q409.8 500.6 406 496.7Q402.2 492.7 400.6 488.9Q398.9 485.1 401.8 482Q404.6 478.8 408.2 476.3Q411.8 473.8 417.4 472.8Q423.1 471.7 428.6 474Q434 476.3 435.2 480.7Z" fill="#fff"/><path d="M435 477.2Q435.6 479.2 433.9 480.7Q432.3 482.2 429.9 483.1Q427.5 484 424.3 484.7Q421 485.4 418.7 483.9Q416.5 482.4 415.1 480.8Q413.7 479.2 414.6 477.3Q415.5 475.5 418.8 475.2Q422.2 474.9 425.1 474.2Q428 473.5 431.2 474.4Q434.4 475.2 435 477.2Z" fill="#fff"/><path d="M412.9 483.8Q414.3 485.4 412.7 486.9Q411.2 488.4 409.9 490.4Q408.6 492.4 405.7 492Q402.7 491.7 401.2 490.1Q399.7 488.5 397.2 487Q394.8 485.4 397.7 484.1Q400.6 482.8 401.7 481.1Q402.9 479.4 405.9 478.7Q408.9 477.9 410.2 480.1Q411.6 482.2 412.9 483.8Z" fill="#fff"/><path d="M488.8 439.8Q489.5 441.6 488.8 443.4Q488.2 445.2 486.4 446Q484.7 446.8 482.9 446.9Q481 446.9 479.3 446Q477.5 445.2 475.8 443.4Q474.1 441.6 476.5 440.2Q478.8 438.8 480.1 438.1Q481.4 437.4 483.4 435.8Q485.4 434.2 486.7 436.1Q488.1 438 488.8 439.8Z" fill="#fff"/><path d="M488.1 436.8Q488.6 437.9 487.6 438.6Q486.6 439.4 485.9 440.1Q485.3 440.9 484 441Q482.8 441 482.2 440.2Q481.6 439.3 480 438.6Q478.4 437.9 479.7 437Q481 436.1 482.2 436.1Q483.4 436.1 484.4 435.3Q485.4 434.5 486.5 435.2Q487.6 435.8 488.1 436.8Z" fill="#fff"/><path d="M489.6 439.8Q490.2 440.7 489.8 441.7Q489.4 442.8 488.4 442.8Q487.4 442.7 486.5 443.9Q485.6 445.1 484.7 444.1Q483.8 443.1 483.7 441.9Q483.6 440.7 484.3 439.9Q485.1 439.2 485.5 438.5Q486 437.7 487.1 436.7Q488.3 435.7 488.6 437.3Q489 438.9 489.6 439.8Z" fill="#fff"/><path d="M450.7 434.3Q449.4 436.5 449.5 437.9Q449.5 439.2 448.3 440.3Q447.1 441.3 445.2 442Q443.3 442.7 441.7 441.4Q440.1 440.2 440.8 438.3Q441.5 436.5 440.9 434.8Q440.2 433 442.2 432.8Q444.1 432.5 445.7 431.8Q447.3 431.1 449.7 431.6Q452.1 432.1 450.7 434.3Z" fill="#fff"/><path d="M450.4 432.6Q450.6 433.6 449.8 434.2Q449 434.8 448.6 435.8Q448.3 436.7 447.3 436.6Q446.3 436.5 445.5 436Q444.6 435.5 443.9 434.5Q443.1 433.6 444.4 433.1Q445.7 432.5 446.1 431.9Q446.5 431.2 447.4 430.7Q448.4 430.2 449.3 430.9Q450.2 431.6 450.4 432.6Z" fill="#fff"/><path d="M446.3 438.6Q446 439.7 446 440.5Q446 441.3 445.7 442.6Q445.4 444 444.4 443.4Q443.4 442.9 443 442Q442.7 441.1 442.4 440.4Q442.2 439.7 442 438.5Q441.7 437.4 442.6 436.9Q443.4 436.4 444.2 436.6Q445 436.8 445.9 437.1Q446.7 437.5 446.3 438.6Z" fill="#fff"/><path d="M430.8 460.4Q430.8 462.8 432 465.9Q433.2 469 429.8 470.6Q426.4 472.3 423.3 470.6Q420.1 469 416.8 468.6Q413.4 468.2 413.5 465.5Q413.5 462.8 413.6 460.2Q413.7 457.5 416.2 455.3Q418.8 453.1 422.2 454.2Q425.7 455.2 428.2 456.6Q430.7 458 430.8 460.4Z" fill="#fff"/><path d="M427.2 456.4Q428.6 457.4 427.1 458.4Q425.6 459.3 424.8 460.5Q424 461.7 422.1 461.6Q420.3 461.5 419.5 460.3Q418.7 459.2 417.6 458.3Q416.6 457.4 417 456.2Q417.5 455 418.8 453.9Q420 452.9 421.7 453.6Q423.4 454.4 424.6 454.9Q425.9 455.4 427.2 456.4Z" fill="#fff"/><path d="M420.4 460.9Q420.2 462.9 419.2 463.8Q418.1 464.7 417.9 466.7Q417.6 468.8 416 468.7Q414.4 468.5 413.4 467.2Q412.3 465.9 412.2 464.4Q412 462.9 412.4 461.5Q412.7 460.1 413.6 458.9Q414.5 457.7 415.9 458Q417.3 458.3 419 458.6Q420.6 458.9 420.4 460.9Z" fill="#fff"/><path d="M408.7 473.5Q408.8 477.2 408.1 480.4Q407.5 483.5 404.8 484.2Q402 484.9 399.3 486.6Q396.7 488.3 394.5 485.8Q392.4 483.3 392.3 480.3Q392.1 477.2 391.1 473.2Q390.1 469.2 393.9 469.5Q397.7 469.8 400 469.3Q402.2 468.7 405.5 469.3Q408.7 469.9 408.7 473.5Z" fill="#fff"/><path d="M396.9 475.1Q396.8 476.8 397 478.7Q397.2 480.6 396.5 482.8Q395.7 484.9 394.3 484.2Q392.8 483.5 392.4 481.4Q392 479.4 391.1 478.1Q390.1 476.8 390.5 474.9Q390.9 472.9 392 472Q393 471.1 394.3 470Q395.7 468.9 396.3 471.1Q397 473.3 396.9 475.1Z" fill="#fff"/><path d="M400.6 470.1Q401 471.7 400.2 472.9Q399.4 474.1 398.8 475.5Q398.1 476.8 396.8 476.9Q395.5 476.9 394 476.3Q392.5 475.7 392.7 473.7Q392.9 471.7 394 470.9Q395.1 470 395.2 467.7Q395.2 465.4 396.8 465.6Q398.3 465.8 399.3 467.2Q400.2 468.5 400.6 470.1Z" fill="#fff"/><path d="M469.9 474.6Q470.3 477.2 470.7 480.4Q471.1 483.7 468.3 484.4Q465.5 485.2 463.7 483.7Q461.8 482.2 458.9 482.7Q456 483.2 455.5 480.2Q455.1 477.2 456 474.6Q456.9 472 458.9 470.5Q460.9 469 463 469.7Q465.2 470.3 467.3 471.2Q469.4 472.1 469.9 474.6Z" fill="#fff"/><path d="M472 474.7Q472.7 476.2 472.3 478Q471.9 479.7 470.3 479.5Q468.7 479.2 467.6 480.4Q466.4 481.5 465 480.7Q463.6 479.9 463 478.1Q462.4 476.2 463.7 475Q465 473.8 466 473.4Q467 473 468.4 471.2Q469.8 469.4 470.6 471.3Q471.4 473.3 472 474.7Z" fill="#fff"/><path d="M471.6 478Q472.4 479.1 471.9 480.4Q471.5 481.8 470.4 482.8Q469.3 483.8 468 482.9Q466.7 482 465.7 481.6Q464.7 481.1 463.4 480.1Q462 479.1 463 477.8Q464.1 476.6 465.2 475.8Q466.3 475.1 467.6 475.2Q468.9 475.4 469.9 476.1Q470.8 476.9 471.6 478Z" fill="#fff"/><path d="M504 430.5Q505 431.8 505.3 434.1Q505.7 436.4 503.4 437.6Q501.2 438.7 498.7 438.8Q496.2 439 494.9 437.1Q493.6 435.2 492.2 433.5Q490.8 431.8 492.2 430.1Q493.6 428.5 495 426.8Q496.3 425.2 499.2 423.9Q502 422.6 502.4 425.9Q502.9 429.1 504 430.5Z" fill="#fff"/><path d="M507.2 427.7Q507.6 429 506.6 429.9Q505.6 430.9 504.5 431.3Q503.4 431.8 502.1 432.2Q500.8 432.6 499 432.2Q497.3 431.8 497.9 430.4Q498.6 429 498.6 427.9Q498.6 426.8 499.6 425.9Q500.7 425 502 425.7Q503.3 426.3 505 426.3Q506.7 426.4 507.2 427.7Z" fill="#fff"/><path d="M502.9 434.9Q502.1 436.1 502.2 436.9Q502.3 437.7 501.6 438.7Q500.9 439.6 499.5 439.5Q498.2 439.4 497.1 438.8Q496 438.1 496.2 437.1Q496.3 436.1 496.3 435.2Q496.3 434.2 497.3 433.7Q498.3 433.3 499.6 433Q500.9 432.7 502.3 433.2Q503.7 433.7 502.9 434.9Z" fill="#fff"/><path d="M466.6 443Q468 444.8 466.2 446.3Q464.4 447.9 463.8 450.8Q463.2 453.6 461 452.4Q458.8 451.2 458.3 449.3Q457.7 447.3 456 446Q454.3 444.8 454.7 442.5Q455.1 440.2 456.7 438.3Q458.3 436.4 460.1 438.5Q461.9 440.6 463.5 440.9Q465.1 441.2 466.6 443Z" fill="#fff"/><path d="M466.3 446Q467 446.6 467.2 448Q467.4 449.3 466.1 449.2Q464.8 449.1 464 449.4Q463.2 449.7 462.7 449Q462.1 448.3 461.8 447.5Q461.4 446.6 461.3 445.4Q461.2 444.2 462.3 443.9Q463.3 443.6 464.2 443.5Q465.1 443.3 465.4 444.3Q465.7 445.3 466.3 446Z" fill="#fff"/><path d="M466.1 441.8Q466.9 442.4 466.4 443.3Q465.9 444.1 465.4 444.9Q464.8 445.6 463.9 445.3Q463.1 444.9 462.5 444.5Q461.8 444 461.5 443.2Q461.2 442.4 461.6 441.7Q462 440.9 462.4 439.7Q462.7 438.5 463.6 439.2Q464.6 439.9 464.9 440.5Q465.3 441.2 466.1 441.8Z" fill="#fff"/></g><path d="M397.9 435.4Q396 430.4 403 431.1Q410 431.8 419.5 434.7Q429 437.6 434.7 440.5Q440.4 443.4 439.1 445.5Q437.9 447.7 429 446.6Q420.1 445.5 410 443Q399.8 440.5 397.9 435.4Z" fill="#f7f6f2" stroke="#cdc9be" stroke-width="3" /><ellipse cx="467.7" cy="490.2" rx="5.7" ry="5.8" fill="#f2f0ea" stroke="#d0ccc0" stroke-width="1" /></g><rect x="384.6" y="423.2" width="126.80" height="72.00" fill="none" stroke="#555" stroke-width="1.1"/>
<g clip-path="url(#cG12)"><rect x="514.3" y="423.2" width="126.30" height="72.00" fill="#f4f3f4"/><rect x="508.29999999999995" y="417.2" width="138.30" height="84.00" fill="url(#nf)" filter="url(#wob2)" opacity="1"/><g filter="url(#hb)"><path d="M559.1 446.4Q559.2 450.6 559 454.6Q558.8 458.7 557.4 463.9Q556.1 469.2 553.5 465.5Q550.9 461.8 548.7 460.5Q546.5 459.1 545.5 454.8Q544.5 450.6 546.2 447.2Q547.9 443.9 548.9 438.9Q549.9 433.8 552.7 434.8Q555.4 435.7 557.2 439Q559 442.2 559.1 446.4Z" fill="#fff"/><path d="M560.9 446.2Q561.6 448.6 560.6 450.5Q559.6 452.3 559.1 454.5Q558.6 456.7 557.6 457.3Q556.5 457.8 555.5 456.2Q554.5 454.5 554.6 451.6Q554.7 448.6 555.2 446.8Q555.8 445.1 556 441.4Q556.3 437.7 557.4 439.3Q558.6 440.8 559.4 442.3Q560.1 443.9 560.9 446.2Z" fill="#fff"/><path d="M559.9 456.1Q560.2 458.9 559 460.5Q557.7 462.1 557.1 464.4Q556.6 466.8 554.9 467.1Q553.3 467.3 552.2 465.4Q551 463.5 550.6 461.2Q550.3 458.9 550.8 456.7Q551.3 454.5 552.4 452.9Q553.5 451.3 554.9 451.6Q556.4 452 558 452.7Q559.6 453.4 559.9 456.1Z" fill="#fff"/><path d="M566.7 461.7Q567.6 463.2 566.9 464.8Q566.2 466.4 565 468.5Q563.8 470.6 561.2 470.1Q558.6 469.7 557.8 467.7Q557.1 465.6 555.8 464.4Q554.6 463.2 554.8 461.3Q555 459.4 556.7 457.8Q558.4 456.2 560.8 456.7Q563.2 457.3 564.5 458.7Q565.8 460.2 566.7 461.7Z" fill="#fff"/><path d="M562.7 458.8Q562.8 459.6 562.2 460.2Q561.7 460.8 561.2 461.6Q560.7 462.4 559.4 462.6Q558 462.8 557.7 461.7Q557.4 460.6 556.5 460.1Q555.7 459.6 556 458.7Q556.2 457.9 557.4 457.8Q558.5 457.6 559.6 457.1Q560.7 456.7 561.7 457.3Q562.6 457.9 562.7 458.8Z" fill="#fff"/><path d="M565.3 466.2Q566.1 466.8 566.2 467.9Q566.3 469.1 564.9 469.2Q563.6 469.4 562.4 469.8Q561.2 470.2 560.4 469.4Q559.7 468.5 559.3 467.6Q558.9 466.8 559.2 465.9Q559.6 465 560.4 464.3Q561.3 463.6 562.7 463.2Q564.1 462.8 564.3 464.2Q564.5 465.5 565.3 466.2Z" fill="#fff"/><path d="M602 444.7Q601.9 447 601.5 448.9Q601.2 450.9 599.6 452.5Q598.1 454.1 596.4 452.2Q594.7 450.3 592.1 450.9Q589.6 451.5 588.5 449.2Q587.5 447 589.4 445.3Q591.3 443.7 592.6 442.5Q593.9 441.2 595.7 441.5Q597.5 441.7 599.8 442Q602.1 442.3 602 444.7Z" fill="#fff"/><path d="M600 450Q600 451 600.1 452.1Q600.1 453.3 598.6 453.2Q597.1 453.2 596.2 453.1Q595.4 453 593.6 453.2Q591.8 453.5 591.9 452.3Q591.9 451 592.5 450.2Q593.1 449.3 594.2 449Q595.2 448.7 596.3 448.6Q597.3 448.4 598.6 448.7Q599.9 449 600 450Z" fill="#fff"/><path d="M597.6 441.9Q597.8 442.9 597.9 444.2Q597.9 445.4 597 446.1Q596 446.7 594.9 446.8Q593.9 447 593.1 446.1Q592.3 445.2 592 444.1Q591.8 442.9 592.2 441.9Q592.6 440.9 593.3 440Q593.9 439.2 595.1 438.7Q596.3 438.2 596.8 439.6Q597.3 441 597.6 441.9Z" fill="#fff"/><path d="M628.4 467.7Q629 470 627.8 472Q626.7 473.9 624.3 474.7Q622 475.4 618.8 477.6Q615.7 479.8 614.4 476.8Q613.2 473.7 612.7 471.9Q612.2 470 611.3 467.4Q610.5 464.7 614 464.7Q617.5 464.6 620.2 463.5Q623 462.3 625.4 463.9Q627.8 465.4 628.4 467.7Z" fill="#fff"/><path d="M621.5 465.2Q623.5 466 623.1 467.6Q622.8 469.3 620.6 469.3Q618.4 469.3 616.7 470.1Q615 470.8 613.8 469.6Q612.6 468.4 612 467.2Q611.4 466 611.9 464.6Q612.4 463.3 613.7 462.3Q615 461.2 617.1 461Q619.1 460.8 619.4 462.6Q619.6 464.5 621.5 465.2Z" fill="#fff"/><path d="M620.4 472.3Q619.6 473.8 619.4 474.6Q619.2 475.4 618.5 476.2Q617.7 477 616.5 476.7Q615.4 476.4 614 476.2Q612.7 476 612.6 474.9Q612.5 473.8 612.6 472.7Q612.8 471.7 614.2 471.6Q615.5 471.6 616.5 471.4Q617.4 471.2 619.4 471.1Q621.3 470.9 620.4 472.3Z" fill="#fff"/><path d="M613.5 484Q614 486.6 613.9 489.6Q613.9 492.6 612.1 494.8Q610.3 497 607.9 496.2Q605.6 495.4 603.1 494.5Q600.6 493.6 602.1 490.1Q603.5 486.6 603 484Q602.5 481.4 603.5 477Q604.4 472.7 607.1 475.6Q609.7 478.4 611.4 479.9Q613 481.4 613.5 484Z" fill="#fff"/><path d="M612.1 478.9Q612.3 480.5 611.8 481.8Q611.3 483.2 610.5 484.1Q609.7 485 608.5 485.4Q607.3 485.9 606.7 484.4Q606.1 482.9 604.9 481.7Q603.6 480.5 604.6 479Q605.6 477.6 606.8 477.7Q607.9 477.9 609 476.2Q610 474.4 611 475.9Q611.9 477.3 612.1 478.9Z" fill="#fff"/><path d="M614.5 489.2Q615.1 490.6 614.8 492.4Q614.6 494.3 613.3 494.3Q612 494.3 611.2 494.4Q610.3 494.4 609.2 494.2Q608 494.1 607.8 492.3Q607.6 490.6 607.8 489Q608.1 487.4 609.2 486.7Q610.2 486.1 611.1 486.4Q612 486.7 613 487.2Q613.9 487.7 614.5 489.2Z" fill="#fff"/><path d="M587.6 485Q588 487.6 588.2 490.9Q588.4 494.2 586.3 493.8Q584.2 493.4 583.1 493.4Q582 493.5 580 493.8Q577.9 494.2 577.6 490.9Q577.3 487.6 578.4 485.4Q579.5 483.1 580.7 482.3Q582 481.5 583.4 480.1Q584.8 478.8 586 480.6Q587.3 482.5 587.6 485Z" fill="#fff"/><path d="M582.1 488.3Q582.2 489.6 582.1 491Q582 492.3 581.4 492.8Q580.8 493.4 580.1 494.2Q579.4 495.1 578.9 493.7Q578.5 492.2 578.8 490.9Q579 489.6 578.5 488Q578 486.3 578.8 485.7Q579.5 485.1 580.2 485.4Q580.8 485.7 581.4 486.4Q582 487 582.1 488.3Z" fill="#fff"/><path d="M582 485.5Q582.1 486.4 582.1 487.5Q582.2 488.6 581.7 490Q581.2 491.4 580.3 490.4Q579.4 489.4 578.9 488.8Q578.3 488.2 577.8 487.3Q577.3 486.4 577.8 485.5Q578.3 484.6 578.7 483.4Q579.1 482.2 580 482.5Q581 482.7 581.5 483.6Q582 484.5 582 485.5Z" fill="#fff"/><path d="M548.8 433Q549.1 434 549.2 435.2Q549.3 436.5 548.1 437.8Q546.9 439.1 544.9 438.4Q543 437.7 541.7 436.9Q540.4 436.2 539.8 435.1Q539.2 434 539.9 433Q540.6 431.9 541.5 430.6Q542.4 429.2 544.5 429.4Q546.6 429.6 547.6 430.7Q548.5 431.9 548.8 433Z" fill="#fff"/><path d="M546.8 430.6Q546.1 431.5 546.1 432Q546.1 432.6 545.6 433.3Q545.1 434.1 543.8 434Q542.6 433.9 541.7 433.4Q540.8 432.9 541.3 432.2Q541.8 431.5 541.2 430.7Q540.7 430 541.6 429.5Q542.6 429.1 543.7 429.3Q544.8 429.5 546.1 429.6Q547.5 429.7 546.8 430.6Z" fill="#fff"/><path d="M545.6 430.9Q545.4 431.6 545.7 432.3Q546.1 433 545.4 433.6Q544.6 434.2 543.4 434.1Q542.3 434 541.8 433.3Q541.3 432.6 540.7 432.1Q540.1 431.6 540.5 430.9Q540.9 430.3 541.7 430Q542.5 429.7 543.7 429.1Q544.8 428.5 545.3 429.4Q545.8 430.3 545.6 430.9Z" fill="#fff"/></g><path d="M511.8 437.6Q511.8 423.2 520.6 423.2Q529.5 423.2 530.7 430.4Q532 437.6 526.9 444.1Q521.9 450.6 516.8 451.3Q511.8 452 511.8 437.6Z" fill="#fbfbfb" stroke="#c4bca8" stroke-width="1.3" /><path d="M511.8 487.6Q511.8 476.5 520.6 477.9Q529.5 479.4 534.5 483.7Q539.6 488 538.3 493.4Q537 498.8 524.4 498.8Q511.8 498.8 511.8 487.6Z" fill="#e6e4de" stroke="none" stroke-width="0" /></g><rect x="514.3" y="423.2" width="126.30" height="72.00" fill="none" stroke="#555" stroke-width="1.1"/>
<g clip-path="url(#cH00)"><rect x="255.1" y="519.5" width="126.40" height="71.90" fill="#fafafb"/><rect x="249.1" y="513.5" width="138.40" height="83.90" fill="url(#ns)" filter="url(#wob2)" opacity="0.9"/><g filter="url(#hb)"><path d="M301.5 531.7Q302.1 534.2 303.2 537.9Q304.3 541.5 300.2 542Q296.1 542.6 292.7 543.5Q289.3 544.5 285.3 543.2Q281.3 541.8 283.3 538Q285.4 534.2 285.2 531.6Q285 529 286.9 525.8Q288.8 522.7 293 522.7Q297.3 522.6 299.1 525.9Q300.9 529.2 301.5 531.7Z" fill="#fff"/><path d="M303.6 528.1Q304.8 529.3 304 530.7Q303.2 532.1 301.3 532.7Q299.5 533.2 297.2 534.1Q294.9 535 293.7 533.4Q292.5 531.8 292.8 530.5Q293.1 529.3 292 527.6Q290.9 525.9 293 525Q295.1 524.1 297.3 524.6Q299.5 525.2 301 526Q302.4 526.9 303.6 528.1Z" fill="#fff"/><path d="M294.2 535.9Q295.3 537.9 293.2 539.2Q291.1 540.5 290.1 542Q289.1 543.5 286.9 544Q284.7 544.6 282.8 543.3Q280.9 541.9 281.2 539.9Q281.5 537.9 281.7 536.2Q281.9 534.5 283.3 532.7Q284.6 530.8 286.7 532.1Q288.7 533.3 290.9 533.6Q293.1 533.9 294.2 535.9Z" fill="#fff"/><path d="M303 557.7Q305.1 560.5 304.3 564.3Q303.5 568.1 300.5 570.5Q297.4 572.8 294.5 570Q291.6 567.2 287.9 567.5Q284.2 567.8 282.9 564.1Q281.6 560.5 284 557.7Q286.3 554.8 287.9 550.8Q289.5 546.8 292.9 549.1Q296.4 551.4 298.6 553.2Q300.8 555 303 557.7Z" fill="#fff"/><path d="M296.8 552.7Q297.9 554.1 297.6 555.9Q297.3 557.7 294.6 557.4Q291.9 557 290.4 557.4Q289 557.8 286.4 557.8Q283.9 557.7 283.8 555.9Q283.7 554.1 284.5 552.7Q285.3 551.2 287.1 550.6Q288.8 550.1 290.7 549.9Q292.5 549.8 294.1 550.6Q295.7 551.3 296.8 552.7Z" fill="#fff"/><path d="M299 565.9Q298 567.6 298.7 569.3Q299.4 570.9 297.9 572.1Q296.3 573.4 294.3 572.5Q292.3 571.7 289.6 571.7Q286.9 571.7 287.7 569.7Q288.5 567.6 289.3 566.5Q290.1 565.4 290.9 563.7Q291.6 561.9 293.9 562Q296.2 562 298.1 563.1Q300 564.1 299 565.9Z" fill="#fff"/><path d="M291.8 578.4Q295.4 579.9 294.3 582.9Q293.2 586 288.9 585.2Q284.7 584.3 282.1 586.4Q279.5 588.4 277.1 586.6Q274.7 584.8 273.9 582.3Q273.1 579.9 273.7 577.4Q274.4 574.8 277.1 573.6Q279.9 572.3 283 572Q286.2 571.7 287.1 574.2Q288.1 576.8 291.8 578.4Z" fill="#fff"/><path d="M294 579.6Q295 580.6 294.9 582.1Q294.8 583.5 292.6 583.6Q290.5 583.7 288.7 584.5Q286.9 585.4 286 584Q285.1 582.7 284.9 581.6Q284.8 580.6 283.8 578.9Q282.8 577.3 285.1 577Q287.4 576.7 289.1 576.8Q290.8 576.8 291.9 577.7Q293 578.6 294 579.6Z" fill="#fff"/><path d="M283.7 574.6Q284.4 575.9 283 576.7Q281.7 577.6 281 578.6Q280.4 579.6 278.9 580Q277.4 580.5 276.5 579.3Q275.5 578.1 275 577Q274.4 575.9 275 574.8Q275.6 573.6 276.6 572.8Q277.6 572.1 279 572.1Q280.4 572.2 281.7 572.8Q283 573.3 283.7 574.6Z" fill="#fff"/><path d="M344.4 539Q344.6 542.1 343.6 544.9Q342.7 547.6 340.4 550.3Q338.1 552.9 335.2 550Q332.3 547 328.7 547.4Q325.1 547.9 322.1 545Q319 542.1 322.9 539.8Q326.8 537.5 329 535.9Q331.2 534.4 334.1 534.2Q337.1 534.1 340.6 535Q344.1 535.8 344.4 539Z" fill="#fff"/><path d="M336.9 545.7Q337 547.7 336.7 549.5Q336.5 551.4 334.9 552Q333.3 552.7 332.1 552Q330.8 551.3 328.2 552Q325.6 552.8 325.8 550.2Q326 547.7 327.5 546.6Q329.1 545.4 329.7 543.8Q330.2 542.1 331.9 542.1Q333.5 542.2 335.2 543Q336.8 543.8 336.9 545.7Z" fill="#fff"/><path d="M334.4 537Q335.2 538.5 334.9 540.2Q334.6 542 332.4 542Q330.2 541.9 328.8 542.1Q327.3 542.3 325.5 542Q323.7 541.6 322.5 540.1Q321.4 538.5 322.6 537Q323.9 535.5 325.8 535.4Q327.6 535.4 329.2 534.5Q330.7 533.6 332.2 534.6Q333.7 535.5 334.4 537Z" fill="#fff"/><path d="M381.9 533.9Q383.8 536 381.9 538.2Q380.1 540.3 378 541.2Q376 542.1 373 544.7Q370.1 547.3 368.9 543.8Q367.8 540.3 367.7 538.1Q367.5 536 366.8 533.3Q366.1 530.6 368.6 529.3Q371.2 528.1 373.9 528Q376.7 527.9 378.3 529.9Q380 531.8 381.9 533.9Z" fill="#fff"/><path d="M376.8 529.4Q376.9 531 376.6 532.3Q376.3 533.6 375.4 534.5Q374.5 535.5 373.5 534.4Q372.6 533.4 371.2 533.7Q369.8 533.9 369.4 532.4Q369 531 369.7 529.8Q370.5 528.6 371.3 527.8Q372.2 527 373.1 527.4Q374.1 527.8 375.4 527.9Q376.8 527.9 376.8 529.4Z" fill="#fff"/><path d="M378 529.6Q378 530.9 377.7 532Q377.3 533.1 376.3 533.9Q375.2 534.7 374.1 533.9Q373 533 371.3 533.2Q369.7 533.4 369.2 532.2Q368.7 530.9 369.6 529.9Q370.5 528.9 371.5 528.2Q372.5 527.5 373.6 527.9Q374.8 528.3 376.3 528.3Q377.9 528.3 378 529.6Z" fill="#fff"/><path d="M382 565.6Q381.4 569.8 380.7 572.7Q379.9 575.6 378.2 578Q376.5 580.4 373.6 581.7Q370.7 583.1 368.8 579.8Q366.9 576.6 367.2 573.2Q367.5 569.8 366.6 565.8Q365.6 561.8 368.6 561Q371.5 560.1 374 559.8Q376.4 559.5 379.5 560.5Q382.6 561.5 382 565.6Z" fill="#fff"/><path d="M382.4 572.3Q382.6 574.6 381.6 576.1Q380.5 577.5 379.9 579.5Q379.4 581.5 377.7 582.6Q376 583.7 375.5 580.8Q375 577.9 374.4 576.3Q373.7 574.6 373.7 572.3Q373.7 570 375.2 569.4Q376.7 568.8 378 568.3Q379.4 567.9 380.8 568.9Q382.2 569.9 382.4 572.3Z" fill="#fff"/><path d="M382.2 562.6Q382.8 564.3 382.4 566.2Q381.9 568 380.6 569.2Q379.2 570.4 377.7 569.4Q376.2 568.4 374.5 568.2Q372.9 568 371.9 566.1Q370.9 564.3 372.2 562.8Q373.5 561.2 374.6 560Q375.8 558.8 377.3 558.9Q378.9 559 380.3 560Q381.7 560.9 382.2 562.6Z" fill="#fff"/><path d="M330.6 576.1Q333.6 578.8 329.3 580.7Q325 582.5 323.7 584.7Q322.4 586.9 319.4 587.4Q316.4 587.9 313.5 586.4Q310.6 584.9 309.5 581.9Q308.5 578.8 311 576.8Q313.5 574.7 314.8 571.6Q316 568.5 319 570.1Q322 571.8 324.8 572.5Q327.6 573.3 330.6 576.1Z" fill="#fff"/><path d="M330.5 579.6Q331.5 580.7 330.2 581.6Q328.9 582.6 328.3 584.1Q327.6 585.6 325.5 585.5Q323.4 585.5 322 584.4Q320.6 583.3 320.2 582Q319.7 580.7 321.3 580Q322.8 579.2 322.9 577.2Q323.1 575.2 325.4 575.4Q327.7 575.6 328.6 577.1Q329.5 578.5 330.5 579.6Z" fill="#fff"/><path d="M329.5 572.8Q329.3 574.6 328.1 575.6Q327 576.5 326.4 578.2Q325.9 579.9 323.9 580Q321.9 580 320.4 578.9Q318.8 577.9 319.3 576.2Q319.9 574.6 319.8 573.3Q319.8 572 320.8 570.5Q321.8 569 323.6 569.8Q325.5 570.6 327.5 570.8Q329.6 571.1 329.5 572.8Z" fill="#fff"/></g><ellipse cx="268.4" cy="556.9" rx="4.4" ry="7.9" fill="#fcfcfd" stroke="#bcc0e0" stroke-width="1.3" /><path d="M344.2 564.8Q342.3 561.2 345.5 559.4Q348.6 557.6 352.4 560.1Q356.2 562.6 358.1 567.7Q360 572.7 356.9 573.4Q353.7 574.1 349.9 571.3Q346.1 568.4 344.2 564.8Z" fill="#fcfcfd" stroke="#bcc0e0" stroke-width="1.3" /></g><rect x="255.1" y="519.5" width="126.40" height="71.90" fill="none" stroke="#555" stroke-width="1.1"/>
<g clip-path="url(#cH01)"><rect x="384.6" y="519.5" width="126.80" height="71.90" fill="#eeebe6"/><rect x="378.6" y="513.5" width="138.80" height="83.90" fill="url(#nf)" filter="url(#wob2)" opacity="1"/><rect x="384.6" y="519.5" width="126.80" height="71.90" fill="url(#bd)" opacity="0.85"/><g filter="url(#hb)"><path d="M427.6 539.3Q428.4 540.7 427.2 541.9Q426 543.1 425.3 545.2Q424.6 547.4 422.3 546.5Q420 545.7 419 544.4Q417.9 543.1 415.9 541.9Q413.9 540.7 416 539.5Q418.1 538.4 419 536.9Q419.9 535.4 422.1 535.1Q424.4 534.8 425.6 536.3Q426.9 537.8 427.6 539.3Z" fill="#fff"/><path d="M429.6 539.7Q429.9 540.6 429.9 541.8Q429.8 542.9 428.4 543Q427.1 543.1 426 543.5Q424.9 543.8 424.3 543Q423.7 542.1 422.9 541.4Q422.2 540.6 422 539.3Q421.7 537.9 423.5 538.2Q425.3 538.6 426.2 538.2Q427.2 537.8 428.2 538.2Q429.2 538.7 429.6 539.7Z" fill="#fff"/><path d="M429.1 539.1Q429.1 540.2 428.9 541.1Q428.8 542 428 542.8Q427.2 543.6 426.2 543.2Q425.1 542.9 423.8 542.8Q422.4 542.7 422.9 541.4Q423.3 540.2 423.5 539.4Q423.8 538.6 424.2 537.4Q424.7 536.2 425.8 536.7Q427 537.3 428 537.7Q429 538.1 429.1 539.1Z" fill="#fff"/><path d="M437.1 565.8Q437 568.4 436 570.1Q435 571.8 434.1 574Q433.1 576.3 430.8 576.4Q428.5 576.5 427.2 574.5Q425.9 572.5 426 570.4Q426.1 568.4 425.4 565.8Q424.6 563.3 426.7 562Q428.7 560.8 430.6 561.8Q432.5 562.9 434.9 563Q437.3 563.1 437.1 565.8Z" fill="#fff"/><path d="M436.9 564.7Q437.5 565.7 437.2 566.9Q436.9 568.1 436.2 569.3Q435.5 570.4 434.3 569.9Q433.2 569.4 432.3 568.8Q431.4 568.2 430.9 567Q430.5 565.7 431.4 564.9Q432.4 564.1 432.6 562.4Q432.9 560.7 434.2 560.8Q435.5 560.9 435.9 562.3Q436.4 563.8 436.9 564.7Z" fill="#fff"/><path d="M438.1 566.7Q438.7 567.5 438.8 568.7Q438.8 569.9 437.6 570.6Q436.4 571.4 435.3 570.4Q434.1 569.5 433 569.4Q431.9 569.3 431 568.4Q430.2 567.5 431 566.6Q431.9 565.6 432.7 564.7Q433.4 563.7 434.7 564.1Q436.1 564.5 436.7 565.2Q437.4 565.9 438.1 566.7Z" fill="#fff"/><path d="M467.9 556Q467.4 558 467.5 559.7Q467.6 561.4 466.3 562.5Q464.9 563.5 462.9 564.6Q460.9 565.6 460 563.4Q459.1 561.2 458.7 559.6Q458.4 558 458.3 556Q458.1 554.1 460 553.8Q461.9 553.5 463.7 552Q465.5 550.4 466.9 552.2Q468.4 554 467.9 556Z" fill="#fff"/><path d="M468.3 559.5Q468.6 560.5 468.7 561.9Q468.7 563.2 467.6 563.1Q466.5 563 465.9 563Q465.3 563 464.5 562.8Q463.7 562.7 463.3 561.6Q462.8 560.5 463.2 559.3Q463.6 558.2 464.5 558.2Q465.4 558.2 466 557.7Q466.7 557.2 467.3 557.9Q467.9 558.6 468.3 559.5Z" fill="#fff"/><path d="M464 554.4Q463.9 555.6 463.4 556.3Q462.9 557.1 462 557.3Q461.2 557.6 460.1 558.3Q459.1 559 458 558.4Q456.8 557.8 457.3 556.7Q457.8 555.6 457.6 554.6Q457.3 553.7 458.4 553.4Q459.5 553.2 460.5 553Q461.4 552.9 462.7 553.1Q464.1 553.3 464 554.4Z" fill="#fff"/><path d="M510.1 537.9Q509.8 540.4 508.9 542Q508 543.6 507.2 546.7Q506.4 549.7 503.8 548Q501.1 546.4 499 545.4Q497 544.5 495.6 542.4Q494.2 540.4 496.3 538.7Q498.4 537.1 499.5 535.1Q500.6 533 503.1 533Q505.7 533 508.1 534.2Q510.4 535.4 510.1 537.9Z" fill="#fff"/><path d="M510.2 542.7Q511.4 543.7 510.5 544.9Q509.5 546.1 508.6 546.6Q507.6 547.2 506.6 547.1Q505.6 547 504.4 546.7Q503.1 546.5 503 545.1Q502.8 543.7 503.5 542.7Q504.2 541.7 504.7 540.1Q505.1 538.5 506.3 539.6Q507.5 540.6 508.2 541.1Q508.9 541.7 510.2 542.7Z" fill="#fff"/><path d="M511.5 538.2Q511.6 539.3 511.1 540.2Q510.6 541 510.1 542.4Q509.6 543.8 508.2 543.1Q506.9 542.4 505.8 541.9Q504.8 541.4 504.1 540.4Q503.4 539.3 504.5 538.5Q505.6 537.7 506.1 536.6Q506.6 535.5 507.9 535.6Q509.3 535.7 510.3 536.4Q511.4 537.1 511.5 538.2Z" fill="#fff"/><path d="M490.6 581.4Q491.3 583.1 490.1 584.4Q488.8 585.8 487.7 586.5Q486.6 587.2 485.1 588.2Q483.5 589.3 482.5 587.7Q481.6 586.1 481.1 584.6Q480.6 583.1 480.7 581.3Q480.7 579.5 482.4 579.2Q484.1 578.9 485.4 578.8Q486.8 578.7 488.4 579.1Q490 579.6 490.6 581.4Z" fill="#fff"/><path d="M485.2 581.9Q485.8 582.5 485.2 583.2Q484.5 583.8 484 584.5Q483.4 585.3 482.5 584.9Q481.5 584.5 481.1 584Q480.7 583.5 479.9 583Q479.1 582.5 479.3 581.7Q479.5 580.9 480.4 580.4Q481.3 579.9 482.1 580.5Q482.9 581.1 483.7 581.2Q484.5 581.3 485.2 581.9Z" fill="#fff"/><path d="M490.6 584.2Q491.1 584.9 491.2 585.9Q491.3 587 490.1 587.1Q488.9 587.2 488 587.3Q487.2 587.5 486.6 586.9Q485.9 586.3 485.8 585.6Q485.7 584.9 485.2 583.7Q484.8 582.6 486 582.3Q487.1 582.1 488 582.4Q488.8 582.7 489.5 583.1Q490.1 583.5 490.6 584.2Z" fill="#fff"/><path d="M395.4 562.2Q395.4 563.4 395.5 564.5Q395.6 565.7 394.8 567.1Q394 568.5 392.5 567.6Q391.1 566.7 390.1 566.1Q389.2 565.4 388.4 564.4Q387.5 563.4 388.4 562.4Q389.4 561.4 390.1 560.3Q390.8 559.3 392.3 559Q393.8 558.8 394.6 559.9Q395.5 561.1 395.4 562.2Z" fill="#fff"/><path d="M392.6 565.2Q393 565.6 393.1 566.3Q393.2 567 392.4 567.2Q391.6 567.3 391 567.1Q390.5 566.9 389.8 566.8Q389.1 566.7 389.2 566.2Q389.2 565.6 389.1 565Q389 564.4 389.5 563.8Q390.1 563.3 390.8 563.8Q391.4 564.3 391.8 564.5Q392.3 564.8 392.6 565.2Z" fill="#fff"/><path d="M392.9 564.7Q393.3 565.3 393.1 566.1Q392.9 566.8 392.1 567.1Q391.3 567.4 390.5 567.5Q389.7 567.7 389.4 566.9Q389.1 566.2 388.3 565.8Q387.4 565.3 387.6 564.5Q387.9 563.7 388.9 563.7Q390 563.8 390.7 563.4Q391.4 563 391.9 563.6Q392.5 564.1 392.9 564.7Z" fill="#fff"/><path d="M447.9 533.7Q447.9 535.7 447.4 537.1Q446.9 538.5 446.4 540.7Q445.8 542.9 444.4 541.8Q443.1 540.7 441.7 540.2Q440.4 539.6 440 537.7Q439.5 535.7 440.8 534.5Q442 533.4 442.4 531.3Q442.7 529.2 444.2 529.3Q445.6 529.3 446.8 530.5Q448 531.7 447.9 533.7Z" fill="#fff"/><path d="M443.7 535.8Q443.2 536.9 443.6 538Q444 539.1 443.2 539.5Q442.4 540 441.6 540.1Q440.8 540.3 440.2 539.6Q439.6 538.9 439.4 537.9Q439.2 536.9 439.3 535.9Q439.5 534.8 440.3 534.9Q441.2 535 442 533.9Q442.7 532.7 443.4 533.7Q444.1 534.6 443.7 535.8Z" fill="#fff"/><path d="M446.3 538.1Q446 539.5 445.8 540.1Q445.6 540.8 445.3 541.8Q445.1 542.8 444.5 543.1Q443.8 543.5 443.4 542.5Q443 541.4 443.1 540.5Q443.2 539.5 443.1 538.4Q442.9 537.3 443.5 537Q444 536.7 444.6 536.6Q445.1 536.4 445.8 536.6Q446.6 536.8 446.3 538.1Z" fill="#fff"/></g></g><rect x="384.6" y="519.5" width="126.80" height="71.90" fill="none" stroke="#555" stroke-width="1.1"/>
<g clip-path="url(#cH02)"><rect x="514.3" y="519.5" width="126.30" height="71.90" fill="#fafafb"/><rect x="508.29999999999995" y="513.5" width="138.30" height="83.90" fill="url(#nm)" filter="url(#wob2)" opacity="1"/><rect x="514.3" y="519.5" width="126.30" height="71.90" fill="url(#bd)" opacity="0.5"/><g filter="url(#hb)"><path d="M535.4 530.7Q537.1 532.4 537.3 535.2Q537.4 537.9 534.4 539.7Q531.4 541.5 527.8 541Q524.2 540.4 523.2 537.9Q522.2 535.4 518.9 533.9Q515.5 532.4 516.8 529.8Q518.1 527.2 521.2 526.1Q524.3 524.9 527.9 524Q531.5 523.2 532.6 526.1Q533.7 529 535.4 530.7Z" fill="#fff"/><path d="M528.5 527.3Q529.3 528.4 529.2 529.9Q529.2 531.4 526.9 531.2Q524.6 531 523.2 531.4Q521.8 531.7 519.6 531.6Q517.5 531.4 518.4 529.9Q519.2 528.4 518.6 527.1Q518 525.8 519.8 525.1Q521.5 524.5 523.1 525.1Q524.7 525.6 526.3 525.9Q527.8 526.2 528.5 527.3Z" fill="#fff"/><path d="M530.6 535.9Q531.5 537.3 531.4 539.2Q531.2 541.1 529 541.1Q526.9 541.1 525.4 541.5Q523.9 542 522.3 541.2Q520.8 540.5 520.9 538.9Q520.9 537.3 520.3 535.4Q519.7 533.4 521.8 532.9Q523.8 532.4 525.3 533Q526.9 533.5 528.3 534Q529.7 534.5 530.6 535.9Z" fill="#fff"/><path d="M550.4 539.7Q550.7 541.4 550.2 543Q549.6 544.6 548.3 546.5Q546.9 548.5 544 548.4Q541.1 548.4 540.7 546Q540.3 543.5 537.9 542.5Q535.6 541.4 536.2 539.4Q536.7 537.3 539.3 536.9Q541.9 536.5 544.4 535.6Q546.8 534.6 548.5 536.3Q550.1 538 550.4 539.7Z" fill="#fff"/><path d="M546.2 544.3Q547.5 544.9 546.6 545.8Q545.8 546.7 544.4 546.8Q543 547 541.7 547.6Q540.3 548.3 539.8 547.3Q539.2 546.2 538.6 545.6Q537.9 544.9 537.7 543.9Q537.5 542.8 539.1 542.6Q540.7 542.4 542 542.5Q543.3 542.5 544.1 543Q544.9 543.6 546.2 544.3Z" fill="#fff"/><path d="M549.6 544.1Q550.3 544.8 549.9 545.8Q549.5 546.8 548.3 546.8Q547 546.9 546.1 547.3Q545.1 547.6 543.8 547.3Q542.6 546.9 542.3 545.9Q541.9 544.8 542.9 544.2Q543.8 543.5 544.5 542.9Q545.2 542.4 546.4 541.9Q547.6 541.4 548.3 542.4Q548.9 543.3 549.6 544.1Z" fill="#fff"/><path d="M525.2 558.7Q525.1 561.9 525.1 565Q525.2 568.1 523.9 571.7Q522.7 575.3 520.5 572.6Q518.4 570 516.6 569Q514.8 568 514.3 565Q513.8 561.9 514.5 559Q515.1 556.2 516.3 553Q517.6 549.8 519.7 551.1Q521.9 552.4 523.6 554Q525.3 555.6 525.2 558.7Z" fill="#fff"/><path d="M524.1 566.3Q524.3 568.5 523.5 570Q522.7 571.5 522.1 573Q521.5 574.4 520.2 575.1Q519 575.7 518.3 573.8Q517.6 571.9 516.9 570.2Q516.2 568.5 516.7 566.6Q517.3 564.7 518.4 564.2Q519.5 563.8 520.5 562.9Q521.6 562 522.8 563.1Q523.9 564.1 524.1 566.3Z" fill="#fff"/><path d="M525 554.6Q524.7 556.2 525.2 558.1Q525.6 559.9 524.6 561.4Q523.6 562.8 522.2 562.3Q520.8 561.7 520.1 560.4Q519.4 559.1 519.2 557.6Q519.1 556.2 518.6 554.2Q518.2 552.2 519.5 551.3Q520.8 550.4 522 550.6Q523.3 550.9 524.3 551.9Q525.3 552.9 525 554.6Z" fill="#fff"/><path d="M593.6 558.4Q594.2 560.1 593.2 561.6Q592.2 563.2 590.9 565.2Q589.6 567.3 586.8 566.1Q584.1 565 581.2 564.6Q578.4 564.2 577.7 562.1Q577 560.1 579.6 559.1Q582.2 558 582.6 555.5Q583 553 586.1 553.3Q589.2 553.7 591.1 555.2Q593 556.6 593.6 558.4Z" fill="#fff"/><path d="M591.6 562.8Q591.6 563.8 590.7 564.4Q589.9 565 589.3 565.7Q588.8 566.5 587.4 566.8Q586.1 567.1 584.7 566.6Q583.3 566 584.2 564.9Q585.1 563.8 585 563.1Q584.8 562.4 585.4 561.4Q586 560.4 587.3 560.9Q588.7 561.5 590.1 561.7Q591.5 561.8 591.6 562.8Z" fill="#fff"/><path d="M590.3 555.1Q590.9 556.3 589.9 557.3Q589 558.2 588.1 559Q587.3 559.8 585.9 560.1Q584.6 560.4 584 559.2Q583.4 558.1 582.2 557.2Q581.1 556.3 581.6 555Q582.2 553.8 583.6 553.6Q585 553.4 586.1 553.1Q587.3 552.8 588.5 553.4Q589.6 553.9 590.3 555.1Z" fill="#fff"/><path d="M554 572Q556.2 573.4 555.7 575.9Q555.2 578.4 552.6 579.8Q550.1 581.2 547.6 580Q545.1 578.7 543.3 577.8Q541.4 577 538.4 575.2Q535.5 573.4 538.5 571.7Q541.5 570 542.9 568.1Q544.4 566.2 547.3 565.8Q550.2 565.4 551 568Q551.8 570.6 554 572Z" fill="#fff"/><path d="M551.6 576.7Q552 578 551.2 579Q550.3 580 549.4 580.7Q548.5 581.3 547.3 581.2Q546.1 581.2 545 580.7Q543.8 580.3 543.8 579.1Q543.7 578 543.5 576.7Q543.2 575.3 544.6 574.9Q546 574.4 547 575.3Q548 576.1 549.6 575.8Q551.2 575.4 551.6 576.7Z" fill="#fff"/><path d="M550 576.6Q550.6 577.7 549 578.2Q547.4 578.8 547.2 580.1Q546.9 581.5 545 581.6Q543 581.8 541.9 580.8Q540.7 579.8 540.8 578.7Q540.8 577.7 541.4 576.9Q541.9 576.1 542.4 574.7Q542.9 573.3 544.8 573.9Q546.6 574.4 548 575Q549.5 575.5 550 576.6Z" fill="#fff"/><path d="M632.3 560.9Q632.8 563.7 632.3 566.5Q631.8 569.3 629.5 570.6Q627.2 571.9 624.9 571.8Q622.5 571.6 621.1 569.7Q619.7 567.7 618.6 565.7Q617.4 563.7 616.5 560Q615.6 556.4 619.2 556.6Q622.8 556.8 624.6 557.4Q626.5 558 629.2 558Q631.9 558.1 632.3 560.9Z" fill="#fff"/><path d="M631.5 558.8Q632 560 631.7 561.3Q631.4 562.7 630.4 563.3Q629.4 564 628.2 564.7Q627 565.3 626.3 563.9Q625.5 562.5 624.9 561.3Q624.3 560 625.1 558.9Q625.9 557.8 626.6 557Q627.4 556.2 628.7 555Q630 553.9 630.5 555.8Q631 557.7 631.5 558.8Z" fill="#fff"/><path d="M625.2 558.5Q624.7 560 624.7 561.2Q624.7 562.3 624 564Q623.2 565.6 621.7 564.4Q620.1 563.1 618.6 562.9Q617.1 562.7 616.6 561.4Q616.2 560 617.2 559Q618.1 557.9 618.9 556.7Q619.7 555.5 621.2 555.6Q622.8 555.7 624.3 556.4Q625.8 557 625.2 558.5Z" fill="#fff"/><path d="M640.7 577.6Q640.6 581.3 639.9 584.3Q639.2 587.3 637.7 590.8Q636.2 594.4 633.3 593.4Q630.3 592.4 628.5 589.9Q626.7 587.5 626.2 584.4Q625.7 581.3 625.5 577.6Q625.3 573.9 627.7 571.7Q630.1 569.5 632.7 570.7Q635.3 572 638.1 572.9Q640.8 573.8 640.7 577.6Z" fill="#fff"/><path d="M633.8 574.1Q634.7 576 634.4 578.5Q634 580.9 632.3 581.3Q630.7 581.6 629.4 581.9Q628 582.3 626.7 581.3Q625.4 580.3 625.3 578.1Q625.2 576 625 573.5Q624.8 571 626.3 569.9Q627.9 568.9 629.2 569.8Q630.6 570.7 631.8 571.5Q632.9 572.2 633.8 574.1Z" fill="#fff"/><path d="M637.5 572.4Q638.2 574.2 636.9 575.3Q635.6 576.5 635 578Q634.4 579.5 632.9 580.3Q631.4 581 630.7 579Q630.1 577 629.3 575.6Q628.4 574.2 629.1 572.6Q629.7 571 630.8 570.1Q631.8 569.1 633.2 568.8Q634.5 568.5 635.6 569.6Q636.8 570.7 637.5 572.4Z" fill="#fff"/><path d="M583.4 529.9Q583.9 531.4 583.8 533Q583.7 534.7 582.1 535.1Q580.6 535.5 579.1 536.2Q577.7 536.9 576.1 536Q574.6 535 574.7 533.2Q574.9 531.4 575.5 530.1Q576.1 528.8 576.9 527.6Q577.8 526.3 579.5 525.7Q581.3 525 582.1 526.8Q583 528.5 583.4 529.9Z" fill="#fff"/><path d="M580 528Q580.8 528.7 580.2 529.6Q579.6 530.5 578.7 530.3Q577.8 530.1 577.2 531.1Q576.5 532.1 575.8 531.3Q575.1 530.6 575.1 529.7Q575.1 528.7 575.2 527.9Q575.4 527 576.1 526.6Q576.7 526.2 577.5 526Q578.2 525.9 578.7 526.6Q579.1 527.3 580 528Z" fill="#fff"/><path d="M578.4 529.7Q578.9 530.4 579.1 531.8Q579.2 533.1 578.1 533.1Q577 533.1 576.4 532.9Q575.7 532.8 575 532.6Q574.2 532.4 573.8 531.4Q573.3 530.4 573.8 529.5Q574.4 528.6 575 528.1Q575.6 527.6 576.4 527.2Q577.3 526.8 577.5 527.9Q577.8 529.1 578.4 529.7Z" fill="#fff"/></g><ellipse cx="558.5" cy="564.8" rx="6.9" ry="6.5" fill="#fcfcfd" stroke="#b0b4d8" stroke-width="1.6" /><ellipse cx="569.9" cy="578.5" rx="6.9" ry="5.4" fill="#fcfcfd" stroke="#b0b4d8" stroke-width="1.6" /></g><rect x="514.3" y="519.5" width="126.30" height="71.90" fill="none" stroke="#555" stroke-width="1.1"/>
<g clip-path="url(#cH10)"><rect x="255.1" y="595.3" width="126.40" height="71.80" fill="#fafafb"/><rect x="249.1" y="589.3" width="138.40" height="83.80" fill="url(#ns)" filter="url(#wob2)" opacity="0.9"/><rect x="255.1" y="595.3" width="126.40" height="71.80" fill="url(#bd)" opacity="0.35"/><g filter="url(#hb)"><path d="M307.3 617Q309.6 623.7 305.8 628.8Q301.9 633.9 298.7 636.9Q295.6 640 291.8 639.9Q288 639.9 281.9 639.8Q275.9 639.8 277.5 631.7Q279.2 623.7 280.4 618.6Q281.7 613.5 284 606.9Q286.3 600.3 290.4 606Q294.5 611.7 299.7 611Q305 610.3 307.3 617Z" fill="#fff"/><path d="M306.1 628.5Q306.4 632.6 305 635.7Q303.6 638.7 302.2 642.1Q300.9 645.6 298.6 643.2Q296.3 640.8 294.5 639.6Q292.8 638.4 291.3 635.5Q289.9 632.6 290 628.3Q290 623.9 292.9 623Q295.8 622.1 297.5 624.7Q299.2 627.3 302.5 625.8Q305.7 624.3 306.1 628.5Z" fill="#fff"/><path d="M307.4 626.2Q309.5 628.1 309.5 631.7Q309.5 635.3 305.9 635.1Q302.3 635 300 635.6Q297.7 636.1 295.7 634.6Q293.7 633.1 292.2 630.6Q290.7 628.1 291.5 625.1Q292.2 622 295 621.2Q297.8 620.4 300.4 619.7Q303 619 304.2 621.6Q305.3 624.2 307.4 626.2Z" fill="#fff"/><path d="M273.2 649.2Q274.2 652.7 273.1 656.2Q272 659.6 270.4 664.6Q268.8 669.6 265.1 667.5Q261.4 665.4 259.4 662.4Q257.4 659.5 254.4 656.1Q251.3 652.7 255 650Q258.7 647.2 259.9 643.1Q261.1 639 265 637.5Q268.8 636 270.5 640.8Q272.1 645.7 273.2 649.2Z" fill="#fff"/><path d="M265.2 658.1Q265.9 660.2 265.9 663.1Q266 666 264.2 666.1Q262.3 666.2 260.8 668.1Q259.2 670 257.8 667.9Q256.4 665.8 257.2 663Q257.9 660.2 257.4 657.6Q256.8 655 258.1 653.1Q259.4 651.3 261.2 651.2Q262.9 651.2 263.8 653.6Q264.6 656.1 265.2 658.1Z" fill="#fff"/><path d="M276 652Q277.8 653.6 277 656.2Q276.1 658.8 274.4 659.2Q272.6 659.6 271.2 660.1Q269.7 660.7 268.6 659.2Q267.5 657.7 266.2 655.6Q265 653.6 266.1 651.4Q267.2 649.2 268.5 647.8Q269.7 646.3 271.3 646.1Q273 645.9 273.6 648.2Q274.2 650.5 276 652Z" fill="#fff"/><path d="M341.4 623.4Q341.1 625.5 342.3 628.2Q343.5 630.9 340.3 630.8Q337.2 630.7 335.1 631.5Q333 632.2 330.1 631.6Q327.2 631 327.8 628.2Q328.5 625.5 329.1 623.6Q329.8 621.7 331.5 620.6Q333.3 619.5 335.9 617.9Q338.5 616.4 340.1 618.8Q341.6 621.2 341.4 623.4Z" fill="#fff"/><path d="M342.2 621.1Q342.6 622.1 342 623Q341.5 624 340.6 624.6Q339.8 625.3 338.7 625.3Q337.6 625.2 336.7 624.7Q335.8 624.1 336 623.1Q336.1 622.1 335.7 620.9Q335.2 619.7 336.3 618.9Q337.4 618.2 338.4 619.2Q339.4 620.2 340.5 620.1Q341.7 620 342.2 621.1Z" fill="#fff"/><path d="M341.5 628.3Q341.5 629.7 340.4 630.4Q339.4 631.1 338.9 631.9Q338.3 632.7 337 633.1Q335.7 633.5 334.5 632.9Q333.2 632.2 333.4 630.9Q333.6 629.7 333.9 628.8Q334.2 627.8 335.1 627.2Q336 626.6 337.2 626.7Q338.3 626.7 340 626.8Q341.6 626.9 341.5 628.3Z" fill="#fff"/><path d="M311.9 655.6Q312.1 658.8 311.3 661.8Q310.5 664.7 307.3 665.5Q304 666.3 301 666.8Q298 667.4 295.2 665.9Q292.4 664.5 291.4 661.6Q290.4 658.8 290.4 655.4Q290.4 652 294.6 652.2Q298.8 652.4 301.4 651.8Q304.1 651.3 307.8 651.8Q311.6 652.3 311.9 655.6Z" fill="#fff"/><path d="M301.8 652.7Q302.2 653.8 302.9 655.7Q303.6 657.5 301.3 657.5Q299.1 657.4 297.8 657.3Q296.5 657.2 294.8 657Q293.2 656.7 292.8 655.3Q292.4 653.8 292.8 652.4Q293.2 651 294.8 650.6Q296.4 650.2 297.9 649.7Q299.5 649.2 300.5 650.4Q301.4 651.5 301.8 652.7Z" fill="#fff"/><path d="M309.8 651.4Q311.5 653.1 309.2 654.4Q307 655.8 305.4 656Q303.8 656.2 301.9 658.1Q300 660 298.4 658.4Q296.8 656.7 296.7 654.9Q296.5 653.1 296.9 651.4Q297.2 649.8 299 649.1Q300.8 648.4 302.7 648.3Q304.5 648.2 306.3 649Q308.1 649.7 309.8 651.4Z" fill="#fff"/><path d="M364.9 621.6Q363.9 624 365.6 627Q367.3 630.1 365.2 632.4Q363.1 634.8 360.8 631.9Q358.6 629 356.7 628.7Q354.7 628.4 353.9 626.2Q353.2 624 353.4 621.3Q353.6 618.7 355.6 617.2Q357.7 615.8 359.9 616Q362.2 616.3 364 617.7Q365.9 619.1 364.9 621.6Z" fill="#fff"/><path d="M359.6 622.1Q360.8 623.1 359.9 624.2Q359.1 625.4 358 626.1Q356.9 626.8 355.5 627.1Q354.1 627.4 353.7 626.1Q353.2 624.7 352.2 623.9Q351.2 623.1 351.3 621.7Q351.5 620.2 352.9 619.7Q354.3 619.2 355.6 619.4Q356.8 619.6 357.6 620.4Q358.4 621.1 359.6 622.1Z" fill="#fff"/><path d="M359.6 624.9Q358.5 626.5 359.3 627.9Q360 629.2 358.8 629.9Q357.5 630.7 356.3 630.3Q355 629.9 353.5 629.6Q352 629.4 351.9 627.9Q351.9 626.5 352.3 625.3Q352.7 624.1 353.9 623.9Q355.2 623.7 356.4 622.7Q357.7 621.8 359.2 622.5Q360.7 623.3 359.6 624.9Z" fill="#fff"/><path d="M330.6 643.6Q331.8 645.6 332 648.7Q332.3 651.9 329.4 652Q326.5 652 324.6 652Q322.8 652 320.4 651.5Q318 651 318.3 648.3Q318.6 645.6 318.4 642.9Q318.2 640.2 320.2 638.5Q322.1 636.8 324.3 637.8Q326.5 638.9 327.9 640.3Q329.4 641.6 330.6 643.6Z" fill="#fff"/><path d="M326.7 649.3Q327.3 650.5 326.5 651.6Q325.6 652.6 325.2 654Q324.7 655.3 323.5 655.9Q322.3 656.6 321.6 655Q321 653.3 321 651.9Q321 650.5 321.1 649.3Q321.2 648.1 321.8 646.4Q322.3 644.7 323.5 645.3Q324.7 645.9 325.4 646.9Q326.1 648 326.7 649.3Z" fill="#fff"/><path d="M324.6 643.6Q325.1 645.1 324.1 646.1Q323.1 647.2 322.3 648.4Q321.6 649.5 320.4 648.8Q319.2 648.2 318.1 647.8Q317 647.5 315.9 646.3Q314.8 645.1 315.8 643.8Q316.8 642.5 317.9 642Q319.1 641.5 320.1 641.7Q321.1 642 322.6 642.1Q324.1 642.1 324.6 643.6Z" fill="#fff"/></g><path d="M372.7 670.7Q361.3 670.7 361.3 661.7Q361.3 652.7 365.1 649.1Q368.9 645.6 376.4 644.1Q384 642.7 384 656.7Q384 670.7 372.7 670.7Z" fill="#fbfbfc" stroke="#bcc0e0" stroke-width="1.3" /></g><rect x="255.1" y="595.3" width="126.40" height="71.80" fill="none" stroke="#555" stroke-width="1.1"/>
<g clip-path="url(#cH11)"><rect x="384.6" y="595.3" width="126.80" height="71.80" fill="#fafafb"/><rect x="378.6" y="589.3" width="138.80" height="83.80" fill="url(#ns)" filter="url(#wob2)" opacity="0.95"/><rect x="384.6" y="595.3" width="126.80" height="71.80" fill="url(#bd)" opacity="0.5"/><g filter="url(#hb)"><path d="M441.1 614.9Q442.9 619 439.8 621.7Q436.7 624.4 435.7 628.8Q434.7 633.2 431 635.4Q427.4 637.5 425.2 632.7Q423 628 423.3 623.5Q423.7 619 424.5 615.7Q425.3 612.4 426.4 606.7Q427.5 601 431.1 602.8Q434.7 604.7 437.1 607.7Q439.4 610.7 441.1 614.9Z" fill="#fff"/><path d="M432.2 622Q433.4 624.3 432.1 626.6Q430.7 628.8 429.4 630.4Q428.1 631.9 426.4 631.5Q424.7 631.2 423.1 630.2Q421.4 629.3 421 626.8Q420.6 624.3 421 621.8Q421.4 619.3 422.8 617.3Q424.2 615.2 425.9 617.2Q427.5 619.1 429.2 619.4Q430.9 619.6 432.2 622Z" fill="#fff"/><path d="M432.1 610.9Q432.3 613.8 431.2 615.8Q430.1 617.9 429 619.6Q427.9 621.3 426.3 620.9Q424.7 620.4 422.7 620Q420.6 619.6 421 616.7Q421.3 613.8 421.5 611.5Q421.7 609.1 423 607.4Q424.4 605.6 425.9 607.2Q427.4 608.9 429.7 608.4Q432 607.9 432.1 610.9Z" fill="#fff"/><path d="M472.9 623.8Q474.9 626.5 473.4 629.7Q471.9 632.9 469.6 633.9Q467.2 634.8 464.9 635.9Q462.5 636.9 461.6 633.8Q460.7 630.6 458.4 628.6Q456.1 626.5 456.3 622.4Q456.4 618.3 459.8 618.7Q463.3 619.1 465.2 618.8Q467.1 618.5 469.1 619.8Q471 621 472.9 623.8Z" fill="#fff"/><path d="M469.9 619.9Q470.3 620.8 470.5 622.3Q470.7 623.9 469.6 624.6Q468.5 625.3 467.3 625.6Q466 625.9 465.6 624.4Q465.1 622.9 464.5 621.9Q463.9 620.8 464.2 619.5Q464.5 618.2 465.3 617.3Q466.2 616.5 467.6 615.7Q468.9 615 469.2 617Q469.4 619 469.9 619.9Z" fill="#fff"/><path d="M474.4 625.7Q475.1 627.5 474.5 629.5Q474 631.4 472.6 631.9Q471.1 632.3 470.1 631.9Q469 631.6 467.3 631.8Q465.5 631.9 465.6 629.7Q465.6 627.5 466 625.8Q466.5 624.1 467.5 622.7Q468.5 621.4 469.8 622.4Q471 623.5 472.3 623.7Q473.6 623.9 474.4 625.7Z" fill="#fff"/><path d="M414.3 652.6Q412.9 657 412.5 660Q412 662.9 409.8 664.8Q407.7 666.6 404.2 669Q400.7 671.4 398.3 667.9Q395.8 664.5 397.4 660.8Q399.1 657 397 653Q394.9 648.9 398.5 648.1Q402.1 647.4 405 647Q407.9 646.5 411.8 647.4Q415.7 648.2 414.3 652.6Z" fill="#fff"/><path d="M407.1 662.2Q407.7 663.8 407.6 665.8Q407.5 667.9 405.7 668Q403.9 668.1 402.7 668.1Q401.5 668.2 399.6 668.1Q397.8 668 398.3 665.9Q398.8 663.8 398.7 662Q398.5 660.2 399.8 658.9Q401 657.6 402.4 658.6Q403.8 659.7 405.1 660.1Q406.4 660.5 407.1 662.2Z" fill="#fff"/><path d="M406.2 660.2Q406.5 661.9 405.1 662.9Q403.6 663.9 403 665.5Q402.3 667.1 400 667.4Q397.8 667.8 396.6 666.2Q395.5 664.6 394.5 663.2Q393.5 661.9 394.7 660.6Q395.9 659.4 397.1 658.4Q398.3 657.4 400.4 656.9Q402.4 656.3 404.2 657.5Q405.9 658.6 406.2 660.2Z" fill="#fff"/><path d="M453.7 646.7Q457 647.7 455.6 650Q454.2 652.3 452.1 653.7Q449.9 655.1 447.4 654.9Q444.9 654.7 443.6 652.9Q442.4 651.1 440.7 649.4Q439.1 647.7 440.5 645.9Q441.9 644 442.9 641.1Q444 638.2 446.9 639.4Q449.9 640.6 450.1 643.2Q450.3 645.8 453.7 646.7Z" fill="#fff"/><path d="M455.9 644.4Q455.7 645.4 455.4 646.2Q455.2 647 454.1 647.7Q453.1 648.3 451.4 648.8Q449.6 649.3 448.5 648.3Q447.5 647.3 448 646.3Q448.6 645.4 448 644.4Q447.3 643.4 448.6 642.8Q450 642.2 451.6 642.2Q453.2 642.3 454.6 642.8Q456 643.3 455.9 644.4Z" fill="#fff"/><path d="M446.8 646.4Q447.4 647.5 446 648.1Q444.5 648.8 444 649.5Q443.5 650.2 442.3 650.5Q441.1 650.8 440 650.3Q438.8 649.7 438.7 648.6Q438.6 647.5 439.1 646.7Q439.7 645.9 440.4 645.1Q441.1 644.3 442.3 644.7Q443.4 645.1 444.7 645.2Q446.1 645.3 446.8 646.4Z" fill="#fff"/><path d="M498.9 613.1Q499 615 498.9 617Q498.8 619 496.5 619.4Q494.2 619.8 492.4 619.6Q490.7 619.5 487.1 620Q483.5 620.5 485 617.8Q486.4 615 487.3 613.7Q488.1 612.4 489 610.4Q489.9 608.5 492.2 609Q494.5 609.5 496.6 610.3Q498.8 611.1 498.9 613.1Z" fill="#fff"/><path d="M493 616.7Q493.5 617.7 492.9 618.5Q492.3 619.4 491.2 619.6Q490 619.8 489.1 620Q488.1 620.2 486.9 619.9Q485.6 619.6 485.7 618.6Q485.7 617.7 485.6 616.7Q485.6 615.7 486.8 615.4Q488 615.1 489 615.4Q489.9 615.8 491.2 615.8Q492.5 615.8 493 616.7Z" fill="#fff"/><path d="M495.1 610.4Q494.9 611.2 495 612Q495 612.8 494.2 613.5Q493.4 614.2 492.2 613.9Q491.1 613.7 490.3 613.1Q489.6 612.6 489.4 611.9Q489.2 611.2 489 610.3Q488.8 609.4 489.9 609Q491 608.6 492 608.8Q493.1 609 494.1 609.3Q495.2 609.6 495.1 610.4Z" fill="#fff"/></g><path d="M382.1 616.1Q382.1 593.9 400.5 593.9Q418.8 593.9 415.7 598.2Q412.5 602.5 408.1 607.9Q403.6 613.2 399.8 620.4Q396 627.6 391.6 632.3Q387.1 636.9 384.6 637.7Q382.1 638.4 382.1 616.1Z" fill="#f4f5f8" stroke="#a8acd4" stroke-width="2.4" /></g><rect x="384.6" y="595.3" width="126.80" height="71.80" fill="none" stroke="#555" stroke-width="1.1"/>
<g clip-path="url(#cH12)"><rect x="514.3" y="595.3" width="126.30" height="71.80" fill="#fafafb"/><rect x="508.29999999999995" y="589.3" width="138.30" height="83.80" fill="url(#nm)" filter="url(#wob2)" opacity="1"/><rect x="514.3" y="595.3" width="126.30" height="71.80" fill="url(#bd)" opacity="0.6"/><g filter="url(#hb)"><path d="M550.5 612.1Q550.4 615.4 549.7 618Q548.9 620.7 547.6 624.8Q546.2 628.9 542.8 626.4Q539.5 623.9 537 622.6Q534.4 621.3 532.8 618.4Q531.1 615.4 533.4 612.9Q535.6 610.4 537.2 607.4Q538.7 604.3 542 604.6Q545.3 605 548 606.9Q550.7 608.8 550.5 612.1Z" fill="#fff"/><path d="M543.3 618.6Q543.3 620.5 542.6 621.8Q541.8 623.2 540.7 624.3Q539.7 625.4 538.2 625Q536.7 624.5 535.5 623.9Q534.2 623.3 533.5 621.9Q532.7 620.5 532.9 618.7Q533.1 616.9 534.9 616.7Q536.8 616.6 537.9 616.9Q539.1 617.3 541.2 617Q543.3 616.7 543.3 618.6Z" fill="#fff"/><path d="M546.6 620.6Q546.7 622 547.8 624.2Q548.9 626.5 546.7 627Q544.4 627.6 542.6 627.3Q540.8 626.9 538.9 626.4Q536.9 625.9 537.7 623.9Q538.4 622 538 620.3Q537.5 618.6 538.8 616.9Q540.1 615.2 542.3 615.7Q544.5 616.2 545.5 617.7Q546.5 619.3 546.6 620.6Z" fill="#fff"/><path d="M528.2 620.9Q529.8 622.9 530.1 626.6Q530.5 630.3 527.5 631.3Q524.4 632.3 521.9 632.3Q519.3 632.3 517.3 630.4Q515.4 628.6 514.1 625.7Q512.8 622.9 514.2 620.3Q515.7 617.6 517.4 615.2Q519.1 612.8 522.2 611.8Q525.2 610.8 525.9 614.8Q526.6 618.9 528.2 620.9Z" fill="#fff"/><path d="M521.1 620.2Q521 622.2 520.8 624Q520.6 625.7 519.5 627.6Q518.5 629.5 516.8 628.5Q515.1 627.5 514.2 626.2Q513.4 624.9 512.9 623.6Q512.3 622.2 511.5 619.8Q510.7 617.3 512.8 616.7Q514.8 616.1 516.2 617.4Q517.5 618.7 519.4 618.5Q521.2 618.2 521.1 620.2Z" fill="#fff"/><path d="M530.8 618.2Q531.8 619.6 531 621.2Q530.2 622.9 529.3 624.5Q528.3 626.2 526.4 626.4Q524.6 626.5 523.6 624.7Q522.7 622.9 522.8 621.3Q522.9 619.6 522.7 617.9Q522.5 616.1 523.3 613.7Q524.2 611.3 526.1 612.7Q528 614.1 528.9 615.5Q529.7 616.8 530.8 618.2Z" fill="#fff"/><path d="M552.9 652.4Q556.7 656 552.7 659.4Q548.7 662.8 545.2 665.3Q541.8 667.8 536.9 668.2Q532 668.5 530.1 664.8Q528.2 661.2 523.3 658.6Q518.5 656 520 651.4Q521.5 646.9 527.2 646.3Q532.8 645.6 536.9 645.9Q541 646.2 545.1 647.5Q549.2 648.9 552.9 652.4Z" fill="#fff"/><path d="M549.2 646.8Q551 648.6 548.1 649.7Q545.1 650.9 544 652.3Q543 653.7 540.5 654Q538.1 654.2 536.5 652.9Q534.9 651.6 533.7 650.1Q532.5 648.6 533.2 646.9Q534 645.2 536 644.1Q538.1 643 540.1 644.1Q542.2 645.1 544.8 645.1Q547.4 645.1 549.2 646.8Z" fill="#fff"/><path d="M551.4 658.7Q551.2 660.7 550.8 662.4Q550.5 664 549.2 666.1Q547.9 668.2 545.2 667.5Q542.5 666.8 540.4 665.7Q538.2 664.7 537.3 662.7Q536.3 660.7 538.4 659.4Q540.4 658 541.4 656.2Q542.4 654.5 545.2 653.6Q548 652.8 549.9 654.7Q551.7 656.7 551.4 658.7Z" fill="#fff"/><path d="M589.2 656Q588.1 659.6 585.9 661.1Q583.7 662.7 583 665.9Q582.3 669 579.1 667.9Q576 666.8 572.6 666.2Q569.1 665.6 568.3 662.6Q567.4 659.6 570.1 657.7Q572.7 655.8 574.3 654Q575.9 652.2 578.7 652.1Q581.5 652 585.9 652.2Q590.2 652.4 589.2 656Z" fill="#fff"/><path d="M579.3 654Q579.9 655.3 579.7 656.8Q579.5 658.2 578.1 659.2Q576.7 660.2 574.7 660.8Q572.6 661.5 571.6 659.8Q570.5 658.1 569.7 656.7Q568.8 655.3 570.1 654.1Q571.3 653 572.3 651.8Q573.2 650.7 575.4 649.3Q577.6 647.9 578.2 650.3Q578.8 652.8 579.3 654Z" fill="#fff"/><path d="M584.9 663.2Q584.8 664.5 585.2 666.1Q585.7 667.6 584.3 668.8Q583 670 581.5 668.9Q580 667.8 578.2 667.7Q576.5 667.7 576.2 666.1Q575.8 664.5 577 663.5Q578.1 662.5 578.7 661Q579.3 659.4 581.1 659.4Q582.9 659.3 583.9 660.6Q585 661.9 584.9 663.2Z" fill="#fff"/><path d="M622.4 644.7Q624 647.4 622.1 649.8Q620.2 652.2 618.7 655Q617.2 657.9 614.5 656.6Q611.7 655.4 610.2 653.5Q608.6 651.7 606.4 649.5Q604.1 647.4 605.4 644.5Q606.7 641.6 609 639.7Q611.2 637.8 613.7 639.1Q616.2 640.3 618.5 641.2Q620.8 642.1 622.4 644.7Z" fill="#fff"/><path d="M622.2 649.1Q622.5 650.6 622.3 652.2Q622.1 653.8 620.8 653.8Q619.4 653.9 618.3 654.8Q617.2 655.7 615.9 654.9Q614.5 654.2 614.8 652.4Q615.1 650.6 615.2 649.2Q615.3 647.8 616.4 647.1Q617.4 646.5 618.7 646.1Q619.9 645.6 620.9 646.6Q622 647.6 622.2 649.1Z" fill="#fff"/><path d="M623.2 643.8Q624.5 644.7 623.7 646.1Q623 647.4 621.7 648Q620.3 648.7 619.3 647.7Q618.2 646.7 616.5 647.1Q614.7 647.5 613.9 646.1Q613.1 644.7 614.6 643.8Q616.1 642.9 616.7 641.6Q617.3 640.2 618.6 641Q620 641.8 621 642.3Q621.9 642.8 623.2 643.8Z" fill="#fff"/><path d="M573.7 623.1Q575.6 625.1 573.4 626.9Q571.2 628.6 569.8 630.2Q568.3 631.7 566.2 631.4Q564.1 631.1 562.3 630Q560.5 629 559.3 627.1Q558.2 625.1 559.1 623Q560.1 620.9 561.8 619.2Q563.5 617.6 565.5 619.1Q567.6 620.7 569.7 620.9Q571.8 621.1 573.7 623.1Z" fill="#fff"/><path d="M571 620.2Q571.2 621.2 570.8 622.2Q570.4 623.1 569.8 624Q569.2 624.9 568.1 625.3Q567 625.8 566.5 624.5Q566 623.1 565.4 622.2Q564.7 621.2 565.3 620.3Q565.9 619.3 566.7 618.7Q567.4 618.2 568.5 617.3Q569.5 616.4 570.1 617.7Q570.7 619.1 571 620.2Z" fill="#fff"/><path d="M573.3 620.4Q573.7 621.7 573.4 623Q573 624.3 571.5 624.5Q570 624.7 568.9 624.7Q567.8 624.7 565.9 624.7Q564.1 624.7 564.4 623.2Q564.7 621.7 564.9 620.5Q565.1 619.3 566.3 618.6Q567.4 617.8 568.7 618.3Q570 618.7 571.5 618.9Q573 619.1 573.3 620.4Z" fill="#fff"/></g><path d="M607.8 624Q605.2 616.8 610.3 614.7Q615.3 612.5 621.7 614.7Q628 616.8 629.9 622.2Q631.8 627.6 627.3 630.8Q622.9 634.1 616.6 632.6Q610.3 631.2 607.8 624Z" fill="#f4f5f2" stroke="#b0b4d8" stroke-width="1.8" /><path d="M605.2 600.3Q602.7 596.7 612.2 598.2Q621.7 599.6 632.4 600.3Q643.1 601 643.1 605.4Q643.1 609.7 634.3 608.9Q625.4 608.2 616.6 606.1Q607.8 603.9 605.2 600.3Z" fill="#fafafb" stroke="#b0b4d8" stroke-width="1.5" /></g><rect x="514.3" y="595.3" width="126.30" height="71.80" fill="none" stroke="#555" stroke-width="1.1"/>
<path d="M146.2 102.6H166.2" stroke="#666" stroke-width="0.8"/>
<text x="156.2" y="101.2" font-size="4.6" text-anchor="middle" fill="#444" style="stroke:#444;stroke-width:0.1px">100 μm</text>
<path d="M258.5 416.5H278.5" stroke="#666" stroke-width="0.8"/>
<text x="268.5" y="415.1" font-size="4.6" text-anchor="middle" fill="#444" style="stroke:#444;stroke-width:0.1px">100 μm</text>
<path d="M258.5 588H278.5" stroke="#666" stroke-width="0.8"/>
<text x="268.5" y="586.6" font-size="4.6" text-anchor="middle" fill="#444" style="stroke:#444;stroke-width:0.1px">100 μm</text>
<path d="M23.5 25.4V131.3" stroke="#1a1a1a" stroke-width="1.25" stroke-dasharray="3.1 1.6"/>
<path d="M23.5 131.3V183.3M22.9 25.4H31.8M22.9 52.7H31.8M22.9 79.8H31.8M22.9 131.3H31.8M22.9 183.3H31.8" stroke="#1a1a1a" stroke-width="1.25" fill="none"/>
<text x="21.4" y="28.7" font-size="9.6" text-anchor="end" fill="#1a1a1a">−3d</text>
<text x="21.4" y="56" font-size="9.6" text-anchor="end" fill="#1a1a1a">−2d</text>
<text x="21.4" y="83.1" font-size="9.6" text-anchor="end" fill="#1a1a1a">−1d</text>
<text x="7.6" y="134.7" font-size="9.6" fill="#1a1a1a">0h</text>
<text x="4.5" y="186.8" font-size="9.6" fill="#1a1a1a">12h</text>
<path d="M37.6 25.4H48" stroke="#5fae5f" stroke-width="1.1"/><path d="M36.6 25.4L41.8 22.8L40.6 25.4L41.8 28Z" fill="#5fae5f"/>
<path d="M37.6 52.7H48" stroke="#5fae5f" stroke-width="1.1"/><path d="M36.6 52.7L41.8 50.1L40.6 52.7L41.8 55.3Z" fill="#5fae5f"/>
<path d="M37.6 79.8H48" stroke="#5fae5f" stroke-width="1.1"/><path d="M36.6 79.8L41.8 77.2L40.6 79.8L41.8 82.4Z" fill="#5fae5f"/>
<path d="M37 131.3H47" stroke="#e03a3a" stroke-width="1.1"/><path d="M36 131.3L41.2 128.7L40 131.3L41.2 133.9Z" fill="#e03a3a"/>
<path d="M37 183.3H47" stroke="#1a1a1a" stroke-width="1.1"/><path d="M36 183.3L41.2 180.7L40 183.3L41.2 185.9Z" fill="#1a1a1a"/>
<g transform="translate(61.2,34)"><path d="M0.1 7.8L4.2 1.8C4.6 0.8 5.4 0.2 6 0.8L7.2 2.6C9.5 2 12 1.6 14.5 2.2C18.5 3.2 21 7 21 11C21 14.2 19.8 16.2 18 16.6L9.5 16.6C8.3 16.6 7.8 15.2 7.2 14C5.8 13.2 4.6 12.6 3.6 11.8C2.2 11 0.6 9.6 0.1 7.8Z" fill="#4c4847"/>
<path d="M19.5 16.3C25 16.7 31 16.1 36 16.7C38.6 17.1 39.9 18.6 39.6 20.6" fill="none" stroke="#c48a84" stroke-width="0.8"/>
<path d="M4.5 16.5H10" stroke="#c48a84" stroke-width="0.7"/>
<ellipse cx="7.6" cy="3.4" rx="1.3" ry="1.7" fill="#d39c9c"/>
<circle cx="3.7" cy="5.8" r="0.65" fill="#1e1e1e"/>
<ellipse cx="2.8" cy="10.6" rx="1.3" ry="0.7" fill="#dca4a4"/>
<ellipse cx="0.4" cy="7.9" rx="0.5" ry="0.4" fill="#d49a9a"/></g>
<g transform="translate(63.8,116.9)"><path d="M0.1 7.8L4.2 1.8C4.6 0.8 5.4 0.2 6 0.8L7.2 2.6C9.5 2 12 1.6 14.5 2.2C18.5 3.2 21 7 21 11C21 14.2 19.8 16.2 18 16.6L9.5 16.6C8.3 16.6 7.8 15.2 7.2 14C5.8 13.2 4.6 12.6 3.6 11.8C2.2 11 0.6 9.6 0.1 7.8Z" fill="#4c4847"/>
<path d="M19.5 16.3C25 16.7 31 16.1 36 16.7C38.6 17.1 39.9 18.6 39.6 20.6" fill="none" stroke="#c48a84" stroke-width="0.8"/>
<path d="M4.5 16.5H10" stroke="#c48a84" stroke-width="0.7"/>
<ellipse cx="7.6" cy="3.4" rx="1.3" ry="1.7" fill="#d39c9c"/>
<circle cx="3.7" cy="5.8" r="0.65" fill="#1e1e1e"/>
<ellipse cx="2.8" cy="10.6" rx="1.3" ry="0.7" fill="#dca4a4"/>
<ellipse cx="0.4" cy="7.9" rx="0.5" ry="0.4" fill="#d49a9a"/></g>
<g transform="translate(81.8,39.9) rotate(-43.7)"><path d="M0 0H7.2" stroke="#3d8c4f" stroke-width="0.55"/><path d="M6.0 -0.9H7.2V0.9H6.0Z" fill="#3d8c4f"/><rect x="7.2" y="-1.75" width="17.0" height="3.5" fill="#f4f8f4" stroke="#3d8c4f" stroke-width="0.6"/><rect x="7.6000000000000005" y="-1.3" width="7.14" height="2.6" fill="#7cc87a"/><path d="M15.7 -1.75V-0.6" stroke="#3d8c4f" stroke-width="0.4"/><path d="M17.57 -1.75V-0.6" stroke="#3d8c4f" stroke-width="0.4"/><path d="M19.44 -1.75V-0.6" stroke="#3d8c4f" stroke-width="0.4"/><path d="M21.31 -1.75V-0.6" stroke="#3d8c4f" stroke-width="0.4"/><path d="M24.2 -3V3" stroke="#3d8c4f" stroke-width="1.1"/><path d="M24.2 0H28.6" stroke="#3d8c4f" stroke-width="0.9"/><path d="M28.6 -2.4V2.4" stroke="#3d8c4f" stroke-width="1.2"/></g>
<g transform="translate(82.7,124) rotate(-44.5)"><path d="M0 0H7.8" stroke="#6a4fb0" stroke-width="0.55"/><path d="M6.6 -0.9H7.8V0.9H6.6Z" fill="#6a4fb0"/><rect x="7.8" y="-1.75" width="18.4" height="3.5" fill="#f4f8f4" stroke="#6a4fb0" stroke-width="0.6"/><rect x="8.2" y="-1.3" width="7.727999999999999" height="2.6" fill="#9b80d4"/><path d="M17 -1.75V-0.6" stroke="#6a4fb0" stroke-width="0.4"/><path d="M19.02 -1.75V-0.6" stroke="#6a4fb0" stroke-width="0.4"/><path d="M21.05 -1.75V-0.6" stroke="#6a4fb0" stroke-width="0.4"/><path d="M23.07 -1.75V-0.6" stroke="#6a4fb0" stroke-width="0.4"/><path d="M26.2 -3V3" stroke="#6a4fb0" stroke-width="1.1"/><path d="M26.2 0H30.8" stroke="#6a4fb0" stroke-width="0.9"/><path d="M30.8 -2.4V2.4" stroke="#6a4fb0" stroke-width="1.2"/></g>
<text x="42.9" y="69.3" font-size="10" fill="#1a1a1a"><tspan font-style="italic">i.p.</tspan> NIM 10 mg/kg</text>
<text x="67" y="145.9" font-size="10" fill="#1a1a1a"><tspan font-style="italic">i.p.</tspan> LPS</text>
<text x="60.3" y="186" font-size="10" fill="#1a1a1a">Endpoint</text>
<path d="M75.6 158.6C73 160 70.5 166 69.8 175.3C72 175.6 75 174.2 77.6 172.6L77.6 165C77.6 162 77 159.5 75.6 158.6Z" fill="#ddaab6"/>
<path d="M82.6 158.6C85.4 160 88.2 166 88.8 175.6C86.4 175.8 83.4 174.2 80.6 172.6L80.6 165C80.6 162 81.2 159.5 82.6 158.6Z" fill="#ddaab6"/>
<path d="M75.6 158.6C73 160 70.5 166 69.8 175.3M82.6 158.6C85.4 160 88.2 166 88.8 175.6" fill="none" stroke="#c88898" stroke-width="0.5"/>
<path d="M77.3 161.6h0.01M84.2 162.7h0.01M85.3 172.3h0.01M83.5 173.1h0.01M87.3 173.3h0.01M81.1 166.1h0.01M81.7 163.6h0.01M75.9 168.2h0.01M74.4 164.5h0.01M86.6 174.8h0.01M77.6 174.6h0.01M75.4 162.2h0.01M76.1 159.2h0.01M75.4 160.6h0.01M74.6 175.5h0.01M74.5 165.8h0.01M85.4 167.2h0.01M74.3 173.4h0.01M84.6 171.3h0.01M86.6 174.3h0.01M84.8 169.6h0.01M82.1 170.3h0.01M88.0 174.9h0.01M81.8 168.4h0.01M85.0 171.9h0.01M86.5 171.8h0.01M86.0 169.0h0.01M84.6 164.1h0.01M72.1 169.2h0.01M73.1 173.4h0.01" stroke="#f0d4da" stroke-width="0.9" stroke-linecap="round"/>
<path d="M87.0 172.2h0.01M74.0 174.3h0.01M75.7 169.3h0.01M81.2 170.1h0.01M86.3 173.0h0.01M75.2 167.8h0.01M76.6 171.3h0.01M84.2 169.2h0.01M73.3 166.6h0.01M83.6 174.8h0.01M81.5 172.5h0.01M77.1 174.9h0.01M84.5 165.0h0.01M82.5 161.5h0.01M84.3 165.8h0.01M74.6 173.7h0.01M74.5 162.4h0.01M86.7 169.8h0.01M73.9 173.4h0.01M76.2 169.8h0.01M85.1 167.7h0.01M75.0 174.2h0.01M82.4 159.7h0.01M83.8 174.3h0.01M82.4 164.5h0.01M81.0 167.1h0.01M84.2 167.6h0.01M74.3 167.0h0.01M75.6 172.8h0.01" stroke="#c48494" stroke-width="0.7" stroke-linecap="round"/>
<path d="M79.1 154.2V165.5" stroke="#4d6fae" stroke-width="1.6" fill="none"/>
<rect x="77.9" y="153.4" width="2.4" height="1.3" fill="#4a6cac"/>
</svg></body></html>
